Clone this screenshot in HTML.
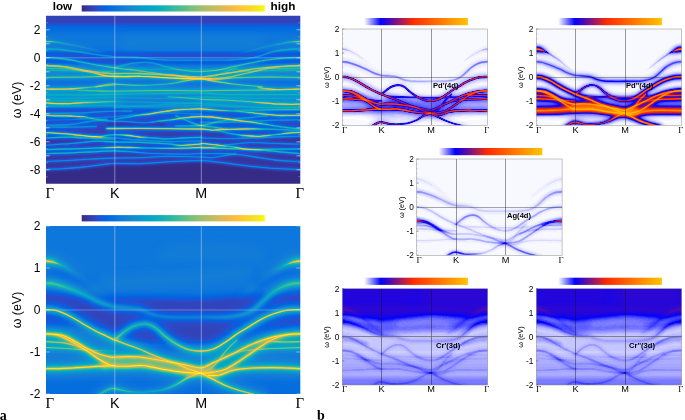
<!DOCTYPE html>
<html><head><meta charset="utf-8"><title>Spectral functions</title>
<style>html,body{margin:0;padding:0;background:#fff}svg{display:block}text{font-family:"Liberation Sans",sans-serif;fill:#000}.se{font-family:"Liberation Serif",serif}</style>
</head><body>
<svg width="685" height="420" viewBox="0 0 685 420">
<defs>
<linearGradient id="cbp" x1="0" y1="0" x2="1" y2="0"><stop offset="0.0000" stop-color="#352a87"/><stop offset="0.0317" stop-color="#3637a0"/><stop offset="0.0635" stop-color="#3243ba"/><stop offset="0.0952" stop-color="#2053d4"/><stop offset="0.1270" stop-color="#0363e1"/><stop offset="0.1587" stop-color="#046de0"/><stop offset="0.1905" stop-color="#0d75dc"/><stop offset="0.2222" stop-color="#127dd8"/><stop offset="0.2540" stop-color="#1485d4"/><stop offset="0.2857" stop-color="#108ed2"/><stop offset="0.3175" stop-color="#0998d1"/><stop offset="0.3492" stop-color="#06a0cd"/><stop offset="0.3810" stop-color="#06a7c6"/><stop offset="0.4127" stop-color="#0aacbe"/><stop offset="0.4444" stop-color="#15b1b4"/><stop offset="0.4762" stop-color="#25b5a9"/><stop offset="0.5238" stop-color="#42bb98"/><stop offset="0.5556" stop-color="#59bd8c"/><stop offset="0.5873" stop-color="#71bf80"/><stop offset="0.6190" stop-color="#87bf77"/><stop offset="0.6508" stop-color="#9cbf6f"/><stop offset="0.6825" stop-color="#aebe67"/><stop offset="0.7143" stop-color="#c0bc60"/><stop offset="0.7460" stop-color="#d1bb59"/><stop offset="0.7778" stop-color="#e1b952"/><stop offset="0.8095" stop-color="#f1b94a"/><stop offset="0.8413" stop-color="#fdbe3d"/><stop offset="0.8730" stop-color="#fec832"/><stop offset="0.9048" stop-color="#fad32a"/><stop offset="0.9365" stop-color="#f5de21"/><stop offset="0.9683" stop-color="#f5eb18"/><stop offset="1.0000" stop-color="#f9fb0e"/></linearGradient>
<filter id="cm_a1" filterUnits="userSpaceOnUse" x="44.00" y="13.80" width="258.30" height="172.00" color-interpolation-filters="sRGB"><feComponentTransfer><feFuncR type="table" tableValues="0.2081 0.2116 0.2123 0.2081 0.1959 0.1707 0.1253 0.0591 0.0117 0.0060 0.0165 0.0329 0.0498 0.0629 0.0723 0.0779 0.0793 0.0749 0.0641 0.0488 0.0343 0.0265 0.0239 0.0231 0.0228 0.0267 0.0384 0.0590 0.0843 0.1133 0.1453 0.1801 0.2178 0.2586 0.3022 0.3482 0.3953 0.4420 0.4871 0.5300 0.5709 0.6099 0.6473 0.6834 0.7184 0.7525 0.7858 0.8185 0.8507 0.8824 0.9139 0.9450 0.9739 0.9938 0.9990 0.9955 0.9880 0.9789 0.9697 0.9626 0.9589 0.9598 0.9661 0.9763"/><feFuncG type="table" tableValues="0.1663 0.1898 0.2138 0.2386 0.2645 0.2919 0.3242 0.3598 0.3875 0.4086 0.4266 0.4430 0.4586 0.4737 0.4887 0.5040 0.5200 0.5375 0.5570 0.5772 0.5966 0.6137 0.6287 0.6418 0.6535 0.6642 0.6743 0.6838 0.6928 0.7015 0.7098 0.7177 0.7250 0.7317 0.7376 0.7424 0.7459 0.7481 0.7491 0.7491 0.7485 0.7473 0.7456 0.7435 0.7411 0.7384 0.7356 0.7327 0.7299 0.7274 0.7258 0.7261 0.7314 0.7455 0.7653 0.7861 0.8066 0.8271 0.8481 0.8705 0.8949 0.9218 0.9514 0.9831"/><feFuncB type="table" tableValues="0.5292 0.5777 0.6270 0.6771 0.7279 0.7792 0.8303 0.8683 0.8820 0.8828 0.8786 0.8720 0.8641 0.8554 0.8467 0.8384 0.8312 0.8263 0.8240 0.8228 0.8199 0.8135 0.8038 0.7913 0.7768 0.7607 0.7436 0.7254 0.7062 0.6859 0.6646 0.6424 0.6193 0.5954 0.5712 0.5473 0.5244 0.5033 0.4840 0.4661 0.4494 0.4337 0.4188 0.4044 0.3905 0.3768 0.3633 0.3498 0.3360 0.3217 0.3063 0.2886 0.2666 0.2403 0.2164 0.1967 0.1794 0.1633 0.1475 0.1309 0.1132 0.0948 0.0755 0.0538"/></feComponentTransfer></filter>
<clipPath id="cp_a1"><rect x="46.00" y="15.80" width="254.30" height="168.00"/></clipPath>
<filter id="bf_a1_0" filterUnits="userSpaceOnUse" x="-14.0" y="-44.2" width="374.3" height="288.0" color-interpolation-filters="sRGB"><feGaussianBlur stdDeviation="1.50 1.50"/></filter>
<filter id="bf_a1_1" filterUnits="userSpaceOnUse" x="-14.0" y="-44.2" width="374.3" height="288.0" color-interpolation-filters="sRGB"><feGaussianBlur stdDeviation="3.00 3.00"/></filter>
<filter id="bf_a1_2" filterUnits="userSpaceOnUse" x="-14.0" y="-44.2" width="374.3" height="288.0" color-interpolation-filters="sRGB"><feGaussianBlur stdDeviation="5.00 5.00"/></filter>
<filter id="bf_a1_3" filterUnits="userSpaceOnUse" x="-14.0" y="-44.2" width="374.3" height="288.0" color-interpolation-filters="sRGB"><feGaussianBlur stdDeviation="1.30 1.30"/></filter>
<filter id="bf_a1_4" filterUnits="userSpaceOnUse" x="-14.0" y="-44.2" width="374.3" height="288.0" color-interpolation-filters="sRGB"><feGaussianBlur stdDeviation="1.50 1.50"/></filter>
<filter id="bf_a1_5" filterUnits="userSpaceOnUse" x="-14.0" y="-44.2" width="374.3" height="288.0" color-interpolation-filters="sRGB"><feGaussianBlur stdDeviation="2.50 2.50"/></filter>
<filter id="bf_a1_6" filterUnits="userSpaceOnUse" x="-14.0" y="-44.2" width="374.3" height="288.0" color-interpolation-filters="sRGB"><feGaussianBlur stdDeviation="2.50 2.50"/></filter>
<filter id="bf_a1_7" filterUnits="userSpaceOnUse" x="-14.0" y="-44.2" width="374.3" height="288.0" color-interpolation-filters="sRGB"><feGaussianBlur stdDeviation="4.00 4.00"/></filter>
<filter id="bf_a1_8" filterUnits="userSpaceOnUse" x="-14.0" y="-44.2" width="374.3" height="288.0" color-interpolation-filters="sRGB"><feGaussianBlur stdDeviation="1.50 1.50"/></filter>
<filter id="bf_a1_9" filterUnits="userSpaceOnUse" x="-14.0" y="-44.2" width="374.3" height="288.0" color-interpolation-filters="sRGB"><feGaussianBlur stdDeviation="3.00 3.00"/></filter>
<filter id="bf_a1_10" filterUnits="userSpaceOnUse" x="-14.0" y="-44.2" width="374.3" height="288.0" color-interpolation-filters="sRGB"><feGaussianBlur stdDeviation="1.60 1.60"/></filter>
<filter id="bf_a1_11" filterUnits="userSpaceOnUse" x="-14.0" y="-44.2" width="374.3" height="288.0" color-interpolation-filters="sRGB"><feGaussianBlur stdDeviation="1.20 1.20"/></filter>
<filter id="bf_a1_12" filterUnits="userSpaceOnUse" x="-14.0" y="-44.2" width="374.3" height="288.0" color-interpolation-filters="sRGB"><feGaussianBlur stdDeviation="1.20 1.20"/></filter>
<filter id="bf_a1_13" filterUnits="userSpaceOnUse" x="-14.0" y="-44.2" width="374.3" height="288.0" color-interpolation-filters="sRGB"><feGaussianBlur stdDeviation="1.00 1.00"/></filter>
<filter id="bf_a1_14" filterUnits="userSpaceOnUse" x="-14.0" y="-44.2" width="374.3" height="288.0" color-interpolation-filters="sRGB"><feGaussianBlur stdDeviation="1.00 1.00"/></filter>
<filter id="bl_a1_0" filterUnits="userSpaceOnUse" x="16.0" y="-14.2" width="314.3" height="228.0" color-interpolation-filters="sRGB"><feGaussianBlur stdDeviation="2.50"/></filter>
<linearGradient id="g_a1_b1" gradientUnits="userSpaceOnUse" x1="46.00" y1="0" x2="300.30" y2="0"><stop offset="0.000" stop-color="#fff" stop-opacity="0.360"/><stop offset="0.271" stop-color="#fff" stop-opacity="0.360"/><stop offset="0.450" stop-color="#fff" stop-opacity="0.360"/><stop offset="0.611" stop-color="#fff" stop-opacity="0.720"/><stop offset="0.750" stop-color="#fff" stop-opacity="0.400"/><stop offset="0.900" stop-color="#fff" stop-opacity="0.360"/></linearGradient>
<linearGradient id="g_a1_b2" gradientUnits="userSpaceOnUse" x1="46.00" y1="0" x2="300.30" y2="0"><stop offset="0.271" stop-color="#fff" stop-opacity="0.240"/><stop offset="0.450" stop-color="#fff" stop-opacity="0.200"/><stop offset="0.611" stop-color="#fff" stop-opacity="0.360"/><stop offset="1.000" stop-color="#fff" stop-opacity="0.400"/></linearGradient>
<linearGradient id="g_a1_b3" gradientUnits="userSpaceOnUse" x1="46.00" y1="0" x2="300.30" y2="0"><stop offset="0.000" stop-color="#fff" stop-opacity="0.620"/><stop offset="0.100" stop-color="#fff" stop-opacity="0.460"/><stop offset="0.271" stop-color="#fff" stop-opacity="0.520"/><stop offset="0.450" stop-color="#fff" stop-opacity="0.500"/><stop offset="0.611" stop-color="#fff" stop-opacity="0.620"/><stop offset="0.900" stop-color="#fff" stop-opacity="0.460"/><stop offset="1.000" stop-color="#fff" stop-opacity="0.620"/></linearGradient>
<linearGradient id="g_a1_b4" gradientUnits="userSpaceOnUse" x1="46.00" y1="0" x2="300.30" y2="0"><stop offset="0.000" stop-color="#fff" stop-opacity="0.350"/><stop offset="0.150" stop-color="#fff" stop-opacity="0.420"/><stop offset="0.230" stop-color="#fff" stop-opacity="0.800"/><stop offset="0.271" stop-color="#fff" stop-opacity="0.900"/><stop offset="0.450" stop-color="#fff" stop-opacity="0.850"/><stop offset="0.611" stop-color="#fff" stop-opacity="0.920"/><stop offset="0.700" stop-color="#fff" stop-opacity="0.500"/><stop offset="1.000" stop-color="#fff" stop-opacity="0.350"/></linearGradient>
<linearGradient id="g_a1_b5a" gradientUnits="userSpaceOnUse" x1="46.00" y1="0" x2="300.30" y2="0"><stop offset="0.000" stop-color="#fff" stop-opacity="0.420"/><stop offset="1.000" stop-color="#fff" stop-opacity="0.420"/></linearGradient>
<linearGradient id="g_a1_b5b" gradientUnits="userSpaceOnUse" x1="46.00" y1="0" x2="300.30" y2="0"><stop offset="0.000" stop-color="#fff" stop-opacity="0.420"/><stop offset="1.000" stop-color="#fff" stop-opacity="0.420"/></linearGradient>
<linearGradient id="g_a1_b6a" gradientUnits="userSpaceOnUse" x1="46.00" y1="0" x2="300.30" y2="0"><stop offset="0.000" stop-color="#fff" stop-opacity="0.250"/><stop offset="1.000" stop-color="#fff" stop-opacity="0.250"/></linearGradient>
<linearGradient id="g_a1_b6b" gradientUnits="userSpaceOnUse" x1="46.00" y1="0" x2="300.30" y2="0"><stop offset="0.000" stop-color="#fff" stop-opacity="0.250"/><stop offset="1.000" stop-color="#fff" stop-opacity="0.250"/></linearGradient>
<linearGradient id="g_a1_b7a" gradientUnits="userSpaceOnUse" x1="46.00" y1="0" x2="300.30" y2="0"><stop offset="0.000" stop-color="#fff" stop-opacity="0.200"/><stop offset="1.000" stop-color="#fff" stop-opacity="0.200"/></linearGradient>
<linearGradient id="g_a1_b7b" gradientUnits="userSpaceOnUse" x1="46.00" y1="0" x2="300.30" y2="0"><stop offset="0.000" stop-color="#fff" stop-opacity="0.200"/><stop offset="1.000" stop-color="#fff" stop-opacity="0.200"/></linearGradient>
<linearGradient id="g_a1_b8" gradientUnits="userSpaceOnUse" x1="46.00" y1="0" x2="300.30" y2="0"><stop offset="0.200" stop-color="#fff" stop-opacity="0.420"/><stop offset="0.271" stop-color="#fff" stop-opacity="0.420"/><stop offset="0.450" stop-color="#fff" stop-opacity="0.300"/><stop offset="0.611" stop-color="#fff" stop-opacity="0.550"/></linearGradient>
<linearGradient id="g_a1_b9" gradientUnits="userSpaceOnUse" x1="46.00" y1="0" x2="300.30" y2="0"><stop offset="0.000" stop-color="#fff" stop-opacity="0.160"/><stop offset="1.000" stop-color="#fff" stop-opacity="0.160"/></linearGradient>
<linearGradient id="g_a1_b10a" gradientUnits="userSpaceOnUse" x1="46.00" y1="0" x2="300.30" y2="0"><stop offset="0.000" stop-color="#fff" stop-opacity="0.550"/><stop offset="0.040" stop-color="#fff" stop-opacity="0.300"/><stop offset="0.100" stop-color="#fff" stop-opacity="0.140"/><stop offset="0.270" stop-color="#fff" stop-opacity="0.000"/></linearGradient>
<linearGradient id="g_a1_b10b" gradientUnits="userSpaceOnUse" x1="46.00" y1="0" x2="300.30" y2="0"><stop offset="0.730" stop-color="#fff" stop-opacity="0.000"/><stop offset="0.900" stop-color="#fff" stop-opacity="0.140"/><stop offset="0.960" stop-color="#fff" stop-opacity="0.300"/><stop offset="1.000" stop-color="#fff" stop-opacity="0.550"/></linearGradient>
<linearGradient id="g_a1_b11" gradientUnits="userSpaceOnUse" x1="46.00" y1="0" x2="300.30" y2="0"><stop offset="0.000" stop-color="#fff" stop-opacity="0.280"/><stop offset="0.100" stop-color="#fff" stop-opacity="0.200"/><stop offset="0.271" stop-color="#fff" stop-opacity="0.200"/><stop offset="0.450" stop-color="#fff" stop-opacity="0.200"/><stop offset="0.611" stop-color="#fff" stop-opacity="0.200"/><stop offset="0.800" stop-color="#fff" stop-opacity="0.200"/><stop offset="0.900" stop-color="#fff" stop-opacity="0.200"/><stop offset="1.000" stop-color="#fff" stop-opacity="0.280"/></linearGradient>
<linearGradient id="g_a1_b12" gradientUnits="userSpaceOnUse" x1="46.00" y1="0" x2="300.30" y2="0"><stop offset="0.280" stop-color="#fff" stop-opacity="0.000"/><stop offset="0.360" stop-color="#fff" stop-opacity="0.120"/><stop offset="0.740" stop-color="#fff" stop-opacity="0.120"/><stop offset="0.820" stop-color="#fff" stop-opacity="0.000"/></linearGradient>
<linearGradient id="g_a1_L1" gradientUnits="userSpaceOnUse" x1="46.00" y1="0" x2="300.30" y2="0"><stop offset="0.000" stop-color="#fff" stop-opacity="0.740"/><stop offset="0.100" stop-color="#fff" stop-opacity="0.740"/><stop offset="0.160" stop-color="#fff" stop-opacity="0.370"/><stop offset="0.271" stop-color="#fff" stop-opacity="0.370"/></linearGradient>
<linearGradient id="g_a1_L1b" gradientUnits="userSpaceOnUse" x1="46.00" y1="0" x2="300.30" y2="0"><stop offset="0.830" stop-color="#fff" stop-opacity="0.370"/><stop offset="0.900" stop-color="#fff" stop-opacity="0.740"/><stop offset="1.000" stop-color="#fff" stop-opacity="0.740"/></linearGradient>
<linearGradient id="g_a1_L2" gradientUnits="userSpaceOnUse" x1="46.00" y1="0" x2="300.30" y2="0"><stop offset="0.100" stop-color="#fff" stop-opacity="0.200"/><stop offset="0.200" stop-color="#fff" stop-opacity="0.370"/><stop offset="0.271" stop-color="#fff" stop-opacity="0.370"/><stop offset="0.611" stop-color="#fff" stop-opacity="0.370"/><stop offset="0.900" stop-color="#fff" stop-opacity="0.370"/></linearGradient>
<linearGradient id="g_a1_L3" gradientUnits="userSpaceOnUse" x1="46.00" y1="0" x2="300.30" y2="0"><stop offset="0.000" stop-color="#fff" stop-opacity="0.200"/><stop offset="1.000" stop-color="#fff" stop-opacity="0.200"/></linearGradient>
<linearGradient id="g_a1_L4a" gradientUnits="userSpaceOnUse" x1="46.00" y1="0" x2="300.30" y2="0"><stop offset="0.000" stop-color="#fff" stop-opacity="0.800"/><stop offset="0.120" stop-color="#fff" stop-opacity="0.750"/><stop offset="0.190" stop-color="#fff" stop-opacity="0.370"/><stop offset="0.271" stop-color="#fff" stop-opacity="0.200"/></linearGradient>
<linearGradient id="g_a1_L4b" gradientUnits="userSpaceOnUse" x1="46.00" y1="0" x2="300.30" y2="0"><stop offset="0.450" stop-color="#fff" stop-opacity="0.200"/><stop offset="0.611" stop-color="#fff" stop-opacity="0.370"/><stop offset="0.800" stop-color="#fff" stop-opacity="0.370"/><stop offset="0.880" stop-color="#fff" stop-opacity="0.740"/><stop offset="1.000" stop-color="#fff" stop-opacity="0.740"/></linearGradient>
<linearGradient id="g_a1_L5" gradientUnits="userSpaceOnUse" x1="46.00" y1="0" x2="300.30" y2="0"><stop offset="0.000" stop-color="#fff" stop-opacity="0.120"/><stop offset="1.000" stop-color="#fff" stop-opacity="0.120"/></linearGradient>
<linearGradient id="g_a1_L7" gradientUnits="userSpaceOnUse" x1="46.00" y1="0" x2="300.30" y2="0"><stop offset="0.000" stop-color="#fff" stop-opacity="0.200"/><stop offset="1.000" stop-color="#fff" stop-opacity="0.200"/></linearGradient>
<linearGradient id="g_a1_L7b" gradientUnits="userSpaceOnUse" x1="46.00" y1="0" x2="300.30" y2="0"><stop offset="0.740" stop-color="#fff" stop-opacity="0.200"/><stop offset="0.850" stop-color="#fff" stop-opacity="0.370"/><stop offset="1.000" stop-color="#fff" stop-opacity="0.370"/></linearGradient>
<linearGradient id="g_a1_L6" gradientUnits="userSpaceOnUse" x1="46.00" y1="0" x2="300.30" y2="0"><stop offset="0.000" stop-color="#fff" stop-opacity="0.740"/><stop offset="0.130" stop-color="#fff" stop-opacity="0.740"/><stop offset="0.170" stop-color="#fff" stop-opacity="0.370"/><stop offset="0.271" stop-color="#fff" stop-opacity="0.200"/><stop offset="0.400" stop-color="#fff" stop-opacity="0.200"/><stop offset="0.450" stop-color="#fff" stop-opacity="0.370"/><stop offset="0.611" stop-color="#fff" stop-opacity="0.800"/><stop offset="0.750" stop-color="#fff" stop-opacity="0.800"/><stop offset="0.900" stop-color="#fff" stop-opacity="0.370"/><stop offset="1.000" stop-color="#fff" stop-opacity="0.370"/></linearGradient>
<linearGradient id="g_a1_L8" gradientUnits="userSpaceOnUse" x1="46.00" y1="0" x2="300.30" y2="0"><stop offset="0.271" stop-color="#fff" stop-opacity="0.200"/><stop offset="0.350" stop-color="#fff" stop-opacity="0.370"/><stop offset="0.420" stop-color="#fff" stop-opacity="0.740"/><stop offset="0.611" stop-color="#fff" stop-opacity="0.740"/><stop offset="0.750" stop-color="#fff" stop-opacity="0.370"/><stop offset="0.870" stop-color="#fff" stop-opacity="0.740"/><stop offset="1.000" stop-color="#fff" stop-opacity="0.740"/></linearGradient>
<linearGradient id="g_a1_L9" gradientUnits="userSpaceOnUse" x1="46.00" y1="0" x2="300.30" y2="0"><stop offset="0.000" stop-color="#fff" stop-opacity="0.200"/><stop offset="1.000" stop-color="#fff" stop-opacity="0.200"/></linearGradient>
<linearGradient id="g_a1_L10" gradientUnits="userSpaceOnUse" x1="46.00" y1="0" x2="300.30" y2="0"><stop offset="0.230" stop-color="#fff" stop-opacity="0.000"/><stop offset="0.245" stop-color="#fff" stop-opacity="0.740"/><stop offset="0.611" stop-color="#fff" stop-opacity="0.740"/><stop offset="0.800" stop-color="#fff" stop-opacity="0.740"/><stop offset="0.860" stop-color="#fff" stop-opacity="0.370"/><stop offset="1.000" stop-color="#fff" stop-opacity="0.200"/></linearGradient>
<linearGradient id="g_a1_L11" gradientUnits="userSpaceOnUse" x1="46.00" y1="0" x2="300.30" y2="0"><stop offset="0.000" stop-color="#fff" stop-opacity="0.200"/><stop offset="1.000" stop-color="#fff" stop-opacity="0.200"/></linearGradient>
<linearGradient id="g_a1_L12" gradientUnits="userSpaceOnUse" x1="46.00" y1="0" x2="300.30" y2="0"><stop offset="0.500" stop-color="#fff" stop-opacity="0.200"/><stop offset="0.611" stop-color="#fff" stop-opacity="0.370"/><stop offset="0.680" stop-color="#fff" stop-opacity="0.370"/></linearGradient>
<linearGradient id="g_a1_L12b" gradientUnits="userSpaceOnUse" x1="46.00" y1="0" x2="300.30" y2="0"><stop offset="0.500" stop-color="#fff" stop-opacity="0.200"/><stop offset="0.611" stop-color="#fff" stop-opacity="0.370"/><stop offset="0.800" stop-color="#fff" stop-opacity="0.200"/></linearGradient>
<linearGradient id="g_a1_L13" gradientUnits="userSpaceOnUse" x1="46.00" y1="0" x2="300.30" y2="0"><stop offset="0.000" stop-color="#fff" stop-opacity="0.740"/><stop offset="0.100" stop-color="#fff" stop-opacity="0.740"/><stop offset="0.200" stop-color="#fff" stop-opacity="1.000"/><stop offset="0.230" stop-color="#fff" stop-opacity="0.370"/><stop offset="0.271" stop-color="#fff" stop-opacity="0.200"/><stop offset="0.611" stop-color="#fff" stop-opacity="0.200"/></linearGradient>
<linearGradient id="g_a1_L13b" gradientUnits="userSpaceOnUse" x1="46.00" y1="0" x2="300.30" y2="0"><stop offset="0.200" stop-color="#fff" stop-opacity="0.370"/><stop offset="0.271" stop-color="#fff" stop-opacity="0.370"/><stop offset="0.320" stop-color="#fff" stop-opacity="0.740"/><stop offset="0.360" stop-color="#fff" stop-opacity="0.740"/><stop offset="0.400" stop-color="#fff" stop-opacity="0.370"/><stop offset="0.611" stop-color="#fff" stop-opacity="0.370"/></linearGradient>
<linearGradient id="g_a1_L13c" gradientUnits="userSpaceOnUse" x1="46.00" y1="0" x2="300.30" y2="0"><stop offset="0.680" stop-color="#fff" stop-opacity="0.200"/><stop offset="0.750" stop-color="#fff" stop-opacity="0.370"/><stop offset="0.800" stop-color="#fff" stop-opacity="0.740"/><stop offset="0.860" stop-color="#fff" stop-opacity="0.740"/><stop offset="0.900" stop-color="#fff" stop-opacity="0.370"/><stop offset="0.950" stop-color="#fff" stop-opacity="0.740"/><stop offset="1.000" stop-color="#fff" stop-opacity="0.740"/></linearGradient>
<linearGradient id="g_a1_L14" gradientUnits="userSpaceOnUse" x1="46.00" y1="0" x2="300.30" y2="0"><stop offset="0.000" stop-color="#fff" stop-opacity="0.370"/><stop offset="0.120" stop-color="#fff" stop-opacity="0.370"/><stop offset="0.271" stop-color="#fff" stop-opacity="0.200"/></linearGradient>
<linearGradient id="g_a1_L14b" gradientUnits="userSpaceOnUse" x1="46.00" y1="0" x2="300.30" y2="0"><stop offset="0.000" stop-color="#fff" stop-opacity="0.200"/><stop offset="1.000" stop-color="#fff" stop-opacity="0.200"/></linearGradient>
<linearGradient id="g_a1_L15" gradientUnits="userSpaceOnUse" x1="46.00" y1="0" x2="300.30" y2="0"><stop offset="0.000" stop-color="#fff" stop-opacity="0.200"/><stop offset="0.271" stop-color="#fff" stop-opacity="0.370"/><stop offset="0.500" stop-color="#fff" stop-opacity="0.370"/><stop offset="0.550" stop-color="#fff" stop-opacity="0.740"/><stop offset="0.611" stop-color="#fff" stop-opacity="0.740"/></linearGradient>
<linearGradient id="g_a1_L15c" gradientUnits="userSpaceOnUse" x1="46.00" y1="0" x2="300.30" y2="0"><stop offset="0.000" stop-color="#fff" stop-opacity="0.200"/><stop offset="1.000" stop-color="#fff" stop-opacity="0.200"/></linearGradient>
<linearGradient id="g_a1_L16" gradientUnits="userSpaceOnUse" x1="46.00" y1="0" x2="300.30" y2="0"><stop offset="0.000" stop-color="#fff" stop-opacity="0.370"/><stop offset="0.200" stop-color="#fff" stop-opacity="0.370"/><stop offset="0.271" stop-color="#fff" stop-opacity="0.740"/><stop offset="0.320" stop-color="#fff" stop-opacity="0.740"/><stop offset="0.400" stop-color="#fff" stop-opacity="0.370"/><stop offset="0.611" stop-color="#fff" stop-opacity="0.750"/><stop offset="0.750" stop-color="#fff" stop-opacity="0.370"/><stop offset="1.000" stop-color="#fff" stop-opacity="0.370"/></linearGradient>
<linearGradient id="g_a1_L17" gradientUnits="userSpaceOnUse" x1="46.00" y1="0" x2="300.30" y2="0"><stop offset="0.000" stop-color="#fff" stop-opacity="0.370"/><stop offset="0.271" stop-color="#fff" stop-opacity="0.370"/><stop offset="0.400" stop-color="#fff" stop-opacity="0.200"/><stop offset="0.611" stop-color="#fff" stop-opacity="0.200"/></linearGradient>
<linearGradient id="g_a1_L17b" gradientUnits="userSpaceOnUse" x1="46.00" y1="0" x2="300.30" y2="0"><stop offset="0.611" stop-color="#fff" stop-opacity="0.740"/><stop offset="0.680" stop-color="#fff" stop-opacity="0.740"/><stop offset="0.720" stop-color="#fff" stop-opacity="0.370"/><stop offset="0.770" stop-color="#fff" stop-opacity="0.740"/><stop offset="0.820" stop-color="#fff" stop-opacity="0.740"/><stop offset="0.860" stop-color="#fff" stop-opacity="0.370"/><stop offset="1.000" stop-color="#fff" stop-opacity="0.370"/></linearGradient>
<linearGradient id="g_a1_L18" gradientUnits="userSpaceOnUse" x1="46.00" y1="0" x2="300.30" y2="0"><stop offset="0.000" stop-color="#fff" stop-opacity="0.200"/><stop offset="1.000" stop-color="#fff" stop-opacity="0.200"/></linearGradient>
<linearGradient id="g_a1_L18b" gradientUnits="userSpaceOnUse" x1="46.00" y1="0" x2="300.30" y2="0"><stop offset="0.000" stop-color="#fff" stop-opacity="0.200"/><stop offset="1.000" stop-color="#fff" stop-opacity="0.200"/></linearGradient>
<linearGradient id="g_a1_L19" gradientUnits="userSpaceOnUse" x1="46.00" y1="0" x2="300.30" y2="0"><stop offset="0.000" stop-color="#fff" stop-opacity="0.200"/><stop offset="1.000" stop-color="#fff" stop-opacity="0.200"/></linearGradient>
<linearGradient id="g_a1_F1" gradientUnits="userSpaceOnUse" x1="46.00" y1="0" x2="300.30" y2="0"><stop offset="0.000" stop-color="#fff" stop-opacity="0.120"/><stop offset="1.000" stop-color="#fff" stop-opacity="0.120"/></linearGradient>
<linearGradient id="g_a1_F2" gradientUnits="userSpaceOnUse" x1="46.00" y1="0" x2="300.30" y2="0"><stop offset="0.000" stop-color="#fff" stop-opacity="0.120"/><stop offset="1.000" stop-color="#fff" stop-opacity="0.120"/></linearGradient>
<linearGradient id="g_a1_F3" gradientUnits="userSpaceOnUse" x1="46.00" y1="0" x2="300.30" y2="0"><stop offset="0.000" stop-color="#fff" stop-opacity="0.120"/><stop offset="1.000" stop-color="#fff" stop-opacity="0.120"/></linearGradient>
<linearGradient id="g_a1_F4" gradientUnits="userSpaceOnUse" x1="46.00" y1="0" x2="300.30" y2="0"><stop offset="0.000" stop-color="#fff" stop-opacity="0.120"/><stop offset="1.000" stop-color="#fff" stop-opacity="0.120"/></linearGradient>
<linearGradient id="g_a1_F5" gradientUnits="userSpaceOnUse" x1="46.00" y1="0" x2="300.30" y2="0"><stop offset="0.000" stop-color="#fff" stop-opacity="0.200"/><stop offset="1.000" stop-color="#fff" stop-opacity="0.200"/></linearGradient>
<filter id="bl_a1_1" filterUnits="userSpaceOnUse" x="16.0" y="-14.2" width="314.3" height="228.0" color-interpolation-filters="sRGB"><feGaussianBlur stdDeviation="0.90"/></filter>
<filter id="bl_a1_2" filterUnits="userSpaceOnUse" x="16.0" y="-14.2" width="314.3" height="228.0" color-interpolation-filters="sRGB"><feGaussianBlur stdDeviation="0.50"/></filter>
<filter id="cm_a2" filterUnits="userSpaceOnUse" x="44.00" y="224.00" width="258.30" height="172.00" color-interpolation-filters="sRGB"><feComponentTransfer><feFuncR type="table" tableValues="0.2081 0.2116 0.2123 0.2081 0.1959 0.1707 0.1253 0.0591 0.0117 0.0060 0.0165 0.0329 0.0498 0.0629 0.0723 0.0779 0.0793 0.0749 0.0641 0.0488 0.0343 0.0265 0.0239 0.0231 0.0228 0.0267 0.0384 0.0590 0.0843 0.1133 0.1453 0.1801 0.2178 0.2586 0.3022 0.3482 0.3953 0.4420 0.4871 0.5300 0.5709 0.6099 0.6473 0.6834 0.7184 0.7525 0.7858 0.8185 0.8507 0.8824 0.9139 0.9450 0.9739 0.9938 0.9990 0.9955 0.9880 0.9789 0.9697 0.9626 0.9589 0.9598 0.9661 0.9763"/><feFuncG type="table" tableValues="0.1663 0.1898 0.2138 0.2386 0.2645 0.2919 0.3242 0.3598 0.3875 0.4086 0.4266 0.4430 0.4586 0.4737 0.4887 0.5040 0.5200 0.5375 0.5570 0.5772 0.5966 0.6137 0.6287 0.6418 0.6535 0.6642 0.6743 0.6838 0.6928 0.7015 0.7098 0.7177 0.7250 0.7317 0.7376 0.7424 0.7459 0.7481 0.7491 0.7491 0.7485 0.7473 0.7456 0.7435 0.7411 0.7384 0.7356 0.7327 0.7299 0.7274 0.7258 0.7261 0.7314 0.7455 0.7653 0.7861 0.8066 0.8271 0.8481 0.8705 0.8949 0.9218 0.9514 0.9831"/><feFuncB type="table" tableValues="0.5292 0.5777 0.6270 0.6771 0.7279 0.7792 0.8303 0.8683 0.8820 0.8828 0.8786 0.8720 0.8641 0.8554 0.8467 0.8384 0.8312 0.8263 0.8240 0.8228 0.8199 0.8135 0.8038 0.7913 0.7768 0.7607 0.7436 0.7254 0.7062 0.6859 0.6646 0.6424 0.6193 0.5954 0.5712 0.5473 0.5244 0.5033 0.4840 0.4661 0.4494 0.4337 0.4188 0.4044 0.3905 0.3768 0.3633 0.3498 0.3360 0.3217 0.3063 0.2886 0.2666 0.2403 0.2164 0.1967 0.1794 0.1633 0.1475 0.1309 0.1132 0.0948 0.0755 0.0538"/></feComponentTransfer></filter>
<clipPath id="cp_a2"><rect x="46.00" y="226.00" width="254.30" height="168.00"/></clipPath>
<filter id="bf_a2_0" filterUnits="userSpaceOnUse" x="-14.0" y="166.0" width="374.3" height="288.0" color-interpolation-filters="sRGB"><feGaussianBlur stdDeviation="3.50 3.50"/></filter>
<filter id="bf_a2_1" filterUnits="userSpaceOnUse" x="-14.0" y="166.0" width="374.3" height="288.0" color-interpolation-filters="sRGB"><feGaussianBlur stdDeviation="4.00 4.00"/></filter>
<filter id="bf_a2_2" filterUnits="userSpaceOnUse" x="-14.0" y="166.0" width="374.3" height="288.0" color-interpolation-filters="sRGB"><feGaussianBlur stdDeviation="3.00 3.00"/></filter>
<filter id="bf_a2_3" filterUnits="userSpaceOnUse" x="-14.0" y="166.0" width="374.3" height="288.0" color-interpolation-filters="sRGB"><feGaussianBlur stdDeviation="3.00 3.00"/></filter>
<filter id="bf_a2_4" filterUnits="userSpaceOnUse" x="-14.0" y="166.0" width="374.3" height="288.0" color-interpolation-filters="sRGB"><feGaussianBlur stdDeviation="4.00 4.00"/></filter>
<filter id="bf_a2_5" filterUnits="userSpaceOnUse" x="-14.0" y="166.0" width="374.3" height="288.0" color-interpolation-filters="sRGB"><feGaussianBlur stdDeviation="3.00 3.00"/></filter>
<filter id="bf_a2_6" filterUnits="userSpaceOnUse" x="-14.0" y="166.0" width="374.3" height="288.0" color-interpolation-filters="sRGB"><feGaussianBlur stdDeviation="2.20 2.20"/></filter>
<filter id="bl_a2_0" filterUnits="userSpaceOnUse" x="16.0" y="196.0" width="314.3" height="228.0" color-interpolation-filters="sRGB"><feGaussianBlur stdDeviation="5.00"/></filter>
<linearGradient id="g_a2_b1" gradientUnits="userSpaceOnUse" x1="46.00" y1="0" x2="300.30" y2="0"><stop offset="0.000" stop-color="#fff" stop-opacity="0.800"/><stop offset="0.271" stop-color="#fff" stop-opacity="0.750"/><stop offset="0.360" stop-color="#fff" stop-opacity="0.620"/><stop offset="0.500" stop-color="#fff" stop-opacity="0.620"/><stop offset="0.611" stop-color="#fff" stop-opacity="0.950"/><stop offset="0.750" stop-color="#fff" stop-opacity="0.700"/><stop offset="0.900" stop-color="#fff" stop-opacity="0.500"/></linearGradient>
<linearGradient id="g_a2_b2" gradientUnits="userSpaceOnUse" x1="46.00" y1="0" x2="300.30" y2="0"><stop offset="0.271" stop-color="#fff" stop-opacity="0.360"/><stop offset="0.400" stop-color="#fff" stop-opacity="0.320"/><stop offset="0.500" stop-color="#fff" stop-opacity="0.420"/><stop offset="0.611" stop-color="#fff" stop-opacity="0.750"/><stop offset="0.800" stop-color="#fff" stop-opacity="0.850"/><stop offset="1.000" stop-color="#fff" stop-opacity="0.850"/></linearGradient>
<linearGradient id="g_a2_b3" gradientUnits="userSpaceOnUse" x1="46.00" y1="0" x2="300.30" y2="0"><stop offset="0.000" stop-color="#fff" stop-opacity="1.000"/><stop offset="0.100" stop-color="#fff" stop-opacity="0.950"/><stop offset="0.200" stop-color="#fff" stop-opacity="0.850"/><stop offset="0.271" stop-color="#fff" stop-opacity="0.900"/><stop offset="0.450" stop-color="#fff" stop-opacity="0.850"/><stop offset="0.611" stop-color="#fff" stop-opacity="0.850"/><stop offset="0.800" stop-color="#fff" stop-opacity="0.850"/><stop offset="0.900" stop-color="#fff" stop-opacity="0.950"/><stop offset="1.000" stop-color="#fff" stop-opacity="1.000"/></linearGradient>
<linearGradient id="g_a2_b4" gradientUnits="userSpaceOnUse" x1="46.00" y1="0" x2="300.30" y2="0"><stop offset="0.000" stop-color="#fff" stop-opacity="0.500"/><stop offset="0.120" stop-color="#fff" stop-opacity="0.750"/><stop offset="0.220" stop-color="#fff" stop-opacity="1.000"/><stop offset="0.271" stop-color="#fff" stop-opacity="1.000"/><stop offset="0.420" stop-color="#fff" stop-opacity="1.000"/><stop offset="0.500" stop-color="#fff" stop-opacity="0.950"/><stop offset="0.611" stop-color="#fff" stop-opacity="1.000"/><stop offset="0.700" stop-color="#fff" stop-opacity="0.850"/><stop offset="0.880" stop-color="#fff" stop-opacity="0.750"/><stop offset="1.000" stop-color="#fff" stop-opacity="0.500"/></linearGradient>
<linearGradient id="g_a2_b5a" gradientUnits="userSpaceOnUse" x1="46.00" y1="0" x2="300.30" y2="0"><stop offset="0.000" stop-color="#fff" stop-opacity="0.850"/><stop offset="0.200" stop-color="#fff" stop-opacity="0.900"/><stop offset="0.271" stop-color="#fff" stop-opacity="0.950"/></linearGradient>
<linearGradient id="g_a2_b5b" gradientUnits="userSpaceOnUse" x1="46.00" y1="0" x2="300.30" y2="0"><stop offset="0.611" stop-color="#fff" stop-opacity="0.950"/><stop offset="0.800" stop-color="#fff" stop-opacity="0.800"/><stop offset="1.000" stop-color="#fff" stop-opacity="0.850"/></linearGradient>
<linearGradient id="g_a2_b6a" gradientUnits="userSpaceOnUse" x1="46.00" y1="0" x2="300.30" y2="0"><stop offset="0.000" stop-color="#fff" stop-opacity="0.420"/><stop offset="1.000" stop-color="#fff" stop-opacity="0.420"/></linearGradient>
<linearGradient id="g_a2_b6b" gradientUnits="userSpaceOnUse" x1="46.00" y1="0" x2="300.30" y2="0"><stop offset="0.000" stop-color="#fff" stop-opacity="0.420"/><stop offset="1.000" stop-color="#fff" stop-opacity="0.420"/></linearGradient>
<linearGradient id="g_a2_b7a" gradientUnits="userSpaceOnUse" x1="46.00" y1="0" x2="300.30" y2="0"><stop offset="0.000" stop-color="#fff" stop-opacity="0.360"/><stop offset="0.100" stop-color="#fff" stop-opacity="0.300"/><stop offset="0.271" stop-color="#fff" stop-opacity="0.120"/></linearGradient>
<linearGradient id="g_a2_b7b" gradientUnits="userSpaceOnUse" x1="46.00" y1="0" x2="300.30" y2="0"><stop offset="0.711" stop-color="#fff" stop-opacity="0.100"/><stop offset="0.850" stop-color="#fff" stop-opacity="0.300"/><stop offset="1.000" stop-color="#fff" stop-opacity="0.360"/></linearGradient>
<linearGradient id="g_a2_b8" gradientUnits="userSpaceOnUse" x1="46.00" y1="0" x2="300.30" y2="0"><stop offset="0.200" stop-color="#fff" stop-opacity="0.250"/><stop offset="0.271" stop-color="#fff" stop-opacity="0.420"/><stop offset="0.360" stop-color="#fff" stop-opacity="0.200"/><stop offset="0.450" stop-color="#fff" stop-opacity="0.200"/><stop offset="0.520" stop-color="#fff" stop-opacity="0.400"/><stop offset="0.611" stop-color="#fff" stop-opacity="0.800"/></linearGradient>
<linearGradient id="g_a2_b9" gradientUnits="userSpaceOnUse" x1="46.00" y1="0" x2="300.30" y2="0"><stop offset="0.000" stop-color="#fff" stop-opacity="0.300"/><stop offset="1.000" stop-color="#fff" stop-opacity="0.300"/></linearGradient>
<linearGradient id="g_a2_b10a_0" gradientUnits="userSpaceOnUse" x1="46.00" y1="0" x2="300.30" y2="0"><stop offset="0.000" stop-color="#fff" stop-opacity="1.000"/><stop offset="0.025" stop-color="#fff" stop-opacity="1.000"/><stop offset="0.050" stop-color="#fff" stop-opacity="0.500"/><stop offset="0.120" stop-color="#fff" stop-opacity="0.200"/><stop offset="0.270" stop-color="#fff" stop-opacity="0.000"/></linearGradient>
<linearGradient id="g_a2_b10b_0" gradientUnits="userSpaceOnUse" x1="46.00" y1="0" x2="300.30" y2="0"><stop offset="0.730" stop-color="#fff" stop-opacity="0.000"/><stop offset="0.880" stop-color="#fff" stop-opacity="0.200"/><stop offset="0.950" stop-color="#fff" stop-opacity="0.500"/><stop offset="0.975" stop-color="#fff" stop-opacity="1.000"/><stop offset="1.000" stop-color="#fff" stop-opacity="1.000"/></linearGradient>
<linearGradient id="g_a2_b11_0" gradientUnits="userSpaceOnUse" x1="46.00" y1="0" x2="300.30" y2="0"><stop offset="0.000" stop-color="#fff" stop-opacity="0.600"/><stop offset="0.100" stop-color="#fff" stop-opacity="0.440"/><stop offset="0.271" stop-color="#fff" stop-opacity="0.320"/><stop offset="0.450" stop-color="#fff" stop-opacity="0.200"/><stop offset="0.611" stop-color="#fff" stop-opacity="0.200"/><stop offset="0.800" stop-color="#fff" stop-opacity="0.320"/><stop offset="0.900" stop-color="#fff" stop-opacity="0.440"/><stop offset="1.000" stop-color="#fff" stop-opacity="0.600"/></linearGradient>
<linearGradient id="g_a2_b12" gradientUnits="userSpaceOnUse" x1="46.00" y1="0" x2="300.30" y2="0"><stop offset="0.280" stop-color="#fff" stop-opacity="0.000"/><stop offset="0.360" stop-color="#fff" stop-opacity="0.100"/><stop offset="0.740" stop-color="#fff" stop-opacity="0.100"/><stop offset="0.820" stop-color="#fff" stop-opacity="0.000"/></linearGradient>
<filter id="bl_a2_1" filterUnits="userSpaceOnUse" x="16.0" y="196.0" width="314.3" height="228.0" color-interpolation-filters="sRGB"><feGaussianBlur stdDeviation="2.00"/></filter>
<linearGradient id="g_a2_b2_1" gradientUnits="userSpaceOnUse" x1="46.00" y1="0" x2="300.30" y2="0"><stop offset="0.271" stop-color="#fff" stop-opacity="0.792"/><stop offset="0.400" stop-color="#fff" stop-opacity="0.704"/><stop offset="0.500" stop-color="#fff" stop-opacity="0.924"/><stop offset="0.600" stop-color="#fff" stop-opacity="0.718"/><stop offset="0.611" stop-color="#fff" stop-opacity="0.750"/><stop offset="0.800" stop-color="#fff" stop-opacity="0.850"/><stop offset="1.000" stop-color="#fff" stop-opacity="0.850"/></linearGradient>
<linearGradient id="g_a2_b4_1" gradientUnits="userSpaceOnUse" x1="46.00" y1="0" x2="300.30" y2="0"><stop offset="0.000" stop-color="#fff" stop-opacity="0.650"/><stop offset="0.120" stop-color="#fff" stop-opacity="0.975"/><stop offset="0.220" stop-color="#fff" stop-opacity="1.000"/><stop offset="0.271" stop-color="#fff" stop-opacity="1.000"/><stop offset="0.420" stop-color="#fff" stop-opacity="1.000"/><stop offset="0.500" stop-color="#fff" stop-opacity="1.000"/><stop offset="0.611" stop-color="#fff" stop-opacity="1.000"/><stop offset="0.700" stop-color="#fff" stop-opacity="1.000"/><stop offset="0.880" stop-color="#fff" stop-opacity="0.975"/><stop offset="1.000" stop-color="#fff" stop-opacity="0.650"/></linearGradient>
<linearGradient id="g_a2_b10a_1" gradientUnits="userSpaceOnUse" x1="46.00" y1="0" x2="300.30" y2="0"><stop offset="0.000" stop-color="#fff" stop-opacity="1.000"/><stop offset="0.025" stop-color="#fff" stop-opacity="1.000"/><stop offset="0.050" stop-color="#fff" stop-opacity="0.500"/><stop offset="0.120" stop-color="#fff" stop-opacity="0.200"/><stop offset="0.270" stop-color="#fff" stop-opacity="0.000"/></linearGradient>
<linearGradient id="g_a2_b10b_1" gradientUnits="userSpaceOnUse" x1="46.00" y1="0" x2="300.30" y2="0"><stop offset="0.730" stop-color="#fff" stop-opacity="0.000"/><stop offset="0.880" stop-color="#fff" stop-opacity="0.200"/><stop offset="0.950" stop-color="#fff" stop-opacity="0.500"/><stop offset="0.975" stop-color="#fff" stop-opacity="1.000"/><stop offset="1.000" stop-color="#fff" stop-opacity="1.000"/></linearGradient>
<linearGradient id="g_a2_b11_1" gradientUnits="userSpaceOnUse" x1="46.00" y1="0" x2="300.30" y2="0"><stop offset="0.000" stop-color="#fff" stop-opacity="0.900"/><stop offset="0.100" stop-color="#fff" stop-opacity="0.660"/><stop offset="0.271" stop-color="#fff" stop-opacity="0.480"/><stop offset="0.450" stop-color="#fff" stop-opacity="0.300"/><stop offset="0.611" stop-color="#fff" stop-opacity="0.300"/><stop offset="0.800" stop-color="#fff" stop-opacity="0.480"/><stop offset="0.900" stop-color="#fff" stop-opacity="0.660"/><stop offset="1.000" stop-color="#fff" stop-opacity="0.900"/></linearGradient>
<filter id="bl_a2_2" filterUnits="userSpaceOnUse" x="16.0" y="196.0" width="314.3" height="228.0" color-interpolation-filters="sRGB"><feGaussianBlur stdDeviation="0.90"/></filter>
<linearGradient id="g_a2_b1_2" gradientUnits="userSpaceOnUse" x1="46.00" y1="0" x2="300.30" y2="0"><stop offset="0.000" stop-color="#fff" stop-opacity="0.560"/><stop offset="0.271" stop-color="#fff" stop-opacity="0.525"/><stop offset="0.360" stop-color="#fff" stop-opacity="0.434"/><stop offset="0.500" stop-color="#fff" stop-opacity="0.434"/><stop offset="0.611" stop-color="#fff" stop-opacity="0.665"/><stop offset="0.750" stop-color="#fff" stop-opacity="0.490"/><stop offset="0.900" stop-color="#fff" stop-opacity="0.350"/></linearGradient>
<linearGradient id="g_a2_b2_2" gradientUnits="userSpaceOnUse" x1="46.00" y1="0" x2="300.30" y2="0"><stop offset="0.271" stop-color="#fff" stop-opacity="0.612"/><stop offset="0.400" stop-color="#fff" stop-opacity="0.544"/><stop offset="0.500" stop-color="#fff" stop-opacity="0.714"/><stop offset="0.600" stop-color="#fff" stop-opacity="0.503"/><stop offset="0.611" stop-color="#fff" stop-opacity="0.525"/><stop offset="0.800" stop-color="#fff" stop-opacity="0.595"/><stop offset="1.000" stop-color="#fff" stop-opacity="0.595"/></linearGradient>
<linearGradient id="g_a2_b3_2" gradientUnits="userSpaceOnUse" x1="46.00" y1="0" x2="300.30" y2="0"><stop offset="0.000" stop-color="#fff" stop-opacity="1.000"/><stop offset="0.100" stop-color="#fff" stop-opacity="1.000"/><stop offset="0.200" stop-color="#fff" stop-opacity="0.850"/><stop offset="0.271" stop-color="#fff" stop-opacity="1.000"/><stop offset="0.450" stop-color="#fff" stop-opacity="1.000"/><stop offset="0.611" stop-color="#fff" stop-opacity="0.850"/><stop offset="0.800" stop-color="#fff" stop-opacity="0.961"/><stop offset="0.900" stop-color="#fff" stop-opacity="1.000"/><stop offset="1.000" stop-color="#fff" stop-opacity="1.000"/></linearGradient>
<linearGradient id="g_a2_b4_2" gradientUnits="userSpaceOnUse" x1="46.00" y1="0" x2="300.30" y2="0"><stop offset="0.000" stop-color="#fff" stop-opacity="0.500"/><stop offset="0.120" stop-color="#fff" stop-opacity="0.840"/><stop offset="0.200" stop-color="#fff" stop-opacity="1.000"/><stop offset="0.220" stop-color="#fff" stop-opacity="1.000"/><stop offset="0.240" stop-color="#fff" stop-opacity="1.000"/><stop offset="0.271" stop-color="#fff" stop-opacity="1.000"/><stop offset="0.420" stop-color="#fff" stop-opacity="1.000"/><stop offset="0.450" stop-color="#fff" stop-opacity="1.000"/><stop offset="0.500" stop-color="#fff" stop-opacity="1.000"/><stop offset="0.611" stop-color="#fff" stop-opacity="1.000"/><stop offset="0.700" stop-color="#fff" stop-opacity="0.850"/><stop offset="0.880" stop-color="#fff" stop-opacity="0.750"/><stop offset="1.000" stop-color="#fff" stop-opacity="0.500"/></linearGradient>
<linearGradient id="g_a2_b5a_2" gradientUnits="userSpaceOnUse" x1="46.00" y1="0" x2="300.30" y2="0"><stop offset="0.000" stop-color="#fff" stop-opacity="1.000"/><stop offset="0.200" stop-color="#fff" stop-opacity="1.000"/><stop offset="0.271" stop-color="#fff" stop-opacity="1.000"/></linearGradient>
<linearGradient id="g_a2_b5b_2" gradientUnits="userSpaceOnUse" x1="46.00" y1="0" x2="300.30" y2="0"><stop offset="0.611" stop-color="#fff" stop-opacity="1.000"/><stop offset="0.800" stop-color="#fff" stop-opacity="0.960"/><stop offset="1.000" stop-color="#fff" stop-opacity="1.000"/></linearGradient>
<linearGradient id="g_a2_b8_2" gradientUnits="userSpaceOnUse" x1="46.00" y1="0" x2="300.30" y2="0"><stop offset="0.200" stop-color="#fff" stop-opacity="0.375"/><stop offset="0.271" stop-color="#fff" stop-opacity="0.630"/><stop offset="0.360" stop-color="#fff" stop-opacity="0.300"/><stop offset="0.450" stop-color="#fff" stop-opacity="0.300"/><stop offset="0.520" stop-color="#fff" stop-opacity="0.600"/><stop offset="0.611" stop-color="#fff" stop-opacity="1.000"/></linearGradient>
<linearGradient id="g_a2_b10a_2" gradientUnits="userSpaceOnUse" x1="46.00" y1="0" x2="300.30" y2="0"><stop offset="0.000" stop-color="#fff" stop-opacity="0.950"/><stop offset="0.025" stop-color="#fff" stop-opacity="0.600"/><stop offset="0.050" stop-color="#fff" stop-opacity="0.250"/><stop offset="0.100" stop-color="#fff" stop-opacity="0.043"/><stop offset="0.120" stop-color="#fff" stop-opacity="0.015"/><stop offset="0.140" stop-color="#fff" stop-opacity="0.000"/><stop offset="0.270" stop-color="#fff" stop-opacity="0.000"/><stop offset="1.000" stop-color="#fff" stop-opacity="0.000"/></linearGradient>
<linearGradient id="g_a2_b10b_2" gradientUnits="userSpaceOnUse" x1="46.00" y1="0" x2="300.30" y2="0"><stop offset="0.000" stop-color="#fff" stop-opacity="0.000"/><stop offset="0.730" stop-color="#fff" stop-opacity="0.000"/><stop offset="0.860" stop-color="#fff" stop-opacity="0.000"/><stop offset="0.880" stop-color="#fff" stop-opacity="0.015"/><stop offset="0.900" stop-color="#fff" stop-opacity="0.043"/><stop offset="0.950" stop-color="#fff" stop-opacity="0.250"/><stop offset="0.975" stop-color="#fff" stop-opacity="0.600"/><stop offset="1.000" stop-color="#fff" stop-opacity="0.950"/></linearGradient>
<linearGradient id="g_a2_b11_2" gradientUnits="userSpaceOnUse" x1="46.00" y1="0" x2="300.30" y2="0"><stop offset="0.000" stop-color="#fff" stop-opacity="0.480"/><stop offset="0.100" stop-color="#fff" stop-opacity="0.352"/><stop offset="0.271" stop-color="#fff" stop-opacity="0.256"/><stop offset="0.450" stop-color="#fff" stop-opacity="0.160"/><stop offset="0.611" stop-color="#fff" stop-opacity="0.160"/><stop offset="0.800" stop-color="#fff" stop-opacity="0.256"/><stop offset="0.900" stop-color="#fff" stop-opacity="0.352"/><stop offset="1.000" stop-color="#fff" stop-opacity="0.480"/></linearGradient>
<linearGradient id="g_a2_b12_2" gradientUnits="userSpaceOnUse" x1="46.00" y1="0" x2="300.30" y2="0"><stop offset="0.280" stop-color="#fff" stop-opacity="0.000"/><stop offset="0.360" stop-color="#fff" stop-opacity="0.060"/><stop offset="0.740" stop-color="#fff" stop-opacity="0.060"/><stop offset="0.820" stop-color="#fff" stop-opacity="0.000"/></linearGradient>
<filter id="bl_a2_3" filterUnits="userSpaceOnUse" x="16.0" y="196.0" width="314.3" height="228.0" color-interpolation-filters="sRGB"><feGaussianBlur stdDeviation="0.36"/></filter>
<linearGradient id="g_a2_b2_3" gradientUnits="userSpaceOnUse" x1="46.00" y1="0" x2="300.30" y2="0"><stop offset="0.271" stop-color="#fff" stop-opacity="0.162"/><stop offset="0.400" stop-color="#fff" stop-opacity="0.144"/><stop offset="0.500" stop-color="#fff" stop-opacity="0.189"/><stop offset="0.600" stop-color="#fff" stop-opacity="0.718"/><stop offset="0.611" stop-color="#fff" stop-opacity="0.750"/><stop offset="0.800" stop-color="#fff" stop-opacity="0.850"/><stop offset="1.000" stop-color="#fff" stop-opacity="0.850"/></linearGradient>
<linearGradient id="g_a2_b8_3" gradientUnits="userSpaceOnUse" x1="46.00" y1="0" x2="300.30" y2="0"><stop offset="0.200" stop-color="#fff" stop-opacity="0.175"/><stop offset="0.271" stop-color="#fff" stop-opacity="0.294"/><stop offset="0.360" stop-color="#fff" stop-opacity="0.140"/><stop offset="0.450" stop-color="#fff" stop-opacity="0.140"/><stop offset="0.520" stop-color="#fff" stop-opacity="0.280"/><stop offset="0.611" stop-color="#fff" stop-opacity="0.560"/></linearGradient>
<linearGradient id="g_a2_b10a_3" gradientUnits="userSpaceOnUse" x1="46.00" y1="0" x2="300.30" y2="0"><stop offset="0.000" stop-color="#fff" stop-opacity="0.950"/><stop offset="0.025" stop-color="#fff" stop-opacity="0.600"/><stop offset="0.040" stop-color="#fff" stop-opacity="0.390"/><stop offset="0.050" stop-color="#fff" stop-opacity="0.200"/><stop offset="0.080" stop-color="#fff" stop-opacity="0.037"/><stop offset="0.110" stop-color="#fff" stop-opacity="0.000"/><stop offset="0.120" stop-color="#fff" stop-opacity="0.000"/><stop offset="0.270" stop-color="#fff" stop-opacity="0.000"/><stop offset="1.000" stop-color="#fff" stop-opacity="0.000"/></linearGradient>
<linearGradient id="g_a2_b10b_3" gradientUnits="userSpaceOnUse" x1="46.00" y1="0" x2="300.30" y2="0"><stop offset="0.000" stop-color="#fff" stop-opacity="0.000"/><stop offset="0.730" stop-color="#fff" stop-opacity="0.000"/><stop offset="0.880" stop-color="#fff" stop-opacity="0.000"/><stop offset="0.890" stop-color="#fff" stop-opacity="0.000"/><stop offset="0.920" stop-color="#fff" stop-opacity="0.037"/><stop offset="0.950" stop-color="#fff" stop-opacity="0.200"/><stop offset="0.960" stop-color="#fff" stop-opacity="0.390"/><stop offset="0.975" stop-color="#fff" stop-opacity="0.600"/><stop offset="1.000" stop-color="#fff" stop-opacity="0.950"/></linearGradient>
<linearGradient id="g_a2_b11_3" gradientUnits="userSpaceOnUse" x1="46.00" y1="0" x2="300.30" y2="0"><stop offset="0.000" stop-color="#fff" stop-opacity="0.105"/><stop offset="0.100" stop-color="#fff" stop-opacity="0.077"/><stop offset="0.271" stop-color="#fff" stop-opacity="0.056"/><stop offset="0.450" stop-color="#fff" stop-opacity="0.035"/><stop offset="0.611" stop-color="#fff" stop-opacity="0.035"/><stop offset="0.800" stop-color="#fff" stop-opacity="0.056"/><stop offset="0.900" stop-color="#fff" stop-opacity="0.077"/><stop offset="1.000" stop-color="#fff" stop-opacity="0.105"/></linearGradient>
<linearGradient id="cbh" x1="0" y1="0" x2="1" y2="0"><stop offset="0.0000" stop-color="#ffffff"/><stop offset="0.0317" stop-color="#ccccff"/><stop offset="0.0635" stop-color="#9a9aff"/><stop offset="0.0952" stop-color="#6767ff"/><stop offset="0.1270" stop-color="#3535ff"/><stop offset="0.1587" stop-color="#0202ff"/><stop offset="0.1905" stop-color="#1904e6"/><stop offset="0.2222" stop-color="#3308cc"/><stop offset="0.2540" stop-color="#4d0db2"/><stop offset="0.2857" stop-color="#671198"/><stop offset="0.3175" stop-color="#82157d"/><stop offset="0.3492" stop-color="#9c1a63"/><stop offset="0.3810" stop-color="#b61e49"/><stop offset="0.4127" stop-color="#d0222f"/><stop offset="0.4444" stop-color="#ea2715"/><stop offset="0.4762" stop-color="#ff2c00"/><stop offset="0.5238" stop-color="#ff3a00"/><stop offset="0.5556" stop-color="#ff4300"/><stop offset="0.5873" stop-color="#ff4c00"/><stop offset="0.6190" stop-color="#ff5500"/><stop offset="0.6508" stop-color="#ff5f00"/><stop offset="0.6825" stop-color="#ff6800"/><stop offset="0.7143" stop-color="#ff7100"/><stop offset="0.7460" stop-color="#ff7a00"/><stop offset="0.7778" stop-color="#ff8300"/><stop offset="0.8095" stop-color="#ff8d00"/><stop offset="0.8413" stop-color="#ff9600"/><stop offset="0.8730" stop-color="#ff9f00"/><stop offset="0.9048" stop-color="#ffa800"/><stop offset="0.9365" stop-color="#ffb200"/><stop offset="0.9683" stop-color="#ffbb00"/><stop offset="1.0000" stop-color="#ffc400"/></linearGradient>
<filter id="cm_pd1" filterUnits="userSpaceOnUse" x="340.30" y="27.00" width="149.40" height="100.30" color-interpolation-filters="sRGB"><feComponentTransfer><feFuncR type="table" tableValues="1.0000 0.9008 0.8016 0.7024 0.6032 0.5040 0.4048 0.3056 0.2063 0.1071 0.0079 0.0471 0.0983 0.1495 0.2007 0.2519 0.3031 0.3543 0.4055 0.4567 0.5079 0.5591 0.6103 0.6615 0.7127 0.7640 0.8152 0.8664 0.9176 0.9688 1.0000 1.0000 1.0000 1.0000 1.0000 1.0000 1.0000 1.0000 1.0000 1.0000 1.0000 1.0000 1.0000 1.0000 1.0000 1.0000 1.0000 1.0000 1.0000 1.0000 1.0000 1.0000 1.0000 1.0000 1.0000 1.0000 1.0000 1.0000 1.0000 1.0000 1.0000 1.0000 1.0000 1.0000"/><feFuncG type="table" tableValues="1.0000 0.9008 0.8016 0.7024 0.6032 0.5040 0.4048 0.3056 0.2063 0.1071 0.0079 0.0078 0.0162 0.0246 0.0331 0.0415 0.0499 0.0584 0.0668 0.0752 0.0837 0.0921 0.1005 0.1090 0.1174 0.1258 0.1343 0.1427 0.1511 0.1596 0.1718 0.1898 0.2079 0.2260 0.2441 0.2622 0.2803 0.2984 0.3165 0.3345 0.3526 0.3707 0.3888 0.4069 0.4250 0.4431 0.4612 0.4792 0.4973 0.5154 0.5335 0.5516 0.5697 0.5878 0.6058 0.6239 0.6420 0.6601 0.6782 0.6963 0.7144 0.7325 0.7505 0.7686"/><feFuncB type="table" tableValues="1.0000 1.0000 1.0000 1.0000 1.0000 1.0000 1.0000 1.0000 1.0000 1.0000 1.0000 0.9529 0.9017 0.8505 0.7993 0.7481 0.6969 0.6457 0.5945 0.5433 0.4921 0.4409 0.3897 0.3385 0.2873 0.2360 0.1848 0.1336 0.0824 0.0312 0.0000 0.0000 0.0000 0.0000 0.0000 0.0000 0.0000 0.0000 0.0000 0.0000 0.0000 0.0000 0.0000 0.0000 0.0000 0.0000 0.0000 0.0000 0.0000 0.0000 0.0000 0.0000 0.0000 0.0000 0.0000 0.0000 0.0000 0.0000 0.0000 0.0000 0.0000 0.0000 0.0000 0.0000"/></feComponentTransfer></filter>
<clipPath id="cp_pd1"><rect x="342.30" y="29.00" width="145.40" height="96.30"/></clipPath>
<filter id="bf_pd1_0" filterUnits="userSpaceOnUse" x="282.3" y="-31.0" width="265.4" height="216.3" color-interpolation-filters="sRGB"><feGaussianBlur stdDeviation="3.00 3.00"/></filter>
<filter id="bf_pd1_1" filterUnits="userSpaceOnUse" x="282.3" y="-31.0" width="265.4" height="216.3" color-interpolation-filters="sRGB"><feGaussianBlur stdDeviation="3.00 3.00"/></filter>
<filter id="bl_pd1_0" filterUnits="userSpaceOnUse" x="312.3" y="-1.0" width="205.4" height="156.3" color-interpolation-filters="sRGB"><feGaussianBlur stdDeviation="2.00"/></filter>
<linearGradient id="g_pd1_b1" gradientUnits="userSpaceOnUse" x1="342.30" y1="0" x2="487.70" y2="0"><stop offset="0.000" stop-color="#fff" stop-opacity="0.450"/><stop offset="0.200" stop-color="#fff" stop-opacity="0.450"/><stop offset="0.271" stop-color="#fff" stop-opacity="0.400"/><stop offset="0.350" stop-color="#fff" stop-opacity="0.300"/><stop offset="0.450" stop-color="#fff" stop-opacity="0.220"/><stop offset="0.611" stop-color="#fff" stop-opacity="0.220"/><stop offset="0.700" stop-color="#fff" stop-opacity="0.200"/><stop offset="0.850" stop-color="#fff" stop-opacity="0.170"/></linearGradient>
<linearGradient id="g_pd1_b2" gradientUnits="userSpaceOnUse" x1="342.30" y1="0" x2="487.70" y2="0"><stop offset="0.271" stop-color="#fff" stop-opacity="0.170"/><stop offset="0.450" stop-color="#fff" stop-opacity="0.170"/><stop offset="0.520" stop-color="#fff" stop-opacity="0.220"/><stop offset="0.580" stop-color="#fff" stop-opacity="0.330"/><stop offset="0.611" stop-color="#fff" stop-opacity="0.400"/><stop offset="0.660" stop-color="#fff" stop-opacity="0.380"/><stop offset="0.750" stop-color="#fff" stop-opacity="0.360"/><stop offset="0.850" stop-color="#fff" stop-opacity="0.420"/><stop offset="1.000" stop-color="#fff" stop-opacity="0.450"/></linearGradient>
<linearGradient id="g_pd1_b3" gradientUnits="userSpaceOnUse" x1="342.30" y1="0" x2="487.70" y2="0"><stop offset="0.000" stop-color="#fff" stop-opacity="0.450"/><stop offset="0.150" stop-color="#fff" stop-opacity="0.450"/><stop offset="0.271" stop-color="#fff" stop-opacity="0.500"/><stop offset="0.380" stop-color="#fff" stop-opacity="0.460"/><stop offset="0.460" stop-color="#fff" stop-opacity="0.300"/><stop offset="0.550" stop-color="#fff" stop-opacity="0.220"/><stop offset="0.611" stop-color="#fff" stop-opacity="0.220"/><stop offset="0.700" stop-color="#fff" stop-opacity="0.240"/><stop offset="0.800" stop-color="#fff" stop-opacity="0.360"/><stop offset="0.900" stop-color="#fff" stop-opacity="0.450"/><stop offset="1.000" stop-color="#fff" stop-opacity="0.450"/></linearGradient>
<linearGradient id="g_pd1_b4" gradientUnits="userSpaceOnUse" x1="342.30" y1="0" x2="487.70" y2="0"><stop offset="0.000" stop-color="#fff" stop-opacity="0.400"/><stop offset="0.200" stop-color="#fff" stop-opacity="0.450"/><stop offset="0.271" stop-color="#fff" stop-opacity="0.540"/><stop offset="0.420" stop-color="#fff" stop-opacity="0.520"/><stop offset="0.500" stop-color="#fff" stop-opacity="0.400"/><stop offset="0.560" stop-color="#fff" stop-opacity="0.300"/><stop offset="0.611" stop-color="#fff" stop-opacity="0.360"/><stop offset="0.660" stop-color="#fff" stop-opacity="0.260"/><stop offset="0.800" stop-color="#fff" stop-opacity="0.340"/><stop offset="0.900" stop-color="#fff" stop-opacity="0.400"/><stop offset="1.000" stop-color="#fff" stop-opacity="0.400"/></linearGradient>
<linearGradient id="g_pd1_b5a" gradientUnits="userSpaceOnUse" x1="342.30" y1="0" x2="487.70" y2="0"><stop offset="0.000" stop-color="#fff" stop-opacity="0.500"/><stop offset="1.000" stop-color="#fff" stop-opacity="0.500"/></linearGradient>
<linearGradient id="g_pd1_b5b" gradientUnits="userSpaceOnUse" x1="342.30" y1="0" x2="487.70" y2="0"><stop offset="0.611" stop-color="#fff" stop-opacity="0.250"/><stop offset="0.700" stop-color="#fff" stop-opacity="0.300"/><stop offset="0.780" stop-color="#fff" stop-opacity="0.450"/><stop offset="1.000" stop-color="#fff" stop-opacity="0.500"/></linearGradient>
<linearGradient id="g_pd1_b6a" gradientUnits="userSpaceOnUse" x1="342.30" y1="0" x2="487.70" y2="0"><stop offset="0.000" stop-color="#fff" stop-opacity="0.340"/><stop offset="1.000" stop-color="#fff" stop-opacity="0.340"/></linearGradient>
<linearGradient id="g_pd1_b6b" gradientUnits="userSpaceOnUse" x1="342.30" y1="0" x2="487.70" y2="0"><stop offset="0.000" stop-color="#fff" stop-opacity="0.340"/><stop offset="1.000" stop-color="#fff" stop-opacity="0.340"/></linearGradient>
<linearGradient id="g_pd1_b7a" gradientUnits="userSpaceOnUse" x1="342.30" y1="0" x2="487.70" y2="0"><stop offset="0.000" stop-color="#fff" stop-opacity="0.480"/><stop offset="0.100" stop-color="#fff" stop-opacity="0.400"/><stop offset="0.200" stop-color="#fff" stop-opacity="0.200"/><stop offset="0.271" stop-color="#fff" stop-opacity="0.100"/></linearGradient>
<linearGradient id="g_pd1_b7b" gradientUnits="userSpaceOnUse" x1="342.30" y1="0" x2="487.70" y2="0"><stop offset="0.711" stop-color="#fff" stop-opacity="0.100"/><stop offset="0.800" stop-color="#fff" stop-opacity="0.200"/><stop offset="0.900" stop-color="#fff" stop-opacity="0.400"/><stop offset="1.000" stop-color="#fff" stop-opacity="0.480"/></linearGradient>
<linearGradient id="g_pd1_b8" gradientUnits="userSpaceOnUse" x1="342.30" y1="0" x2="487.70" y2="0"><stop offset="0.200" stop-color="#fff" stop-opacity="0.280"/><stop offset="0.271" stop-color="#fff" stop-opacity="0.400"/><stop offset="0.330" stop-color="#fff" stop-opacity="0.280"/><stop offset="0.400" stop-color="#fff" stop-opacity="0.170"/><stop offset="0.500" stop-color="#fff" stop-opacity="0.170"/><stop offset="0.611" stop-color="#fff" stop-opacity="0.300"/></linearGradient>
<linearGradient id="g_pd1_b9" gradientUnits="userSpaceOnUse" x1="342.30" y1="0" x2="487.70" y2="0"><stop offset="0.000" stop-color="#fff" stop-opacity="0.120"/><stop offset="1.000" stop-color="#fff" stop-opacity="0.120"/></linearGradient>
<linearGradient id="g_pd1_b10a_0" gradientUnits="userSpaceOnUse" x1="342.30" y1="0" x2="487.70" y2="0"><stop offset="0.000" stop-color="#fff" stop-opacity="0.120"/><stop offset="0.050" stop-color="#fff" stop-opacity="0.060"/><stop offset="0.270" stop-color="#fff" stop-opacity="0.000"/></linearGradient>
<linearGradient id="g_pd1_b10b_0" gradientUnits="userSpaceOnUse" x1="342.30" y1="0" x2="487.70" y2="0"><stop offset="0.730" stop-color="#fff" stop-opacity="0.000"/><stop offset="0.950" stop-color="#fff" stop-opacity="0.060"/><stop offset="1.000" stop-color="#fff" stop-opacity="0.120"/></linearGradient>
<linearGradient id="g_pd1_b11_0" gradientUnits="userSpaceOnUse" x1="342.30" y1="0" x2="487.70" y2="0"><stop offset="0.000" stop-color="#fff" stop-opacity="0.180"/><stop offset="0.271" stop-color="#fff" stop-opacity="0.140"/><stop offset="0.450" stop-color="#fff" stop-opacity="0.100"/><stop offset="0.611" stop-color="#fff" stop-opacity="0.080"/><stop offset="0.800" stop-color="#fff" stop-opacity="0.120"/><stop offset="1.000" stop-color="#fff" stop-opacity="0.180"/></linearGradient>
<linearGradient id="g_pd1_b12_0" gradientUnits="userSpaceOnUse" x1="342.30" y1="0" x2="487.70" y2="0"><stop offset="0.280" stop-color="#fff" stop-opacity="0.000"/><stop offset="0.360" stop-color="#fff" stop-opacity="0.195"/><stop offset="0.740" stop-color="#fff" stop-opacity="0.195"/><stop offset="0.820" stop-color="#fff" stop-opacity="0.000"/></linearGradient>
<filter id="bl_pd1_1" filterUnits="userSpaceOnUse" x="312.3" y="-1.0" width="205.4" height="156.3" color-interpolation-filters="sRGB"><feGaussianBlur stdDeviation="0.75"/></filter>
<linearGradient id="g_pd1_b2_1" gradientUnits="userSpaceOnUse" x1="342.30" y1="0" x2="487.70" y2="0"><stop offset="0.000" stop-color="#fff" stop-opacity="0.306"/><stop offset="0.271" stop-color="#fff" stop-opacity="0.306"/><stop offset="0.450" stop-color="#fff" stop-opacity="0.306"/><stop offset="0.500" stop-color="#fff" stop-opacity="0.370"/><stop offset="0.520" stop-color="#fff" stop-opacity="0.361"/><stop offset="0.580" stop-color="#fff" stop-opacity="0.383"/><stop offset="0.600" stop-color="#fff" stop-opacity="0.376"/><stop offset="0.611" stop-color="#fff" stop-opacity="0.400"/><stop offset="0.660" stop-color="#fff" stop-opacity="0.380"/><stop offset="0.750" stop-color="#fff" stop-opacity="0.360"/><stop offset="0.850" stop-color="#fff" stop-opacity="0.420"/><stop offset="1.000" stop-color="#fff" stop-opacity="0.450"/></linearGradient>
<linearGradient id="g_pd1_b4_1" gradientUnits="userSpaceOnUse" x1="342.30" y1="0" x2="487.70" y2="0"><stop offset="0.000" stop-color="#fff" stop-opacity="0.400"/><stop offset="0.200" stop-color="#fff" stop-opacity="0.450"/><stop offset="0.220" stop-color="#fff" stop-opacity="0.476"/><stop offset="0.271" stop-color="#fff" stop-opacity="0.918"/><stop offset="0.420" stop-color="#fff" stop-opacity="0.884"/><stop offset="0.450" stop-color="#fff" stop-opacity="0.807"/><stop offset="0.500" stop-color="#fff" stop-opacity="0.540"/><stop offset="0.550" stop-color="#fff" stop-opacity="0.317"/><stop offset="0.560" stop-color="#fff" stop-opacity="0.300"/><stop offset="0.611" stop-color="#fff" stop-opacity="0.360"/><stop offset="0.660" stop-color="#fff" stop-opacity="0.260"/><stop offset="0.800" stop-color="#fff" stop-opacity="0.340"/><stop offset="0.900" stop-color="#fff" stop-opacity="0.400"/><stop offset="1.000" stop-color="#fff" stop-opacity="0.400"/></linearGradient>
<linearGradient id="g_pd1_b5a_1" gradientUnits="userSpaceOnUse" x1="342.30" y1="0" x2="487.70" y2="0"><stop offset="0.000" stop-color="#fff" stop-opacity="0.650"/><stop offset="1.000" stop-color="#fff" stop-opacity="0.650"/></linearGradient>
<linearGradient id="g_pd1_b5b_1" gradientUnits="userSpaceOnUse" x1="342.30" y1="0" x2="487.70" y2="0"><stop offset="0.611" stop-color="#fff" stop-opacity="0.325"/><stop offset="0.700" stop-color="#fff" stop-opacity="0.390"/><stop offset="0.780" stop-color="#fff" stop-opacity="0.585"/><stop offset="1.000" stop-color="#fff" stop-opacity="0.650"/></linearGradient>
<linearGradient id="g_pd1_b10a_1" gradientUnits="userSpaceOnUse" x1="342.30" y1="0" x2="487.70" y2="0"><stop offset="0.000" stop-color="#fff" stop-opacity="0.060"/><stop offset="0.050" stop-color="#fff" stop-opacity="0.030"/><stop offset="0.270" stop-color="#fff" stop-opacity="0.000"/></linearGradient>
<linearGradient id="g_pd1_b10b_1" gradientUnits="userSpaceOnUse" x1="342.30" y1="0" x2="487.70" y2="0"><stop offset="0.730" stop-color="#fff" stop-opacity="0.000"/><stop offset="0.950" stop-color="#fff" stop-opacity="0.030"/><stop offset="1.000" stop-color="#fff" stop-opacity="0.060"/></linearGradient>
<linearGradient id="g_pd1_b11_1" gradientUnits="userSpaceOnUse" x1="342.30" y1="0" x2="487.70" y2="0"><stop offset="0.000" stop-color="#fff" stop-opacity="0.162"/><stop offset="0.271" stop-color="#fff" stop-opacity="0.126"/><stop offset="0.450" stop-color="#fff" stop-opacity="0.090"/><stop offset="0.611" stop-color="#fff" stop-opacity="0.072"/><stop offset="0.800" stop-color="#fff" stop-opacity="0.108"/><stop offset="1.000" stop-color="#fff" stop-opacity="0.162"/></linearGradient>
<linearGradient id="g_pd1_b12_1" gradientUnits="userSpaceOnUse" x1="342.30" y1="0" x2="487.70" y2="0"><stop offset="0.280" stop-color="#fff" stop-opacity="0.000"/><stop offset="0.360" stop-color="#fff" stop-opacity="0.156"/><stop offset="0.740" stop-color="#fff" stop-opacity="0.156"/><stop offset="0.820" stop-color="#fff" stop-opacity="0.000"/></linearGradient>
<filter id="bl_pd1_2" filterUnits="userSpaceOnUse" x="312.3" y="-1.0" width="205.4" height="156.3" color-interpolation-filters="sRGB"><feGaussianBlur stdDeviation="0.40"/></filter>
<linearGradient id="g_pd1_b10a" gradientUnits="userSpaceOnUse" x1="342.30" y1="0" x2="487.70" y2="0"><stop offset="0.000" stop-color="#fff" stop-opacity="0.040"/><stop offset="0.050" stop-color="#fff" stop-opacity="0.020"/><stop offset="0.270" stop-color="#fff" stop-opacity="0.000"/></linearGradient>
<linearGradient id="g_pd1_b10b" gradientUnits="userSpaceOnUse" x1="342.30" y1="0" x2="487.70" y2="0"><stop offset="0.730" stop-color="#fff" stop-opacity="0.000"/><stop offset="0.950" stop-color="#fff" stop-opacity="0.020"/><stop offset="1.000" stop-color="#fff" stop-opacity="0.040"/></linearGradient>
<linearGradient id="g_pd1_b11_2" gradientUnits="userSpaceOnUse" x1="342.30" y1="0" x2="487.70" y2="0"><stop offset="0.000" stop-color="#fff" stop-opacity="0.045"/><stop offset="0.271" stop-color="#fff" stop-opacity="0.035"/><stop offset="0.450" stop-color="#fff" stop-opacity="0.025"/><stop offset="0.611" stop-color="#fff" stop-opacity="0.020"/><stop offset="0.800" stop-color="#fff" stop-opacity="0.030"/><stop offset="1.000" stop-color="#fff" stop-opacity="0.045"/></linearGradient>
<linearGradient id="g_pd1_b12" gradientUnits="userSpaceOnUse" x1="342.30" y1="0" x2="487.70" y2="0"><stop offset="0.280" stop-color="#fff" stop-opacity="0.000"/><stop offset="0.360" stop-color="#fff" stop-opacity="0.130"/><stop offset="0.740" stop-color="#fff" stop-opacity="0.130"/><stop offset="0.820" stop-color="#fff" stop-opacity="0.000"/></linearGradient>
<filter id="cm_pd2" filterUnits="userSpaceOnUse" x="534.30" y="27.00" width="149.40" height="100.30" color-interpolation-filters="sRGB"><feComponentTransfer><feFuncR type="table" tableValues="1.0000 0.9008 0.8016 0.7024 0.6032 0.5040 0.4048 0.3056 0.2063 0.1071 0.0079 0.0471 0.0983 0.1495 0.2007 0.2519 0.3031 0.3543 0.4055 0.4567 0.5079 0.5591 0.6103 0.6615 0.7127 0.7640 0.8152 0.8664 0.9176 0.9688 1.0000 1.0000 1.0000 1.0000 1.0000 1.0000 1.0000 1.0000 1.0000 1.0000 1.0000 1.0000 1.0000 1.0000 1.0000 1.0000 1.0000 1.0000 1.0000 1.0000 1.0000 1.0000 1.0000 1.0000 1.0000 1.0000 1.0000 1.0000 1.0000 1.0000 1.0000 1.0000 1.0000 1.0000"/><feFuncG type="table" tableValues="1.0000 0.9008 0.8016 0.7024 0.6032 0.5040 0.4048 0.3056 0.2063 0.1071 0.0079 0.0078 0.0162 0.0246 0.0331 0.0415 0.0499 0.0584 0.0668 0.0752 0.0837 0.0921 0.1005 0.1090 0.1174 0.1258 0.1343 0.1427 0.1511 0.1596 0.1718 0.1898 0.2079 0.2260 0.2441 0.2622 0.2803 0.2984 0.3165 0.3345 0.3526 0.3707 0.3888 0.4069 0.4250 0.4431 0.4612 0.4792 0.4973 0.5154 0.5335 0.5516 0.5697 0.5878 0.6058 0.6239 0.6420 0.6601 0.6782 0.6963 0.7144 0.7325 0.7505 0.7686"/><feFuncB type="table" tableValues="1.0000 1.0000 1.0000 1.0000 1.0000 1.0000 1.0000 1.0000 1.0000 1.0000 1.0000 0.9529 0.9017 0.8505 0.7993 0.7481 0.6969 0.6457 0.5945 0.5433 0.4921 0.4409 0.3897 0.3385 0.2873 0.2360 0.1848 0.1336 0.0824 0.0312 0.0000 0.0000 0.0000 0.0000 0.0000 0.0000 0.0000 0.0000 0.0000 0.0000 0.0000 0.0000 0.0000 0.0000 0.0000 0.0000 0.0000 0.0000 0.0000 0.0000 0.0000 0.0000 0.0000 0.0000 0.0000 0.0000 0.0000 0.0000 0.0000 0.0000 0.0000 0.0000 0.0000 0.0000"/></feComponentTransfer></filter>
<clipPath id="cp_pd2"><rect x="536.30" y="29.00" width="145.40" height="96.30"/></clipPath>
<filter id="bf_pd2_0" filterUnits="userSpaceOnUse" x="476.3" y="-31.0" width="265.4" height="216.3" color-interpolation-filters="sRGB"><feGaussianBlur stdDeviation="3.00 3.00"/></filter>
<filter id="bf_pd2_1" filterUnits="userSpaceOnUse" x="476.3" y="-31.0" width="265.4" height="216.3" color-interpolation-filters="sRGB"><feGaussianBlur stdDeviation="1.60 1.60"/></filter>
<filter id="bf_pd2_2" filterUnits="userSpaceOnUse" x="476.3" y="-31.0" width="265.4" height="216.3" color-interpolation-filters="sRGB"><feGaussianBlur stdDeviation="1.80 1.80"/></filter>
<filter id="bl_pd2_0" filterUnits="userSpaceOnUse" x="506.3" y="-1.0" width="205.4" height="156.3" color-interpolation-filters="sRGB"><feGaussianBlur stdDeviation="2.20"/></filter>
<linearGradient id="g_pd2_b1" gradientUnits="userSpaceOnUse" x1="536.30" y1="0" x2="681.70" y2="0"><stop offset="0.000" stop-color="#fff" stop-opacity="0.720"/><stop offset="0.271" stop-color="#fff" stop-opacity="0.750"/><stop offset="0.450" stop-color="#fff" stop-opacity="0.850"/><stop offset="0.611" stop-color="#fff" stop-opacity="0.980"/><stop offset="0.750" stop-color="#fff" stop-opacity="0.750"/><stop offset="0.900" stop-color="#fff" stop-opacity="0.600"/></linearGradient>
<linearGradient id="g_pd2_b2" gradientUnits="userSpaceOnUse" x1="536.30" y1="0" x2="681.70" y2="0"><stop offset="0.271" stop-color="#fff" stop-opacity="0.300"/><stop offset="0.400" stop-color="#fff" stop-opacity="0.200"/><stop offset="0.500" stop-color="#fff" stop-opacity="0.300"/><stop offset="0.560" stop-color="#fff" stop-opacity="0.350"/><stop offset="0.611" stop-color="#fff" stop-opacity="0.300"/><stop offset="0.680" stop-color="#fff" stop-opacity="0.450"/><stop offset="0.780" stop-color="#fff" stop-opacity="0.650"/><stop offset="1.000" stop-color="#fff" stop-opacity="0.720"/></linearGradient>
<linearGradient id="g_pd2_b3" gradientUnits="userSpaceOnUse" x1="536.30" y1="0" x2="681.70" y2="0"><stop offset="0.000" stop-color="#fff" stop-opacity="0.750"/><stop offset="0.150" stop-color="#fff" stop-opacity="0.700"/><stop offset="0.271" stop-color="#fff" stop-opacity="0.920"/><stop offset="0.450" stop-color="#fff" stop-opacity="0.850"/><stop offset="0.611" stop-color="#fff" stop-opacity="0.950"/><stop offset="0.750" stop-color="#fff" stop-opacity="0.750"/><stop offset="0.900" stop-color="#fff" stop-opacity="0.700"/><stop offset="1.000" stop-color="#fff" stop-opacity="0.750"/></linearGradient>
<linearGradient id="g_pd2_b4" gradientUnits="userSpaceOnUse" x1="536.30" y1="0" x2="681.70" y2="0"><stop offset="0.000" stop-color="#fff" stop-opacity="0.700"/><stop offset="0.200" stop-color="#fff" stop-opacity="0.800"/><stop offset="0.271" stop-color="#fff" stop-opacity="0.980"/><stop offset="0.450" stop-color="#fff" stop-opacity="0.980"/><stop offset="0.611" stop-color="#fff" stop-opacity="1.000"/><stop offset="0.750" stop-color="#fff" stop-opacity="0.800"/><stop offset="1.000" stop-color="#fff" stop-opacity="0.700"/></linearGradient>
<linearGradient id="g_pd2_b5a_0" gradientUnits="userSpaceOnUse" x1="536.30" y1="0" x2="681.70" y2="0"><stop offset="0.000" stop-color="#fff" stop-opacity="0.900"/><stop offset="1.000" stop-color="#fff" stop-opacity="0.900"/></linearGradient>
<linearGradient id="g_pd2_b5b_0" gradientUnits="userSpaceOnUse" x1="536.30" y1="0" x2="681.70" y2="0"><stop offset="0.000" stop-color="#fff" stop-opacity="0.900"/><stop offset="1.000" stop-color="#fff" stop-opacity="0.900"/></linearGradient>
<linearGradient id="g_pd2_b6a" gradientUnits="userSpaceOnUse" x1="536.30" y1="0" x2="681.70" y2="0"><stop offset="0.000" stop-color="#fff" stop-opacity="0.450"/><stop offset="1.000" stop-color="#fff" stop-opacity="0.450"/></linearGradient>
<linearGradient id="g_pd2_b6b" gradientUnits="userSpaceOnUse" x1="536.30" y1="0" x2="681.70" y2="0"><stop offset="0.000" stop-color="#fff" stop-opacity="0.450"/><stop offset="1.000" stop-color="#fff" stop-opacity="0.450"/></linearGradient>
<linearGradient id="g_pd2_b7a" gradientUnits="userSpaceOnUse" x1="536.30" y1="0" x2="681.70" y2="0"><stop offset="0.000" stop-color="#fff" stop-opacity="0.550"/><stop offset="0.150" stop-color="#fff" stop-opacity="0.450"/><stop offset="0.271" stop-color="#fff" stop-opacity="0.200"/></linearGradient>
<linearGradient id="g_pd2_b7b" gradientUnits="userSpaceOnUse" x1="536.30" y1="0" x2="681.70" y2="0"><stop offset="0.711" stop-color="#fff" stop-opacity="0.120"/><stop offset="0.850" stop-color="#fff" stop-opacity="0.450"/><stop offset="1.000" stop-color="#fff" stop-opacity="0.550"/></linearGradient>
<linearGradient id="g_pd2_b8" gradientUnits="userSpaceOnUse" x1="536.30" y1="0" x2="681.70" y2="0"><stop offset="0.200" stop-color="#fff" stop-opacity="0.350"/><stop offset="0.271" stop-color="#fff" stop-opacity="0.500"/><stop offset="0.360" stop-color="#fff" stop-opacity="0.350"/><stop offset="0.450" stop-color="#fff" stop-opacity="0.300"/><stop offset="0.520" stop-color="#fff" stop-opacity="0.450"/><stop offset="0.611" stop-color="#fff" stop-opacity="0.850"/></linearGradient>
<linearGradient id="g_pd2_b9" gradientUnits="userSpaceOnUse" x1="536.30" y1="0" x2="681.70" y2="0"><stop offset="0.000" stop-color="#fff" stop-opacity="0.500"/><stop offset="1.000" stop-color="#fff" stop-opacity="0.500"/></linearGradient>
<linearGradient id="g_pd2_b10a_0" gradientUnits="userSpaceOnUse" x1="536.30" y1="0" x2="681.70" y2="0"><stop offset="0.000" stop-color="#fff" stop-opacity="1.000"/><stop offset="0.030" stop-color="#fff" stop-opacity="1.000"/><stop offset="0.055" stop-color="#fff" stop-opacity="0.375"/><stop offset="0.090" stop-color="#fff" stop-opacity="0.090"/><stop offset="0.270" stop-color="#fff" stop-opacity="0.000"/></linearGradient>
<linearGradient id="g_pd2_b10b_0" gradientUnits="userSpaceOnUse" x1="536.30" y1="0" x2="681.70" y2="0"><stop offset="0.730" stop-color="#fff" stop-opacity="0.000"/><stop offset="0.910" stop-color="#fff" stop-opacity="0.090"/><stop offset="0.945" stop-color="#fff" stop-opacity="0.375"/><stop offset="0.970" stop-color="#fff" stop-opacity="1.000"/><stop offset="1.000" stop-color="#fff" stop-opacity="1.000"/></linearGradient>
<linearGradient id="g_pd2_b11_0" gradientUnits="userSpaceOnUse" x1="536.30" y1="0" x2="681.70" y2="0"><stop offset="0.000" stop-color="#fff" stop-opacity="0.200"/><stop offset="0.271" stop-color="#fff" stop-opacity="0.200"/><stop offset="0.400" stop-color="#fff" stop-opacity="0.280"/><stop offset="0.611" stop-color="#fff" stop-opacity="0.280"/><stop offset="0.750" stop-color="#fff" stop-opacity="0.240"/><stop offset="1.000" stop-color="#fff" stop-opacity="0.200"/></linearGradient>
<linearGradient id="g_pd2_b12_0" gradientUnits="userSpaceOnUse" x1="536.30" y1="0" x2="681.70" y2="0"><stop offset="0.280" stop-color="#fff" stop-opacity="0.000"/><stop offset="0.360" stop-color="#fff" stop-opacity="0.270"/><stop offset="0.740" stop-color="#fff" stop-opacity="0.270"/><stop offset="0.820" stop-color="#fff" stop-opacity="0.000"/></linearGradient>
<filter id="bl_pd2_1" filterUnits="userSpaceOnUse" x="506.3" y="-1.0" width="205.4" height="156.3" color-interpolation-filters="sRGB"><feGaussianBlur stdDeviation="0.85"/></filter>
<linearGradient id="g_pd2_b4_1" gradientUnits="userSpaceOnUse" x1="536.30" y1="0" x2="681.70" y2="0"><stop offset="0.000" stop-color="#fff" stop-opacity="0.700"/><stop offset="0.200" stop-color="#fff" stop-opacity="0.800"/><stop offset="0.220" stop-color="#fff" stop-opacity="0.851"/><stop offset="0.271" stop-color="#fff" stop-opacity="1.000"/><stop offset="0.450" stop-color="#fff" stop-opacity="1.000"/><stop offset="0.500" stop-color="#fff" stop-opacity="1.000"/><stop offset="0.611" stop-color="#fff" stop-opacity="1.000"/><stop offset="0.700" stop-color="#fff" stop-opacity="0.872"/><stop offset="0.750" stop-color="#fff" stop-opacity="0.800"/><stop offset="1.000" stop-color="#fff" stop-opacity="0.700"/></linearGradient>
<linearGradient id="g_pd2_b5a_1" gradientUnits="userSpaceOnUse" x1="536.30" y1="0" x2="681.70" y2="0"><stop offset="0.000" stop-color="#fff" stop-opacity="1.000"/><stop offset="1.000" stop-color="#fff" stop-opacity="1.000"/></linearGradient>
<linearGradient id="g_pd2_b5b_1" gradientUnits="userSpaceOnUse" x1="536.30" y1="0" x2="681.70" y2="0"><stop offset="0.000" stop-color="#fff" stop-opacity="1.000"/><stop offset="1.000" stop-color="#fff" stop-opacity="1.000"/></linearGradient>
<linearGradient id="g_pd2_b10a" gradientUnits="userSpaceOnUse" x1="536.30" y1="0" x2="681.70" y2="0"><stop offset="0.000" stop-color="#fff" stop-opacity="0.900"/><stop offset="0.030" stop-color="#fff" stop-opacity="0.700"/><stop offset="0.055" stop-color="#fff" stop-opacity="0.250"/><stop offset="0.090" stop-color="#fff" stop-opacity="0.060"/><stop offset="0.270" stop-color="#fff" stop-opacity="0.000"/></linearGradient>
<linearGradient id="g_pd2_b10b" gradientUnits="userSpaceOnUse" x1="536.30" y1="0" x2="681.70" y2="0"><stop offset="0.730" stop-color="#fff" stop-opacity="0.000"/><stop offset="0.910" stop-color="#fff" stop-opacity="0.060"/><stop offset="0.945" stop-color="#fff" stop-opacity="0.250"/><stop offset="0.970" stop-color="#fff" stop-opacity="0.700"/><stop offset="1.000" stop-color="#fff" stop-opacity="0.900"/></linearGradient>
<linearGradient id="g_pd2_b11_1" gradientUnits="userSpaceOnUse" x1="536.30" y1="0" x2="681.70" y2="0"><stop offset="0.000" stop-color="#fff" stop-opacity="0.150"/><stop offset="0.271" stop-color="#fff" stop-opacity="0.150"/><stop offset="0.400" stop-color="#fff" stop-opacity="0.210"/><stop offset="0.611" stop-color="#fff" stop-opacity="0.210"/><stop offset="0.750" stop-color="#fff" stop-opacity="0.180"/><stop offset="1.000" stop-color="#fff" stop-opacity="0.150"/></linearGradient>
<linearGradient id="g_pd2_b12_1" gradientUnits="userSpaceOnUse" x1="536.30" y1="0" x2="681.70" y2="0"><stop offset="0.280" stop-color="#fff" stop-opacity="0.000"/><stop offset="0.360" stop-color="#fff" stop-opacity="0.216"/><stop offset="0.740" stop-color="#fff" stop-opacity="0.216"/><stop offset="0.820" stop-color="#fff" stop-opacity="0.000"/></linearGradient>
<filter id="bl_pd2_2" filterUnits="userSpaceOnUse" x="506.3" y="-1.0" width="205.4" height="156.3" color-interpolation-filters="sRGB"><feGaussianBlur stdDeviation="0.50"/></filter>
<linearGradient id="g_pd2_b5a" gradientUnits="userSpaceOnUse" x1="536.30" y1="0" x2="681.70" y2="0"><stop offset="0.000" stop-color="#fff" stop-opacity="0.600"/><stop offset="1.000" stop-color="#fff" stop-opacity="0.600"/></linearGradient>
<linearGradient id="g_pd2_b5b" gradientUnits="userSpaceOnUse" x1="536.30" y1="0" x2="681.70" y2="0"><stop offset="0.000" stop-color="#fff" stop-opacity="0.600"/><stop offset="1.000" stop-color="#fff" stop-opacity="0.600"/></linearGradient>
<linearGradient id="g_pd2_b11_2" gradientUnits="userSpaceOnUse" x1="536.30" y1="0" x2="681.70" y2="0"><stop offset="0.000" stop-color="#fff" stop-opacity="0.060"/><stop offset="0.271" stop-color="#fff" stop-opacity="0.060"/><stop offset="0.400" stop-color="#fff" stop-opacity="0.084"/><stop offset="0.611" stop-color="#fff" stop-opacity="0.084"/><stop offset="0.750" stop-color="#fff" stop-opacity="0.072"/><stop offset="1.000" stop-color="#fff" stop-opacity="0.060"/></linearGradient>
<linearGradient id="g_pd2_b12" gradientUnits="userSpaceOnUse" x1="536.30" y1="0" x2="681.70" y2="0"><stop offset="0.280" stop-color="#fff" stop-opacity="0.000"/><stop offset="0.360" stop-color="#fff" stop-opacity="0.180"/><stop offset="0.740" stop-color="#fff" stop-opacity="0.180"/><stop offset="0.820" stop-color="#fff" stop-opacity="0.000"/></linearGradient>
<filter id="cm_ag" filterUnits="userSpaceOnUse" x="414.70" y="157.00" width="149.40" height="100.30" color-interpolation-filters="sRGB"><feComponentTransfer><feFuncR type="table" tableValues="1.0000 0.9008 0.8016 0.7024 0.6032 0.5040 0.4048 0.3056 0.2063 0.1071 0.0079 0.0471 0.0983 0.1495 0.2007 0.2519 0.3031 0.3543 0.4055 0.4567 0.5079 0.5591 0.6103 0.6615 0.7127 0.7640 0.8152 0.8664 0.9176 0.9688 1.0000 1.0000 1.0000 1.0000 1.0000 1.0000 1.0000 1.0000 1.0000 1.0000 1.0000 1.0000 1.0000 1.0000 1.0000 1.0000 1.0000 1.0000 1.0000 1.0000 1.0000 1.0000 1.0000 1.0000 1.0000 1.0000 1.0000 1.0000 1.0000 1.0000 1.0000 1.0000 1.0000 1.0000"/><feFuncG type="table" tableValues="1.0000 0.9008 0.8016 0.7024 0.6032 0.5040 0.4048 0.3056 0.2063 0.1071 0.0079 0.0078 0.0162 0.0246 0.0331 0.0415 0.0499 0.0584 0.0668 0.0752 0.0837 0.0921 0.1005 0.1090 0.1174 0.1258 0.1343 0.1427 0.1511 0.1596 0.1718 0.1898 0.2079 0.2260 0.2441 0.2622 0.2803 0.2984 0.3165 0.3345 0.3526 0.3707 0.3888 0.4069 0.4250 0.4431 0.4612 0.4792 0.4973 0.5154 0.5335 0.5516 0.5697 0.5878 0.6058 0.6239 0.6420 0.6601 0.6782 0.6963 0.7144 0.7325 0.7505 0.7686"/><feFuncB type="table" tableValues="1.0000 1.0000 1.0000 1.0000 1.0000 1.0000 1.0000 1.0000 1.0000 1.0000 1.0000 0.9529 0.9017 0.8505 0.7993 0.7481 0.6969 0.6457 0.5945 0.5433 0.4921 0.4409 0.3897 0.3385 0.2873 0.2360 0.1848 0.1336 0.0824 0.0312 0.0000 0.0000 0.0000 0.0000 0.0000 0.0000 0.0000 0.0000 0.0000 0.0000 0.0000 0.0000 0.0000 0.0000 0.0000 0.0000 0.0000 0.0000 0.0000 0.0000 0.0000 0.0000 0.0000 0.0000 0.0000 0.0000 0.0000 0.0000 0.0000 0.0000 0.0000 0.0000 0.0000 0.0000"/></feComponentTransfer></filter>
<clipPath id="cp_ag"><rect x="416.70" y="159.00" width="145.40" height="96.30"/></clipPath>
<filter id="bl_ag_0" filterUnits="userSpaceOnUse" x="386.7" y="129.0" width="205.4" height="156.3" color-interpolation-filters="sRGB"><feGaussianBlur stdDeviation="1.80"/></filter>
<linearGradient id="g_ag_b1" gradientUnits="userSpaceOnUse" x1="416.70" y1="0" x2="562.10" y2="0"><stop offset="0.000" stop-color="#fff" stop-opacity="0.035"/><stop offset="0.271" stop-color="#fff" stop-opacity="0.035"/><stop offset="0.450" stop-color="#fff" stop-opacity="0.025"/><stop offset="0.611" stop-color="#fff" stop-opacity="0.060"/><stop offset="0.700" stop-color="#fff" stop-opacity="0.090"/><stop offset="0.800" stop-color="#fff" stop-opacity="0.090"/><stop offset="0.900" stop-color="#fff" stop-opacity="0.060"/></linearGradient>
<linearGradient id="g_ag_b2" gradientUnits="userSpaceOnUse" x1="416.70" y1="0" x2="562.10" y2="0"><stop offset="0.271" stop-color="#fff" stop-opacity="0.060"/><stop offset="0.400" stop-color="#fff" stop-opacity="0.075"/><stop offset="0.500" stop-color="#fff" stop-opacity="0.040"/><stop offset="0.611" stop-color="#fff" stop-opacity="0.030"/><stop offset="0.800" stop-color="#fff" stop-opacity="0.050"/><stop offset="1.000" stop-color="#fff" stop-opacity="0.050"/></linearGradient>
<linearGradient id="g_ag_b3" gradientUnits="userSpaceOnUse" x1="416.70" y1="0" x2="562.10" y2="0"><stop offset="0.000" stop-color="#fff" stop-opacity="0.360"/><stop offset="0.025" stop-color="#fff" stop-opacity="0.240"/><stop offset="0.060" stop-color="#fff" stop-opacity="0.130"/><stop offset="0.150" stop-color="#fff" stop-opacity="0.070"/><stop offset="0.271" stop-color="#fff" stop-opacity="0.030"/><stop offset="0.611" stop-color="#fff" stop-opacity="0.025"/><stop offset="0.850" stop-color="#fff" stop-opacity="0.070"/><stop offset="0.940" stop-color="#fff" stop-opacity="0.130"/><stop offset="0.975" stop-color="#fff" stop-opacity="0.240"/><stop offset="1.000" stop-color="#fff" stop-opacity="0.360"/></linearGradient>
<linearGradient id="g_ag_b4" gradientUnits="userSpaceOnUse" x1="416.70" y1="0" x2="562.10" y2="0"><stop offset="0.000" stop-color="#fff" stop-opacity="0.160"/><stop offset="0.040" stop-color="#fff" stop-opacity="0.120"/><stop offset="0.100" stop-color="#fff" stop-opacity="0.090"/><stop offset="0.200" stop-color="#fff" stop-opacity="0.055"/><stop offset="0.271" stop-color="#fff" stop-opacity="0.045"/><stop offset="0.611" stop-color="#fff" stop-opacity="0.045"/><stop offset="0.800" stop-color="#fff" stop-opacity="0.055"/><stop offset="0.900" stop-color="#fff" stop-opacity="0.090"/><stop offset="0.960" stop-color="#fff" stop-opacity="0.120"/><stop offset="1.000" stop-color="#fff" stop-opacity="0.160"/></linearGradient>
<linearGradient id="g_ag_b5a" gradientUnits="userSpaceOnUse" x1="416.70" y1="0" x2="562.10" y2="0"><stop offset="0.000" stop-color="#fff" stop-opacity="0.018"/><stop offset="1.000" stop-color="#fff" stop-opacity="0.018"/></linearGradient>
<linearGradient id="g_ag_b5b" gradientUnits="userSpaceOnUse" x1="416.70" y1="0" x2="562.10" y2="0"><stop offset="0.000" stop-color="#fff" stop-opacity="0.018"/><stop offset="1.000" stop-color="#fff" stop-opacity="0.018"/></linearGradient>
<linearGradient id="g_ag_b6a" gradientUnits="userSpaceOnUse" x1="416.70" y1="0" x2="562.10" y2="0"><stop offset="0.000" stop-color="#fff" stop-opacity="0.040"/><stop offset="1.000" stop-color="#fff" stop-opacity="0.040"/></linearGradient>
<linearGradient id="g_ag_b6b" gradientUnits="userSpaceOnUse" x1="416.70" y1="0" x2="562.10" y2="0"><stop offset="0.000" stop-color="#fff" stop-opacity="0.040"/><stop offset="1.000" stop-color="#fff" stop-opacity="0.040"/></linearGradient>
<linearGradient id="g_ag_b7a" gradientUnits="userSpaceOnUse" x1="416.70" y1="0" x2="562.10" y2="0"><stop offset="0.000" stop-color="#fff" stop-opacity="0.025"/><stop offset="1.000" stop-color="#fff" stop-opacity="0.025"/></linearGradient>
<linearGradient id="g_ag_b7b" gradientUnits="userSpaceOnUse" x1="416.70" y1="0" x2="562.10" y2="0"><stop offset="0.000" stop-color="#fff" stop-opacity="0.025"/><stop offset="1.000" stop-color="#fff" stop-opacity="0.025"/></linearGradient>
<linearGradient id="g_ag_b8" gradientUnits="userSpaceOnUse" x1="416.70" y1="0" x2="562.10" y2="0"><stop offset="0.190" stop-color="#fff" stop-opacity="0.060"/><stop offset="0.220" stop-color="#fff" stop-opacity="0.110"/><stop offset="0.271" stop-color="#fff" stop-opacity="0.130"/><stop offset="0.360" stop-color="#fff" stop-opacity="0.100"/><stop offset="0.450" stop-color="#fff" stop-opacity="0.035"/><stop offset="0.500" stop-color="#fff" stop-opacity="0.025"/><stop offset="0.611" stop-color="#fff" stop-opacity="0.060"/></linearGradient>
<linearGradient id="g_ag_b9" gradientUnits="userSpaceOnUse" x1="416.70" y1="0" x2="562.10" y2="0"><stop offset="0.000" stop-color="#fff" stop-opacity="0.020"/><stop offset="1.000" stop-color="#fff" stop-opacity="0.020"/></linearGradient>
<linearGradient id="g_ag_b10a_0" gradientUnits="userSpaceOnUse" x1="416.70" y1="0" x2="562.10" y2="0"><stop offset="0.000" stop-color="#fff" stop-opacity="0.037"/><stop offset="0.200" stop-color="#fff" stop-opacity="0.015"/><stop offset="0.270" stop-color="#fff" stop-opacity="0.000"/></linearGradient>
<linearGradient id="g_ag_b10b_0" gradientUnits="userSpaceOnUse" x1="416.70" y1="0" x2="562.10" y2="0"><stop offset="0.730" stop-color="#fff" stop-opacity="0.000"/><stop offset="0.800" stop-color="#fff" stop-opacity="0.015"/><stop offset="1.000" stop-color="#fff" stop-opacity="0.037"/></linearGradient>
<linearGradient id="g_ag_b11_0" gradientUnits="userSpaceOnUse" x1="416.70" y1="0" x2="562.10" y2="0"><stop offset="0.000" stop-color="#fff" stop-opacity="0.110"/><stop offset="0.200" stop-color="#fff" stop-opacity="0.077"/><stop offset="0.271" stop-color="#fff" stop-opacity="0.077"/><stop offset="0.400" stop-color="#fff" stop-opacity="0.044"/><stop offset="0.611" stop-color="#fff" stop-opacity="0.044"/><stop offset="0.800" stop-color="#fff" stop-opacity="0.066"/><stop offset="1.000" stop-color="#fff" stop-opacity="0.110"/></linearGradient>
<linearGradient id="g_ag_b12" gradientUnits="userSpaceOnUse" x1="416.70" y1="0" x2="562.10" y2="0"><stop offset="0.280" stop-color="#fff" stop-opacity="0.000"/><stop offset="0.360" stop-color="#fff" stop-opacity="0.020"/><stop offset="0.740" stop-color="#fff" stop-opacity="0.020"/><stop offset="0.820" stop-color="#fff" stop-opacity="0.000"/></linearGradient>
<filter id="bl_ag_1" filterUnits="userSpaceOnUse" x="386.7" y="129.0" width="205.4" height="156.3" color-interpolation-filters="sRGB"><feGaussianBlur stdDeviation="0.70"/></filter>
<linearGradient id="g_ag_b10a" gradientUnits="userSpaceOnUse" x1="416.70" y1="0" x2="562.10" y2="0"><stop offset="0.000" stop-color="#fff" stop-opacity="0.015"/><stop offset="0.200" stop-color="#fff" stop-opacity="0.006"/><stop offset="0.270" stop-color="#fff" stop-opacity="0.000"/></linearGradient>
<linearGradient id="g_ag_b10b" gradientUnits="userSpaceOnUse" x1="416.70" y1="0" x2="562.10" y2="0"><stop offset="0.730" stop-color="#fff" stop-opacity="0.000"/><stop offset="0.800" stop-color="#fff" stop-opacity="0.006"/><stop offset="1.000" stop-color="#fff" stop-opacity="0.015"/></linearGradient>
<linearGradient id="g_ag_b11" gradientUnits="userSpaceOnUse" x1="416.70" y1="0" x2="562.10" y2="0"><stop offset="0.000" stop-color="#fff" stop-opacity="0.050"/><stop offset="0.200" stop-color="#fff" stop-opacity="0.035"/><stop offset="0.271" stop-color="#fff" stop-opacity="0.035"/><stop offset="0.400" stop-color="#fff" stop-opacity="0.020"/><stop offset="0.611" stop-color="#fff" stop-opacity="0.020"/><stop offset="0.800" stop-color="#fff" stop-opacity="0.030"/><stop offset="1.000" stop-color="#fff" stop-opacity="0.050"/></linearGradient>
<filter id="cm_cr1" filterUnits="userSpaceOnUse" x="340.30" y="286.70" width="149.40" height="100.30" color-interpolation-filters="sRGB"><feComponentTransfer><feFuncR type="table" tableValues="1.0000 0.9008 0.8016 0.7024 0.6032 0.5040 0.4048 0.3056 0.2063 0.1071 0.0079 0.0471 0.0983 0.1495 0.2007 0.2519 0.3031 0.3543 0.4055 0.4567 0.5079 0.5591 0.6103 0.6615 0.7127 0.7640 0.8152 0.8664 0.9176 0.9688 1.0000 1.0000 1.0000 1.0000 1.0000 1.0000 1.0000 1.0000 1.0000 1.0000 1.0000 1.0000 1.0000 1.0000 1.0000 1.0000 1.0000 1.0000 1.0000 1.0000 1.0000 1.0000 1.0000 1.0000 1.0000 1.0000 1.0000 1.0000 1.0000 1.0000 1.0000 1.0000 1.0000 1.0000"/><feFuncG type="table" tableValues="1.0000 0.9008 0.8016 0.7024 0.6032 0.5040 0.4048 0.3056 0.2063 0.1071 0.0079 0.0078 0.0162 0.0246 0.0331 0.0415 0.0499 0.0584 0.0668 0.0752 0.0837 0.0921 0.1005 0.1090 0.1174 0.1258 0.1343 0.1427 0.1511 0.1596 0.1718 0.1898 0.2079 0.2260 0.2441 0.2622 0.2803 0.2984 0.3165 0.3345 0.3526 0.3707 0.3888 0.4069 0.4250 0.4431 0.4612 0.4792 0.4973 0.5154 0.5335 0.5516 0.5697 0.5878 0.6058 0.6239 0.6420 0.6601 0.6782 0.6963 0.7144 0.7325 0.7505 0.7686"/><feFuncB type="table" tableValues="1.0000 1.0000 1.0000 1.0000 1.0000 1.0000 1.0000 1.0000 1.0000 1.0000 1.0000 0.9529 0.9017 0.8505 0.7993 0.7481 0.6969 0.6457 0.5945 0.5433 0.4921 0.4409 0.3897 0.3385 0.2873 0.2360 0.1848 0.1336 0.0824 0.0312 0.0000 0.0000 0.0000 0.0000 0.0000 0.0000 0.0000 0.0000 0.0000 0.0000 0.0000 0.0000 0.0000 0.0000 0.0000 0.0000 0.0000 0.0000 0.0000 0.0000 0.0000 0.0000 0.0000 0.0000 0.0000 0.0000 0.0000 0.0000 0.0000 0.0000 0.0000 0.0000 0.0000 0.0000"/></feComponentTransfer></filter>
<clipPath id="cp_cr1"><rect x="342.30" y="288.70" width="145.40" height="96.30"/></clipPath>
<filter id="bf_cr1_0" filterUnits="userSpaceOnUse" x="282.3" y="228.7" width="265.4" height="216.3" color-interpolation-filters="sRGB"><feGaussianBlur stdDeviation="2.50 2.50"/></filter>
<filter id="bf_cr1_1" filterUnits="userSpaceOnUse" x="282.3" y="228.7" width="265.4" height="216.3" color-interpolation-filters="sRGB"><feGaussianBlur stdDeviation="2.20 2.20"/></filter>
<filter id="bf_cr1_2" filterUnits="userSpaceOnUse" x="282.3" y="228.7" width="265.4" height="216.3" color-interpolation-filters="sRGB"><feGaussianBlur stdDeviation="2.20 2.20"/></filter>
<filter id="bf_cr1_3" filterUnits="userSpaceOnUse" x="282.3" y="228.7" width="265.4" height="216.3" color-interpolation-filters="sRGB"><feGaussianBlur stdDeviation="1.50 1.50"/></filter>
<filter id="bf_cr1_4" filterUnits="userSpaceOnUse" x="282.3" y="228.7" width="265.4" height="216.3" color-interpolation-filters="sRGB"><feGaussianBlur stdDeviation="2.50 2.50"/></filter>
<filter id="bf_cr1_5" filterUnits="userSpaceOnUse" x="282.3" y="228.7" width="265.4" height="216.3" color-interpolation-filters="sRGB"><feGaussianBlur stdDeviation="6.00 6.00"/></filter>
<filter id="bf_cr1_6" filterUnits="userSpaceOnUse" x="282.3" y="228.7" width="265.4" height="216.3" color-interpolation-filters="sRGB"><feGaussianBlur stdDeviation="6.00 6.00"/></filter>
<filter id="bf_cr1_7" filterUnits="userSpaceOnUse" x="282.3" y="228.7" width="265.4" height="216.3" color-interpolation-filters="sRGB"><feGaussianBlur stdDeviation="2.50 2.50"/></filter>
<filter id="bf_cr1_8" filterUnits="userSpaceOnUse" x="282.3" y="228.7" width="265.4" height="216.3" color-interpolation-filters="sRGB"><feGaussianBlur stdDeviation="3.00 3.00"/></filter>
<filter id="bf_cr1_9" filterUnits="userSpaceOnUse" x="282.3" y="228.7" width="265.4" height="216.3" color-interpolation-filters="sRGB"><feGaussianBlur stdDeviation="1.50 1.50"/></filter>
<filter id="bf_cr1_10" filterUnits="userSpaceOnUse" x="282.3" y="228.7" width="265.4" height="216.3" color-interpolation-filters="sRGB"><feGaussianBlur stdDeviation="1.50 1.50"/></filter>
<filter id="bl_cr1_0" filterUnits="userSpaceOnUse" x="312.3" y="258.7" width="205.4" height="156.3" color-interpolation-filters="sRGB"><feGaussianBlur stdDeviation="1.80"/></filter>
<linearGradient id="g_cr1_b1" gradientUnits="userSpaceOnUse" x1="342.30" y1="0" x2="487.70" y2="0"><stop offset="0.000" stop-color="#fff" stop-opacity="0.035"/><stop offset="0.271" stop-color="#fff" stop-opacity="0.024"/><stop offset="0.611" stop-color="#fff" stop-opacity="0.024"/><stop offset="1.000" stop-color="#fff" stop-opacity="0.020"/></linearGradient>
<linearGradient id="g_cr1_b2" gradientUnits="userSpaceOnUse" x1="342.30" y1="0" x2="487.70" y2="0"><stop offset="0.271" stop-color="#fff" stop-opacity="0.024"/><stop offset="0.611" stop-color="#fff" stop-opacity="0.020"/><stop offset="0.800" stop-color="#fff" stop-opacity="0.030"/><stop offset="1.000" stop-color="#fff" stop-opacity="0.035"/></linearGradient>
<linearGradient id="g_cr1_b3" gradientUnits="userSpaceOnUse" x1="342.30" y1="0" x2="487.70" y2="0"><stop offset="0.000" stop-color="#fff" stop-opacity="0.018"/><stop offset="1.000" stop-color="#fff" stop-opacity="0.018"/></linearGradient>
<linearGradient id="g_cr1_b4" gradientUnits="userSpaceOnUse" x1="342.30" y1="0" x2="487.70" y2="0"><stop offset="0.000" stop-color="#fff" stop-opacity="0.020"/><stop offset="1.000" stop-color="#fff" stop-opacity="0.020"/></linearGradient>
<linearGradient id="g_cr1_b5a" gradientUnits="userSpaceOnUse" x1="342.30" y1="0" x2="487.70" y2="0"><stop offset="0.000" stop-color="#fff" stop-opacity="0.016"/><stop offset="1.000" stop-color="#fff" stop-opacity="0.016"/></linearGradient>
<linearGradient id="g_cr1_b5b" gradientUnits="userSpaceOnUse" x1="342.30" y1="0" x2="487.70" y2="0"><stop offset="0.000" stop-color="#fff" stop-opacity="0.016"/><stop offset="1.000" stop-color="#fff" stop-opacity="0.016"/></linearGradient>
<linearGradient id="g_cr1_b6a" gradientUnits="userSpaceOnUse" x1="342.30" y1="0" x2="487.70" y2="0"><stop offset="0.000" stop-color="#fff" stop-opacity="0.012"/><stop offset="1.000" stop-color="#fff" stop-opacity="0.012"/></linearGradient>
<linearGradient id="g_cr1_b6b" gradientUnits="userSpaceOnUse" x1="342.30" y1="0" x2="487.70" y2="0"><stop offset="0.000" stop-color="#fff" stop-opacity="0.012"/><stop offset="1.000" stop-color="#fff" stop-opacity="0.012"/></linearGradient>
<linearGradient id="g_cr1_b7a" gradientUnits="userSpaceOnUse" x1="342.30" y1="0" x2="487.70" y2="0"><stop offset="0.000" stop-color="#fff" stop-opacity="0.012"/><stop offset="1.000" stop-color="#fff" stop-opacity="0.012"/></linearGradient>
<linearGradient id="g_cr1_b7b" gradientUnits="userSpaceOnUse" x1="342.30" y1="0" x2="487.70" y2="0"><stop offset="0.000" stop-color="#fff" stop-opacity="0.012"/><stop offset="1.000" stop-color="#fff" stop-opacity="0.012"/></linearGradient>
<linearGradient id="g_cr1_b8" gradientUnits="userSpaceOnUse" x1="342.30" y1="0" x2="487.70" y2="0"><stop offset="0.200" stop-color="#fff" stop-opacity="0.016"/><stop offset="0.271" stop-color="#fff" stop-opacity="0.028"/><stop offset="0.611" stop-color="#fff" stop-opacity="0.020"/></linearGradient>
<linearGradient id="g_cr1_b9" gradientUnits="userSpaceOnUse" x1="342.30" y1="0" x2="487.70" y2="0"><stop offset="0.000" stop-color="#fff" stop-opacity="0.016"/><stop offset="1.000" stop-color="#fff" stop-opacity="0.016"/></linearGradient>
<linearGradient id="g_cr1_b10a_0" gradientUnits="userSpaceOnUse" x1="342.30" y1="0" x2="487.70" y2="0"><stop offset="0.000" stop-color="#fff" stop-opacity="0.075"/><stop offset="0.040" stop-color="#fff" stop-opacity="0.060"/><stop offset="0.270" stop-color="#fff" stop-opacity="0.030"/></linearGradient>
<linearGradient id="g_cr1_b10b_0" gradientUnits="userSpaceOnUse" x1="342.30" y1="0" x2="487.70" y2="0"><stop offset="0.730" stop-color="#fff" stop-opacity="0.030"/><stop offset="0.960" stop-color="#fff" stop-opacity="0.060"/><stop offset="1.000" stop-color="#fff" stop-opacity="0.075"/></linearGradient>
<linearGradient id="g_cr1_b11_0" gradientUnits="userSpaceOnUse" x1="342.30" y1="0" x2="487.70" y2="0"><stop offset="0.000" stop-color="#fff" stop-opacity="0.144"/><stop offset="0.030" stop-color="#fff" stop-opacity="0.090"/><stop offset="0.271" stop-color="#fff" stop-opacity="0.063"/><stop offset="0.450" stop-color="#fff" stop-opacity="0.032"/><stop offset="0.611" stop-color="#fff" stop-opacity="0.032"/><stop offset="0.850" stop-color="#fff" stop-opacity="0.063"/><stop offset="0.970" stop-color="#fff" stop-opacity="0.090"/><stop offset="1.000" stop-color="#fff" stop-opacity="0.144"/></linearGradient>
<linearGradient id="g_cr1_b12" gradientUnits="userSpaceOnUse" x1="342.30" y1="0" x2="487.70" y2="0"><stop offset="0.280" stop-color="#fff" stop-opacity="0.000"/><stop offset="0.360" stop-color="#fff" stop-opacity="0.012"/><stop offset="0.740" stop-color="#fff" stop-opacity="0.012"/><stop offset="0.820" stop-color="#fff" stop-opacity="0.000"/></linearGradient>
<filter id="bl_cr1_1" filterUnits="userSpaceOnUse" x="312.3" y="258.7" width="205.4" height="156.3" color-interpolation-filters="sRGB"><feGaussianBlur stdDeviation="0.75"/></filter>
<linearGradient id="g_cr1_b10a_1" gradientUnits="userSpaceOnUse" x1="342.30" y1="0" x2="487.70" y2="0"><stop offset="0.000" stop-color="#fff" stop-opacity="0.020"/><stop offset="0.040" stop-color="#fff" stop-opacity="0.016"/><stop offset="0.270" stop-color="#fff" stop-opacity="0.008"/></linearGradient>
<linearGradient id="g_cr1_b10b_1" gradientUnits="userSpaceOnUse" x1="342.30" y1="0" x2="487.70" y2="0"><stop offset="0.730" stop-color="#fff" stop-opacity="0.008"/><stop offset="0.960" stop-color="#fff" stop-opacity="0.016"/><stop offset="1.000" stop-color="#fff" stop-opacity="0.020"/></linearGradient>
<linearGradient id="g_cr1_b11_1" gradientUnits="userSpaceOnUse" x1="342.30" y1="0" x2="487.70" y2="0"><stop offset="0.000" stop-color="#fff" stop-opacity="0.048"/><stop offset="0.030" stop-color="#fff" stop-opacity="0.030"/><stop offset="0.271" stop-color="#fff" stop-opacity="0.021"/><stop offset="0.450" stop-color="#fff" stop-opacity="0.011"/><stop offset="0.611" stop-color="#fff" stop-opacity="0.011"/><stop offset="0.850" stop-color="#fff" stop-opacity="0.021"/><stop offset="0.970" stop-color="#fff" stop-opacity="0.030"/><stop offset="1.000" stop-color="#fff" stop-opacity="0.048"/></linearGradient>
<filter id="cm_cr2" filterUnits="userSpaceOnUse" x="534.30" y="286.70" width="149.40" height="100.30" color-interpolation-filters="sRGB"><feComponentTransfer><feFuncR type="table" tableValues="1.0000 0.9008 0.8016 0.7024 0.6032 0.5040 0.4048 0.3056 0.2063 0.1071 0.0079 0.0471 0.0983 0.1495 0.2007 0.2519 0.3031 0.3543 0.4055 0.4567 0.5079 0.5591 0.6103 0.6615 0.7127 0.7640 0.8152 0.8664 0.9176 0.9688 1.0000 1.0000 1.0000 1.0000 1.0000 1.0000 1.0000 1.0000 1.0000 1.0000 1.0000 1.0000 1.0000 1.0000 1.0000 1.0000 1.0000 1.0000 1.0000 1.0000 1.0000 1.0000 1.0000 1.0000 1.0000 1.0000 1.0000 1.0000 1.0000 1.0000 1.0000 1.0000 1.0000 1.0000"/><feFuncG type="table" tableValues="1.0000 0.9008 0.8016 0.7024 0.6032 0.5040 0.4048 0.3056 0.2063 0.1071 0.0079 0.0078 0.0162 0.0246 0.0331 0.0415 0.0499 0.0584 0.0668 0.0752 0.0837 0.0921 0.1005 0.1090 0.1174 0.1258 0.1343 0.1427 0.1511 0.1596 0.1718 0.1898 0.2079 0.2260 0.2441 0.2622 0.2803 0.2984 0.3165 0.3345 0.3526 0.3707 0.3888 0.4069 0.4250 0.4431 0.4612 0.4792 0.4973 0.5154 0.5335 0.5516 0.5697 0.5878 0.6058 0.6239 0.6420 0.6601 0.6782 0.6963 0.7144 0.7325 0.7505 0.7686"/><feFuncB type="table" tableValues="1.0000 1.0000 1.0000 1.0000 1.0000 1.0000 1.0000 1.0000 1.0000 1.0000 1.0000 0.9529 0.9017 0.8505 0.7993 0.7481 0.6969 0.6457 0.5945 0.5433 0.4921 0.4409 0.3897 0.3385 0.2873 0.2360 0.1848 0.1336 0.0824 0.0312 0.0000 0.0000 0.0000 0.0000 0.0000 0.0000 0.0000 0.0000 0.0000 0.0000 0.0000 0.0000 0.0000 0.0000 0.0000 0.0000 0.0000 0.0000 0.0000 0.0000 0.0000 0.0000 0.0000 0.0000 0.0000 0.0000 0.0000 0.0000 0.0000 0.0000 0.0000 0.0000 0.0000 0.0000"/></feComponentTransfer></filter>
<clipPath id="cp_cr2"><rect x="536.30" y="288.70" width="145.40" height="96.30"/></clipPath>
<filter id="bf_cr2_0" filterUnits="userSpaceOnUse" x="476.3" y="228.7" width="265.4" height="216.3" color-interpolation-filters="sRGB"><feGaussianBlur stdDeviation="2.50 2.50"/></filter>
<filter id="bf_cr2_1" filterUnits="userSpaceOnUse" x="476.3" y="228.7" width="265.4" height="216.3" color-interpolation-filters="sRGB"><feGaussianBlur stdDeviation="2.20 2.20"/></filter>
<filter id="bf_cr2_2" filterUnits="userSpaceOnUse" x="476.3" y="228.7" width="265.4" height="216.3" color-interpolation-filters="sRGB"><feGaussianBlur stdDeviation="2.20 2.20"/></filter>
<filter id="bf_cr2_3" filterUnits="userSpaceOnUse" x="476.3" y="228.7" width="265.4" height="216.3" color-interpolation-filters="sRGB"><feGaussianBlur stdDeviation="1.50 1.50"/></filter>
<filter id="bf_cr2_4" filterUnits="userSpaceOnUse" x="476.3" y="228.7" width="265.4" height="216.3" color-interpolation-filters="sRGB"><feGaussianBlur stdDeviation="2.50 2.50"/></filter>
<filter id="bf_cr2_5" filterUnits="userSpaceOnUse" x="476.3" y="228.7" width="265.4" height="216.3" color-interpolation-filters="sRGB"><feGaussianBlur stdDeviation="6.00 6.00"/></filter>
<filter id="bf_cr2_6" filterUnits="userSpaceOnUse" x="476.3" y="228.7" width="265.4" height="216.3" color-interpolation-filters="sRGB"><feGaussianBlur stdDeviation="6.00 6.00"/></filter>
<filter id="bf_cr2_7" filterUnits="userSpaceOnUse" x="476.3" y="228.7" width="265.4" height="216.3" color-interpolation-filters="sRGB"><feGaussianBlur stdDeviation="2.50 2.50"/></filter>
<filter id="bf_cr2_8" filterUnits="userSpaceOnUse" x="476.3" y="228.7" width="265.4" height="216.3" color-interpolation-filters="sRGB"><feGaussianBlur stdDeviation="3.00 3.00"/></filter>
<filter id="bf_cr2_9" filterUnits="userSpaceOnUse" x="476.3" y="228.7" width="265.4" height="216.3" color-interpolation-filters="sRGB"><feGaussianBlur stdDeviation="1.50 1.50"/></filter>
<filter id="bf_cr2_10" filterUnits="userSpaceOnUse" x="476.3" y="228.7" width="265.4" height="216.3" color-interpolation-filters="sRGB"><feGaussianBlur stdDeviation="1.50 1.50"/></filter>
<filter id="bl_cr2_0" filterUnits="userSpaceOnUse" x="506.3" y="258.7" width="205.4" height="156.3" color-interpolation-filters="sRGB"><feGaussianBlur stdDeviation="1.80"/></filter>
<linearGradient id="g_cr2_b1" gradientUnits="userSpaceOnUse" x1="536.30" y1="0" x2="681.70" y2="0"><stop offset="0.000" stop-color="#fff" stop-opacity="0.035"/><stop offset="0.271" stop-color="#fff" stop-opacity="0.024"/><stop offset="0.611" stop-color="#fff" stop-opacity="0.024"/><stop offset="1.000" stop-color="#fff" stop-opacity="0.020"/></linearGradient>
<linearGradient id="g_cr2_b2" gradientUnits="userSpaceOnUse" x1="536.30" y1="0" x2="681.70" y2="0"><stop offset="0.271" stop-color="#fff" stop-opacity="0.024"/><stop offset="0.611" stop-color="#fff" stop-opacity="0.020"/><stop offset="0.800" stop-color="#fff" stop-opacity="0.030"/><stop offset="1.000" stop-color="#fff" stop-opacity="0.035"/></linearGradient>
<linearGradient id="g_cr2_b3" gradientUnits="userSpaceOnUse" x1="536.30" y1="0" x2="681.70" y2="0"><stop offset="0.000" stop-color="#fff" stop-opacity="0.018"/><stop offset="1.000" stop-color="#fff" stop-opacity="0.018"/></linearGradient>
<linearGradient id="g_cr2_b4" gradientUnits="userSpaceOnUse" x1="536.30" y1="0" x2="681.70" y2="0"><stop offset="0.000" stop-color="#fff" stop-opacity="0.020"/><stop offset="1.000" stop-color="#fff" stop-opacity="0.020"/></linearGradient>
<linearGradient id="g_cr2_b5a" gradientUnits="userSpaceOnUse" x1="536.30" y1="0" x2="681.70" y2="0"><stop offset="0.000" stop-color="#fff" stop-opacity="0.016"/><stop offset="1.000" stop-color="#fff" stop-opacity="0.016"/></linearGradient>
<linearGradient id="g_cr2_b5b" gradientUnits="userSpaceOnUse" x1="536.30" y1="0" x2="681.70" y2="0"><stop offset="0.000" stop-color="#fff" stop-opacity="0.016"/><stop offset="1.000" stop-color="#fff" stop-opacity="0.016"/></linearGradient>
<linearGradient id="g_cr2_b6a" gradientUnits="userSpaceOnUse" x1="536.30" y1="0" x2="681.70" y2="0"><stop offset="0.000" stop-color="#fff" stop-opacity="0.012"/><stop offset="1.000" stop-color="#fff" stop-opacity="0.012"/></linearGradient>
<linearGradient id="g_cr2_b6b" gradientUnits="userSpaceOnUse" x1="536.30" y1="0" x2="681.70" y2="0"><stop offset="0.000" stop-color="#fff" stop-opacity="0.012"/><stop offset="1.000" stop-color="#fff" stop-opacity="0.012"/></linearGradient>
<linearGradient id="g_cr2_b7a" gradientUnits="userSpaceOnUse" x1="536.30" y1="0" x2="681.70" y2="0"><stop offset="0.000" stop-color="#fff" stop-opacity="0.012"/><stop offset="1.000" stop-color="#fff" stop-opacity="0.012"/></linearGradient>
<linearGradient id="g_cr2_b7b" gradientUnits="userSpaceOnUse" x1="536.30" y1="0" x2="681.70" y2="0"><stop offset="0.000" stop-color="#fff" stop-opacity="0.012"/><stop offset="1.000" stop-color="#fff" stop-opacity="0.012"/></linearGradient>
<linearGradient id="g_cr2_b8" gradientUnits="userSpaceOnUse" x1="536.30" y1="0" x2="681.70" y2="0"><stop offset="0.200" stop-color="#fff" stop-opacity="0.016"/><stop offset="0.271" stop-color="#fff" stop-opacity="0.028"/><stop offset="0.611" stop-color="#fff" stop-opacity="0.020"/></linearGradient>
<linearGradient id="g_cr2_b9" gradientUnits="userSpaceOnUse" x1="536.30" y1="0" x2="681.70" y2="0"><stop offset="0.000" stop-color="#fff" stop-opacity="0.016"/><stop offset="1.000" stop-color="#fff" stop-opacity="0.016"/></linearGradient>
<linearGradient id="g_cr2_b10a_0" gradientUnits="userSpaceOnUse" x1="536.30" y1="0" x2="681.70" y2="0"><stop offset="0.000" stop-color="#fff" stop-opacity="0.075"/><stop offset="0.040" stop-color="#fff" stop-opacity="0.060"/><stop offset="0.270" stop-color="#fff" stop-opacity="0.030"/></linearGradient>
<linearGradient id="g_cr2_b10b_0" gradientUnits="userSpaceOnUse" x1="536.30" y1="0" x2="681.70" y2="0"><stop offset="0.730" stop-color="#fff" stop-opacity="0.030"/><stop offset="0.960" stop-color="#fff" stop-opacity="0.060"/><stop offset="1.000" stop-color="#fff" stop-opacity="0.075"/></linearGradient>
<linearGradient id="g_cr2_b11_0" gradientUnits="userSpaceOnUse" x1="536.30" y1="0" x2="681.70" y2="0"><stop offset="0.000" stop-color="#fff" stop-opacity="0.144"/><stop offset="0.030" stop-color="#fff" stop-opacity="0.090"/><stop offset="0.271" stop-color="#fff" stop-opacity="0.063"/><stop offset="0.450" stop-color="#fff" stop-opacity="0.032"/><stop offset="0.611" stop-color="#fff" stop-opacity="0.032"/><stop offset="0.850" stop-color="#fff" stop-opacity="0.063"/><stop offset="0.970" stop-color="#fff" stop-opacity="0.090"/><stop offset="1.000" stop-color="#fff" stop-opacity="0.144"/></linearGradient>
<linearGradient id="g_cr2_b12" gradientUnits="userSpaceOnUse" x1="536.30" y1="0" x2="681.70" y2="0"><stop offset="0.280" stop-color="#fff" stop-opacity="0.000"/><stop offset="0.360" stop-color="#fff" stop-opacity="0.012"/><stop offset="0.740" stop-color="#fff" stop-opacity="0.012"/><stop offset="0.820" stop-color="#fff" stop-opacity="0.000"/></linearGradient>
<filter id="bl_cr2_1" filterUnits="userSpaceOnUse" x="506.3" y="258.7" width="205.4" height="156.3" color-interpolation-filters="sRGB"><feGaussianBlur stdDeviation="0.75"/></filter>
<linearGradient id="g_cr2_b10a_1" gradientUnits="userSpaceOnUse" x1="536.30" y1="0" x2="681.70" y2="0"><stop offset="0.000" stop-color="#fff" stop-opacity="0.020"/><stop offset="0.040" stop-color="#fff" stop-opacity="0.016"/><stop offset="0.270" stop-color="#fff" stop-opacity="0.008"/></linearGradient>
<linearGradient id="g_cr2_b10b_1" gradientUnits="userSpaceOnUse" x1="536.30" y1="0" x2="681.70" y2="0"><stop offset="0.730" stop-color="#fff" stop-opacity="0.008"/><stop offset="0.960" stop-color="#fff" stop-opacity="0.016"/><stop offset="1.000" stop-color="#fff" stop-opacity="0.020"/></linearGradient>
<linearGradient id="g_cr2_b11_1" gradientUnits="userSpaceOnUse" x1="536.30" y1="0" x2="681.70" y2="0"><stop offset="0.000" stop-color="#fff" stop-opacity="0.048"/><stop offset="0.030" stop-color="#fff" stop-opacity="0.030"/><stop offset="0.271" stop-color="#fff" stop-opacity="0.021"/><stop offset="0.450" stop-color="#fff" stop-opacity="0.011"/><stop offset="0.611" stop-color="#fff" stop-opacity="0.011"/><stop offset="0.850" stop-color="#fff" stop-opacity="0.021"/><stop offset="0.970" stop-color="#fff" stop-opacity="0.030"/><stop offset="1.000" stop-color="#fff" stop-opacity="0.048"/></linearGradient>
</defs>
<rect width="685" height="420" fill="#fff"/>
<rect x="81.70" y="5.30" width="183.10" height="6.20" fill="url(#cbp)"/>
<rect x="81.7" y="215.1" width="183.1" height="6.3" fill="url(#cbp)"/>
<text x="52.70" y="10.20" font-size="11.70" text-anchor="start" font-weight="bold">low</text>
<text x="270.60" y="10.20" font-size="11.80" text-anchor="start" font-weight="bold">high</text>
<g clip-path="url(#cp_a1)"><g filter="url(#cm_a1)">
<rect x="26.00" y="-4.20" width="294.30" height="208.00" fill="#262626"/>
<rect x="-4.86" y="11.60" width="356.02" height="13.30" fill="#0d0d0d" fill-opacity="0.850" filter="url(#bf_a1_0)"/>
<rect x="-4.86" y="31.90" width="356.02" height="19.60" fill="#454545" fill-opacity="0.450" filter="url(#bf_a1_1)"/>
<rect x="122.29" y="35.40" width="139.86" height="15.40" fill="#4c4c4c" fill-opacity="0.300" filter="url(#bf_a1_2)"/>
<rect x="-4.86" y="52.48" width="356.02" height="4.90" fill="#0a0a0a" fill-opacity="0.650" filter="url(#bf_a1_3)"/>
<rect x="-4.86" y="58.92" width="356.02" height="5.88" fill="#0a0a0a" fill-opacity="0.700" filter="url(#bf_a1_4)"/>
<rect x="-4.86" y="64.80" width="356.02" height="15.40" fill="#616161" fill-opacity="0.400" filter="url(#bf_a1_5)"/>
<rect x="-4.86" y="85.80" width="356.02" height="22.40" fill="#5c5c5c" fill-opacity="0.550" filter="url(#bf_a1_6)"/>
<rect x="122.29" y="94.20" width="81.38" height="14.00" fill="#262626" fill-opacity="0.500" filter="url(#bf_a1_7)"/>
<rect x="-4.86" y="109.32" width="356.02" height="81.48" fill="#080808" fill-opacity="0.700" filter="url(#bf_a1_8)"/>
<rect x="-4.86" y="130.60" width="356.02" height="60.20" fill="#000000" fill-opacity="0.600" filter="url(#bf_a1_9)"/>
<rect x="107.03" y="121.92" width="58.49" height="5.46" fill="#000000" fill-opacity="0.900" filter="url(#bf_a1_10)"/>
<rect x="20.57" y="139.28" width="89.01" height="3.22" fill="#000000" fill-opacity="0.700" filter="url(#bf_a1_11)"/>
<rect x="20.57" y="117.30" width="55.95" height="3.50" fill="#000000" fill-opacity="0.600" filter="url(#bf_a1_12)"/>
<rect x="20.57" y="109.04" width="101.72" height="2.24" fill="#000000" fill-opacity="0.600" filter="url(#bf_a1_13)"/>
<path d="M20.57 190.80L20.57 171.37L45.96 171.37L63.63 170.71L83.27 169.14L96.36 167.44L106.83 166.13L114.81 165.48L139.20 165.68L153.80 164.95L175.69 163.49L201.24 162.76L219.65 164.42L235.41 166.47L251.18 168.36L266.94 169.94L282.71 170.88L300.21 171.51L325.73 171.51L325.73 190.80Z" fill="#000000" fill-opacity="1.000" filter="url(#bf_a1_14)"/>
<g fill="none" stroke-width="6.00" opacity="0.080" filter="url(#bl_a1_0)" stroke-linecap="round">
<path d="M46.0 57.6C47.0 57.7 49.8 57.6 52.0 57.7C54.2 57.8 55.8 57.9 59.0 58.3C62.2 58.6 67.0 59.3 71.0 60.0C75.0 60.7 78.9 61.6 82.9 62.4C86.9 63.2 90.8 63.9 94.8 64.6C98.8 65.3 103.4 66.0 106.7 66.5C110.0 67.1 111.1 67.3 114.8 67.8C118.5 68.3 124.5 69.0 128.8 69.5C133.1 70.1 136.7 70.4 140.7 71.0C144.7 71.5 148.6 72.2 152.6 72.7C156.6 73.3 160.5 73.8 164.5 74.3C168.5 74.8 172.4 75.2 176.4 75.7C180.4 76.3 184.2 76.9 188.3 77.5C192.4 78.0 196.9 78.3 201.2 78.9C205.5 79.5 209.9 80.4 214.0 81.1C218.1 81.8 222.0 82.5 226.0 83.0C230.0 83.6 233.9 84.0 237.9 84.5C241.9 84.9 245.8 85.2 249.8 85.6C253.8 85.9 260.0 86.5 262.0 86.6" stroke="url(#g_a1_b1)"/>
<path d="M114.8 67.8C116.3 67.4 120.9 65.9 124.0 65.2C127.1 64.4 130.0 63.7 133.6 63.2C137.2 62.7 141.9 62.3 145.5 62.4C149.1 62.5 151.8 62.9 155.0 63.6C158.2 64.3 160.9 65.4 164.5 66.4C168.1 67.3 172.4 68.4 176.4 69.1C180.4 69.9 184.2 70.6 188.3 71.0C192.4 71.4 196.9 71.6 201.2 71.5C205.5 71.5 209.9 71.3 214.0 70.7C218.1 70.2 222.0 69.2 226.0 68.4C230.0 67.5 233.9 66.4 237.9 65.6C241.9 64.7 245.8 64.0 249.8 63.2C253.8 62.4 257.7 61.5 261.7 60.8C265.7 60.1 269.6 59.5 273.6 59.1C277.6 58.6 282.1 58.2 285.5 58.0C288.9 57.7 291.5 57.8 294.0 57.7C296.5 57.6 299.2 57.6 300.3 57.6" stroke="url(#g_a1_b2)"/>
<path d="M46.0 65.7C47.3 65.8 51.0 65.8 54.0 65.9C57.0 66.0 60.2 65.9 63.8 66.4C67.4 66.8 71.7 67.6 75.7 68.4C79.7 69.1 83.6 70.0 87.6 70.7C91.6 71.4 95.5 72.1 99.5 72.6C103.5 73.0 108.9 73.3 111.4 73.5C114.0 73.7 111.9 73.5 114.8 73.5C117.7 73.5 124.5 73.4 128.8 73.4C133.1 73.4 136.7 73.4 140.7 73.5C144.7 73.6 148.6 73.9 152.6 74.1C156.6 74.4 160.5 74.6 164.5 74.8C168.5 75.0 172.4 75.3 176.4 75.5C180.4 75.8 184.2 76.0 188.3 76.3C192.4 76.6 196.9 77.3 201.2 77.1C205.5 76.9 209.9 75.9 214.0 75.3C218.1 74.7 222.0 74.1 226.0 73.5C230.0 72.9 233.9 72.2 237.9 71.5C241.9 70.9 245.8 70.1 249.8 69.5C253.8 68.9 257.7 68.4 261.7 68.0C265.7 67.5 269.6 67.1 273.6 66.8C277.6 66.5 282.1 66.2 285.5 66.1C288.9 65.9 291.5 65.9 294.0 65.8C296.5 65.7 299.2 65.7 300.3 65.7" stroke="url(#g_a1_b3)"/>
<path d="M46.0 65.7C47.3 65.8 51.0 65.8 54.0 66.0C57.0 66.2 60.2 66.5 63.8 67.0C67.4 67.5 71.7 68.4 75.7 69.1C79.7 69.9 83.6 70.7 87.6 71.5C91.6 72.4 95.9 73.5 99.5 74.3C103.1 75.1 106.5 75.7 109.0 76.1C111.5 76.4 111.5 76.4 114.8 76.5C118.1 76.5 124.5 76.6 128.8 76.5C133.1 76.5 136.7 76.2 140.7 76.3C144.7 76.3 148.6 76.6 152.6 76.8C156.6 77.1 160.5 77.4 164.5 77.6C168.5 77.9 172.4 78.1 176.4 78.3C180.4 78.4 184.2 78.6 188.3 78.7C192.4 78.8 196.9 78.9 201.2 78.9C205.5 78.9 209.9 78.7 214.0 78.5C218.1 78.2 222.0 78.1 226.0 77.5C230.0 76.9 233.9 76.0 237.9 75.1C241.9 74.3 245.8 73.4 249.8 72.5C253.8 71.6 257.7 70.5 261.7 69.7C265.7 68.9 269.6 68.0 273.6 67.5C277.6 66.9 282.1 66.5 285.5 66.2C288.9 65.9 291.5 65.9 294.0 65.8C296.5 65.8 299.2 65.8 300.3 65.7" stroke="url(#g_a1_b4)"/>
<path d="M46.0 77.3C49.0 77.3 56.9 77.3 63.8 77.2C70.7 77.2 80.4 77.0 87.6 76.8C94.8 76.7 102.2 76.5 106.7 76.4C111.2 76.3 113.5 76.3 114.8 76.3" stroke="url(#g_a1_b5a)"/>
<path d="M208.0 79.6C209.8 79.6 215.3 79.8 219.0 79.5C222.7 79.3 226.8 78.5 230.3 78.1C233.8 77.8 236.0 77.7 239.8 77.5C243.6 77.3 247.6 77.2 253.0 77.1C258.4 77.1 264.1 77.0 272.0 77.0C279.9 77.0 295.6 77.3 300.3 77.3" stroke="url(#g_a1_b5b)"/>
<path d="M46.0 68.4C49.0 68.4 58.8 68.5 63.8 68.8C68.8 69.0 71.7 69.2 75.7 69.7C79.7 70.2 85.6 71.2 87.6 71.5" stroke="url(#g_a1_b6a)"/>
<path d="M266.0 68.1C267.2 68.2 269.8 68.2 273.0 68.3C276.2 68.4 280.4 68.5 285.0 68.5C289.6 68.5 297.8 68.4 300.3 68.4" stroke="url(#g_a1_b6b)"/>
<path d="M46.0 70.3C49.0 70.4 56.9 70.4 63.8 70.6C70.7 70.7 79.1 71.0 87.6 71.1C96.1 71.3 110.3 71.5 114.8 71.5" stroke="url(#g_a1_b7a)"/>
<path d="M226.0 73.1C228.8 72.9 235.9 71.9 242.6 71.5C249.3 71.1 256.8 70.9 266.4 70.7C276.0 70.5 294.6 70.4 300.3 70.3" stroke="url(#g_a1_b7b)"/>
<path d="M96.0 86.8C96.8 86.6 98.5 86.1 100.7 85.7C102.9 85.2 106.7 84.5 109.0 84.2C111.3 84.0 111.5 83.9 114.8 84.0C118.1 84.1 124.5 84.8 128.8 85.0C133.1 85.2 136.8 85.3 140.7 85.3C144.6 85.3 148.0 85.1 152.0 85.0C156.0 84.8 160.4 84.6 164.5 84.2C168.6 83.8 172.4 83.3 176.4 82.6C180.4 82.0 184.2 80.9 188.3 80.3C192.4 79.6 199.0 78.9 201.2 78.7" stroke="url(#g_a1_b8)"/>
<path d="M201.2 78.5C202.2 78.4 205.1 78.4 207.4 78.0C209.7 77.6 212.1 77.1 215.0 76.1C217.9 75.1 221.9 73.0 224.6 71.9C227.3 70.9 228.9 70.3 231.0 69.6C233.1 68.9 236.0 68.1 237.0 67.8" stroke="url(#g_a1_b9)"/>
<path d="M46.0 41.5C47.4 41.5 51.3 41.6 54.3 41.9C57.3 42.2 60.2 42.6 63.8 43.3C67.4 43.9 71.7 44.8 75.7 45.7C79.7 46.5 83.6 47.4 87.6 48.4C91.6 49.5 95.0 50.6 99.5 51.8C104.0 53.0 112.2 54.9 114.8 55.5" stroke="url(#g_a1_b10a)"/>
<path d="M231.6 55.5C234.2 54.9 242.4 53.0 247.0 51.8C251.6 50.6 255.1 49.5 259.0 48.4C262.9 47.4 266.7 46.5 270.6 45.7C274.5 44.8 278.9 43.9 282.5 43.3C286.1 42.6 289.0 42.2 292.0 41.9C295.0 41.6 298.9 41.5 300.3 41.5" stroke="url(#g_a1_b10b)"/>
<path d="M46.0 48.8C47.3 48.9 51.0 48.9 54.0 49.1C57.0 49.3 60.2 49.6 63.8 50.0C67.4 50.4 71.7 50.9 75.7 51.5C79.7 52.0 83.6 52.6 87.6 53.2C91.6 53.8 95.5 54.6 99.5 55.2C103.5 55.7 108.9 56.3 111.4 56.5C114.0 56.8 112.0 56.7 114.8 56.8C117.6 56.9 123.7 57.0 128.0 57.1C132.3 57.3 136.6 57.3 140.7 57.6C144.8 58.0 148.6 58.8 152.6 59.2C156.6 59.6 159.9 59.9 164.5 60.0C169.1 60.2 173.9 60.2 180.0 60.2C186.1 60.3 192.8 60.2 201.2 60.2C209.6 60.1 222.6 60.3 230.7 60.0C238.8 59.7 244.6 59.2 249.8 58.4C255.0 57.6 258.0 56.3 261.7 55.3C265.4 54.2 268.5 53.0 272.0 52.1C275.5 51.3 279.2 50.5 282.5 50.0C285.8 49.5 289.0 49.3 292.0 49.1C295.0 48.9 298.9 48.9 300.3 48.8" stroke="url(#g_a1_b11)"/>
<path d="M117.2 68.7C122.3 68.8 138.4 69.1 147.7 69.3C157.0 69.4 164.2 69.5 173.2 69.6C182.1 69.6 191.8 69.7 201.1 69.7C210.4 69.7 220.2 69.7 229.1 69.6C238.0 69.4 250.3 69.1 254.5 69.0" stroke="url(#g_a1_b12)"/>
<path d="M46.0 89.2C47.8 89.2 53.1 89.3 57.1 89.2C61.1 89.1 65.8 89.0 70.2 88.8C74.5 88.6 78.9 88.3 83.3 87.9C87.6 87.5 91.1 87.1 96.4 86.6C101.6 86.1 111.7 85.2 114.8 84.9" stroke="url(#g_a1_L1)"/>
<path d="M258.3 87.5C259.7 87.7 263.7 88.3 266.9 88.6C270.2 89.0 274.0 89.4 278.0 89.6C281.9 89.7 286.9 89.5 290.6 89.4C294.3 89.3 298.6 89.1 300.2 89.1" stroke="url(#g_a1_L1b)"/>
<path d="M70.2 89.6C72.4 89.7 78.9 90.3 83.3 90.5C87.6 90.7 91.1 90.8 96.4 90.9C101.6 91.0 107.7 91.2 114.8 91.2C122.0 91.1 130.3 90.9 139.2 90.8C148.1 90.6 158.1 90.5 168.4 90.5C178.7 90.5 192.7 90.8 201.2 90.8C209.8 90.8 212.6 90.6 219.6 90.5C226.7 90.4 234.1 90.3 243.3 90.2C252.5 90.1 269.6 89.9 274.8 89.9" stroke="url(#g_a1_L2)"/>
<path d="M46.0 94.8C52.2 94.8 71.8 94.9 83.3 94.8C94.7 94.8 103.1 94.6 114.8 94.4C126.6 94.2 139.4 93.9 153.8 93.7C168.2 93.5 189.0 92.9 201.2 93.1C213.5 93.3 216.6 94.4 227.5 94.6C238.5 94.9 254.8 94.6 266.9 94.6C279.1 94.6 294.7 94.6 300.2 94.6" stroke="url(#g_a1_L3)"/>
<path d="M46.0 102.9C47.8 103.1 53.1 103.5 57.1 103.6C61.1 103.7 65.8 103.7 70.2 103.6C74.5 103.4 78.9 102.9 83.3 102.7C87.6 102.5 91.1 102.5 96.4 102.3C101.6 102.1 111.7 101.7 114.8 101.6" stroke="url(#g_a1_L4a)"/>
<path d="M168.4 96.6C171.3 96.8 180.4 97.6 185.9 98.1C191.4 98.5 196.9 98.9 201.2 99.2C205.5 99.5 207.4 99.7 211.8 99.8C216.1 100.0 222.3 99.9 227.5 100.1C232.8 100.4 238.0 100.8 243.3 101.2C248.6 101.6 253.8 102.1 259.1 102.5C264.3 102.9 269.6 103.4 274.8 103.8C280.1 104.1 286.4 104.3 290.6 104.4C294.8 104.4 298.6 104.1 300.2 104.1" stroke="url(#g_a1_L4b)"/>
<path d="M46.0 106.2C52.2 106.2 71.8 106.1 83.3 106.0C94.7 105.8 103.1 105.4 114.8 105.6C126.6 105.7 139.4 106.9 153.8 106.8C168.2 106.8 186.3 105.3 201.2 105.4C216.2 105.4 226.8 106.8 243.3 107.2C259.8 107.7 290.7 107.9 300.2 108.0" stroke="url(#g_a1_L5)"/>
<path d="M46.0 113.4C52.2 113.3 73.8 113.1 83.3 112.8C92.8 112.4 97.6 111.7 102.9 111.5C108.2 111.2 110.0 111.1 114.8 111.1C119.6 111.0 129.1 111.2 131.9 111.2" stroke="url(#g_a1_L7)"/>
<path d="M235.4 110.4C239.4 110.3 251.2 110.2 259.1 110.1C266.9 109.9 275.9 109.7 282.7 109.6C289.6 109.5 297.3 109.6 300.2 109.6" stroke="url(#g_a1_L7b)"/>
<path d="M46.0 115.4C47.8 115.4 53.1 115.7 57.1 115.8C61.1 115.9 65.8 115.9 70.2 116.0C74.5 116.2 80.0 116.4 83.3 116.7C86.5 117.0 87.6 117.6 89.8 118.0C92.0 118.4 94.2 118.9 96.4 119.3C98.5 119.7 99.8 119.9 102.9 120.2C106.0 120.5 111.2 121.1 114.8 121.3C118.4 121.5 119.6 121.1 124.6 121.4C129.6 121.7 139.4 122.9 145.0 122.9C150.6 122.8 154.3 121.6 158.2 121.1C162.1 120.7 164.7 120.7 168.4 120.2C172.0 119.8 176.2 119.0 180.1 118.5C184.0 118.0 188.2 117.4 191.8 117.0C195.3 116.7 197.9 116.6 201.2 116.6C204.6 116.6 207.4 116.6 211.8 117.0C216.1 117.4 222.3 118.4 227.5 119.0C232.8 119.7 238.0 120.4 243.3 121.1C248.6 121.8 253.8 122.5 259.1 123.3C264.3 124.1 270.4 125.1 274.8 125.8C279.3 126.5 281.6 126.9 285.9 127.4C290.1 127.9 297.8 128.7 300.2 129.0" stroke="url(#g_a1_L6)"/>
<path d="M114.8 119.2C117.7 118.7 126.6 117.1 131.9 116.3C137.2 115.5 141.6 115.1 146.5 114.4C151.4 113.7 156.2 112.7 161.1 111.9C166.0 111.2 170.8 110.5 175.7 110.0C180.6 109.6 186.0 109.3 190.3 109.2C194.5 109.0 196.3 108.8 201.2 109.0C206.1 109.2 214.0 110.0 219.6 110.4C225.3 110.7 230.2 110.8 235.4 111.2C240.7 111.6 245.9 112.2 251.2 112.7C256.4 113.3 262.5 113.9 266.9 114.3C271.4 114.8 274.0 115.2 278.0 115.4C281.9 115.6 286.9 115.4 290.6 115.4C294.3 115.4 298.6 115.4 300.2 115.4" stroke="url(#g_a1_L8)"/>
<path d="M46.0 125.2C50.0 125.1 64.0 125.0 70.2 124.5C76.4 124.1 78.9 123.2 83.3 122.6C87.6 121.9 92.4 121.2 96.4 120.6C100.3 120.1 105.1 119.5 106.8 119.3" stroke="url(#g_a1_L9)"/>
<path d="M105.5 128.5C107.1 128.5 109.2 128.5 114.8 128.5C120.4 128.5 130.3 128.4 139.2 128.4C148.1 128.5 158.1 128.6 168.4 128.7C178.7 128.8 194.0 128.8 201.2 129.0C208.5 129.2 207.4 130.0 211.8 130.1C216.1 130.1 222.3 129.5 227.5 129.3C232.8 129.1 238.0 129.0 243.3 129.0C248.6 128.9 253.8 128.9 259.1 129.0C264.3 129.0 269.6 129.1 274.8 129.3C280.1 129.5 286.4 130.0 290.6 130.1C294.8 130.2 298.6 130.1 300.2 130.1" stroke="url(#g_a1_L10)"/>
<path d="M46.0 127.2C50.0 127.2 61.8 127.3 70.2 127.2C78.6 127.0 92.0 126.6 96.4 126.5" stroke="url(#g_a1_L11)"/>
<path d="M175.7 115.6C178.1 116.7 186.0 120.5 190.3 122.1C194.5 123.8 197.7 124.7 201.2 125.5C204.8 126.3 207.4 126.3 211.8 126.9C216.1 127.6 224.9 128.9 227.5 129.3" stroke="url(#g_a1_L12)"/>
<path d="M175.7 125.8C180.0 125.7 193.9 126.2 201.2 125.5C208.6 124.8 214.0 122.5 219.6 121.4C225.3 120.3 230.2 119.7 235.4 119.0C240.7 118.4 245.9 118.0 251.2 117.5C256.4 116.9 264.3 116.2 266.9 115.9" stroke="url(#g_a1_L12b)"/>
<path d="M46.0 132.6C48.9 132.8 58.5 133.3 63.6 133.7C68.8 134.1 72.4 134.5 76.7 135.0C81.1 135.4 86.1 136.0 89.8 136.3C93.5 136.6 96.1 136.6 99.0 136.8C101.8 137.0 104.2 137.4 106.8 137.6C109.5 137.8 109.4 137.4 114.8 137.9C120.2 138.3 130.3 139.6 139.2 140.2C148.1 140.9 158.1 141.6 168.4 141.7C178.7 141.8 195.8 141.1 201.2 140.9" stroke="url(#g_a1_L13)"/>
<path d="M99.0 136.8C100.3 136.6 104.2 135.9 106.8 135.5C109.5 135.1 111.1 134.6 114.8 134.6C118.5 134.6 124.9 135.1 129.0 135.5C133.0 136.0 135.1 136.6 139.2 137.0C143.3 137.4 148.9 137.7 153.8 138.0C158.7 138.3 163.5 138.8 168.4 138.8C173.3 138.8 177.5 138.3 183.0 138.0C188.5 137.8 198.2 137.4 201.2 137.3" stroke="url(#g_a1_L13b)"/>
<path d="M216.5 130.0C218.3 130.5 223.1 132.2 227.5 133.2C232.0 134.1 238.0 135.0 243.3 135.5C248.6 136.0 253.8 136.4 259.1 136.3C264.3 136.2 269.6 135.3 274.8 134.7C280.1 134.2 286.4 133.2 290.6 132.8C294.8 132.4 298.6 132.4 300.2 132.4" stroke="url(#g_a1_L13c)"/>
<path d="M46.0 137.9C50.0 137.7 64.0 137.2 70.2 137.2C76.4 137.2 75.8 137.5 83.3 137.9C90.7 138.2 109.6 138.9 114.8 139.2" stroke="url(#g_a1_L14)"/>
<path d="M201.4 137.9C205.7 138.0 219.2 138.7 227.5 138.7C235.8 138.7 243.3 138.1 251.2 137.9C259.1 137.6 266.7 137.4 274.8 137.1C283.0 136.8 296.0 136.4 300.2 136.3" stroke="url(#g_a1_L14b)"/>
<path d="M46.0 145.1C50.0 144.8 64.0 144.2 70.2 143.7C76.4 143.3 78.9 142.9 83.3 142.4C87.6 142.0 91.1 141.2 96.4 141.1C101.6 141.1 107.7 141.8 114.8 142.0C122.0 142.3 130.3 142.1 139.2 142.4C148.1 142.7 161.6 143.4 168.4 143.9C175.2 144.4 174.6 145.3 180.1 145.3C185.5 145.3 197.7 144.1 201.2 143.9" stroke="url(#g_a1_L15)"/>
<path d="M201.4 148.6C204.4 148.1 214.0 146.6 219.6 145.8C225.3 145.0 230.2 144.4 235.4 143.9C240.7 143.3 244.6 142.7 251.2 142.6C257.7 142.5 266.7 143.1 274.8 143.4C283.0 143.7 296.0 144.1 300.2 144.2" stroke="url(#g_a1_L15c)"/>
<path d="M46.0 149.6C50.0 149.5 62.9 149.2 70.2 149.0C77.5 148.8 82.4 148.6 89.8 148.3C97.3 148.0 108.3 147.4 114.8 147.3C121.3 147.1 122.5 147.4 129.0 147.5C135.5 147.7 144.8 148.1 153.8 148.2C162.8 148.4 175.1 148.4 183.0 148.2C190.9 148.1 193.8 147.5 201.2 147.5C208.7 147.6 220.0 148.3 227.5 148.6C235.1 148.9 238.6 149.1 246.4 149.2C254.3 149.3 265.9 149.3 274.8 149.2C283.8 149.2 296.0 149.0 300.2 148.9" stroke="url(#g_a1_L16)"/>
<path d="M46.0 153.6C50.0 153.5 62.9 153.2 70.2 152.9C77.5 152.6 82.4 152.3 89.8 152.0C97.3 151.7 104.1 150.7 114.8 150.9C125.5 151.2 142.4 152.8 153.8 153.4C165.2 153.9 175.1 154.1 183.0 154.1C190.9 154.1 198.2 153.5 201.2 153.4" stroke="url(#g_a1_L17)"/>
<path d="M201.4 143.4C204.4 143.7 214.0 144.6 219.6 145.3C225.3 145.9 230.9 146.7 235.4 147.3C239.9 148.0 241.2 148.7 246.4 149.2C251.7 149.8 260.9 150.0 266.9 150.5C273.0 151.0 277.2 151.5 282.7 152.1C288.3 152.6 297.3 153.4 300.2 153.6" stroke="url(#g_a1_L17b)"/>
<path d="M46.0 161.4C50.0 161.2 62.9 160.8 70.2 160.4C77.5 160.0 82.4 159.4 89.8 159.1C97.3 158.7 106.6 158.4 114.8 158.1C123.0 157.9 130.3 158.0 139.2 157.7C148.1 157.4 158.1 156.4 168.4 156.3C178.7 156.2 194.0 156.8 201.2 157.0C208.5 157.2 207.4 157.9 211.8 157.6C216.1 157.3 223.6 155.9 227.5 155.2C231.5 154.6 234.1 153.9 235.4 153.6" stroke="url(#g_a1_L18)"/>
<path d="M201.4 153.6C205.7 153.6 220.5 153.4 227.5 153.6C234.5 153.9 238.0 154.6 243.3 155.2C248.6 155.9 253.8 156.8 259.1 157.6C264.3 158.4 269.6 159.3 274.8 160.0C280.1 160.6 286.4 161.0 290.6 161.2C294.8 161.5 298.6 161.5 300.2 161.5" stroke="url(#g_a1_L18b)"/>
<path d="M46.0 169.3C48.9 169.2 57.4 169.0 63.6 168.6C69.9 168.2 77.8 167.6 83.3 167.0C88.7 166.5 92.4 165.8 96.4 165.3C100.3 164.8 103.8 164.4 106.8 164.0C109.9 163.7 109.4 163.5 114.8 163.4C120.2 163.3 132.7 163.7 139.2 163.6C145.7 163.5 147.7 163.2 153.8 162.8C159.9 162.5 167.8 161.8 175.7 161.4C183.6 161.0 193.9 160.5 201.2 160.7C208.6 160.8 214.0 161.7 219.6 162.3C225.3 162.9 230.2 163.7 235.4 164.4C240.7 165.0 245.9 165.7 251.2 166.3C256.4 166.8 261.7 167.4 266.9 167.8C272.2 168.3 277.2 168.5 282.7 168.8C288.3 169.0 297.3 169.3 300.2 169.4" stroke="url(#g_a1_L19)"/>
<path d="M46.0 98.4C52.4 98.4 72.7 98.3 84.1 98.1C95.6 97.9 101.9 97.2 114.7 97.3C127.4 97.3 146.0 98.4 160.4 98.4C174.8 98.4 186.3 97.0 201.1 97.0C216.0 97.0 232.9 97.9 249.4 98.1C266.0 98.4 291.8 98.4 300.3 98.4" stroke="url(#g_a1_F1)"/>
<path d="M46.0 100.5C52.4 100.6 72.7 100.8 84.1 100.9C95.6 101.1 101.9 101.2 114.7 101.5C127.4 101.8 146.0 102.3 160.4 102.6C174.8 102.9 186.3 102.6 201.1 103.3C216.0 104.0 232.9 106.1 249.4 106.8C266.0 107.5 291.8 107.4 300.3 107.5" stroke="url(#g_a1_F2)"/>
<path d="M114.7 107.5C120.2 107.2 138.0 106.3 147.7 105.7C157.5 105.1 164.2 104.5 173.2 104.0C182.1 103.5 196.5 103.1 201.1 102.9" stroke="url(#g_a1_F3)"/>
<path d="M46.0 120.1C50.2 120.0 63.0 120.0 71.4 119.7C79.9 119.3 89.7 118.5 96.9 118.0C104.1 117.5 106.2 117.3 114.7 116.6C123.1 115.9 138.0 114.4 147.7 113.8C157.5 113.2 164.2 113.1 173.2 113.1C182.1 113.1 196.5 113.7 201.1 113.8" stroke="url(#g_a1_F4)"/>
<path d="M201.1 122.2C204.9 122.2 216.0 122.6 224.0 122.5C232.1 122.4 241.0 121.9 249.4 121.5C257.9 121.1 266.4 120.4 274.9 120.1C283.3 119.8 296.1 119.8 300.3 119.7" stroke="url(#g_a1_F5)"/>
</g>
<g fill="none" stroke-width="2.40" opacity="0.400" filter="url(#bl_a1_1)" stroke-linecap="round">
<path d="M46.0 57.6C47.0 57.7 49.8 57.6 52.0 57.7C54.2 57.8 55.8 57.9 59.0 58.3C62.2 58.6 67.0 59.3 71.0 60.0C75.0 60.7 78.9 61.6 82.9 62.4C86.9 63.2 90.8 63.9 94.8 64.6C98.8 65.3 103.4 66.0 106.7 66.5C110.0 67.1 111.1 67.3 114.8 67.8C118.5 68.3 124.5 69.0 128.8 69.5C133.1 70.1 136.7 70.4 140.7 71.0C144.7 71.5 148.6 72.2 152.6 72.7C156.6 73.3 160.5 73.8 164.5 74.3C168.5 74.8 172.4 75.2 176.4 75.7C180.4 76.3 184.2 76.9 188.3 77.5C192.4 78.0 196.9 78.3 201.2 78.9C205.5 79.5 209.9 80.4 214.0 81.1C218.1 81.8 222.0 82.5 226.0 83.0C230.0 83.6 233.9 84.0 237.9 84.5C241.9 84.9 245.8 85.2 249.8 85.6C253.8 85.9 260.0 86.5 262.0 86.6" stroke="url(#g_a1_b1)"/>
<path d="M114.8 67.8C116.3 67.4 120.9 65.9 124.0 65.2C127.1 64.4 130.0 63.7 133.6 63.2C137.2 62.7 141.9 62.3 145.5 62.4C149.1 62.5 151.8 62.9 155.0 63.6C158.2 64.3 160.9 65.4 164.5 66.4C168.1 67.3 172.4 68.4 176.4 69.1C180.4 69.9 184.2 70.6 188.3 71.0C192.4 71.4 196.9 71.6 201.2 71.5C205.5 71.5 209.9 71.3 214.0 70.7C218.1 70.2 222.0 69.2 226.0 68.4C230.0 67.5 233.9 66.4 237.9 65.6C241.9 64.7 245.8 64.0 249.8 63.2C253.8 62.4 257.7 61.5 261.7 60.8C265.7 60.1 269.6 59.5 273.6 59.1C277.6 58.6 282.1 58.2 285.5 58.0C288.9 57.7 291.5 57.8 294.0 57.7C296.5 57.6 299.2 57.6 300.3 57.6" stroke="url(#g_a1_b2)"/>
<path d="M46.0 65.7C47.3 65.8 51.0 65.8 54.0 65.9C57.0 66.0 60.2 65.9 63.8 66.4C67.4 66.8 71.7 67.6 75.7 68.4C79.7 69.1 83.6 70.0 87.6 70.7C91.6 71.4 95.5 72.1 99.5 72.6C103.5 73.0 108.9 73.3 111.4 73.5C114.0 73.7 111.9 73.5 114.8 73.5C117.7 73.5 124.5 73.4 128.8 73.4C133.1 73.4 136.7 73.4 140.7 73.5C144.7 73.6 148.6 73.9 152.6 74.1C156.6 74.4 160.5 74.6 164.5 74.8C168.5 75.0 172.4 75.3 176.4 75.5C180.4 75.8 184.2 76.0 188.3 76.3C192.4 76.6 196.9 77.3 201.2 77.1C205.5 76.9 209.9 75.9 214.0 75.3C218.1 74.7 222.0 74.1 226.0 73.5C230.0 72.9 233.9 72.2 237.9 71.5C241.9 70.9 245.8 70.1 249.8 69.5C253.8 68.9 257.7 68.4 261.7 68.0C265.7 67.5 269.6 67.1 273.6 66.8C277.6 66.5 282.1 66.2 285.5 66.1C288.9 65.9 291.5 65.9 294.0 65.8C296.5 65.7 299.2 65.7 300.3 65.7" stroke="url(#g_a1_b3)"/>
<path d="M46.0 65.7C47.3 65.8 51.0 65.8 54.0 66.0C57.0 66.2 60.2 66.5 63.8 67.0C67.4 67.5 71.7 68.4 75.7 69.1C79.7 69.9 83.6 70.7 87.6 71.5C91.6 72.4 95.9 73.5 99.5 74.3C103.1 75.1 106.5 75.7 109.0 76.1C111.5 76.4 111.5 76.4 114.8 76.5C118.1 76.5 124.5 76.6 128.8 76.5C133.1 76.5 136.7 76.2 140.7 76.3C144.7 76.3 148.6 76.6 152.6 76.8C156.6 77.1 160.5 77.4 164.5 77.6C168.5 77.9 172.4 78.1 176.4 78.3C180.4 78.4 184.2 78.6 188.3 78.7C192.4 78.8 196.9 78.9 201.2 78.9C205.5 78.9 209.9 78.7 214.0 78.5C218.1 78.2 222.0 78.1 226.0 77.5C230.0 76.9 233.9 76.0 237.9 75.1C241.9 74.3 245.8 73.4 249.8 72.5C253.8 71.6 257.7 70.5 261.7 69.7C265.7 68.9 269.6 68.0 273.6 67.5C277.6 66.9 282.1 66.5 285.5 66.2C288.9 65.9 291.5 65.9 294.0 65.8C296.5 65.8 299.2 65.8 300.3 65.7" stroke="url(#g_a1_b4)"/>
<path d="M46.0 77.3C49.0 77.3 56.9 77.3 63.8 77.2C70.7 77.2 80.4 77.0 87.6 76.8C94.8 76.7 102.2 76.5 106.7 76.4C111.2 76.3 113.5 76.3 114.8 76.3" stroke="url(#g_a1_b5a)"/>
<path d="M208.0 79.6C209.8 79.6 215.3 79.8 219.0 79.5C222.7 79.3 226.8 78.5 230.3 78.1C233.8 77.8 236.0 77.7 239.8 77.5C243.6 77.3 247.6 77.2 253.0 77.1C258.4 77.1 264.1 77.0 272.0 77.0C279.9 77.0 295.6 77.3 300.3 77.3" stroke="url(#g_a1_b5b)"/>
<path d="M46.0 68.4C49.0 68.4 58.8 68.5 63.8 68.8C68.8 69.0 71.7 69.2 75.7 69.7C79.7 70.2 85.6 71.2 87.6 71.5" stroke="url(#g_a1_b6a)"/>
<path d="M266.0 68.1C267.2 68.2 269.8 68.2 273.0 68.3C276.2 68.4 280.4 68.5 285.0 68.5C289.6 68.5 297.8 68.4 300.3 68.4" stroke="url(#g_a1_b6b)"/>
<path d="M46.0 70.3C49.0 70.4 56.9 70.4 63.8 70.6C70.7 70.7 79.1 71.0 87.6 71.1C96.1 71.3 110.3 71.5 114.8 71.5" stroke="url(#g_a1_b7a)"/>
<path d="M226.0 73.1C228.8 72.9 235.9 71.9 242.6 71.5C249.3 71.1 256.8 70.9 266.4 70.7C276.0 70.5 294.6 70.4 300.3 70.3" stroke="url(#g_a1_b7b)"/>
<path d="M96.0 86.8C96.8 86.6 98.5 86.1 100.7 85.7C102.9 85.2 106.7 84.5 109.0 84.2C111.3 84.0 111.5 83.9 114.8 84.0C118.1 84.1 124.5 84.8 128.8 85.0C133.1 85.2 136.8 85.3 140.7 85.3C144.6 85.3 148.0 85.1 152.0 85.0C156.0 84.8 160.4 84.6 164.5 84.2C168.6 83.8 172.4 83.3 176.4 82.6C180.4 82.0 184.2 80.9 188.3 80.3C192.4 79.6 199.0 78.9 201.2 78.7" stroke="url(#g_a1_b8)"/>
<path d="M201.2 78.5C202.2 78.4 205.1 78.4 207.4 78.0C209.7 77.6 212.1 77.1 215.0 76.1C217.9 75.1 221.9 73.0 224.6 71.9C227.3 70.9 228.9 70.3 231.0 69.6C233.1 68.9 236.0 68.1 237.0 67.8" stroke="url(#g_a1_b9)"/>
<path d="M46.0 41.5C47.4 41.5 51.3 41.6 54.3 41.9C57.3 42.2 60.2 42.6 63.8 43.3C67.4 43.9 71.7 44.8 75.7 45.7C79.7 46.5 83.6 47.4 87.6 48.4C91.6 49.5 95.0 50.6 99.5 51.8C104.0 53.0 112.2 54.9 114.8 55.5" stroke="url(#g_a1_b10a)"/>
<path d="M231.6 55.5C234.2 54.9 242.4 53.0 247.0 51.8C251.6 50.6 255.1 49.5 259.0 48.4C262.9 47.4 266.7 46.5 270.6 45.7C274.5 44.8 278.9 43.9 282.5 43.3C286.1 42.6 289.0 42.2 292.0 41.9C295.0 41.6 298.9 41.5 300.3 41.5" stroke="url(#g_a1_b10b)"/>
<path d="M46.0 48.8C47.3 48.9 51.0 48.9 54.0 49.1C57.0 49.3 60.2 49.6 63.8 50.0C67.4 50.4 71.7 50.9 75.7 51.5C79.7 52.0 83.6 52.6 87.6 53.2C91.6 53.8 95.5 54.6 99.5 55.2C103.5 55.7 108.9 56.3 111.4 56.5C114.0 56.8 112.0 56.7 114.8 56.8C117.6 56.9 123.7 57.0 128.0 57.1C132.3 57.3 136.6 57.3 140.7 57.6C144.8 58.0 148.6 58.8 152.6 59.2C156.6 59.6 159.9 59.9 164.5 60.0C169.1 60.2 173.9 60.2 180.0 60.2C186.1 60.3 192.8 60.2 201.2 60.2C209.6 60.1 222.6 60.3 230.7 60.0C238.8 59.7 244.6 59.2 249.8 58.4C255.0 57.6 258.0 56.3 261.7 55.3C265.4 54.2 268.5 53.0 272.0 52.1C275.5 51.3 279.2 50.5 282.5 50.0C285.8 49.5 289.0 49.3 292.0 49.1C295.0 48.9 298.9 48.9 300.3 48.8" stroke="url(#g_a1_b11)"/>
<path d="M117.2 68.7C122.3 68.8 138.4 69.1 147.7 69.3C157.0 69.4 164.2 69.5 173.2 69.6C182.1 69.6 191.8 69.7 201.1 69.7C210.4 69.7 220.2 69.7 229.1 69.6C238.0 69.4 250.3 69.1 254.5 69.0" stroke="url(#g_a1_b12)"/>
<path d="M46.0 89.2C47.8 89.2 53.1 89.3 57.1 89.2C61.1 89.1 65.8 89.0 70.2 88.8C74.5 88.6 78.9 88.3 83.3 87.9C87.6 87.5 91.1 87.1 96.4 86.6C101.6 86.1 111.7 85.2 114.8 84.9" stroke="url(#g_a1_L1)"/>
<path d="M258.3 87.5C259.7 87.7 263.7 88.3 266.9 88.6C270.2 89.0 274.0 89.4 278.0 89.6C281.9 89.7 286.9 89.5 290.6 89.4C294.3 89.3 298.6 89.1 300.2 89.1" stroke="url(#g_a1_L1b)"/>
<path d="M70.2 89.6C72.4 89.7 78.9 90.3 83.3 90.5C87.6 90.7 91.1 90.8 96.4 90.9C101.6 91.0 107.7 91.2 114.8 91.2C122.0 91.1 130.3 90.9 139.2 90.8C148.1 90.6 158.1 90.5 168.4 90.5C178.7 90.5 192.7 90.8 201.2 90.8C209.8 90.8 212.6 90.6 219.6 90.5C226.7 90.4 234.1 90.3 243.3 90.2C252.5 90.1 269.6 89.9 274.8 89.9" stroke="url(#g_a1_L2)"/>
<path d="M46.0 94.8C52.2 94.8 71.8 94.9 83.3 94.8C94.7 94.8 103.1 94.6 114.8 94.4C126.6 94.2 139.4 93.9 153.8 93.7C168.2 93.5 189.0 92.9 201.2 93.1C213.5 93.3 216.6 94.4 227.5 94.6C238.5 94.9 254.8 94.6 266.9 94.6C279.1 94.6 294.7 94.6 300.2 94.6" stroke="url(#g_a1_L3)"/>
<path d="M46.0 102.9C47.8 103.1 53.1 103.5 57.1 103.6C61.1 103.7 65.8 103.7 70.2 103.6C74.5 103.4 78.9 102.9 83.3 102.7C87.6 102.5 91.1 102.5 96.4 102.3C101.6 102.1 111.7 101.7 114.8 101.6" stroke="url(#g_a1_L4a)"/>
<path d="M168.4 96.6C171.3 96.8 180.4 97.6 185.9 98.1C191.4 98.5 196.9 98.9 201.2 99.2C205.5 99.5 207.4 99.7 211.8 99.8C216.1 100.0 222.3 99.9 227.5 100.1C232.8 100.4 238.0 100.8 243.3 101.2C248.6 101.6 253.8 102.1 259.1 102.5C264.3 102.9 269.6 103.4 274.8 103.8C280.1 104.1 286.4 104.3 290.6 104.4C294.8 104.4 298.6 104.1 300.2 104.1" stroke="url(#g_a1_L4b)"/>
<path d="M46.0 106.2C52.2 106.2 71.8 106.1 83.3 106.0C94.7 105.8 103.1 105.4 114.8 105.6C126.6 105.7 139.4 106.9 153.8 106.8C168.2 106.8 186.3 105.3 201.2 105.4C216.2 105.4 226.8 106.8 243.3 107.2C259.8 107.7 290.7 107.9 300.2 108.0" stroke="url(#g_a1_L5)"/>
<path d="M46.0 113.4C52.2 113.3 73.8 113.1 83.3 112.8C92.8 112.4 97.6 111.7 102.9 111.5C108.2 111.2 110.0 111.1 114.8 111.1C119.6 111.0 129.1 111.2 131.9 111.2" stroke="url(#g_a1_L7)"/>
<path d="M235.4 110.4C239.4 110.3 251.2 110.2 259.1 110.1C266.9 109.9 275.9 109.7 282.7 109.6C289.6 109.5 297.3 109.6 300.2 109.6" stroke="url(#g_a1_L7b)"/>
<path d="M46.0 115.4C47.8 115.4 53.1 115.7 57.1 115.8C61.1 115.9 65.8 115.9 70.2 116.0C74.5 116.2 80.0 116.4 83.3 116.7C86.5 117.0 87.6 117.6 89.8 118.0C92.0 118.4 94.2 118.9 96.4 119.3C98.5 119.7 99.8 119.9 102.9 120.2C106.0 120.5 111.2 121.1 114.8 121.3C118.4 121.5 119.6 121.1 124.6 121.4C129.6 121.7 139.4 122.9 145.0 122.9C150.6 122.8 154.3 121.6 158.2 121.1C162.1 120.7 164.7 120.7 168.4 120.2C172.0 119.8 176.2 119.0 180.1 118.5C184.0 118.0 188.2 117.4 191.8 117.0C195.3 116.7 197.9 116.6 201.2 116.6C204.6 116.6 207.4 116.6 211.8 117.0C216.1 117.4 222.3 118.4 227.5 119.0C232.8 119.7 238.0 120.4 243.3 121.1C248.6 121.8 253.8 122.5 259.1 123.3C264.3 124.1 270.4 125.1 274.8 125.8C279.3 126.5 281.6 126.9 285.9 127.4C290.1 127.9 297.8 128.7 300.2 129.0" stroke="url(#g_a1_L6)"/>
<path d="M114.8 119.2C117.7 118.7 126.6 117.1 131.9 116.3C137.2 115.5 141.6 115.1 146.5 114.4C151.4 113.7 156.2 112.7 161.1 111.9C166.0 111.2 170.8 110.5 175.7 110.0C180.6 109.6 186.0 109.3 190.3 109.2C194.5 109.0 196.3 108.8 201.2 109.0C206.1 109.2 214.0 110.0 219.6 110.4C225.3 110.7 230.2 110.8 235.4 111.2C240.7 111.6 245.9 112.2 251.2 112.7C256.4 113.3 262.5 113.9 266.9 114.3C271.4 114.8 274.0 115.2 278.0 115.4C281.9 115.6 286.9 115.4 290.6 115.4C294.3 115.4 298.6 115.4 300.2 115.4" stroke="url(#g_a1_L8)"/>
<path d="M46.0 125.2C50.0 125.1 64.0 125.0 70.2 124.5C76.4 124.1 78.9 123.2 83.3 122.6C87.6 121.9 92.4 121.2 96.4 120.6C100.3 120.1 105.1 119.5 106.8 119.3" stroke="url(#g_a1_L9)"/>
<path d="M105.5 128.5C107.1 128.5 109.2 128.5 114.8 128.5C120.4 128.5 130.3 128.4 139.2 128.4C148.1 128.5 158.1 128.6 168.4 128.7C178.7 128.8 194.0 128.8 201.2 129.0C208.5 129.2 207.4 130.0 211.8 130.1C216.1 130.1 222.3 129.5 227.5 129.3C232.8 129.1 238.0 129.0 243.3 129.0C248.6 128.9 253.8 128.9 259.1 129.0C264.3 129.0 269.6 129.1 274.8 129.3C280.1 129.5 286.4 130.0 290.6 130.1C294.8 130.2 298.6 130.1 300.2 130.1" stroke="url(#g_a1_L10)"/>
<path d="M46.0 127.2C50.0 127.2 61.8 127.3 70.2 127.2C78.6 127.0 92.0 126.6 96.4 126.5" stroke="url(#g_a1_L11)"/>
<path d="M175.7 115.6C178.1 116.7 186.0 120.5 190.3 122.1C194.5 123.8 197.7 124.7 201.2 125.5C204.8 126.3 207.4 126.3 211.8 126.9C216.1 127.6 224.9 128.9 227.5 129.3" stroke="url(#g_a1_L12)"/>
<path d="M175.7 125.8C180.0 125.7 193.9 126.2 201.2 125.5C208.6 124.8 214.0 122.5 219.6 121.4C225.3 120.3 230.2 119.7 235.4 119.0C240.7 118.4 245.9 118.0 251.2 117.5C256.4 116.9 264.3 116.2 266.9 115.9" stroke="url(#g_a1_L12b)"/>
<path d="M46.0 132.6C48.9 132.8 58.5 133.3 63.6 133.7C68.8 134.1 72.4 134.5 76.7 135.0C81.1 135.4 86.1 136.0 89.8 136.3C93.5 136.6 96.1 136.6 99.0 136.8C101.8 137.0 104.2 137.4 106.8 137.6C109.5 137.8 109.4 137.4 114.8 137.9C120.2 138.3 130.3 139.6 139.2 140.2C148.1 140.9 158.1 141.6 168.4 141.7C178.7 141.8 195.8 141.1 201.2 140.9" stroke="url(#g_a1_L13)"/>
<path d="M99.0 136.8C100.3 136.6 104.2 135.9 106.8 135.5C109.5 135.1 111.1 134.6 114.8 134.6C118.5 134.6 124.9 135.1 129.0 135.5C133.0 136.0 135.1 136.6 139.2 137.0C143.3 137.4 148.9 137.7 153.8 138.0C158.7 138.3 163.5 138.8 168.4 138.8C173.3 138.8 177.5 138.3 183.0 138.0C188.5 137.8 198.2 137.4 201.2 137.3" stroke="url(#g_a1_L13b)"/>
<path d="M216.5 130.0C218.3 130.5 223.1 132.2 227.5 133.2C232.0 134.1 238.0 135.0 243.3 135.5C248.6 136.0 253.8 136.4 259.1 136.3C264.3 136.2 269.6 135.3 274.8 134.7C280.1 134.2 286.4 133.2 290.6 132.8C294.8 132.4 298.6 132.4 300.2 132.4" stroke="url(#g_a1_L13c)"/>
<path d="M46.0 137.9C50.0 137.7 64.0 137.2 70.2 137.2C76.4 137.2 75.8 137.5 83.3 137.9C90.7 138.2 109.6 138.9 114.8 139.2" stroke="url(#g_a1_L14)"/>
<path d="M201.4 137.9C205.7 138.0 219.2 138.7 227.5 138.7C235.8 138.7 243.3 138.1 251.2 137.9C259.1 137.6 266.7 137.4 274.8 137.1C283.0 136.8 296.0 136.4 300.2 136.3" stroke="url(#g_a1_L14b)"/>
<path d="M46.0 145.1C50.0 144.8 64.0 144.2 70.2 143.7C76.4 143.3 78.9 142.9 83.3 142.4C87.6 142.0 91.1 141.2 96.4 141.1C101.6 141.1 107.7 141.8 114.8 142.0C122.0 142.3 130.3 142.1 139.2 142.4C148.1 142.7 161.6 143.4 168.4 143.9C175.2 144.4 174.6 145.3 180.1 145.3C185.5 145.3 197.7 144.1 201.2 143.9" stroke="url(#g_a1_L15)"/>
<path d="M201.4 148.6C204.4 148.1 214.0 146.6 219.6 145.8C225.3 145.0 230.2 144.4 235.4 143.9C240.7 143.3 244.6 142.7 251.2 142.6C257.7 142.5 266.7 143.1 274.8 143.4C283.0 143.7 296.0 144.1 300.2 144.2" stroke="url(#g_a1_L15c)"/>
<path d="M46.0 149.6C50.0 149.5 62.9 149.2 70.2 149.0C77.5 148.8 82.4 148.6 89.8 148.3C97.3 148.0 108.3 147.4 114.8 147.3C121.3 147.1 122.5 147.4 129.0 147.5C135.5 147.7 144.8 148.1 153.8 148.2C162.8 148.4 175.1 148.4 183.0 148.2C190.9 148.1 193.8 147.5 201.2 147.5C208.7 147.6 220.0 148.3 227.5 148.6C235.1 148.9 238.6 149.1 246.4 149.2C254.3 149.3 265.9 149.3 274.8 149.2C283.8 149.2 296.0 149.0 300.2 148.9" stroke="url(#g_a1_L16)"/>
<path d="M46.0 153.6C50.0 153.5 62.9 153.2 70.2 152.9C77.5 152.6 82.4 152.3 89.8 152.0C97.3 151.7 104.1 150.7 114.8 150.9C125.5 151.2 142.4 152.8 153.8 153.4C165.2 153.9 175.1 154.1 183.0 154.1C190.9 154.1 198.2 153.5 201.2 153.4" stroke="url(#g_a1_L17)"/>
<path d="M201.4 143.4C204.4 143.7 214.0 144.6 219.6 145.3C225.3 145.9 230.9 146.7 235.4 147.3C239.9 148.0 241.2 148.7 246.4 149.2C251.7 149.8 260.9 150.0 266.9 150.5C273.0 151.0 277.2 151.5 282.7 152.1C288.3 152.6 297.3 153.4 300.2 153.6" stroke="url(#g_a1_L17b)"/>
<path d="M46.0 161.4C50.0 161.2 62.9 160.8 70.2 160.4C77.5 160.0 82.4 159.4 89.8 159.1C97.3 158.7 106.6 158.4 114.8 158.1C123.0 157.9 130.3 158.0 139.2 157.7C148.1 157.4 158.1 156.4 168.4 156.3C178.7 156.2 194.0 156.8 201.2 157.0C208.5 157.2 207.4 157.9 211.8 157.6C216.1 157.3 223.6 155.9 227.5 155.2C231.5 154.6 234.1 153.9 235.4 153.6" stroke="url(#g_a1_L18)"/>
<path d="M201.4 153.6C205.7 153.6 220.5 153.4 227.5 153.6C234.5 153.9 238.0 154.6 243.3 155.2C248.6 155.9 253.8 156.8 259.1 157.6C264.3 158.4 269.6 159.3 274.8 160.0C280.1 160.6 286.4 161.0 290.6 161.2C294.8 161.5 298.6 161.5 300.2 161.5" stroke="url(#g_a1_L18b)"/>
<path d="M46.0 169.3C48.9 169.2 57.4 169.0 63.6 168.6C69.9 168.2 77.8 167.6 83.3 167.0C88.7 166.5 92.4 165.8 96.4 165.3C100.3 164.8 103.8 164.4 106.8 164.0C109.9 163.7 109.4 163.5 114.8 163.4C120.2 163.3 132.7 163.7 139.2 163.6C145.7 163.5 147.7 163.2 153.8 162.8C159.9 162.5 167.8 161.8 175.7 161.4C183.6 161.0 193.9 160.5 201.2 160.7C208.6 160.8 214.0 161.7 219.6 162.3C225.3 162.9 230.2 163.7 235.4 164.4C240.7 165.0 245.9 165.7 251.2 166.3C256.4 166.8 261.7 167.4 266.9 167.8C272.2 168.3 277.2 168.5 282.7 168.8C288.3 169.0 297.3 169.3 300.2 169.4" stroke="url(#g_a1_L19)"/>
<path d="M46.0 98.4C52.4 98.4 72.7 98.3 84.1 98.1C95.6 97.9 101.9 97.2 114.7 97.3C127.4 97.3 146.0 98.4 160.4 98.4C174.8 98.4 186.3 97.0 201.1 97.0C216.0 97.0 232.9 97.9 249.4 98.1C266.0 98.4 291.8 98.4 300.3 98.4" stroke="url(#g_a1_F1)"/>
<path d="M46.0 100.5C52.4 100.6 72.7 100.8 84.1 100.9C95.6 101.1 101.9 101.2 114.7 101.5C127.4 101.8 146.0 102.3 160.4 102.6C174.8 102.9 186.3 102.6 201.1 103.3C216.0 104.0 232.9 106.1 249.4 106.8C266.0 107.5 291.8 107.4 300.3 107.5" stroke="url(#g_a1_F2)"/>
<path d="M114.7 107.5C120.2 107.2 138.0 106.3 147.7 105.7C157.5 105.1 164.2 104.5 173.2 104.0C182.1 103.5 196.5 103.1 201.1 102.9" stroke="url(#g_a1_F3)"/>
<path d="M46.0 120.1C50.2 120.0 63.0 120.0 71.4 119.7C79.9 119.3 89.7 118.5 96.9 118.0C104.1 117.5 106.2 117.3 114.7 116.6C123.1 115.9 138.0 114.4 147.7 113.8C157.5 113.2 164.2 113.1 173.2 113.1C182.1 113.1 196.5 113.7 201.1 113.8" stroke="url(#g_a1_F4)"/>
<path d="M201.1 122.2C204.9 122.2 216.0 122.6 224.0 122.5C232.1 122.4 241.0 121.9 249.4 121.5C257.9 121.1 266.4 120.4 274.9 120.1C283.3 119.8 296.1 119.8 300.3 119.7" stroke="url(#g_a1_F5)"/>
</g>
<g fill="none" stroke-width="1.30" opacity="0.950" filter="url(#bl_a1_2)" stroke-linecap="round">
<path d="M46.0 57.6C47.0 57.7 49.8 57.6 52.0 57.7C54.2 57.8 55.8 57.9 59.0 58.3C62.2 58.6 67.0 59.3 71.0 60.0C75.0 60.7 78.9 61.6 82.9 62.4C86.9 63.2 90.8 63.9 94.8 64.6C98.8 65.3 103.4 66.0 106.7 66.5C110.0 67.1 111.1 67.3 114.8 67.8C118.5 68.3 124.5 69.0 128.8 69.5C133.1 70.1 136.7 70.4 140.7 71.0C144.7 71.5 148.6 72.2 152.6 72.7C156.6 73.3 160.5 73.8 164.5 74.3C168.5 74.8 172.4 75.2 176.4 75.7C180.4 76.3 184.2 76.9 188.3 77.5C192.4 78.0 196.9 78.3 201.2 78.9C205.5 79.5 209.9 80.4 214.0 81.1C218.1 81.8 222.0 82.5 226.0 83.0C230.0 83.6 233.9 84.0 237.9 84.5C241.9 84.9 245.8 85.2 249.8 85.6C253.8 85.9 260.0 86.5 262.0 86.6" stroke="url(#g_a1_b1)"/>
<path d="M114.8 67.8C116.3 67.4 120.9 65.9 124.0 65.2C127.1 64.4 130.0 63.7 133.6 63.2C137.2 62.7 141.9 62.3 145.5 62.4C149.1 62.5 151.8 62.9 155.0 63.6C158.2 64.3 160.9 65.4 164.5 66.4C168.1 67.3 172.4 68.4 176.4 69.1C180.4 69.9 184.2 70.6 188.3 71.0C192.4 71.4 196.9 71.6 201.2 71.5C205.5 71.5 209.9 71.3 214.0 70.7C218.1 70.2 222.0 69.2 226.0 68.4C230.0 67.5 233.9 66.4 237.9 65.6C241.9 64.7 245.8 64.0 249.8 63.2C253.8 62.4 257.7 61.5 261.7 60.8C265.7 60.1 269.6 59.5 273.6 59.1C277.6 58.6 282.1 58.2 285.5 58.0C288.9 57.7 291.5 57.8 294.0 57.7C296.5 57.6 299.2 57.6 300.3 57.6" stroke="url(#g_a1_b2)"/>
<path d="M46.0 65.7C47.3 65.8 51.0 65.8 54.0 65.9C57.0 66.0 60.2 65.9 63.8 66.4C67.4 66.8 71.7 67.6 75.7 68.4C79.7 69.1 83.6 70.0 87.6 70.7C91.6 71.4 95.5 72.1 99.5 72.6C103.5 73.0 108.9 73.3 111.4 73.5C114.0 73.7 111.9 73.5 114.8 73.5C117.7 73.5 124.5 73.4 128.8 73.4C133.1 73.4 136.7 73.4 140.7 73.5C144.7 73.6 148.6 73.9 152.6 74.1C156.6 74.4 160.5 74.6 164.5 74.8C168.5 75.0 172.4 75.3 176.4 75.5C180.4 75.8 184.2 76.0 188.3 76.3C192.4 76.6 196.9 77.3 201.2 77.1C205.5 76.9 209.9 75.9 214.0 75.3C218.1 74.7 222.0 74.1 226.0 73.5C230.0 72.9 233.9 72.2 237.9 71.5C241.9 70.9 245.8 70.1 249.8 69.5C253.8 68.9 257.7 68.4 261.7 68.0C265.7 67.5 269.6 67.1 273.6 66.8C277.6 66.5 282.1 66.2 285.5 66.1C288.9 65.9 291.5 65.9 294.0 65.8C296.5 65.7 299.2 65.7 300.3 65.7" stroke="url(#g_a1_b3)"/>
<path d="M46.0 65.7C47.3 65.8 51.0 65.8 54.0 66.0C57.0 66.2 60.2 66.5 63.8 67.0C67.4 67.5 71.7 68.4 75.7 69.1C79.7 69.9 83.6 70.7 87.6 71.5C91.6 72.4 95.9 73.5 99.5 74.3C103.1 75.1 106.5 75.7 109.0 76.1C111.5 76.4 111.5 76.4 114.8 76.5C118.1 76.5 124.5 76.6 128.8 76.5C133.1 76.5 136.7 76.2 140.7 76.3C144.7 76.3 148.6 76.6 152.6 76.8C156.6 77.1 160.5 77.4 164.5 77.6C168.5 77.9 172.4 78.1 176.4 78.3C180.4 78.4 184.2 78.6 188.3 78.7C192.4 78.8 196.9 78.9 201.2 78.9C205.5 78.9 209.9 78.7 214.0 78.5C218.1 78.2 222.0 78.1 226.0 77.5C230.0 76.9 233.9 76.0 237.9 75.1C241.9 74.3 245.8 73.4 249.8 72.5C253.8 71.6 257.7 70.5 261.7 69.7C265.7 68.9 269.6 68.0 273.6 67.5C277.6 66.9 282.1 66.5 285.5 66.2C288.9 65.9 291.5 65.9 294.0 65.8C296.5 65.8 299.2 65.8 300.3 65.7" stroke="url(#g_a1_b4)"/>
<path d="M46.0 77.3C49.0 77.3 56.9 77.3 63.8 77.2C70.7 77.2 80.4 77.0 87.6 76.8C94.8 76.7 102.2 76.5 106.7 76.4C111.2 76.3 113.5 76.3 114.8 76.3" stroke="url(#g_a1_b5a)"/>
<path d="M208.0 79.6C209.8 79.6 215.3 79.8 219.0 79.5C222.7 79.3 226.8 78.5 230.3 78.1C233.8 77.8 236.0 77.7 239.8 77.5C243.6 77.3 247.6 77.2 253.0 77.1C258.4 77.1 264.1 77.0 272.0 77.0C279.9 77.0 295.6 77.3 300.3 77.3" stroke="url(#g_a1_b5b)"/>
<path d="M46.0 68.4C49.0 68.4 58.8 68.5 63.8 68.8C68.8 69.0 71.7 69.2 75.7 69.7C79.7 70.2 85.6 71.2 87.6 71.5" stroke="url(#g_a1_b6a)"/>
<path d="M266.0 68.1C267.2 68.2 269.8 68.2 273.0 68.3C276.2 68.4 280.4 68.5 285.0 68.5C289.6 68.5 297.8 68.4 300.3 68.4" stroke="url(#g_a1_b6b)"/>
<path d="M46.0 70.3C49.0 70.4 56.9 70.4 63.8 70.6C70.7 70.7 79.1 71.0 87.6 71.1C96.1 71.3 110.3 71.5 114.8 71.5" stroke="url(#g_a1_b7a)"/>
<path d="M226.0 73.1C228.8 72.9 235.9 71.9 242.6 71.5C249.3 71.1 256.8 70.9 266.4 70.7C276.0 70.5 294.6 70.4 300.3 70.3" stroke="url(#g_a1_b7b)"/>
<path d="M96.0 86.8C96.8 86.6 98.5 86.1 100.7 85.7C102.9 85.2 106.7 84.5 109.0 84.2C111.3 84.0 111.5 83.9 114.8 84.0C118.1 84.1 124.5 84.8 128.8 85.0C133.1 85.2 136.8 85.3 140.7 85.3C144.6 85.3 148.0 85.1 152.0 85.0C156.0 84.8 160.4 84.6 164.5 84.2C168.6 83.8 172.4 83.3 176.4 82.6C180.4 82.0 184.2 80.9 188.3 80.3C192.4 79.6 199.0 78.9 201.2 78.7" stroke="url(#g_a1_b8)"/>
<path d="M201.2 78.5C202.2 78.4 205.1 78.4 207.4 78.0C209.7 77.6 212.1 77.1 215.0 76.1C217.9 75.1 221.9 73.0 224.6 71.9C227.3 70.9 228.9 70.3 231.0 69.6C233.1 68.9 236.0 68.1 237.0 67.8" stroke="url(#g_a1_b9)"/>
<path d="M46.0 41.5C47.4 41.5 51.3 41.6 54.3 41.9C57.3 42.2 60.2 42.6 63.8 43.3C67.4 43.9 71.7 44.8 75.7 45.7C79.7 46.5 83.6 47.4 87.6 48.4C91.6 49.5 95.0 50.6 99.5 51.8C104.0 53.0 112.2 54.9 114.8 55.5" stroke="url(#g_a1_b10a)"/>
<path d="M231.6 55.5C234.2 54.9 242.4 53.0 247.0 51.8C251.6 50.6 255.1 49.5 259.0 48.4C262.9 47.4 266.7 46.5 270.6 45.7C274.5 44.8 278.9 43.9 282.5 43.3C286.1 42.6 289.0 42.2 292.0 41.9C295.0 41.6 298.9 41.5 300.3 41.5" stroke="url(#g_a1_b10b)"/>
<path d="M46.0 48.8C47.3 48.9 51.0 48.9 54.0 49.1C57.0 49.3 60.2 49.6 63.8 50.0C67.4 50.4 71.7 50.9 75.7 51.5C79.7 52.0 83.6 52.6 87.6 53.2C91.6 53.8 95.5 54.6 99.5 55.2C103.5 55.7 108.9 56.3 111.4 56.5C114.0 56.8 112.0 56.7 114.8 56.8C117.6 56.9 123.7 57.0 128.0 57.1C132.3 57.3 136.6 57.3 140.7 57.6C144.8 58.0 148.6 58.8 152.6 59.2C156.6 59.6 159.9 59.9 164.5 60.0C169.1 60.2 173.9 60.2 180.0 60.2C186.1 60.3 192.8 60.2 201.2 60.2C209.6 60.1 222.6 60.3 230.7 60.0C238.8 59.7 244.6 59.2 249.8 58.4C255.0 57.6 258.0 56.3 261.7 55.3C265.4 54.2 268.5 53.0 272.0 52.1C275.5 51.3 279.2 50.5 282.5 50.0C285.8 49.5 289.0 49.3 292.0 49.1C295.0 48.9 298.9 48.9 300.3 48.8" stroke="url(#g_a1_b11)"/>
<path d="M117.2 68.7C122.3 68.8 138.4 69.1 147.7 69.3C157.0 69.4 164.2 69.5 173.2 69.6C182.1 69.6 191.8 69.7 201.1 69.7C210.4 69.7 220.2 69.7 229.1 69.6C238.0 69.4 250.3 69.1 254.5 69.0" stroke="url(#g_a1_b12)"/>
<path d="M46.0 89.2C47.8 89.2 53.1 89.3 57.1 89.2C61.1 89.1 65.8 89.0 70.2 88.8C74.5 88.6 78.9 88.3 83.3 87.9C87.6 87.5 91.1 87.1 96.4 86.6C101.6 86.1 111.7 85.2 114.8 84.9" stroke="url(#g_a1_L1)"/>
<path d="M258.3 87.5C259.7 87.7 263.7 88.3 266.9 88.6C270.2 89.0 274.0 89.4 278.0 89.6C281.9 89.7 286.9 89.5 290.6 89.4C294.3 89.3 298.6 89.1 300.2 89.1" stroke="url(#g_a1_L1b)"/>
<path d="M70.2 89.6C72.4 89.7 78.9 90.3 83.3 90.5C87.6 90.7 91.1 90.8 96.4 90.9C101.6 91.0 107.7 91.2 114.8 91.2C122.0 91.1 130.3 90.9 139.2 90.8C148.1 90.6 158.1 90.5 168.4 90.5C178.7 90.5 192.7 90.8 201.2 90.8C209.8 90.8 212.6 90.6 219.6 90.5C226.7 90.4 234.1 90.3 243.3 90.2C252.5 90.1 269.6 89.9 274.8 89.9" stroke="url(#g_a1_L2)"/>
<path d="M46.0 94.8C52.2 94.8 71.8 94.9 83.3 94.8C94.7 94.8 103.1 94.6 114.8 94.4C126.6 94.2 139.4 93.9 153.8 93.7C168.2 93.5 189.0 92.9 201.2 93.1C213.5 93.3 216.6 94.4 227.5 94.6C238.5 94.9 254.8 94.6 266.9 94.6C279.1 94.6 294.7 94.6 300.2 94.6" stroke="url(#g_a1_L3)"/>
<path d="M46.0 102.9C47.8 103.1 53.1 103.5 57.1 103.6C61.1 103.7 65.8 103.7 70.2 103.6C74.5 103.4 78.9 102.9 83.3 102.7C87.6 102.5 91.1 102.5 96.4 102.3C101.6 102.1 111.7 101.7 114.8 101.6" stroke="url(#g_a1_L4a)"/>
<path d="M168.4 96.6C171.3 96.8 180.4 97.6 185.9 98.1C191.4 98.5 196.9 98.9 201.2 99.2C205.5 99.5 207.4 99.7 211.8 99.8C216.1 100.0 222.3 99.9 227.5 100.1C232.8 100.4 238.0 100.8 243.3 101.2C248.6 101.6 253.8 102.1 259.1 102.5C264.3 102.9 269.6 103.4 274.8 103.8C280.1 104.1 286.4 104.3 290.6 104.4C294.8 104.4 298.6 104.1 300.2 104.1" stroke="url(#g_a1_L4b)"/>
<path d="M46.0 106.2C52.2 106.2 71.8 106.1 83.3 106.0C94.7 105.8 103.1 105.4 114.8 105.6C126.6 105.7 139.4 106.9 153.8 106.8C168.2 106.8 186.3 105.3 201.2 105.4C216.2 105.4 226.8 106.8 243.3 107.2C259.8 107.7 290.7 107.9 300.2 108.0" stroke="url(#g_a1_L5)"/>
<path d="M46.0 113.4C52.2 113.3 73.8 113.1 83.3 112.8C92.8 112.4 97.6 111.7 102.9 111.5C108.2 111.2 110.0 111.1 114.8 111.1C119.6 111.0 129.1 111.2 131.9 111.2" stroke="url(#g_a1_L7)"/>
<path d="M235.4 110.4C239.4 110.3 251.2 110.2 259.1 110.1C266.9 109.9 275.9 109.7 282.7 109.6C289.6 109.5 297.3 109.6 300.2 109.6" stroke="url(#g_a1_L7b)"/>
<path d="M46.0 115.4C47.8 115.4 53.1 115.7 57.1 115.8C61.1 115.9 65.8 115.9 70.2 116.0C74.5 116.2 80.0 116.4 83.3 116.7C86.5 117.0 87.6 117.6 89.8 118.0C92.0 118.4 94.2 118.9 96.4 119.3C98.5 119.7 99.8 119.9 102.9 120.2C106.0 120.5 111.2 121.1 114.8 121.3C118.4 121.5 119.6 121.1 124.6 121.4C129.6 121.7 139.4 122.9 145.0 122.9C150.6 122.8 154.3 121.6 158.2 121.1C162.1 120.7 164.7 120.7 168.4 120.2C172.0 119.8 176.2 119.0 180.1 118.5C184.0 118.0 188.2 117.4 191.8 117.0C195.3 116.7 197.9 116.6 201.2 116.6C204.6 116.6 207.4 116.6 211.8 117.0C216.1 117.4 222.3 118.4 227.5 119.0C232.8 119.7 238.0 120.4 243.3 121.1C248.6 121.8 253.8 122.5 259.1 123.3C264.3 124.1 270.4 125.1 274.8 125.8C279.3 126.5 281.6 126.9 285.9 127.4C290.1 127.9 297.8 128.7 300.2 129.0" stroke="url(#g_a1_L6)"/>
<path d="M114.8 119.2C117.7 118.7 126.6 117.1 131.9 116.3C137.2 115.5 141.6 115.1 146.5 114.4C151.4 113.7 156.2 112.7 161.1 111.9C166.0 111.2 170.8 110.5 175.7 110.0C180.6 109.6 186.0 109.3 190.3 109.2C194.5 109.0 196.3 108.8 201.2 109.0C206.1 109.2 214.0 110.0 219.6 110.4C225.3 110.7 230.2 110.8 235.4 111.2C240.7 111.6 245.9 112.2 251.2 112.7C256.4 113.3 262.5 113.9 266.9 114.3C271.4 114.8 274.0 115.2 278.0 115.4C281.9 115.6 286.9 115.4 290.6 115.4C294.3 115.4 298.6 115.4 300.2 115.4" stroke="url(#g_a1_L8)"/>
<path d="M46.0 125.2C50.0 125.1 64.0 125.0 70.2 124.5C76.4 124.1 78.9 123.2 83.3 122.6C87.6 121.9 92.4 121.2 96.4 120.6C100.3 120.1 105.1 119.5 106.8 119.3" stroke="url(#g_a1_L9)"/>
<path d="M105.5 128.5C107.1 128.5 109.2 128.5 114.8 128.5C120.4 128.5 130.3 128.4 139.2 128.4C148.1 128.5 158.1 128.6 168.4 128.7C178.7 128.8 194.0 128.8 201.2 129.0C208.5 129.2 207.4 130.0 211.8 130.1C216.1 130.1 222.3 129.5 227.5 129.3C232.8 129.1 238.0 129.0 243.3 129.0C248.6 128.9 253.8 128.9 259.1 129.0C264.3 129.0 269.6 129.1 274.8 129.3C280.1 129.5 286.4 130.0 290.6 130.1C294.8 130.2 298.6 130.1 300.2 130.1" stroke="url(#g_a1_L10)"/>
<path d="M46.0 127.2C50.0 127.2 61.8 127.3 70.2 127.2C78.6 127.0 92.0 126.6 96.4 126.5" stroke="url(#g_a1_L11)"/>
<path d="M175.7 115.6C178.1 116.7 186.0 120.5 190.3 122.1C194.5 123.8 197.7 124.7 201.2 125.5C204.8 126.3 207.4 126.3 211.8 126.9C216.1 127.6 224.9 128.9 227.5 129.3" stroke="url(#g_a1_L12)"/>
<path d="M175.7 125.8C180.0 125.7 193.9 126.2 201.2 125.5C208.6 124.8 214.0 122.5 219.6 121.4C225.3 120.3 230.2 119.7 235.4 119.0C240.7 118.4 245.9 118.0 251.2 117.5C256.4 116.9 264.3 116.2 266.9 115.9" stroke="url(#g_a1_L12b)"/>
<path d="M46.0 132.6C48.9 132.8 58.5 133.3 63.6 133.7C68.8 134.1 72.4 134.5 76.7 135.0C81.1 135.4 86.1 136.0 89.8 136.3C93.5 136.6 96.1 136.6 99.0 136.8C101.8 137.0 104.2 137.4 106.8 137.6C109.5 137.8 109.4 137.4 114.8 137.9C120.2 138.3 130.3 139.6 139.2 140.2C148.1 140.9 158.1 141.6 168.4 141.7C178.7 141.8 195.8 141.1 201.2 140.9" stroke="url(#g_a1_L13)"/>
<path d="M99.0 136.8C100.3 136.6 104.2 135.9 106.8 135.5C109.5 135.1 111.1 134.6 114.8 134.6C118.5 134.6 124.9 135.1 129.0 135.5C133.0 136.0 135.1 136.6 139.2 137.0C143.3 137.4 148.9 137.7 153.8 138.0C158.7 138.3 163.5 138.8 168.4 138.8C173.3 138.8 177.5 138.3 183.0 138.0C188.5 137.8 198.2 137.4 201.2 137.3" stroke="url(#g_a1_L13b)"/>
<path d="M216.5 130.0C218.3 130.5 223.1 132.2 227.5 133.2C232.0 134.1 238.0 135.0 243.3 135.5C248.6 136.0 253.8 136.4 259.1 136.3C264.3 136.2 269.6 135.3 274.8 134.7C280.1 134.2 286.4 133.2 290.6 132.8C294.8 132.4 298.6 132.4 300.2 132.4" stroke="url(#g_a1_L13c)"/>
<path d="M46.0 137.9C50.0 137.7 64.0 137.2 70.2 137.2C76.4 137.2 75.8 137.5 83.3 137.9C90.7 138.2 109.6 138.9 114.8 139.2" stroke="url(#g_a1_L14)"/>
<path d="M201.4 137.9C205.7 138.0 219.2 138.7 227.5 138.7C235.8 138.7 243.3 138.1 251.2 137.9C259.1 137.6 266.7 137.4 274.8 137.1C283.0 136.8 296.0 136.4 300.2 136.3" stroke="url(#g_a1_L14b)"/>
<path d="M46.0 145.1C50.0 144.8 64.0 144.2 70.2 143.7C76.4 143.3 78.9 142.9 83.3 142.4C87.6 142.0 91.1 141.2 96.4 141.1C101.6 141.1 107.7 141.8 114.8 142.0C122.0 142.3 130.3 142.1 139.2 142.4C148.1 142.7 161.6 143.4 168.4 143.9C175.2 144.4 174.6 145.3 180.1 145.3C185.5 145.3 197.7 144.1 201.2 143.9" stroke="url(#g_a1_L15)"/>
<path d="M201.4 148.6C204.4 148.1 214.0 146.6 219.6 145.8C225.3 145.0 230.2 144.4 235.4 143.9C240.7 143.3 244.6 142.7 251.2 142.6C257.7 142.5 266.7 143.1 274.8 143.4C283.0 143.7 296.0 144.1 300.2 144.2" stroke="url(#g_a1_L15c)"/>
<path d="M46.0 149.6C50.0 149.5 62.9 149.2 70.2 149.0C77.5 148.8 82.4 148.6 89.8 148.3C97.3 148.0 108.3 147.4 114.8 147.3C121.3 147.1 122.5 147.4 129.0 147.5C135.5 147.7 144.8 148.1 153.8 148.2C162.8 148.4 175.1 148.4 183.0 148.2C190.9 148.1 193.8 147.5 201.2 147.5C208.7 147.6 220.0 148.3 227.5 148.6C235.1 148.9 238.6 149.1 246.4 149.2C254.3 149.3 265.9 149.3 274.8 149.2C283.8 149.2 296.0 149.0 300.2 148.9" stroke="url(#g_a1_L16)"/>
<path d="M46.0 153.6C50.0 153.5 62.9 153.2 70.2 152.9C77.5 152.6 82.4 152.3 89.8 152.0C97.3 151.7 104.1 150.7 114.8 150.9C125.5 151.2 142.4 152.8 153.8 153.4C165.2 153.9 175.1 154.1 183.0 154.1C190.9 154.1 198.2 153.5 201.2 153.4" stroke="url(#g_a1_L17)"/>
<path d="M201.4 143.4C204.4 143.7 214.0 144.6 219.6 145.3C225.3 145.9 230.9 146.7 235.4 147.3C239.9 148.0 241.2 148.7 246.4 149.2C251.7 149.8 260.9 150.0 266.9 150.5C273.0 151.0 277.2 151.5 282.7 152.1C288.3 152.6 297.3 153.4 300.2 153.6" stroke="url(#g_a1_L17b)"/>
<path d="M46.0 161.4C50.0 161.2 62.9 160.8 70.2 160.4C77.5 160.0 82.4 159.4 89.8 159.1C97.3 158.7 106.6 158.4 114.8 158.1C123.0 157.9 130.3 158.0 139.2 157.7C148.1 157.4 158.1 156.4 168.4 156.3C178.7 156.2 194.0 156.8 201.2 157.0C208.5 157.2 207.4 157.9 211.8 157.6C216.1 157.3 223.6 155.9 227.5 155.2C231.5 154.6 234.1 153.9 235.4 153.6" stroke="url(#g_a1_L18)"/>
<path d="M201.4 153.6C205.7 153.6 220.5 153.4 227.5 153.6C234.5 153.9 238.0 154.6 243.3 155.2C248.6 155.9 253.8 156.8 259.1 157.6C264.3 158.4 269.6 159.3 274.8 160.0C280.1 160.6 286.4 161.0 290.6 161.2C294.8 161.5 298.6 161.5 300.2 161.5" stroke="url(#g_a1_L18b)"/>
<path d="M46.0 169.3C48.9 169.2 57.4 169.0 63.6 168.6C69.9 168.2 77.8 167.6 83.3 167.0C88.7 166.5 92.4 165.8 96.4 165.3C100.3 164.8 103.8 164.4 106.8 164.0C109.9 163.7 109.4 163.5 114.8 163.4C120.2 163.3 132.7 163.7 139.2 163.6C145.7 163.5 147.7 163.2 153.8 162.8C159.9 162.5 167.8 161.8 175.7 161.4C183.6 161.0 193.9 160.5 201.2 160.7C208.6 160.8 214.0 161.7 219.6 162.3C225.3 162.9 230.2 163.7 235.4 164.4C240.7 165.0 245.9 165.7 251.2 166.3C256.4 166.8 261.7 167.4 266.9 167.8C272.2 168.3 277.2 168.5 282.7 168.8C288.3 169.0 297.3 169.3 300.2 169.4" stroke="url(#g_a1_L19)"/>
<path d="M46.0 98.4C52.4 98.4 72.7 98.3 84.1 98.1C95.6 97.9 101.9 97.2 114.7 97.3C127.4 97.3 146.0 98.4 160.4 98.4C174.8 98.4 186.3 97.0 201.1 97.0C216.0 97.0 232.9 97.9 249.4 98.1C266.0 98.4 291.8 98.4 300.3 98.4" stroke="url(#g_a1_F1)"/>
<path d="M46.0 100.5C52.4 100.6 72.7 100.8 84.1 100.9C95.6 101.1 101.9 101.2 114.7 101.5C127.4 101.8 146.0 102.3 160.4 102.6C174.8 102.9 186.3 102.6 201.1 103.3C216.0 104.0 232.9 106.1 249.4 106.8C266.0 107.5 291.8 107.4 300.3 107.5" stroke="url(#g_a1_F2)"/>
<path d="M114.7 107.5C120.2 107.2 138.0 106.3 147.7 105.7C157.5 105.1 164.2 104.5 173.2 104.0C182.1 103.5 196.5 103.1 201.1 102.9" stroke="url(#g_a1_F3)"/>
<path d="M46.0 120.1C50.2 120.0 63.0 120.0 71.4 119.7C79.9 119.3 89.7 118.5 96.9 118.0C104.1 117.5 106.2 117.3 114.7 116.6C123.1 115.9 138.0 114.4 147.7 113.8C157.5 113.2 164.2 113.1 173.2 113.1C182.1 113.1 196.5 113.7 201.1 113.8" stroke="url(#g_a1_F4)"/>
<path d="M201.1 122.2C204.9 122.2 216.0 122.6 224.0 122.5C232.1 122.4 241.0 121.9 249.4 121.5C257.9 121.1 266.4 120.4 274.9 120.1C283.3 119.8 296.1 119.8 300.3 119.7" stroke="url(#g_a1_F5)"/>
</g>
</g></g>
<line x1="114.80" x2="114.80" y1="15.80" y2="183.80" stroke="#d8e4f4" stroke-opacity=".6" stroke-width=".8"/>
<line x1="201.30" x2="201.30" y1="15.80" y2="183.80" stroke="#d8e4f4" stroke-opacity=".6" stroke-width=".8"/>
<line x1="46.00" x2="300.30" y1="57.80" y2="57.80" stroke="#b8c8f0" stroke-opacity=".6" stroke-width=".7"/>
<line x1="46.00" x2="48.20" y1="176.80" y2="176.80" stroke="#dfe8ff" stroke-opacity=".6" stroke-width=".5"/>
<line x1="298.10" x2="300.30" y1="176.80" y2="176.80" stroke="#dfe8ff" stroke-opacity=".6" stroke-width=".5"/>
<line x1="46.00" x2="48.20" y1="169.80" y2="169.80" stroke="#dfe8ff" stroke-opacity=".6" stroke-width=".5"/>
<line x1="298.10" x2="300.30" y1="169.80" y2="169.80" stroke="#dfe8ff" stroke-opacity=".6" stroke-width=".5"/>
<line x1="46.00" x2="48.20" y1="162.80" y2="162.80" stroke="#dfe8ff" stroke-opacity=".6" stroke-width=".5"/>
<line x1="298.10" x2="300.30" y1="162.80" y2="162.80" stroke="#dfe8ff" stroke-opacity=".6" stroke-width=".5"/>
<line x1="46.00" x2="48.20" y1="155.80" y2="155.80" stroke="#dfe8ff" stroke-opacity=".6" stroke-width=".5"/>
<line x1="298.10" x2="300.30" y1="155.80" y2="155.80" stroke="#dfe8ff" stroke-opacity=".6" stroke-width=".5"/>
<line x1="46.00" x2="48.20" y1="148.80" y2="148.80" stroke="#dfe8ff" stroke-opacity=".6" stroke-width=".5"/>
<line x1="298.10" x2="300.30" y1="148.80" y2="148.80" stroke="#dfe8ff" stroke-opacity=".6" stroke-width=".5"/>
<line x1="46.00" x2="48.20" y1="141.80" y2="141.80" stroke="#dfe8ff" stroke-opacity=".6" stroke-width=".5"/>
<line x1="298.10" x2="300.30" y1="141.80" y2="141.80" stroke="#dfe8ff" stroke-opacity=".6" stroke-width=".5"/>
<line x1="46.00" x2="48.20" y1="134.80" y2="134.80" stroke="#dfe8ff" stroke-opacity=".6" stroke-width=".5"/>
<line x1="298.10" x2="300.30" y1="134.80" y2="134.80" stroke="#dfe8ff" stroke-opacity=".6" stroke-width=".5"/>
<line x1="46.00" x2="48.20" y1="127.80" y2="127.80" stroke="#dfe8ff" stroke-opacity=".6" stroke-width=".5"/>
<line x1="298.10" x2="300.30" y1="127.80" y2="127.80" stroke="#dfe8ff" stroke-opacity=".6" stroke-width=".5"/>
<line x1="46.00" x2="48.20" y1="120.80" y2="120.80" stroke="#dfe8ff" stroke-opacity=".6" stroke-width=".5"/>
<line x1="298.10" x2="300.30" y1="120.80" y2="120.80" stroke="#dfe8ff" stroke-opacity=".6" stroke-width=".5"/>
<line x1="46.00" x2="48.20" y1="113.80" y2="113.80" stroke="#dfe8ff" stroke-opacity=".6" stroke-width=".5"/>
<line x1="298.10" x2="300.30" y1="113.80" y2="113.80" stroke="#dfe8ff" stroke-opacity=".6" stroke-width=".5"/>
<line x1="46.00" x2="48.20" y1="106.80" y2="106.80" stroke="#dfe8ff" stroke-opacity=".6" stroke-width=".5"/>
<line x1="298.10" x2="300.30" y1="106.80" y2="106.80" stroke="#dfe8ff" stroke-opacity=".6" stroke-width=".5"/>
<line x1="46.00" x2="48.20" y1="99.80" y2="99.80" stroke="#dfe8ff" stroke-opacity=".6" stroke-width=".5"/>
<line x1="298.10" x2="300.30" y1="99.80" y2="99.80" stroke="#dfe8ff" stroke-opacity=".6" stroke-width=".5"/>
<line x1="46.00" x2="48.20" y1="92.80" y2="92.80" stroke="#dfe8ff" stroke-opacity=".6" stroke-width=".5"/>
<line x1="298.10" x2="300.30" y1="92.80" y2="92.80" stroke="#dfe8ff" stroke-opacity=".6" stroke-width=".5"/>
<line x1="46.00" x2="48.20" y1="85.80" y2="85.80" stroke="#dfe8ff" stroke-opacity=".6" stroke-width=".5"/>
<line x1="298.10" x2="300.30" y1="85.80" y2="85.80" stroke="#dfe8ff" stroke-opacity=".6" stroke-width=".5"/>
<line x1="46.00" x2="48.20" y1="78.80" y2="78.80" stroke="#dfe8ff" stroke-opacity=".6" stroke-width=".5"/>
<line x1="298.10" x2="300.30" y1="78.80" y2="78.80" stroke="#dfe8ff" stroke-opacity=".6" stroke-width=".5"/>
<line x1="46.00" x2="48.20" y1="71.80" y2="71.80" stroke="#dfe8ff" stroke-opacity=".6" stroke-width=".5"/>
<line x1="298.10" x2="300.30" y1="71.80" y2="71.80" stroke="#dfe8ff" stroke-opacity=".6" stroke-width=".5"/>
<line x1="46.00" x2="48.20" y1="64.80" y2="64.80" stroke="#dfe8ff" stroke-opacity=".6" stroke-width=".5"/>
<line x1="298.10" x2="300.30" y1="64.80" y2="64.80" stroke="#dfe8ff" stroke-opacity=".6" stroke-width=".5"/>
<line x1="46.00" x2="48.20" y1="57.80" y2="57.80" stroke="#dfe8ff" stroke-opacity=".6" stroke-width=".5"/>
<line x1="298.10" x2="300.30" y1="57.80" y2="57.80" stroke="#dfe8ff" stroke-opacity=".6" stroke-width=".5"/>
<line x1="46.00" x2="48.20" y1="50.80" y2="50.80" stroke="#dfe8ff" stroke-opacity=".6" stroke-width=".5"/>
<line x1="298.10" x2="300.30" y1="50.80" y2="50.80" stroke="#dfe8ff" stroke-opacity=".6" stroke-width=".5"/>
<line x1="46.00" x2="48.20" y1="43.80" y2="43.80" stroke="#dfe8ff" stroke-opacity=".6" stroke-width=".5"/>
<line x1="298.10" x2="300.30" y1="43.80" y2="43.80" stroke="#dfe8ff" stroke-opacity=".6" stroke-width=".5"/>
<line x1="46.00" x2="48.20" y1="36.80" y2="36.80" stroke="#dfe8ff" stroke-opacity=".6" stroke-width=".5"/>
<line x1="298.10" x2="300.30" y1="36.80" y2="36.80" stroke="#dfe8ff" stroke-opacity=".6" stroke-width=".5"/>
<line x1="46.00" x2="48.20" y1="29.80" y2="29.80" stroke="#dfe8ff" stroke-opacity=".6" stroke-width=".5"/>
<line x1="298.10" x2="300.30" y1="29.80" y2="29.80" stroke="#dfe8ff" stroke-opacity=".6" stroke-width=".5"/>
<line x1="46.00" x2="48.20" y1="22.80" y2="22.80" stroke="#dfe8ff" stroke-opacity=".6" stroke-width=".5"/>
<line x1="298.10" x2="300.30" y1="22.80" y2="22.80" stroke="#dfe8ff" stroke-opacity=".6" stroke-width=".5"/>
<line x1="46.00" x2="50.00" y1="29.80" y2="29.80" stroke="#e8eeff" stroke-opacity=".8" stroke-width=".6"/>
<line x1="296.30" x2="300.30" y1="29.80" y2="29.80" stroke="#e8eeff" stroke-opacity=".8" stroke-width=".6"/>
<text x="40.40" y="34.00" font-size="12.00" text-anchor="end">2</text>
<line x1="46.00" x2="50.00" y1="57.80" y2="57.80" stroke="#e8eeff" stroke-opacity=".8" stroke-width=".6"/>
<line x1="296.30" x2="300.30" y1="57.80" y2="57.80" stroke="#e8eeff" stroke-opacity=".8" stroke-width=".6"/>
<text x="40.40" y="62.00" font-size="12.00" text-anchor="end">0</text>
<line x1="46.00" x2="50.00" y1="85.80" y2="85.80" stroke="#e8eeff" stroke-opacity=".8" stroke-width=".6"/>
<line x1="296.30" x2="300.30" y1="85.80" y2="85.80" stroke="#e8eeff" stroke-opacity=".8" stroke-width=".6"/>
<text x="40.40" y="90.00" font-size="12.00" text-anchor="end">-2</text>
<line x1="46.00" x2="50.00" y1="113.80" y2="113.80" stroke="#e8eeff" stroke-opacity=".8" stroke-width=".6"/>
<line x1="296.30" x2="300.30" y1="113.80" y2="113.80" stroke="#e8eeff" stroke-opacity=".8" stroke-width=".6"/>
<text x="40.40" y="118.00" font-size="12.00" text-anchor="end">-4</text>
<line x1="46.00" x2="50.00" y1="141.80" y2="141.80" stroke="#e8eeff" stroke-opacity=".8" stroke-width=".6"/>
<line x1="296.30" x2="300.30" y1="141.80" y2="141.80" stroke="#e8eeff" stroke-opacity=".8" stroke-width=".6"/>
<text x="40.40" y="146.00" font-size="12.00" text-anchor="end">-6</text>
<line x1="46.00" x2="50.00" y1="169.80" y2="169.80" stroke="#e8eeff" stroke-opacity=".8" stroke-width=".6"/>
<line x1="296.30" x2="300.30" y1="169.80" y2="169.80" stroke="#e8eeff" stroke-opacity=".8" stroke-width=".6"/>
<text x="40.40" y="174.00" font-size="12.00" text-anchor="end">-8</text>
<line x1="46.00" x2="50.00" y1="43.80" y2="43.80" stroke="#e8eeff" stroke-opacity=".8" stroke-width=".6"/>
<line x1="296.30" x2="300.30" y1="43.80" y2="43.80" stroke="#e8eeff" stroke-opacity=".8" stroke-width=".6"/>
<line x1="46.00" x2="50.00" y1="71.80" y2="71.80" stroke="#e8eeff" stroke-opacity=".8" stroke-width=".6"/>
<line x1="296.30" x2="300.30" y1="71.80" y2="71.80" stroke="#e8eeff" stroke-opacity=".8" stroke-width=".6"/>
<line x1="46.00" x2="50.00" y1="99.80" y2="99.80" stroke="#e8eeff" stroke-opacity=".8" stroke-width=".6"/>
<line x1="296.30" x2="300.30" y1="99.80" y2="99.80" stroke="#e8eeff" stroke-opacity=".8" stroke-width=".6"/>
<line x1="46.00" x2="50.00" y1="127.80" y2="127.80" stroke="#e8eeff" stroke-opacity=".8" stroke-width=".6"/>
<line x1="296.30" x2="300.30" y1="127.80" y2="127.80" stroke="#e8eeff" stroke-opacity=".8" stroke-width=".6"/>
<line x1="46.00" x2="50.00" y1="155.80" y2="155.80" stroke="#e8eeff" stroke-opacity=".8" stroke-width=".6"/>
<line x1="296.30" x2="300.30" y1="155.80" y2="155.80" stroke="#e8eeff" stroke-opacity=".8" stroke-width=".6"/>
<text x="45.50" y="198.00" font-size="14.90" text-anchor="start" class="se">Γ</text>
<text x="114.80" y="198.00" font-size="14.30" text-anchor="middle">K</text>
<text x="201.30" y="198.00" font-size="14.30" text-anchor="middle">M</text>
<text x="299.70" y="198.00" font-size="14.90" text-anchor="middle" class="se">Γ</text>
<text transform="translate(21.00 100.00) rotate(-90)" font-size="12.40" text-anchor="middle">ω (eV)</text>
<g clip-path="url(#cp_a2)"><g filter="url(#cm_a2)">
<rect x="26.00" y="206.00" width="294.30" height="208.00" fill="#333333"/>
<path d="M20.57 291.10L46.00 291.10L114.66 296.14L201.12 297.40L300.30 291.10L325.73 291.10L325.73 327.64L300.30 327.64L262.15 333.10L229.10 345.70L201.12 346.96L173.15 349.90L147.72 345.70L122.29 340.24L114.66 336.04L84.15 327.64L46.00 325.12L20.57 325.12Z" fill="#090909" fill-opacity="0.820" filter="url(#bf_a2_0)"/>
<path d="M101.9 284.0C111.7 283.4 143.5 281.7 160.4 280.6C177.4 279.5 188.8 278.6 203.7 277.2C218.5 275.8 241.8 273.0 249.4 272.2" fill="none" stroke="#4c4c4c" stroke-opacity="0.300" stroke-width="12.60" filter="url(#bf_a2_1)"/>
<path d="M46.0 270.1C49.4 270.8 58.7 271.9 66.3 274.3C74.0 276.8 87.5 283.1 91.8 284.8" fill="none" stroke="#0d0d0d" stroke-opacity="0.450" stroke-width="9.24" filter="url(#bf_a2_2)"/>
<path d="M300.3 270.1C296.9 270.8 287.6 271.9 280.0 274.3C272.3 276.8 258.8 283.1 254.5 284.8" fill="none" stroke="#0d0d0d" stroke-opacity="0.450" stroke-width="9.24" filter="url(#bf_a2_3)"/>
<path d="M160.4 255.4C167.6 254.7 186.7 251.2 203.7 251.2C220.6 251.2 252.4 254.7 262.2 255.4" fill="none" stroke="#4c4c4c" stroke-opacity="0.280" stroke-width="12.60" filter="url(#bf_a2_4)"/>
<rect x="-4.86" y="377.20" width="356.02" height="29.40" fill="#242424" fill-opacity="0.600" filter="url(#bf_a2_5)"/>
<path d="M101.9 364.6C105.3 364.2 112.5 362.1 122.3 362.1C132.0 362.1 147.7 363.0 160.4 364.6C173.2 366.2 189.7 370.9 198.6 371.7C207.5 372.6 211.3 370.0 213.8 369.6" fill="none" stroke="#999999" stroke-opacity="0.500" stroke-width="11.76" filter="url(#bf_a2_6)"/>
<g fill="none" stroke-width="12.00" opacity="0.160" filter="url(#bl_a2_0)" stroke-linecap="round">
<path d="M46.0 309.5C47.0 309.6 49.8 309.5 52.0 309.8C54.2 310.1 55.8 310.2 59.0 311.4C62.2 312.5 67.0 314.6 71.0 316.7C75.0 318.8 78.9 321.5 82.9 323.8C86.9 326.1 90.8 328.4 94.8 330.5C98.8 332.6 103.4 334.6 106.7 336.2C110.0 337.8 111.1 338.5 114.8 340.0C118.5 341.5 124.5 343.6 128.8 345.2C133.1 346.8 136.7 347.9 140.7 349.5C144.7 351.1 148.6 353.1 152.6 354.8C156.6 356.5 160.5 358.0 164.5 359.5C168.5 361.0 172.4 362.2 176.4 363.8C180.4 365.4 184.2 367.4 188.3 369.0C192.4 370.6 196.9 371.5 201.2 373.3C205.5 375.1 209.9 377.7 214.0 379.8C218.1 381.9 222.0 384.0 226.0 385.7C230.0 387.4 233.9 388.7 237.9 390.0C241.9 391.3 245.8 392.2 249.8 393.3C253.8 394.4 260.0 396.0 262.0 396.5" stroke="url(#g_a2_b1)"/>
<path d="M114.8 340.0C116.3 338.7 120.9 334.4 124.0 332.1C127.1 329.8 130.0 327.6 133.6 326.2C137.2 324.8 141.9 323.6 145.5 323.8C149.1 324.0 151.8 325.4 155.0 327.4C158.2 329.4 160.9 332.9 164.5 335.7C168.1 338.5 172.4 341.7 176.4 344.0C180.4 346.3 184.2 348.3 188.3 349.5C192.4 350.7 196.9 351.3 201.2 351.2C205.5 351.1 209.9 350.4 214.0 348.8C218.1 347.2 222.0 344.3 226.0 341.7C230.0 339.1 233.9 335.9 237.9 333.3C241.9 330.7 245.8 328.6 249.8 326.2C253.8 323.8 257.7 321.1 261.7 319.0C265.7 316.9 269.6 315.2 273.6 313.8C277.6 312.4 282.1 311.2 285.5 310.5C288.9 309.8 291.5 309.9 294.0 309.7C296.5 309.5 299.2 309.5 300.3 309.5" stroke="url(#g_a2_b2)"/>
<path d="M46.0 333.8C47.3 333.9 51.0 333.9 54.0 334.2C57.0 334.5 60.2 334.4 63.8 335.7C67.4 336.9 71.7 339.5 75.7 341.7C79.7 343.9 83.6 346.7 87.6 348.8C91.6 350.9 95.5 352.9 99.5 354.3C103.5 355.7 108.9 356.6 111.4 357.1C114.0 357.6 111.9 357.2 114.8 357.1C117.7 357.0 124.5 356.7 128.8 356.7C133.1 356.7 136.7 356.7 140.7 357.1C144.7 357.5 148.6 358.4 152.6 359.0C156.6 359.6 160.5 360.3 164.5 361.0C168.5 361.7 172.4 362.4 176.4 363.1C180.4 363.9 184.2 364.7 188.3 365.5C192.4 366.3 196.9 368.4 201.2 367.9C205.5 367.4 209.9 364.2 214.0 362.4C218.1 360.6 222.0 359.0 226.0 357.1C230.0 355.2 233.9 353.2 237.9 351.2C241.9 349.2 245.8 347.0 249.8 345.2C253.8 343.4 257.7 341.9 261.7 340.5C265.7 339.1 269.6 337.8 273.6 336.9C277.6 335.9 282.1 335.3 285.5 334.8C288.9 334.3 291.5 334.2 294.0 334.0C296.5 333.8 299.2 333.8 300.3 333.8" stroke="url(#g_a2_b3)"/>
<path d="M46.0 333.8C47.3 333.9 51.0 334.0 54.0 334.6C57.0 335.2 60.2 336.0 63.8 337.6C67.4 339.2 71.7 341.7 75.7 344.0C79.7 346.3 83.6 348.6 87.6 351.2C91.6 353.8 95.9 357.2 99.5 359.5C103.1 361.8 106.5 363.7 109.0 364.8C111.5 365.9 111.5 365.8 114.8 366.0C118.1 366.2 124.5 366.3 128.8 366.2C133.1 366.1 136.7 365.4 140.7 365.5C144.7 365.6 148.6 366.4 152.6 367.1C156.6 367.8 160.5 368.8 164.5 369.5C168.5 370.2 172.4 370.9 176.4 371.4C180.4 371.9 184.2 372.3 188.3 372.6C192.4 372.9 196.9 373.4 201.2 373.3C205.5 373.2 209.9 372.7 214.0 372.0C218.1 371.3 222.0 370.8 226.0 369.1C230.0 367.4 233.9 364.5 237.9 362.0C241.9 359.5 245.8 356.7 249.8 354.0C253.8 351.3 257.7 348.2 261.7 345.7C265.7 343.2 269.6 340.8 273.6 339.0C277.6 337.2 282.1 336.0 285.5 335.2C288.9 334.4 291.5 334.3 294.0 334.1C296.5 333.9 299.2 333.9 300.3 333.8" stroke="url(#g_a2_b4)"/>
<path d="M46.0 368.6C49.0 368.6 56.9 368.6 63.8 368.3C70.7 368.1 80.4 367.5 87.6 367.1C94.8 366.7 102.2 366.1 106.7 365.8C111.2 365.5 113.5 365.6 114.8 365.5" stroke="url(#g_a2_b5a)"/>
<path d="M208.0 375.5C209.8 375.4 215.3 375.9 219.0 375.2C222.7 374.4 226.8 372.0 230.3 371.0C233.8 370.0 236.0 369.6 239.8 369.1C243.6 368.6 247.6 368.2 253.0 368.0C258.4 367.8 264.1 367.5 272.0 367.6C279.9 367.7 295.6 368.4 300.3 368.6" stroke="url(#g_a2_b5b)"/>
<path d="M46.0 341.7C49.0 341.9 58.8 342.2 63.8 342.9C68.8 343.6 71.7 344.3 75.7 345.7C79.7 347.1 85.6 350.3 87.6 351.2" stroke="url(#g_a2_b6a)"/>
<path d="M266.0 341.0C267.2 341.1 269.8 341.3 273.0 341.5C276.2 341.7 280.4 342.0 285.0 342.0C289.6 342.0 297.8 341.8 300.3 341.7" stroke="url(#g_a2_b6b)"/>
<path d="M46.0 347.6C49.0 347.7 56.9 347.9 63.8 348.3C70.7 348.7 79.1 349.5 87.6 350.0C96.1 350.5 110.3 351.0 114.8 351.2" stroke="url(#g_a2_b7a)"/>
<path d="M226.0 356.0C228.8 355.2 235.9 352.4 242.6 351.2C249.3 350.0 256.8 349.4 266.4 348.8C276.0 348.2 294.6 347.8 300.3 347.6" stroke="url(#g_a2_b7b)"/>
<path d="M96.0 397.0C96.8 396.4 98.5 394.9 100.7 393.6C102.9 392.3 106.7 390.1 109.0 389.3C111.3 388.5 111.5 388.2 114.8 388.6C118.1 389.0 124.5 391.1 128.8 391.7C133.1 392.3 136.8 392.4 140.7 392.4C144.6 392.4 148.0 392.0 152.0 391.5C156.0 391.0 160.4 390.5 164.5 389.3C168.6 388.1 172.4 386.5 176.4 384.5C180.4 382.5 184.2 379.4 188.3 377.4C192.4 375.4 199.0 373.4 201.2 372.6" stroke="url(#g_a2_b8)"/>
<path d="M201.2 372.0C202.2 371.8 205.1 371.7 207.4 370.5C209.7 369.3 212.1 367.8 215.0 364.8C217.9 361.8 221.9 355.6 224.6 352.4C227.3 349.2 228.9 347.6 231.0 345.5C233.1 343.4 236.0 340.9 237.0 340.0" stroke="url(#g_a2_b9)"/>
<path d="M46.0 261.0C47.4 261.2 51.3 261.5 54.3 262.4C57.3 263.3 60.2 264.5 63.8 266.4C67.4 268.3 71.7 271.0 75.7 273.6C79.7 276.2 83.6 278.8 87.6 281.9C91.6 285.0 95.0 288.5 99.5 292.0C104.0 295.5 112.2 301.2 114.8 303.0" stroke="url(#g_a2_b10a_0)"/>
<path d="M231.6 303.0C234.2 301.2 242.4 295.5 247.0 292.0C251.6 288.5 255.1 285.0 259.0 281.9C262.9 278.8 266.7 276.2 270.6 273.6C274.5 271.0 278.9 268.3 282.5 266.4C286.1 264.5 289.0 263.3 292.0 262.4C295.0 261.5 298.9 261.2 300.3 261.0" stroke="url(#g_a2_b10b_0)"/>
<path d="M46.0 283.1C47.3 283.2 51.0 283.2 54.0 283.8C57.0 284.4 60.2 285.5 63.8 286.7C67.4 287.9 71.7 289.4 75.7 291.0C79.7 292.6 83.6 294.3 87.6 296.2C91.6 298.1 95.5 300.4 99.5 302.1C103.5 303.8 108.9 305.4 111.4 306.2C114.0 307.0 112.0 306.6 114.8 306.9C117.6 307.2 123.7 307.6 128.0 308.0C132.3 308.4 136.6 308.4 140.7 309.5C144.8 310.6 148.6 313.1 152.6 314.3C156.6 315.5 159.9 316.2 164.5 316.7C169.1 317.2 173.9 317.2 180.0 317.3C186.1 317.4 192.8 317.2 201.2 317.1C209.6 317.0 222.6 317.6 230.7 316.7C238.8 315.8 244.6 314.3 249.8 311.9C255.0 309.5 258.0 305.5 261.7 302.4C265.4 299.2 268.5 295.6 272.0 293.0C275.5 290.4 279.2 288.2 282.5 286.7C285.8 285.2 289.0 284.4 292.0 283.8C295.0 283.2 298.9 283.2 300.3 283.1" stroke="url(#g_a2_b11_0)"/>
<path d="M117.2 342.8C122.3 343.0 138.4 344.0 147.7 344.4C157.0 344.9 164.2 345.1 173.2 345.3C182.1 345.5 191.8 345.7 201.1 345.7C210.4 345.7 220.2 345.6 229.1 345.3C238.0 344.9 250.3 343.9 254.5 343.6" stroke="url(#g_a2_b12)"/>
</g>
<g fill="none" stroke-width="5.00" opacity="0.400" filter="url(#bl_a2_1)" stroke-linecap="round">
<path d="M46.0 309.5C47.0 309.6 49.8 309.5 52.0 309.8C54.2 310.1 55.8 310.2 59.0 311.4C62.2 312.5 67.0 314.6 71.0 316.7C75.0 318.8 78.9 321.5 82.9 323.8C86.9 326.1 90.8 328.4 94.8 330.5C98.8 332.6 103.4 334.6 106.7 336.2C110.0 337.8 111.1 338.5 114.8 340.0C118.5 341.5 124.5 343.6 128.8 345.2C133.1 346.8 136.7 347.9 140.7 349.5C144.7 351.1 148.6 353.1 152.6 354.8C156.6 356.5 160.5 358.0 164.5 359.5C168.5 361.0 172.4 362.2 176.4 363.8C180.4 365.4 184.2 367.4 188.3 369.0C192.4 370.6 196.9 371.5 201.2 373.3C205.5 375.1 209.9 377.7 214.0 379.8C218.1 381.9 222.0 384.0 226.0 385.7C230.0 387.4 233.9 388.7 237.9 390.0C241.9 391.3 245.8 392.2 249.8 393.3C253.8 394.4 260.0 396.0 262.0 396.5" stroke="url(#g_a2_b1)"/>
<path d="M114.8 340.0C116.3 338.7 120.9 334.4 124.0 332.1C127.1 329.8 130.0 327.6 133.6 326.2C137.2 324.8 141.9 323.6 145.5 323.8C149.1 324.0 151.8 325.4 155.0 327.4C158.2 329.4 160.9 332.9 164.5 335.7C168.1 338.5 172.4 341.7 176.4 344.0C180.4 346.3 184.2 348.3 188.3 349.5C192.4 350.7 196.9 351.3 201.2 351.2C205.5 351.1 209.9 350.4 214.0 348.8C218.1 347.2 222.0 344.3 226.0 341.7C230.0 339.1 233.9 335.9 237.9 333.3C241.9 330.7 245.8 328.6 249.8 326.2C253.8 323.8 257.7 321.1 261.7 319.0C265.7 316.9 269.6 315.2 273.6 313.8C277.6 312.4 282.1 311.2 285.5 310.5C288.9 309.8 291.5 309.9 294.0 309.7C296.5 309.5 299.2 309.5 300.3 309.5" stroke="url(#g_a2_b2_1)"/>
<path d="M46.0 333.8C47.3 333.9 51.0 333.9 54.0 334.2C57.0 334.5 60.2 334.4 63.8 335.7C67.4 336.9 71.7 339.5 75.7 341.7C79.7 343.9 83.6 346.7 87.6 348.8C91.6 350.9 95.5 352.9 99.5 354.3C103.5 355.7 108.9 356.6 111.4 357.1C114.0 357.6 111.9 357.2 114.8 357.1C117.7 357.0 124.5 356.7 128.8 356.7C133.1 356.7 136.7 356.7 140.7 357.1C144.7 357.5 148.6 358.4 152.6 359.0C156.6 359.6 160.5 360.3 164.5 361.0C168.5 361.7 172.4 362.4 176.4 363.1C180.4 363.9 184.2 364.7 188.3 365.5C192.4 366.3 196.9 368.4 201.2 367.9C205.5 367.4 209.9 364.2 214.0 362.4C218.1 360.6 222.0 359.0 226.0 357.1C230.0 355.2 233.9 353.2 237.9 351.2C241.9 349.2 245.8 347.0 249.8 345.2C253.8 343.4 257.7 341.9 261.7 340.5C265.7 339.1 269.6 337.8 273.6 336.9C277.6 335.9 282.1 335.3 285.5 334.8C288.9 334.3 291.5 334.2 294.0 334.0C296.5 333.8 299.2 333.8 300.3 333.8" stroke="url(#g_a2_b3)"/>
<path d="M46.0 333.8C47.3 333.9 51.0 334.0 54.0 334.6C57.0 335.2 60.2 336.0 63.8 337.6C67.4 339.2 71.7 341.7 75.7 344.0C79.7 346.3 83.6 348.6 87.6 351.2C91.6 353.8 95.9 357.2 99.5 359.5C103.1 361.8 106.5 363.7 109.0 364.8C111.5 365.9 111.5 365.8 114.8 366.0C118.1 366.2 124.5 366.3 128.8 366.2C133.1 366.1 136.7 365.4 140.7 365.5C144.7 365.6 148.6 366.4 152.6 367.1C156.6 367.8 160.5 368.8 164.5 369.5C168.5 370.2 172.4 370.9 176.4 371.4C180.4 371.9 184.2 372.3 188.3 372.6C192.4 372.9 196.9 373.4 201.2 373.3C205.5 373.2 209.9 372.7 214.0 372.0C218.1 371.3 222.0 370.8 226.0 369.1C230.0 367.4 233.9 364.5 237.9 362.0C241.9 359.5 245.8 356.7 249.8 354.0C253.8 351.3 257.7 348.2 261.7 345.7C265.7 343.2 269.6 340.8 273.6 339.0C277.6 337.2 282.1 336.0 285.5 335.2C288.9 334.4 291.5 334.3 294.0 334.1C296.5 333.9 299.2 333.9 300.3 333.8" stroke="url(#g_a2_b4_1)"/>
<path d="M46.0 368.6C49.0 368.6 56.9 368.6 63.8 368.3C70.7 368.1 80.4 367.5 87.6 367.1C94.8 366.7 102.2 366.1 106.7 365.8C111.2 365.5 113.5 365.6 114.8 365.5" stroke="url(#g_a2_b5a)"/>
<path d="M208.0 375.5C209.8 375.4 215.3 375.9 219.0 375.2C222.7 374.4 226.8 372.0 230.3 371.0C233.8 370.0 236.0 369.6 239.8 369.1C243.6 368.6 247.6 368.2 253.0 368.0C258.4 367.8 264.1 367.5 272.0 367.6C279.9 367.7 295.6 368.4 300.3 368.6" stroke="url(#g_a2_b5b)"/>
<path d="M46.0 341.7C49.0 341.9 58.8 342.2 63.8 342.9C68.8 343.6 71.7 344.3 75.7 345.7C79.7 347.1 85.6 350.3 87.6 351.2" stroke="url(#g_a2_b6a)"/>
<path d="M266.0 341.0C267.2 341.1 269.8 341.3 273.0 341.5C276.2 341.7 280.4 342.0 285.0 342.0C289.6 342.0 297.8 341.8 300.3 341.7" stroke="url(#g_a2_b6b)"/>
<path d="M46.0 347.6C49.0 347.7 56.9 347.9 63.8 348.3C70.7 348.7 79.1 349.5 87.6 350.0C96.1 350.5 110.3 351.0 114.8 351.2" stroke="url(#g_a2_b7a)"/>
<path d="M226.0 356.0C228.8 355.2 235.9 352.4 242.6 351.2C249.3 350.0 256.8 349.4 266.4 348.8C276.0 348.2 294.6 347.8 300.3 347.6" stroke="url(#g_a2_b7b)"/>
<path d="M96.0 397.0C96.8 396.4 98.5 394.9 100.7 393.6C102.9 392.3 106.7 390.1 109.0 389.3C111.3 388.5 111.5 388.2 114.8 388.6C118.1 389.0 124.5 391.1 128.8 391.7C133.1 392.3 136.8 392.4 140.7 392.4C144.6 392.4 148.0 392.0 152.0 391.5C156.0 391.0 160.4 390.5 164.5 389.3C168.6 388.1 172.4 386.5 176.4 384.5C180.4 382.5 184.2 379.4 188.3 377.4C192.4 375.4 199.0 373.4 201.2 372.6" stroke="url(#g_a2_b8)"/>
<path d="M201.2 372.0C202.2 371.8 205.1 371.7 207.4 370.5C209.7 369.3 212.1 367.8 215.0 364.8C217.9 361.8 221.9 355.6 224.6 352.4C227.3 349.2 228.9 347.6 231.0 345.5C233.1 343.4 236.0 340.9 237.0 340.0" stroke="url(#g_a2_b9)"/>
<path d="M46.0 261.0C47.4 261.2 51.3 261.5 54.3 262.4C57.3 263.3 60.2 264.5 63.8 266.4C67.4 268.3 71.7 271.0 75.7 273.6C79.7 276.2 83.6 278.8 87.6 281.9C91.6 285.0 95.0 288.5 99.5 292.0C104.0 295.5 112.2 301.2 114.8 303.0" stroke="url(#g_a2_b10a_1)"/>
<path d="M231.6 303.0C234.2 301.2 242.4 295.5 247.0 292.0C251.6 288.5 255.1 285.0 259.0 281.9C262.9 278.8 266.7 276.2 270.6 273.6C274.5 271.0 278.9 268.3 282.5 266.4C286.1 264.5 289.0 263.3 292.0 262.4C295.0 261.5 298.9 261.2 300.3 261.0" stroke="url(#g_a2_b10b_1)"/>
<path d="M46.0 283.1C47.3 283.2 51.0 283.2 54.0 283.8C57.0 284.4 60.2 285.5 63.8 286.7C67.4 287.9 71.7 289.4 75.7 291.0C79.7 292.6 83.6 294.3 87.6 296.2C91.6 298.1 95.5 300.4 99.5 302.1C103.5 303.8 108.9 305.4 111.4 306.2C114.0 307.0 112.0 306.6 114.8 306.9C117.6 307.2 123.7 307.6 128.0 308.0C132.3 308.4 136.6 308.4 140.7 309.5C144.8 310.6 148.6 313.1 152.6 314.3C156.6 315.5 159.9 316.2 164.5 316.7C169.1 317.2 173.9 317.2 180.0 317.3C186.1 317.4 192.8 317.2 201.2 317.1C209.6 317.0 222.6 317.6 230.7 316.7C238.8 315.8 244.6 314.3 249.8 311.9C255.0 309.5 258.0 305.5 261.7 302.4C265.4 299.2 268.5 295.6 272.0 293.0C275.5 290.4 279.2 288.2 282.5 286.7C285.8 285.2 289.0 284.4 292.0 283.8C295.0 283.2 298.9 283.2 300.3 283.1" stroke="url(#g_a2_b11_1)"/>
<path d="M117.2 342.8C122.3 343.0 138.4 344.0 147.7 344.4C157.0 344.9 164.2 345.1 173.2 345.3C182.1 345.5 191.8 345.7 201.1 345.7C210.4 345.7 220.2 345.6 229.1 345.3C238.0 344.9 250.3 343.9 254.5 343.6" stroke="url(#g_a2_b12)"/>
</g>
<g fill="none" stroke-width="2.40" opacity="0.420" filter="url(#bl_a2_2)" stroke-linecap="round">
<path d="M46.0 309.5C47.0 309.6 49.8 309.5 52.0 309.8C54.2 310.1 55.8 310.2 59.0 311.4C62.2 312.5 67.0 314.6 71.0 316.7C75.0 318.8 78.9 321.5 82.9 323.8C86.9 326.1 90.8 328.4 94.8 330.5C98.8 332.6 103.4 334.6 106.7 336.2C110.0 337.8 111.1 338.5 114.8 340.0C118.5 341.5 124.5 343.6 128.8 345.2C133.1 346.8 136.7 347.9 140.7 349.5C144.7 351.1 148.6 353.1 152.6 354.8C156.6 356.5 160.5 358.0 164.5 359.5C168.5 361.0 172.4 362.2 176.4 363.8C180.4 365.4 184.2 367.4 188.3 369.0C192.4 370.6 196.9 371.5 201.2 373.3C205.5 375.1 209.9 377.7 214.0 379.8C218.1 381.9 222.0 384.0 226.0 385.7C230.0 387.4 233.9 388.7 237.9 390.0C241.9 391.3 245.8 392.2 249.8 393.3C253.8 394.4 260.0 396.0 262.0 396.5" stroke="url(#g_a2_b1_2)"/>
<path d="M114.8 340.0C116.3 338.7 120.9 334.4 124.0 332.1C127.1 329.8 130.0 327.6 133.6 326.2C137.2 324.8 141.9 323.6 145.5 323.8C149.1 324.0 151.8 325.4 155.0 327.4C158.2 329.4 160.9 332.9 164.5 335.7C168.1 338.5 172.4 341.7 176.4 344.0C180.4 346.3 184.2 348.3 188.3 349.5C192.4 350.7 196.9 351.3 201.2 351.2C205.5 351.1 209.9 350.4 214.0 348.8C218.1 347.2 222.0 344.3 226.0 341.7C230.0 339.1 233.9 335.9 237.9 333.3C241.9 330.7 245.8 328.6 249.8 326.2C253.8 323.8 257.7 321.1 261.7 319.0C265.7 316.9 269.6 315.2 273.6 313.8C277.6 312.4 282.1 311.2 285.5 310.5C288.9 309.8 291.5 309.9 294.0 309.7C296.5 309.5 299.2 309.5 300.3 309.5" stroke="url(#g_a2_b2_2)"/>
<path d="M46.0 333.8C47.3 333.9 51.0 333.9 54.0 334.2C57.0 334.5 60.2 334.4 63.8 335.7C67.4 336.9 71.7 339.5 75.7 341.7C79.7 343.9 83.6 346.7 87.6 348.8C91.6 350.9 95.5 352.9 99.5 354.3C103.5 355.7 108.9 356.6 111.4 357.1C114.0 357.6 111.9 357.2 114.8 357.1C117.7 357.0 124.5 356.7 128.8 356.7C133.1 356.7 136.7 356.7 140.7 357.1C144.7 357.5 148.6 358.4 152.6 359.0C156.6 359.6 160.5 360.3 164.5 361.0C168.5 361.7 172.4 362.4 176.4 363.1C180.4 363.9 184.2 364.7 188.3 365.5C192.4 366.3 196.9 368.4 201.2 367.9C205.5 367.4 209.9 364.2 214.0 362.4C218.1 360.6 222.0 359.0 226.0 357.1C230.0 355.2 233.9 353.2 237.9 351.2C241.9 349.2 245.8 347.0 249.8 345.2C253.8 343.4 257.7 341.9 261.7 340.5C265.7 339.1 269.6 337.8 273.6 336.9C277.6 335.9 282.1 335.3 285.5 334.8C288.9 334.3 291.5 334.2 294.0 334.0C296.5 333.8 299.2 333.8 300.3 333.8" stroke="url(#g_a2_b3_2)"/>
<path d="M46.0 333.8C47.3 333.9 51.0 334.0 54.0 334.6C57.0 335.2 60.2 336.0 63.8 337.6C67.4 339.2 71.7 341.7 75.7 344.0C79.7 346.3 83.6 348.6 87.6 351.2C91.6 353.8 95.9 357.2 99.5 359.5C103.1 361.8 106.5 363.7 109.0 364.8C111.5 365.9 111.5 365.8 114.8 366.0C118.1 366.2 124.5 366.3 128.8 366.2C133.1 366.1 136.7 365.4 140.7 365.5C144.7 365.6 148.6 366.4 152.6 367.1C156.6 367.8 160.5 368.8 164.5 369.5C168.5 370.2 172.4 370.9 176.4 371.4C180.4 371.9 184.2 372.3 188.3 372.6C192.4 372.9 196.9 373.4 201.2 373.3C205.5 373.2 209.9 372.7 214.0 372.0C218.1 371.3 222.0 370.8 226.0 369.1C230.0 367.4 233.9 364.5 237.9 362.0C241.9 359.5 245.8 356.7 249.8 354.0C253.8 351.3 257.7 348.2 261.7 345.7C265.7 343.2 269.6 340.8 273.6 339.0C277.6 337.2 282.1 336.0 285.5 335.2C288.9 334.4 291.5 334.3 294.0 334.1C296.5 333.9 299.2 333.9 300.3 333.8" stroke="url(#g_a2_b4_2)"/>
<path d="M46.0 368.6C49.0 368.6 56.9 368.6 63.8 368.3C70.7 368.1 80.4 367.5 87.6 367.1C94.8 366.7 102.2 366.1 106.7 365.8C111.2 365.5 113.5 365.6 114.8 365.5" stroke="url(#g_a2_b5a_2)"/>
<path d="M208.0 375.5C209.8 375.4 215.3 375.9 219.0 375.2C222.7 374.4 226.8 372.0 230.3 371.0C233.8 370.0 236.0 369.6 239.8 369.1C243.6 368.6 247.6 368.2 253.0 368.0C258.4 367.8 264.1 367.5 272.0 367.6C279.9 367.7 295.6 368.4 300.3 368.6" stroke="url(#g_a2_b5b_2)"/>
<path d="M46.0 341.7C49.0 341.9 58.8 342.2 63.8 342.9C68.8 343.6 71.7 344.3 75.7 345.7C79.7 347.1 85.6 350.3 87.6 351.2" stroke="url(#g_a2_b6a)"/>
<path d="M266.0 341.0C267.2 341.1 269.8 341.3 273.0 341.5C276.2 341.7 280.4 342.0 285.0 342.0C289.6 342.0 297.8 341.8 300.3 341.7" stroke="url(#g_a2_b6b)"/>
<path d="M46.0 347.6C49.0 347.7 56.9 347.9 63.8 348.3C70.7 348.7 79.1 349.5 87.6 350.0C96.1 350.5 110.3 351.0 114.8 351.2" stroke="url(#g_a2_b7a)"/>
<path d="M226.0 356.0C228.8 355.2 235.9 352.4 242.6 351.2C249.3 350.0 256.8 349.4 266.4 348.8C276.0 348.2 294.6 347.8 300.3 347.6" stroke="url(#g_a2_b7b)"/>
<path d="M96.0 397.0C96.8 396.4 98.5 394.9 100.7 393.6C102.9 392.3 106.7 390.1 109.0 389.3C111.3 388.5 111.5 388.2 114.8 388.6C118.1 389.0 124.5 391.1 128.8 391.7C133.1 392.3 136.8 392.4 140.7 392.4C144.6 392.4 148.0 392.0 152.0 391.5C156.0 391.0 160.4 390.5 164.5 389.3C168.6 388.1 172.4 386.5 176.4 384.5C180.4 382.5 184.2 379.4 188.3 377.4C192.4 375.4 199.0 373.4 201.2 372.6" stroke="url(#g_a2_b8_2)"/>
<path d="M201.2 372.0C202.2 371.8 205.1 371.7 207.4 370.5C209.7 369.3 212.1 367.8 215.0 364.8C217.9 361.8 221.9 355.6 224.6 352.4C227.3 349.2 228.9 347.6 231.0 345.5C233.1 343.4 236.0 340.9 237.0 340.0" stroke="url(#g_a2_b9)"/>
<path d="M46.0 261.0C47.4 261.2 51.3 261.5 54.3 262.4C57.3 263.3 60.2 264.5 63.8 266.4C67.4 268.3 71.7 271.0 75.7 273.6C79.7 276.2 83.6 278.8 87.6 281.9C91.6 285.0 95.0 288.5 99.5 292.0C104.0 295.5 112.2 301.2 114.8 303.0" stroke="url(#g_a2_b10a_2)"/>
<path d="M231.6 303.0C234.2 301.2 242.4 295.5 247.0 292.0C251.6 288.5 255.1 285.0 259.0 281.9C262.9 278.8 266.7 276.2 270.6 273.6C274.5 271.0 278.9 268.3 282.5 266.4C286.1 264.5 289.0 263.3 292.0 262.4C295.0 261.5 298.9 261.2 300.3 261.0" stroke="url(#g_a2_b10b_2)"/>
<path d="M46.0 283.1C47.3 283.2 51.0 283.2 54.0 283.8C57.0 284.4 60.2 285.5 63.8 286.7C67.4 287.9 71.7 289.4 75.7 291.0C79.7 292.6 83.6 294.3 87.6 296.2C91.6 298.1 95.5 300.4 99.5 302.1C103.5 303.8 108.9 305.4 111.4 306.2C114.0 307.0 112.0 306.6 114.8 306.9C117.6 307.2 123.7 307.6 128.0 308.0C132.3 308.4 136.6 308.4 140.7 309.5C144.8 310.6 148.6 313.1 152.6 314.3C156.6 315.5 159.9 316.2 164.5 316.7C169.1 317.2 173.9 317.2 180.0 317.3C186.1 317.4 192.8 317.2 201.2 317.1C209.6 317.0 222.6 317.6 230.7 316.7C238.8 315.8 244.6 314.3 249.8 311.9C255.0 309.5 258.0 305.5 261.7 302.4C265.4 299.2 268.5 295.6 272.0 293.0C275.5 290.4 279.2 288.2 282.5 286.7C285.8 285.2 289.0 284.4 292.0 283.8C295.0 283.2 298.9 283.2 300.3 283.1" stroke="url(#g_a2_b11_2)"/>
<path d="M117.2 342.8C122.3 343.0 138.4 344.0 147.7 344.4C157.0 344.9 164.2 345.1 173.2 345.3C182.1 345.5 191.8 345.7 201.1 345.7C210.4 345.7 220.2 345.6 229.1 345.3C238.0 344.9 250.3 343.9 254.5 343.6" stroke="url(#g_a2_b12_2)"/>
</g>
<g fill="none" stroke-width="1.20" opacity="1.000" filter="url(#bl_a2_3)" stroke-linecap="round">
<path d="M46.0 309.5C47.0 309.6 49.8 309.5 52.0 309.8C54.2 310.1 55.8 310.2 59.0 311.4C62.2 312.5 67.0 314.6 71.0 316.7C75.0 318.8 78.9 321.5 82.9 323.8C86.9 326.1 90.8 328.4 94.8 330.5C98.8 332.6 103.4 334.6 106.7 336.2C110.0 337.8 111.1 338.5 114.8 340.0C118.5 341.5 124.5 343.6 128.8 345.2C133.1 346.8 136.7 347.9 140.7 349.5C144.7 351.1 148.6 353.1 152.6 354.8C156.6 356.5 160.5 358.0 164.5 359.5C168.5 361.0 172.4 362.2 176.4 363.8C180.4 365.4 184.2 367.4 188.3 369.0C192.4 370.6 196.9 371.5 201.2 373.3C205.5 375.1 209.9 377.7 214.0 379.8C218.1 381.9 222.0 384.0 226.0 385.7C230.0 387.4 233.9 388.7 237.9 390.0C241.9 391.3 245.8 392.2 249.8 393.3C253.8 394.4 260.0 396.0 262.0 396.5" stroke="url(#g_a2_b1)"/>
<path d="M114.8 340.0C116.3 338.7 120.9 334.4 124.0 332.1C127.1 329.8 130.0 327.6 133.6 326.2C137.2 324.8 141.9 323.6 145.5 323.8C149.1 324.0 151.8 325.4 155.0 327.4C158.2 329.4 160.9 332.9 164.5 335.7C168.1 338.5 172.4 341.7 176.4 344.0C180.4 346.3 184.2 348.3 188.3 349.5C192.4 350.7 196.9 351.3 201.2 351.2C205.5 351.1 209.9 350.4 214.0 348.8C218.1 347.2 222.0 344.3 226.0 341.7C230.0 339.1 233.9 335.9 237.9 333.3C241.9 330.7 245.8 328.6 249.8 326.2C253.8 323.8 257.7 321.1 261.7 319.0C265.7 316.9 269.6 315.2 273.6 313.8C277.6 312.4 282.1 311.2 285.5 310.5C288.9 309.8 291.5 309.9 294.0 309.7C296.5 309.5 299.2 309.5 300.3 309.5" stroke="url(#g_a2_b2_3)"/>
<path d="M46.0 333.8C47.3 333.9 51.0 333.9 54.0 334.2C57.0 334.5 60.2 334.4 63.8 335.7C67.4 336.9 71.7 339.5 75.7 341.7C79.7 343.9 83.6 346.7 87.6 348.8C91.6 350.9 95.5 352.9 99.5 354.3C103.5 355.7 108.9 356.6 111.4 357.1C114.0 357.6 111.9 357.2 114.8 357.1C117.7 357.0 124.5 356.7 128.8 356.7C133.1 356.7 136.7 356.7 140.7 357.1C144.7 357.5 148.6 358.4 152.6 359.0C156.6 359.6 160.5 360.3 164.5 361.0C168.5 361.7 172.4 362.4 176.4 363.1C180.4 363.9 184.2 364.7 188.3 365.5C192.4 366.3 196.9 368.4 201.2 367.9C205.5 367.4 209.9 364.2 214.0 362.4C218.1 360.6 222.0 359.0 226.0 357.1C230.0 355.2 233.9 353.2 237.9 351.2C241.9 349.2 245.8 347.0 249.8 345.2C253.8 343.4 257.7 341.9 261.7 340.5C265.7 339.1 269.6 337.8 273.6 336.9C277.6 335.9 282.1 335.3 285.5 334.8C288.9 334.3 291.5 334.2 294.0 334.0C296.5 333.8 299.2 333.8 300.3 333.8" stroke="url(#g_a2_b3)"/>
<path d="M46.0 333.8C47.3 333.9 51.0 334.0 54.0 334.6C57.0 335.2 60.2 336.0 63.8 337.6C67.4 339.2 71.7 341.7 75.7 344.0C79.7 346.3 83.6 348.6 87.6 351.2C91.6 353.8 95.9 357.2 99.5 359.5C103.1 361.8 106.5 363.7 109.0 364.8C111.5 365.9 111.5 365.8 114.8 366.0C118.1 366.2 124.5 366.3 128.8 366.2C133.1 366.1 136.7 365.4 140.7 365.5C144.7 365.6 148.6 366.4 152.6 367.1C156.6 367.8 160.5 368.8 164.5 369.5C168.5 370.2 172.4 370.9 176.4 371.4C180.4 371.9 184.2 372.3 188.3 372.6C192.4 372.9 196.9 373.4 201.2 373.3C205.5 373.2 209.9 372.7 214.0 372.0C218.1 371.3 222.0 370.8 226.0 369.1C230.0 367.4 233.9 364.5 237.9 362.0C241.9 359.5 245.8 356.7 249.8 354.0C253.8 351.3 257.7 348.2 261.7 345.7C265.7 343.2 269.6 340.8 273.6 339.0C277.6 337.2 282.1 336.0 285.5 335.2C288.9 334.4 291.5 334.3 294.0 334.1C296.5 333.9 299.2 333.9 300.3 333.8" stroke="url(#g_a2_b4)"/>
<path d="M46.0 368.6C49.0 368.6 56.9 368.6 63.8 368.3C70.7 368.1 80.4 367.5 87.6 367.1C94.8 366.7 102.2 366.1 106.7 365.8C111.2 365.5 113.5 365.6 114.8 365.5" stroke="url(#g_a2_b5a)"/>
<path d="M208.0 375.5C209.8 375.4 215.3 375.9 219.0 375.2C222.7 374.4 226.8 372.0 230.3 371.0C233.8 370.0 236.0 369.6 239.8 369.1C243.6 368.6 247.6 368.2 253.0 368.0C258.4 367.8 264.1 367.5 272.0 367.6C279.9 367.7 295.6 368.4 300.3 368.6" stroke="url(#g_a2_b5b)"/>
<path d="M46.0 341.7C49.0 341.9 58.8 342.2 63.8 342.9C68.8 343.6 71.7 344.3 75.7 345.7C79.7 347.1 85.6 350.3 87.6 351.2" stroke="url(#g_a2_b6a)"/>
<path d="M266.0 341.0C267.2 341.1 269.8 341.3 273.0 341.5C276.2 341.7 280.4 342.0 285.0 342.0C289.6 342.0 297.8 341.8 300.3 341.7" stroke="url(#g_a2_b6b)"/>
<path d="M46.0 347.6C49.0 347.7 56.9 347.9 63.8 348.3C70.7 348.7 79.1 349.5 87.6 350.0C96.1 350.5 110.3 351.0 114.8 351.2" stroke="url(#g_a2_b7a)"/>
<path d="M226.0 356.0C228.8 355.2 235.9 352.4 242.6 351.2C249.3 350.0 256.8 349.4 266.4 348.8C276.0 348.2 294.6 347.8 300.3 347.6" stroke="url(#g_a2_b7b)"/>
<path d="M96.0 397.0C96.8 396.4 98.5 394.9 100.7 393.6C102.9 392.3 106.7 390.1 109.0 389.3C111.3 388.5 111.5 388.2 114.8 388.6C118.1 389.0 124.5 391.1 128.8 391.7C133.1 392.3 136.8 392.4 140.7 392.4C144.6 392.4 148.0 392.0 152.0 391.5C156.0 391.0 160.4 390.5 164.5 389.3C168.6 388.1 172.4 386.5 176.4 384.5C180.4 382.5 184.2 379.4 188.3 377.4C192.4 375.4 199.0 373.4 201.2 372.6" stroke="url(#g_a2_b8_3)"/>
<path d="M201.2 372.0C202.2 371.8 205.1 371.7 207.4 370.5C209.7 369.3 212.1 367.8 215.0 364.8C217.9 361.8 221.9 355.6 224.6 352.4C227.3 349.2 228.9 347.6 231.0 345.5C233.1 343.4 236.0 340.9 237.0 340.0" stroke="url(#g_a2_b9)"/>
<path d="M46.0 261.0C47.4 261.2 51.3 261.5 54.3 262.4C57.3 263.3 60.2 264.5 63.8 266.4C67.4 268.3 71.7 271.0 75.7 273.6C79.7 276.2 83.6 278.8 87.6 281.9C91.6 285.0 95.0 288.5 99.5 292.0C104.0 295.5 112.2 301.2 114.8 303.0" stroke="url(#g_a2_b10a_3)"/>
<path d="M231.6 303.0C234.2 301.2 242.4 295.5 247.0 292.0C251.6 288.5 255.1 285.0 259.0 281.9C262.9 278.8 266.7 276.2 270.6 273.6C274.5 271.0 278.9 268.3 282.5 266.4C286.1 264.5 289.0 263.3 292.0 262.4C295.0 261.5 298.9 261.2 300.3 261.0" stroke="url(#g_a2_b10b_3)"/>
<path d="M46.0 283.1C47.3 283.2 51.0 283.2 54.0 283.8C57.0 284.4 60.2 285.5 63.8 286.7C67.4 287.9 71.7 289.4 75.7 291.0C79.7 292.6 83.6 294.3 87.6 296.2C91.6 298.1 95.5 300.4 99.5 302.1C103.5 303.8 108.9 305.4 111.4 306.2C114.0 307.0 112.0 306.6 114.8 306.9C117.6 307.2 123.7 307.6 128.0 308.0C132.3 308.4 136.6 308.4 140.7 309.5C144.8 310.6 148.6 313.1 152.6 314.3C156.6 315.5 159.9 316.2 164.5 316.7C169.1 317.2 173.9 317.2 180.0 317.3C186.1 317.4 192.8 317.2 201.2 317.1C209.6 317.0 222.6 317.6 230.7 316.7C238.8 315.8 244.6 314.3 249.8 311.9C255.0 309.5 258.0 305.5 261.7 302.4C265.4 299.2 268.5 295.6 272.0 293.0C275.5 290.4 279.2 288.2 282.5 286.7C285.8 285.2 289.0 284.4 292.0 283.8C295.0 283.2 298.9 283.2 300.3 283.1" stroke="url(#g_a2_b11_3)"/>
</g>
</g></g>
<line x1="114.80" x2="114.80" y1="226.00" y2="394.00" stroke="#d8e4f4" stroke-opacity=".6" stroke-width=".8"/>
<line x1="201.30" x2="201.30" y1="226.00" y2="394.00" stroke="#d8e4f4" stroke-opacity=".6" stroke-width=".8"/>
<line x1="46.00" x2="300.30" y1="310.00" y2="310.00" stroke="#b8c8f0" stroke-opacity=".6" stroke-width=".7"/>
<line x1="46.00" x2="50.00" y1="226.00" y2="226.00" stroke="#e8eeff" stroke-opacity=".8" stroke-width=".6"/>
<line x1="296.30" x2="300.30" y1="226.00" y2="226.00" stroke="#e8eeff" stroke-opacity=".8" stroke-width=".6"/>
<text x="40.40" y="230.20" font-size="12.00" text-anchor="end">2</text>
<line x1="46.00" x2="50.00" y1="268.00" y2="268.00" stroke="#e8eeff" stroke-opacity=".8" stroke-width=".6"/>
<line x1="296.30" x2="300.30" y1="268.00" y2="268.00" stroke="#e8eeff" stroke-opacity=".8" stroke-width=".6"/>
<text x="40.40" y="272.20" font-size="12.00" text-anchor="end">1</text>
<line x1="46.00" x2="50.00" y1="310.00" y2="310.00" stroke="#e8eeff" stroke-opacity=".8" stroke-width=".6"/>
<line x1="296.30" x2="300.30" y1="310.00" y2="310.00" stroke="#e8eeff" stroke-opacity=".8" stroke-width=".6"/>
<text x="40.40" y="314.20" font-size="12.00" text-anchor="end">0</text>
<line x1="46.00" x2="50.00" y1="352.00" y2="352.00" stroke="#e8eeff" stroke-opacity=".8" stroke-width=".6"/>
<line x1="296.30" x2="300.30" y1="352.00" y2="352.00" stroke="#e8eeff" stroke-opacity=".8" stroke-width=".6"/>
<text x="40.40" y="356.20" font-size="12.00" text-anchor="end">-1</text>
<line x1="46.00" x2="50.00" y1="394.00" y2="394.00" stroke="#e8eeff" stroke-opacity=".8" stroke-width=".6"/>
<line x1="296.30" x2="300.30" y1="394.00" y2="394.00" stroke="#e8eeff" stroke-opacity=".8" stroke-width=".6"/>
<text x="40.40" y="398.20" font-size="12.00" text-anchor="end">-2</text>
<text x="45.50" y="408.00" font-size="14.90" text-anchor="start" class="se">Γ</text>
<text x="114.80" y="408.00" font-size="14.30" text-anchor="middle">K</text>
<text x="201.30" y="408.00" font-size="14.30" text-anchor="middle">M</text>
<text x="299.70" y="408.00" font-size="14.90" text-anchor="middle" class="se">Γ</text>
<text transform="translate(21.00 310.00) rotate(-90)" font-size="12.40" text-anchor="middle">ω (eV)</text>
<text x="-0.30" y="420.00" font-size="14.00" text-anchor="start" class="se" font-weight="bold">a</text>
<text x="316.90" y="420.00" font-size="14.00" text-anchor="start" class="se" font-weight="bold">b</text>
<rect x="364.20" y="18.00" width="103.7" height="7.2" fill="url(#cbh)"/>
<g clip-path="url(#cp_pd1)"><g filter="url(#cm_pd1)">
<rect x="322.30" y="9.00" width="185.40" height="136.30" fill="#010101"/>
<path d="M335.0 102.4C339.9 102.6 356.4 102.6 364.1 103.6C371.9 104.6 374.3 107.6 381.6 108.4C388.8 109.2 399.5 108.2 407.7 108.4C416.0 108.6 422.5 110.3 431.0 109.7C439.5 109.0 448.0 106.0 458.6 104.8C469.3 103.6 488.9 102.8 495.0 102.4" fill="none" stroke="#292929" stroke-opacity="0.320" stroke-width="18.06" filter="url(#bf_pd1_0)"/>
<path d="M385.9 101.2C389.6 101.6 400.2 102.6 407.7 103.6C415.2 104.6 424.9 106.8 431.0 107.2C437.1 107.6 441.9 106.2 444.1 106.0" fill="none" stroke="#292929" stroke-opacity="0.350" stroke-width="12.04" filter="url(#bf_pd1_1)"/>
<g fill="none" stroke-width="5.00" opacity="0.140" filter="url(#bl_pd1_0)" stroke-linecap="round">
<path d="M342.3 76.9C342.9 76.9 344.5 76.9 345.7 77.0C347.0 77.2 347.9 77.3 349.7 78.0C351.5 78.6 354.3 79.8 356.6 81.0C358.9 82.2 361.1 83.7 363.4 85.1C365.7 86.4 367.9 87.7 370.2 88.9C372.5 90.1 375.1 91.3 377.0 92.2C378.9 93.1 379.5 93.5 381.6 94.3C383.7 95.2 387.2 96.4 389.6 97.3C392.1 98.2 394.2 98.9 396.4 99.8C398.7 100.7 401.0 101.9 403.3 102.8C405.5 103.8 407.8 104.7 410.1 105.5C412.3 106.4 414.6 107.1 416.9 108.0C419.1 108.9 421.3 110.1 423.7 111.0C426.0 111.9 428.6 112.4 431.0 113.4C433.5 114.5 436.0 116.0 438.4 117.2C440.7 118.3 442.9 119.6 445.2 120.5C447.5 121.5 449.8 122.3 452.0 123.0C454.3 123.7 456.5 124.3 458.8 124.9C461.1 125.5 464.6 126.4 465.8 126.7" stroke="url(#g_pd1_b1)"/>
<path d="M381.6 94.3C382.5 93.6 385.1 91.1 386.9 89.8C388.7 88.5 390.3 87.2 392.4 86.4C394.4 85.6 397.2 84.9 399.2 85.1C401.2 85.2 402.8 86.0 404.6 87.1C406.4 88.3 408.0 90.3 410.1 91.9C412.1 93.5 414.6 95.3 416.9 96.6C419.1 98.0 421.3 99.1 423.7 99.8C426.0 100.5 428.6 100.8 431.0 100.8C433.5 100.7 436.0 100.3 438.4 99.4C440.7 98.5 442.9 96.8 445.2 95.3C447.5 93.8 449.8 92.0 452.0 90.5C454.3 89.0 456.6 87.8 458.8 86.4C461.1 85.1 463.4 83.5 465.6 82.3C467.9 81.1 470.2 80.1 472.4 79.3C474.7 78.5 477.3 77.8 479.2 77.4C481.2 77.0 482.7 77.1 484.1 77.0C485.5 76.9 487.1 76.9 487.7 76.9" stroke="url(#g_pd1_b2)"/>
<path d="M342.3 90.8C343.1 90.8 345.2 90.8 346.9 91.0C348.6 91.2 350.4 91.2 352.5 91.9C354.5 92.6 357.0 94.1 359.3 95.3C361.5 96.6 363.8 98.2 366.1 99.4C368.4 100.6 370.6 101.8 372.9 102.5C375.2 103.3 378.2 103.9 379.7 104.1C381.2 104.4 380.0 104.2 381.6 104.1C383.3 104.1 387.2 103.9 389.6 103.9C392.1 103.9 394.2 103.9 396.4 104.1C398.7 104.4 401.0 104.9 403.3 105.2C405.5 105.6 407.8 106.0 410.1 106.4C412.3 106.8 414.6 107.2 416.9 107.6C419.1 108.0 421.3 108.5 423.7 109.0C426.0 109.4 428.6 110.6 431.0 110.3C433.5 110.0 436.0 108.2 438.4 107.2C440.7 106.2 442.9 105.2 445.2 104.1C447.5 103.1 449.8 101.9 452.0 100.8C454.3 99.6 456.6 98.3 458.8 97.3C461.1 96.3 463.4 95.4 465.6 94.6C467.9 93.8 470.2 93.1 472.4 92.6C474.7 92.0 477.3 91.6 479.2 91.4C481.2 91.1 482.7 91.0 484.1 90.9C485.5 90.8 487.1 90.8 487.7 90.8" stroke="url(#g_pd1_b3)"/>
<path d="M342.3 90.8C343.1 90.9 345.2 90.9 346.9 91.3C348.6 91.6 350.4 92.1 352.5 93.0C354.5 93.9 357.0 95.3 359.3 96.6C361.5 97.9 363.8 99.3 366.1 100.8C368.4 102.2 370.9 104.2 372.9 105.5C374.9 106.8 376.9 107.9 378.3 108.6C379.8 109.2 379.8 109.1 381.6 109.2C383.5 109.4 387.2 109.4 389.6 109.4C392.1 109.3 394.2 108.9 396.4 109.0C398.7 109.0 401.0 109.5 403.3 109.9C405.5 110.3 407.8 110.8 410.1 111.3C412.3 111.7 414.6 112.0 416.9 112.3C419.1 112.6 421.3 112.9 423.7 113.0C426.0 113.2 428.6 113.5 431.0 113.4C433.5 113.4 436.0 113.1 438.4 112.7C440.7 112.3 442.9 112.0 445.2 111.0C447.5 110.1 449.8 108.4 452.0 107.0C454.3 105.5 456.6 103.9 458.8 102.4C461.1 100.8 463.4 99.0 465.6 97.6C467.9 96.2 470.2 94.8 472.4 93.8C474.7 92.8 477.3 92.1 479.2 91.6C481.2 91.1 482.7 91.1 484.1 91.0C485.5 90.8 487.1 90.8 487.7 90.8" stroke="url(#g_pd1_b4)"/>
<path d="M342.3 110.7C344.0 110.7 348.5 110.7 352.5 110.6C356.4 110.4 362.0 110.1 366.1 109.9C370.2 109.6 374.4 109.3 377.0 109.1C379.6 109.0 380.9 109.0 381.6 109.0" stroke="url(#g_pd1_b5a)"/>
<path d="M434.9 114.7C436.0 114.7 439.1 115.0 441.2 114.5C443.3 114.1 445.7 112.7 447.7 112.1C449.7 111.5 450.9 111.3 453.1 111.0C455.3 110.7 457.6 110.5 460.7 110.4C463.7 110.3 467.0 110.1 471.5 110.2C476.0 110.2 485.0 110.6 487.7 110.7" stroke="url(#g_pd1_b5b)"/>
<path d="M342.3 95.3C344.0 95.4 349.6 95.6 352.5 96.0C355.3 96.4 357.0 96.8 359.3 97.6C361.5 98.4 365.0 100.2 366.1 100.8" stroke="url(#g_pd1_b6a)"/>
<path d="M468.1 94.9C468.8 95.0 470.3 95.1 472.1 95.2C473.9 95.3 476.4 95.5 479.0 95.5C481.6 95.5 486.2 95.3 487.7 95.3" stroke="url(#g_pd1_b6b)"/>
<path d="M342.3 98.7C344.0 98.8 348.5 98.9 352.5 99.1C356.4 99.3 361.2 99.8 366.1 100.1C370.9 100.4 379.0 100.7 381.6 100.8" stroke="url(#g_pd1_b7a)"/>
<path d="M445.2 103.5C446.8 103.1 450.9 101.5 454.7 100.8C458.6 100.1 462.8 99.7 468.3 99.4C473.8 99.0 484.5 98.8 487.7 98.7" stroke="url(#g_pd1_b7b)"/>
<path d="M370.9 127.0C371.3 126.7 372.3 125.8 373.6 125.1C374.8 124.3 377.0 123.1 378.3 122.6C379.7 122.1 379.8 122.0 381.6 122.2C383.5 122.4 387.2 123.6 389.6 124.0C392.1 124.3 394.2 124.4 396.4 124.4C398.7 124.4 400.6 124.2 402.9 123.9C405.2 123.6 407.7 123.3 410.1 122.6C412.4 121.9 414.6 121.0 416.9 119.9C419.1 118.7 421.3 116.9 423.7 115.8C426.0 114.6 429.8 113.5 431.0 113.0" stroke="url(#g_pd1_b8)"/>
<path d="M431.0 112.7C431.6 112.5 433.3 112.5 434.6 111.8C435.9 111.1 437.3 110.3 438.9 108.6C440.6 106.8 442.9 103.3 444.4 101.5C445.9 99.6 446.9 98.7 448.1 97.5C449.3 96.3 450.9 94.9 451.5 94.3" stroke="url(#g_pd1_b9)"/>
<path d="M342.3 49.1C343.1 49.2 345.3 49.3 347.0 49.9C348.7 50.4 350.4 51.1 352.5 52.2C354.5 53.2 357.0 54.8 359.3 56.3C361.5 57.8 363.8 59.3 366.1 61.0C368.4 62.8 370.3 64.8 372.9 66.8C375.5 68.8 380.2 72.1 381.6 73.1" stroke="url(#g_pd1_b10a_0)"/>
<path d="M448.4 73.1C449.9 72.1 454.6 68.8 457.2 66.8C459.8 64.8 461.8 62.8 464.1 61.0C466.3 59.3 468.5 57.8 470.7 56.3C473.0 54.8 475.5 53.2 477.5 52.2C479.6 51.1 481.3 50.4 483.0 49.9C484.7 49.3 486.9 49.2 487.7 49.1" stroke="url(#g_pd1_b10b_0)"/>
<path d="M342.3 61.7C343.1 61.8 345.2 61.8 346.9 62.1C348.6 62.5 350.4 63.1 352.5 63.8C354.5 64.5 357.0 65.4 359.3 66.3C361.5 67.2 363.8 68.2 366.1 69.2C368.4 70.3 370.6 71.7 372.9 72.6C375.2 73.6 378.2 74.5 379.7 75.0C381.2 75.4 380.1 75.2 381.6 75.4C383.2 75.5 386.7 75.8 389.2 76.0C391.7 76.3 394.1 76.3 396.4 76.9C398.8 77.5 401.0 78.9 403.3 79.6C405.5 80.3 407.4 80.7 410.1 81.0C412.7 81.3 415.4 81.3 418.9 81.3C422.4 81.4 426.2 81.3 431.0 81.2C435.9 81.2 443.3 81.5 447.9 81.0C452.5 80.5 455.9 79.6 458.8 78.2C461.8 76.9 463.5 74.6 465.6 72.8C467.7 71.0 469.5 68.9 471.5 67.4C473.5 65.9 475.6 64.7 477.5 63.8C479.4 62.9 481.3 62.5 483.0 62.1C484.7 61.8 486.9 61.8 487.7 61.7" stroke="url(#g_pd1_b11_0)"/>
<path d="M383.0 95.9C385.9 96.1 395.1 96.7 400.5 96.9C405.8 97.1 409.9 97.3 415.0 97.4C420.1 97.5 425.7 97.6 431.0 97.6C436.3 97.6 441.9 97.6 447.0 97.4C452.1 97.2 459.1 96.6 461.5 96.4" stroke="url(#g_pd1_b12_0)"/>
</g>
<g fill="none" stroke-width="2.30" opacity="0.300" filter="url(#bl_pd1_1)" stroke-linecap="round">
<path d="M342.3 76.9C342.9 76.9 344.5 76.9 345.7 77.0C347.0 77.2 347.9 77.3 349.7 78.0C351.5 78.6 354.3 79.8 356.6 81.0C358.9 82.2 361.1 83.7 363.4 85.1C365.7 86.4 367.9 87.7 370.2 88.9C372.5 90.1 375.1 91.3 377.0 92.2C378.9 93.1 379.5 93.5 381.6 94.3C383.7 95.2 387.2 96.4 389.6 97.3C392.1 98.2 394.2 98.9 396.4 99.8C398.7 100.7 401.0 101.9 403.3 102.8C405.5 103.8 407.8 104.7 410.1 105.5C412.3 106.4 414.6 107.1 416.9 108.0C419.1 108.9 421.3 110.1 423.7 111.0C426.0 111.9 428.6 112.4 431.0 113.4C433.5 114.5 436.0 116.0 438.4 117.2C440.7 118.3 442.9 119.6 445.2 120.5C447.5 121.5 449.8 122.3 452.0 123.0C454.3 123.7 456.5 124.3 458.8 124.9C461.1 125.5 464.6 126.4 465.8 126.7" stroke="url(#g_pd1_b1)"/>
<path d="M381.6 94.3C382.5 93.6 385.1 91.1 386.9 89.8C388.7 88.5 390.3 87.2 392.4 86.4C394.4 85.6 397.2 84.9 399.2 85.1C401.2 85.2 402.8 86.0 404.6 87.1C406.4 88.3 408.0 90.3 410.1 91.9C412.1 93.5 414.6 95.3 416.9 96.6C419.1 98.0 421.3 99.1 423.7 99.8C426.0 100.5 428.6 100.8 431.0 100.8C433.5 100.7 436.0 100.3 438.4 99.4C440.7 98.5 442.9 96.8 445.2 95.3C447.5 93.8 449.8 92.0 452.0 90.5C454.3 89.0 456.6 87.8 458.8 86.4C461.1 85.1 463.4 83.5 465.6 82.3C467.9 81.1 470.2 80.1 472.4 79.3C474.7 78.5 477.3 77.8 479.2 77.4C481.2 77.0 482.7 77.1 484.1 77.0C485.5 76.9 487.1 76.9 487.7 76.9" stroke="url(#g_pd1_b2_1)"/>
<path d="M342.3 90.8C343.1 90.8 345.2 90.8 346.9 91.0C348.6 91.2 350.4 91.2 352.5 91.9C354.5 92.6 357.0 94.1 359.3 95.3C361.5 96.6 363.8 98.2 366.1 99.4C368.4 100.6 370.6 101.8 372.9 102.5C375.2 103.3 378.2 103.9 379.7 104.1C381.2 104.4 380.0 104.2 381.6 104.1C383.3 104.1 387.2 103.9 389.6 103.9C392.1 103.9 394.2 103.9 396.4 104.1C398.7 104.4 401.0 104.9 403.3 105.2C405.5 105.6 407.8 106.0 410.1 106.4C412.3 106.8 414.6 107.2 416.9 107.6C419.1 108.0 421.3 108.5 423.7 109.0C426.0 109.4 428.6 110.6 431.0 110.3C433.5 110.0 436.0 108.2 438.4 107.2C440.7 106.2 442.9 105.2 445.2 104.1C447.5 103.1 449.8 101.9 452.0 100.8C454.3 99.6 456.6 98.3 458.8 97.3C461.1 96.3 463.4 95.4 465.6 94.6C467.9 93.8 470.2 93.1 472.4 92.6C474.7 92.0 477.3 91.6 479.2 91.4C481.2 91.1 482.7 91.0 484.1 90.9C485.5 90.8 487.1 90.8 487.7 90.8" stroke="url(#g_pd1_b3)"/>
<path d="M342.3 90.8C343.1 90.9 345.2 90.9 346.9 91.3C348.6 91.6 350.4 92.1 352.5 93.0C354.5 93.9 357.0 95.3 359.3 96.6C361.5 97.9 363.8 99.3 366.1 100.8C368.4 102.2 370.9 104.2 372.9 105.5C374.9 106.8 376.9 107.9 378.3 108.6C379.8 109.2 379.8 109.1 381.6 109.2C383.5 109.4 387.2 109.4 389.6 109.4C392.1 109.3 394.2 108.9 396.4 109.0C398.7 109.0 401.0 109.5 403.3 109.9C405.5 110.3 407.8 110.8 410.1 111.3C412.3 111.7 414.6 112.0 416.9 112.3C419.1 112.6 421.3 112.9 423.7 113.0C426.0 113.2 428.6 113.5 431.0 113.4C433.5 113.4 436.0 113.1 438.4 112.7C440.7 112.3 442.9 112.0 445.2 111.0C447.5 110.1 449.8 108.4 452.0 107.0C454.3 105.5 456.6 103.9 458.8 102.4C461.1 100.8 463.4 99.0 465.6 97.6C467.9 96.2 470.2 94.8 472.4 93.8C474.7 92.8 477.3 92.1 479.2 91.6C481.2 91.1 482.7 91.1 484.1 91.0C485.5 90.8 487.1 90.8 487.7 90.8" stroke="url(#g_pd1_b4_1)"/>
<path d="M342.3 110.7C344.0 110.7 348.5 110.7 352.5 110.6C356.4 110.4 362.0 110.1 366.1 109.9C370.2 109.6 374.4 109.3 377.0 109.1C379.6 109.0 380.9 109.0 381.6 109.0" stroke="url(#g_pd1_b5a_1)"/>
<path d="M434.9 114.7C436.0 114.7 439.1 115.0 441.2 114.5C443.3 114.1 445.7 112.7 447.7 112.1C449.7 111.5 450.9 111.3 453.1 111.0C455.3 110.7 457.6 110.5 460.7 110.4C463.7 110.3 467.0 110.1 471.5 110.2C476.0 110.2 485.0 110.6 487.7 110.7" stroke="url(#g_pd1_b5b_1)"/>
<path d="M342.3 95.3C344.0 95.4 349.6 95.6 352.5 96.0C355.3 96.4 357.0 96.8 359.3 97.6C361.5 98.4 365.0 100.2 366.1 100.8" stroke="url(#g_pd1_b6a)"/>
<path d="M468.1 94.9C468.8 95.0 470.3 95.1 472.1 95.2C473.9 95.3 476.4 95.5 479.0 95.5C481.6 95.5 486.2 95.3 487.7 95.3" stroke="url(#g_pd1_b6b)"/>
<path d="M342.3 98.7C344.0 98.8 348.5 98.9 352.5 99.1C356.4 99.3 361.2 99.8 366.1 100.1C370.9 100.4 379.0 100.7 381.6 100.8" stroke="url(#g_pd1_b7a)"/>
<path d="M445.2 103.5C446.8 103.1 450.9 101.5 454.7 100.8C458.6 100.1 462.8 99.7 468.3 99.4C473.8 99.0 484.5 98.8 487.7 98.7" stroke="url(#g_pd1_b7b)"/>
<path d="M370.9 127.0C371.3 126.7 372.3 125.8 373.6 125.1C374.8 124.3 377.0 123.1 378.3 122.6C379.7 122.1 379.8 122.0 381.6 122.2C383.5 122.4 387.2 123.6 389.6 124.0C392.1 124.3 394.2 124.4 396.4 124.4C398.7 124.4 400.6 124.2 402.9 123.9C405.2 123.6 407.7 123.3 410.1 122.6C412.4 121.9 414.6 121.0 416.9 119.9C419.1 118.7 421.3 116.9 423.7 115.8C426.0 114.6 429.8 113.5 431.0 113.0" stroke="url(#g_pd1_b8)"/>
<path d="M431.0 112.7C431.6 112.5 433.3 112.5 434.6 111.8C435.9 111.1 437.3 110.3 438.9 108.6C440.6 106.8 442.9 103.3 444.4 101.5C445.9 99.6 446.9 98.7 448.1 97.5C449.3 96.3 450.9 94.9 451.5 94.3" stroke="url(#g_pd1_b9)"/>
<path d="M342.3 49.1C343.1 49.2 345.3 49.3 347.0 49.9C348.7 50.4 350.4 51.1 352.5 52.2C354.5 53.2 357.0 54.8 359.3 56.3C361.5 57.8 363.8 59.3 366.1 61.0C368.4 62.8 370.3 64.8 372.9 66.8C375.5 68.8 380.2 72.1 381.6 73.1" stroke="url(#g_pd1_b10a_1)"/>
<path d="M448.4 73.1C449.9 72.1 454.6 68.8 457.2 66.8C459.8 64.8 461.8 62.8 464.1 61.0C466.3 59.3 468.5 57.8 470.7 56.3C473.0 54.8 475.5 53.2 477.5 52.2C479.6 51.1 481.3 50.4 483.0 49.9C484.7 49.3 486.9 49.2 487.7 49.1" stroke="url(#g_pd1_b10b_1)"/>
<path d="M342.3 61.7C343.1 61.8 345.2 61.8 346.9 62.1C348.6 62.5 350.4 63.1 352.5 63.8C354.5 64.5 357.0 65.4 359.3 66.3C361.5 67.2 363.8 68.2 366.1 69.2C368.4 70.3 370.6 71.7 372.9 72.6C375.2 73.6 378.2 74.5 379.7 75.0C381.2 75.4 380.1 75.2 381.6 75.4C383.2 75.5 386.7 75.8 389.2 76.0C391.7 76.3 394.1 76.3 396.4 76.9C398.8 77.5 401.0 78.9 403.3 79.6C405.5 80.3 407.4 80.7 410.1 81.0C412.7 81.3 415.4 81.3 418.9 81.3C422.4 81.4 426.2 81.3 431.0 81.2C435.9 81.2 443.3 81.5 447.9 81.0C452.5 80.5 455.9 79.6 458.8 78.2C461.8 76.9 463.5 74.6 465.6 72.8C467.7 71.0 469.5 68.9 471.5 67.4C473.5 65.9 475.6 64.7 477.5 63.8C479.4 62.9 481.3 62.5 483.0 62.1C484.7 61.8 486.9 61.8 487.7 61.7" stroke="url(#g_pd1_b11_1)"/>
<path d="M383.0 95.9C385.9 96.1 395.1 96.7 400.5 96.9C405.8 97.1 409.9 97.3 415.0 97.4C420.1 97.5 425.7 97.6 431.0 97.6C436.3 97.6 441.9 97.6 447.0 97.4C452.1 97.2 459.1 96.6 461.5 96.4" stroke="url(#g_pd1_b12_1)"/>
</g>
<g fill="none" stroke-width="1.15" opacity="0.900" filter="url(#bl_pd1_2)" stroke-linecap="round">
<path d="M342.3 76.9C342.9 76.9 344.5 76.9 345.7 77.0C347.0 77.2 347.9 77.3 349.7 78.0C351.5 78.6 354.3 79.8 356.6 81.0C358.9 82.2 361.1 83.7 363.4 85.1C365.7 86.4 367.9 87.7 370.2 88.9C372.5 90.1 375.1 91.3 377.0 92.2C378.9 93.1 379.5 93.5 381.6 94.3C383.7 95.2 387.2 96.4 389.6 97.3C392.1 98.2 394.2 98.9 396.4 99.8C398.7 100.7 401.0 101.9 403.3 102.8C405.5 103.8 407.8 104.7 410.1 105.5C412.3 106.4 414.6 107.1 416.9 108.0C419.1 108.9 421.3 110.1 423.7 111.0C426.0 111.9 428.6 112.4 431.0 113.4C433.5 114.5 436.0 116.0 438.4 117.2C440.7 118.3 442.9 119.6 445.2 120.5C447.5 121.5 449.8 122.3 452.0 123.0C454.3 123.7 456.5 124.3 458.8 124.9C461.1 125.5 464.6 126.4 465.8 126.7" stroke="url(#g_pd1_b1)"/>
<path d="M381.6 94.3C382.5 93.6 385.1 91.1 386.9 89.8C388.7 88.5 390.3 87.2 392.4 86.4C394.4 85.6 397.2 84.9 399.2 85.1C401.2 85.2 402.8 86.0 404.6 87.1C406.4 88.3 408.0 90.3 410.1 91.9C412.1 93.5 414.6 95.3 416.9 96.6C419.1 98.0 421.3 99.1 423.7 99.8C426.0 100.5 428.6 100.8 431.0 100.8C433.5 100.7 436.0 100.3 438.4 99.4C440.7 98.5 442.9 96.8 445.2 95.3C447.5 93.8 449.8 92.0 452.0 90.5C454.3 89.0 456.6 87.8 458.8 86.4C461.1 85.1 463.4 83.5 465.6 82.3C467.9 81.1 470.2 80.1 472.4 79.3C474.7 78.5 477.3 77.8 479.2 77.4C481.2 77.0 482.7 77.1 484.1 77.0C485.5 76.9 487.1 76.9 487.7 76.9" stroke="url(#g_pd1_b2)"/>
<path d="M342.3 90.8C343.1 90.8 345.2 90.8 346.9 91.0C348.6 91.2 350.4 91.2 352.5 91.9C354.5 92.6 357.0 94.1 359.3 95.3C361.5 96.6 363.8 98.2 366.1 99.4C368.4 100.6 370.6 101.8 372.9 102.5C375.2 103.3 378.2 103.9 379.7 104.1C381.2 104.4 380.0 104.2 381.6 104.1C383.3 104.1 387.2 103.9 389.6 103.9C392.1 103.9 394.2 103.9 396.4 104.1C398.7 104.4 401.0 104.9 403.3 105.2C405.5 105.6 407.8 106.0 410.1 106.4C412.3 106.8 414.6 107.2 416.9 107.6C419.1 108.0 421.3 108.5 423.7 109.0C426.0 109.4 428.6 110.6 431.0 110.3C433.5 110.0 436.0 108.2 438.4 107.2C440.7 106.2 442.9 105.2 445.2 104.1C447.5 103.1 449.8 101.9 452.0 100.8C454.3 99.6 456.6 98.3 458.8 97.3C461.1 96.3 463.4 95.4 465.6 94.6C467.9 93.8 470.2 93.1 472.4 92.6C474.7 92.0 477.3 91.6 479.2 91.4C481.2 91.1 482.7 91.0 484.1 90.9C485.5 90.8 487.1 90.8 487.7 90.8" stroke="url(#g_pd1_b3)"/>
<path d="M342.3 90.8C343.1 90.9 345.2 90.9 346.9 91.3C348.6 91.6 350.4 92.1 352.5 93.0C354.5 93.9 357.0 95.3 359.3 96.6C361.5 97.9 363.8 99.3 366.1 100.8C368.4 102.2 370.9 104.2 372.9 105.5C374.9 106.8 376.9 107.9 378.3 108.6C379.8 109.2 379.8 109.1 381.6 109.2C383.5 109.4 387.2 109.4 389.6 109.4C392.1 109.3 394.2 108.9 396.4 109.0C398.7 109.0 401.0 109.5 403.3 109.9C405.5 110.3 407.8 110.8 410.1 111.3C412.3 111.7 414.6 112.0 416.9 112.3C419.1 112.6 421.3 112.9 423.7 113.0C426.0 113.2 428.6 113.5 431.0 113.4C433.5 113.4 436.0 113.1 438.4 112.7C440.7 112.3 442.9 112.0 445.2 111.0C447.5 110.1 449.8 108.4 452.0 107.0C454.3 105.5 456.6 103.9 458.8 102.4C461.1 100.8 463.4 99.0 465.6 97.6C467.9 96.2 470.2 94.8 472.4 93.8C474.7 92.8 477.3 92.1 479.2 91.6C481.2 91.1 482.7 91.1 484.1 91.0C485.5 90.8 487.1 90.8 487.7 90.8" stroke="url(#g_pd1_b4)"/>
<path d="M342.3 110.7C344.0 110.7 348.5 110.7 352.5 110.6C356.4 110.4 362.0 110.1 366.1 109.9C370.2 109.6 374.4 109.3 377.0 109.1C379.6 109.0 380.9 109.0 381.6 109.0" stroke="url(#g_pd1_b5a)"/>
<path d="M434.9 114.7C436.0 114.7 439.1 115.0 441.2 114.5C443.3 114.1 445.7 112.7 447.7 112.1C449.7 111.5 450.9 111.3 453.1 111.0C455.3 110.7 457.6 110.5 460.7 110.4C463.7 110.3 467.0 110.1 471.5 110.2C476.0 110.2 485.0 110.6 487.7 110.7" stroke="url(#g_pd1_b5b)"/>
<path d="M342.3 95.3C344.0 95.4 349.6 95.6 352.5 96.0C355.3 96.4 357.0 96.8 359.3 97.6C361.5 98.4 365.0 100.2 366.1 100.8" stroke="url(#g_pd1_b6a)"/>
<path d="M468.1 94.9C468.8 95.0 470.3 95.1 472.1 95.2C473.9 95.3 476.4 95.5 479.0 95.5C481.6 95.5 486.2 95.3 487.7 95.3" stroke="url(#g_pd1_b6b)"/>
<path d="M342.3 98.7C344.0 98.8 348.5 98.9 352.5 99.1C356.4 99.3 361.2 99.8 366.1 100.1C370.9 100.4 379.0 100.7 381.6 100.8" stroke="url(#g_pd1_b7a)"/>
<path d="M445.2 103.5C446.8 103.1 450.9 101.5 454.7 100.8C458.6 100.1 462.8 99.7 468.3 99.4C473.8 99.0 484.5 98.8 487.7 98.7" stroke="url(#g_pd1_b7b)"/>
<path d="M370.9 127.0C371.3 126.7 372.3 125.8 373.6 125.1C374.8 124.3 377.0 123.1 378.3 122.6C379.7 122.1 379.8 122.0 381.6 122.2C383.5 122.4 387.2 123.6 389.6 124.0C392.1 124.3 394.2 124.4 396.4 124.4C398.7 124.4 400.6 124.2 402.9 123.9C405.2 123.6 407.7 123.3 410.1 122.6C412.4 121.9 414.6 121.0 416.9 119.9C419.1 118.7 421.3 116.9 423.7 115.8C426.0 114.6 429.8 113.5 431.0 113.0" stroke="url(#g_pd1_b8)"/>
<path d="M431.0 112.7C431.6 112.5 433.3 112.5 434.6 111.8C435.9 111.1 437.3 110.3 438.9 108.6C440.6 106.8 442.9 103.3 444.4 101.5C445.9 99.6 446.9 98.7 448.1 97.5C449.3 96.3 450.9 94.9 451.5 94.3" stroke="url(#g_pd1_b9)"/>
<path d="M342.3 49.1C343.1 49.2 345.3 49.3 347.0 49.9C348.7 50.4 350.4 51.1 352.5 52.2C354.5 53.2 357.0 54.8 359.3 56.3C361.5 57.8 363.8 59.3 366.1 61.0C368.4 62.8 370.3 64.8 372.9 66.8C375.5 68.8 380.2 72.1 381.6 73.1" stroke="url(#g_pd1_b10a)"/>
<path d="M448.4 73.1C449.9 72.1 454.6 68.8 457.2 66.8C459.8 64.8 461.8 62.8 464.1 61.0C466.3 59.3 468.5 57.8 470.7 56.3C473.0 54.8 475.5 53.2 477.5 52.2C479.6 51.1 481.3 50.4 483.0 49.9C484.7 49.3 486.9 49.2 487.7 49.1" stroke="url(#g_pd1_b10b)"/>
<path d="M342.3 61.7C343.1 61.8 345.2 61.8 346.9 62.1C348.6 62.5 350.4 63.1 352.5 63.8C354.5 64.5 357.0 65.4 359.3 66.3C361.5 67.2 363.8 68.2 366.1 69.2C368.4 70.3 370.6 71.7 372.9 72.6C375.2 73.6 378.2 74.5 379.7 75.0C381.2 75.4 380.1 75.2 381.6 75.4C383.2 75.5 386.7 75.8 389.2 76.0C391.7 76.3 394.1 76.3 396.4 76.9C398.8 77.5 401.0 78.9 403.3 79.6C405.5 80.3 407.4 80.7 410.1 81.0C412.7 81.3 415.4 81.3 418.9 81.3C422.4 81.4 426.2 81.3 431.0 81.2C435.9 81.2 443.3 81.5 447.9 81.0C452.5 80.5 455.9 79.6 458.8 78.2C461.8 76.9 463.5 74.6 465.6 72.8C467.7 71.0 469.5 68.9 471.5 67.4C473.5 65.9 475.6 64.7 477.5 63.8C479.4 62.9 481.3 62.5 483.0 62.1C484.7 61.8 486.9 61.8 487.7 61.7" stroke="url(#g_pd1_b11_2)"/>
<path d="M383.0 95.9C385.9 96.1 395.1 96.7 400.5 96.9C405.8 97.1 409.9 97.3 415.0 97.4C420.1 97.5 425.7 97.6 431.0 97.6C436.3 97.6 441.9 97.6 447.0 97.4C452.1 97.2 459.1 96.6 461.5 96.4" stroke="url(#g_pd1_b12)"/>
</g>
</g></g>
<line x1="381.64" x2="381.64" y1="29.00" y2="125.30" stroke="#111" stroke-opacity=".7" stroke-width=".6" shape-rendering="crispEdges"/>
<line x1="431.10" x2="431.10" y1="29.00" y2="125.30" stroke="#111" stroke-opacity=".7" stroke-width=".6" shape-rendering="crispEdges"/>
<line x1="342.30" x2="487.70" y1="77.15" y2="77.15" stroke="#222" stroke-opacity=".65" stroke-width=".6" shape-rendering="crispEdges"/>
<rect x="342.30" y="29.00" width="145.40" height="96.30" fill="none" stroke="#888" stroke-opacity=".8" stroke-width=".6"/>
<text x="339.40" y="31.95" font-size="8.30" text-anchor="end">2</text>
<line x1="342.30" x2="344.30" y1="29.00" y2="29.00" stroke="#555" stroke-width=".5"/>
<text x="339.40" y="56.03" font-size="8.30" text-anchor="end">1</text>
<line x1="342.30" x2="344.30" y1="53.08" y2="53.08" stroke="#555" stroke-width=".5"/>
<text x="339.40" y="80.10" font-size="8.30" text-anchor="end">0</text>
<line x1="342.30" x2="344.30" y1="77.15" y2="77.15" stroke="#555" stroke-width=".5"/>
<text x="339.40" y="104.17" font-size="8.30" text-anchor="end">-1</text>
<line x1="342.30" x2="344.30" y1="101.22" y2="101.22" stroke="#555" stroke-width=".5"/>
<text x="339.40" y="128.25" font-size="8.30" text-anchor="end">-2</text>
<line x1="342.30" x2="344.30" y1="125.30" y2="125.30" stroke="#555" stroke-width=".5"/>
<line x1="342.30" x2="343.40" y1="120.48" y2="120.48" stroke="#777" stroke-opacity=".7" stroke-width=".4"/>
<line x1="342.30" x2="343.40" y1="115.67" y2="115.67" stroke="#777" stroke-opacity=".7" stroke-width=".4"/>
<line x1="342.30" x2="343.40" y1="110.85" y2="110.85" stroke="#777" stroke-opacity=".7" stroke-width=".4"/>
<line x1="342.30" x2="343.40" y1="106.04" y2="106.04" stroke="#777" stroke-opacity=".7" stroke-width=".4"/>
<line x1="342.30" x2="343.40" y1="101.22" y2="101.22" stroke="#777" stroke-opacity=".7" stroke-width=".4"/>
<line x1="342.30" x2="343.40" y1="96.41" y2="96.41" stroke="#777" stroke-opacity=".7" stroke-width=".4"/>
<line x1="342.30" x2="343.40" y1="91.59" y2="91.59" stroke="#777" stroke-opacity=".7" stroke-width=".4"/>
<line x1="342.30" x2="343.40" y1="86.78" y2="86.78" stroke="#777" stroke-opacity=".7" stroke-width=".4"/>
<line x1="342.30" x2="343.40" y1="81.97" y2="81.97" stroke="#777" stroke-opacity=".7" stroke-width=".4"/>
<line x1="342.30" x2="343.40" y1="77.15" y2="77.15" stroke="#777" stroke-opacity=".7" stroke-width=".4"/>
<line x1="342.30" x2="343.40" y1="72.33" y2="72.33" stroke="#777" stroke-opacity=".7" stroke-width=".4"/>
<line x1="342.30" x2="343.40" y1="67.52" y2="67.52" stroke="#777" stroke-opacity=".7" stroke-width=".4"/>
<line x1="342.30" x2="343.40" y1="62.70" y2="62.70" stroke="#777" stroke-opacity=".7" stroke-width=".4"/>
<line x1="342.30" x2="343.40" y1="57.89" y2="57.89" stroke="#777" stroke-opacity=".7" stroke-width=".4"/>
<line x1="342.30" x2="343.40" y1="53.08" y2="53.08" stroke="#777" stroke-opacity=".7" stroke-width=".4"/>
<line x1="342.30" x2="343.40" y1="48.26" y2="48.26" stroke="#777" stroke-opacity=".7" stroke-width=".4"/>
<line x1="342.30" x2="343.40" y1="43.44" y2="43.44" stroke="#777" stroke-opacity=".7" stroke-width=".4"/>
<line x1="342.30" x2="343.40" y1="38.63" y2="38.63" stroke="#777" stroke-opacity=".7" stroke-width=".4"/>
<line x1="342.30" x2="343.40" y1="33.81" y2="33.81" stroke="#777" stroke-opacity=".7" stroke-width=".4"/>
<text x="342.00" y="132.60" font-size="8.80" text-anchor="start" class="se">Γ</text>
<text x="381.64" y="132.60" font-size="9.20" text-anchor="middle">K</text>
<text x="431.10" y="132.60" font-size="9.20" text-anchor="middle">M</text>
<text x="486.70" y="132.60" font-size="8.80" text-anchor="middle" class="se">Γ</text>
<text transform="translate(329.10 77.35) rotate(-90)" font-size="7.30" text-anchor="middle">ω (eV)</text>
<text x="433.00" y="88.15" font-size="7.60" text-anchor="start" font-weight="bold">Pd'(4d)</text>
<rect x="558.20" y="18.00" width="103.7" height="7.2" fill="url(#cbh)"/>
<g clip-path="url(#cp_pd2)"><g filter="url(#cm_pd2)">
<rect x="516.30" y="9.00" width="185.40" height="136.30" fill="#010101"/>
<path d="M529.0 106.0C533.9 106.1 550.4 106.1 558.1 106.5C565.9 106.9 568.3 108.1 575.6 108.4C582.8 108.8 593.5 108.1 601.7 108.4C610.0 108.8 616.5 110.6 625.0 110.4C633.5 110.2 642.0 108.0 652.6 107.2C663.3 106.5 682.9 106.2 689.0 106.0" fill="none" stroke="#2b2b2b" stroke-opacity="0.500" stroke-width="16.85" filter="url(#bf_pd2_0)"/>
<path d="M529.0 110.6C532.7 110.6 544.8 110.7 550.8 110.6C556.9 110.5 561.3 110.3 565.4 109.9C569.5 109.5 571.9 108.8 575.6 108.4C579.2 108.1 581.6 107.7 587.2 108.0C592.8 108.2 602.7 109.1 609.0 109.9C615.3 110.7 620.1 112.5 625.0 112.8C629.8 113.0 633.5 111.7 638.1 111.3C642.7 111.0 644.1 110.7 652.6 110.6C661.1 110.5 682.9 110.6 689.0 110.6" fill="none" stroke="#787878" stroke-opacity="0.750" stroke-width="6.26" filter="url(#bf_pd2_1)"/>
<path d="M571.2 108.4C573.9 108.3 580.9 107.5 587.2 107.7C593.5 108.0 602.7 109.1 609.0 109.9C615.3 110.7 620.1 112.5 625.0 112.5C629.8 112.6 635.9 110.7 638.1 110.4" fill="none" stroke="#d9d9d9" stroke-opacity="0.600" stroke-width="6.26" filter="url(#bf_pd2_2)"/>
<g fill="none" stroke-width="5.50" opacity="0.180" filter="url(#bl_pd2_0)" stroke-linecap="round">
<path d="M536.3 76.9C536.9 76.9 538.5 76.9 539.7 77.0C541.0 77.2 541.9 77.3 543.7 78.0C545.5 78.6 548.3 79.8 550.6 81.0C552.9 82.2 555.1 83.7 557.4 85.1C559.7 86.4 561.9 87.7 564.2 88.9C566.5 90.1 569.1 91.3 571.0 92.2C572.9 93.1 573.5 93.5 575.6 94.3C577.7 95.2 581.2 96.4 583.6 97.3C586.1 98.2 588.2 98.9 590.4 99.8C592.7 100.7 595.0 101.9 597.3 102.8C599.5 103.8 601.8 104.7 604.1 105.5C606.3 106.4 608.6 107.1 610.9 108.0C613.1 108.9 615.3 110.1 617.7 111.0C620.0 111.9 622.6 112.4 625.0 113.4C627.5 114.5 630.0 116.0 632.4 117.2C634.7 118.3 636.9 119.6 639.2 120.5C641.5 121.5 643.8 122.3 646.0 123.0C648.3 123.7 650.5 124.3 652.8 124.9C655.1 125.5 658.6 126.4 659.8 126.7" stroke="url(#g_pd2_b1)"/>
<path d="M575.6 94.3C576.5 93.6 579.1 91.1 580.9 89.8C582.7 88.5 584.3 87.2 586.4 86.4C588.4 85.6 591.2 84.9 593.2 85.1C595.2 85.2 596.8 86.0 598.6 87.1C600.4 88.3 602.0 90.3 604.1 91.9C606.1 93.5 608.6 95.3 610.9 96.6C613.1 98.0 615.3 99.1 617.7 99.8C620.0 100.5 622.6 100.8 625.0 100.8C627.5 100.7 630.0 100.3 632.4 99.4C634.7 98.5 636.9 96.8 639.2 95.3C641.5 93.8 643.8 92.0 646.0 90.5C648.3 89.0 650.6 87.8 652.8 86.4C655.1 85.1 657.4 83.5 659.6 82.3C661.9 81.1 664.2 80.1 666.4 79.3C668.7 78.5 671.3 77.8 673.2 77.4C675.2 77.0 676.7 77.1 678.1 77.0C679.5 76.9 681.1 76.9 681.7 76.9" stroke="url(#g_pd2_b2)"/>
<path d="M536.3 90.8C537.1 90.8 539.2 90.8 540.9 91.0C542.6 91.2 544.4 91.2 546.5 91.9C548.5 92.6 551.0 94.1 553.3 95.3C555.5 96.6 557.8 98.2 560.1 99.4C562.4 100.6 564.6 101.8 566.9 102.5C569.2 103.3 572.2 103.9 573.7 104.1C575.2 104.4 574.0 104.2 575.6 104.1C577.3 104.1 581.2 103.9 583.6 103.9C586.1 103.9 588.2 103.9 590.4 104.1C592.7 104.4 595.0 104.9 597.3 105.2C599.5 105.6 601.8 106.0 604.1 106.4C606.3 106.8 608.6 107.2 610.9 107.6C613.1 108.0 615.3 108.5 617.7 109.0C620.0 109.4 622.6 110.6 625.0 110.3C627.5 110.0 630.0 108.2 632.4 107.2C634.7 106.2 636.9 105.2 639.2 104.1C641.5 103.1 643.8 101.9 646.0 100.8C648.3 99.6 650.6 98.3 652.8 97.3C655.1 96.3 657.4 95.4 659.6 94.6C661.9 93.8 664.2 93.1 666.4 92.6C668.7 92.0 671.3 91.6 673.2 91.4C675.2 91.1 676.7 91.0 678.1 90.9C679.5 90.8 681.1 90.8 681.7 90.8" stroke="url(#g_pd2_b3)"/>
<path d="M536.3 90.8C537.1 90.9 539.2 90.9 540.9 91.3C542.6 91.6 544.4 92.1 546.5 93.0C548.5 93.9 551.0 95.3 553.3 96.6C555.5 97.9 557.8 99.3 560.1 100.8C562.4 102.2 564.9 104.2 566.9 105.5C568.9 106.8 570.9 107.9 572.3 108.6C573.8 109.2 573.8 109.1 575.6 109.2C577.5 109.4 581.2 109.4 583.6 109.4C586.1 109.3 588.2 108.9 590.4 109.0C592.7 109.0 595.0 109.5 597.3 109.9C599.5 110.3 601.8 110.8 604.1 111.3C606.3 111.7 608.6 112.0 610.9 112.3C613.1 112.6 615.3 112.9 617.7 113.0C620.0 113.2 622.6 113.5 625.0 113.4C627.5 113.4 630.0 113.1 632.4 112.7C634.7 112.3 636.9 112.0 639.2 111.0C641.5 110.1 643.8 108.4 646.0 107.0C648.3 105.5 650.6 103.9 652.8 102.4C655.1 100.8 657.4 99.0 659.6 97.6C661.9 96.2 664.2 94.8 666.4 93.8C668.7 92.8 671.3 92.1 673.2 91.6C675.2 91.1 676.7 91.1 678.1 91.0C679.5 90.8 681.1 90.8 681.7 90.8" stroke="url(#g_pd2_b4)"/>
<path d="M536.3 110.7C538.0 110.7 542.5 110.7 546.5 110.6C550.4 110.4 556.0 110.1 560.1 109.9C564.2 109.6 568.4 109.3 571.0 109.1C573.6 109.0 574.9 109.0 575.6 109.0" stroke="url(#g_pd2_b5a_0)"/>
<path d="M628.9 114.7C630.0 114.7 633.1 115.0 635.2 114.5C637.3 114.1 639.7 112.7 641.7 112.1C643.7 111.5 644.9 111.3 647.1 111.0C649.3 110.7 651.6 110.5 654.7 110.4C657.7 110.3 661.0 110.1 665.5 110.2C670.0 110.2 679.0 110.6 681.7 110.7" stroke="url(#g_pd2_b5b_0)"/>
<path d="M536.3 95.3C538.0 95.4 543.6 95.6 546.5 96.0C549.3 96.4 551.0 96.8 553.3 97.6C555.5 98.4 559.0 100.2 560.1 100.8" stroke="url(#g_pd2_b6a)"/>
<path d="M662.1 94.9C662.8 95.0 664.3 95.1 666.1 95.2C667.9 95.3 670.4 95.5 673.0 95.5C675.6 95.5 680.2 95.3 681.7 95.3" stroke="url(#g_pd2_b6b)"/>
<path d="M536.3 98.7C538.0 98.8 542.5 98.9 546.5 99.1C550.4 99.3 555.2 99.8 560.1 100.1C564.9 100.4 573.0 100.7 575.6 100.8" stroke="url(#g_pd2_b7a)"/>
<path d="M639.2 103.5C640.8 103.1 644.9 101.5 648.7 100.8C652.6 100.1 656.8 99.7 662.3 99.4C667.8 99.0 678.5 98.8 681.7 98.7" stroke="url(#g_pd2_b7b)"/>
<path d="M564.9 127.0C565.3 126.7 566.3 125.8 567.6 125.1C568.8 124.3 571.0 123.1 572.3 122.6C573.7 122.1 573.8 122.0 575.6 122.2C577.5 122.4 581.2 123.6 583.6 124.0C586.1 124.3 588.2 124.4 590.4 124.4C592.7 124.4 594.6 124.2 596.9 123.9C599.2 123.6 601.7 123.3 604.1 122.6C606.4 121.9 608.6 121.0 610.9 119.9C613.1 118.7 615.3 116.9 617.7 115.8C620.0 114.6 623.8 113.5 625.0 113.0" stroke="url(#g_pd2_b8)"/>
<path d="M625.0 112.7C625.6 112.5 627.3 112.5 628.6 111.8C629.9 111.1 631.3 110.3 632.9 108.6C634.6 106.8 636.9 103.3 638.4 101.5C639.9 99.6 640.9 98.7 642.1 97.5C643.3 96.3 644.9 94.9 645.5 94.3" stroke="url(#g_pd2_b9)"/>
<path d="M536.3 49.1C537.1 49.2 539.3 49.3 541.0 49.9C542.7 50.4 544.4 51.1 546.5 52.2C548.5 53.2 551.0 54.8 553.3 56.3C555.5 57.8 557.8 59.3 560.1 61.0C562.4 62.8 564.3 64.8 566.9 66.8C569.5 68.8 574.2 72.1 575.6 73.1" stroke="url(#g_pd2_b10a_0)"/>
<path d="M642.4 73.1C643.9 72.1 648.6 68.8 651.2 66.8C653.8 64.8 655.8 62.8 658.1 61.0C660.3 59.3 662.5 57.8 664.7 56.3C667.0 54.8 669.5 53.2 671.5 52.2C673.6 51.1 675.3 50.4 677.0 49.9C678.7 49.3 680.9 49.2 681.7 49.1" stroke="url(#g_pd2_b10b_0)"/>
<path d="M536.3 61.7C537.1 61.8 539.2 61.8 540.9 62.1C542.6 62.5 544.4 63.1 546.5 63.8C548.5 64.5 551.0 65.4 553.3 66.3C555.5 67.2 557.8 68.2 560.1 69.2C562.4 70.3 564.6 71.7 566.9 72.6C569.2 73.6 572.2 74.5 573.7 75.0C575.2 75.4 574.1 75.2 575.6 75.4C577.2 75.5 580.7 75.8 583.2 76.0C585.7 76.3 588.1 76.3 590.4 76.9C592.8 77.5 595.0 78.9 597.3 79.6C599.5 80.3 601.4 80.7 604.1 81.0C606.7 81.3 609.4 81.3 612.9 81.3C616.4 81.4 620.2 81.3 625.0 81.2C629.9 81.2 637.3 81.5 641.9 81.0C646.5 80.5 649.9 79.6 652.8 78.2C655.8 76.9 657.5 74.6 659.6 72.8C661.7 71.0 663.5 68.9 665.5 67.4C667.5 65.9 669.6 64.7 671.5 63.8C673.4 62.9 675.3 62.5 677.0 62.1C678.7 61.8 680.9 61.8 681.7 61.7" stroke="url(#g_pd2_b11_0)"/>
<path d="M577.0 95.9C579.9 96.1 589.1 96.7 594.5 96.9C599.8 97.1 603.9 97.3 609.0 97.4C614.1 97.5 619.7 97.6 625.0 97.6C630.3 97.6 635.9 97.6 641.0 97.4C646.1 97.2 653.1 96.6 655.5 96.4" stroke="url(#g_pd2_b12_0)"/>
</g>
<g fill="none" stroke-width="2.60" opacity="0.350" filter="url(#bl_pd2_1)" stroke-linecap="round">
<path d="M536.3 76.9C536.9 76.9 538.5 76.9 539.7 77.0C541.0 77.2 541.9 77.3 543.7 78.0C545.5 78.6 548.3 79.8 550.6 81.0C552.9 82.2 555.1 83.7 557.4 85.1C559.7 86.4 561.9 87.7 564.2 88.9C566.5 90.1 569.1 91.3 571.0 92.2C572.9 93.1 573.5 93.5 575.6 94.3C577.7 95.2 581.2 96.4 583.6 97.3C586.1 98.2 588.2 98.9 590.4 99.8C592.7 100.7 595.0 101.9 597.3 102.8C599.5 103.8 601.8 104.7 604.1 105.5C606.3 106.4 608.6 107.1 610.9 108.0C613.1 108.9 615.3 110.1 617.7 111.0C620.0 111.9 622.6 112.4 625.0 113.4C627.5 114.5 630.0 116.0 632.4 117.2C634.7 118.3 636.9 119.6 639.2 120.5C641.5 121.5 643.8 122.3 646.0 123.0C648.3 123.7 650.5 124.3 652.8 124.9C655.1 125.5 658.6 126.4 659.8 126.7" stroke="url(#g_pd2_b1)"/>
<path d="M575.6 94.3C576.5 93.6 579.1 91.1 580.9 89.8C582.7 88.5 584.3 87.2 586.4 86.4C588.4 85.6 591.2 84.9 593.2 85.1C595.2 85.2 596.8 86.0 598.6 87.1C600.4 88.3 602.0 90.3 604.1 91.9C606.1 93.5 608.6 95.3 610.9 96.6C613.1 98.0 615.3 99.1 617.7 99.8C620.0 100.5 622.6 100.8 625.0 100.8C627.5 100.7 630.0 100.3 632.4 99.4C634.7 98.5 636.9 96.8 639.2 95.3C641.5 93.8 643.8 92.0 646.0 90.5C648.3 89.0 650.6 87.8 652.8 86.4C655.1 85.1 657.4 83.5 659.6 82.3C661.9 81.1 664.2 80.1 666.4 79.3C668.7 78.5 671.3 77.8 673.2 77.4C675.2 77.0 676.7 77.1 678.1 77.0C679.5 76.9 681.1 76.9 681.7 76.9" stroke="url(#g_pd2_b2)"/>
<path d="M536.3 90.8C537.1 90.8 539.2 90.8 540.9 91.0C542.6 91.2 544.4 91.2 546.5 91.9C548.5 92.6 551.0 94.1 553.3 95.3C555.5 96.6 557.8 98.2 560.1 99.4C562.4 100.6 564.6 101.8 566.9 102.5C569.2 103.3 572.2 103.9 573.7 104.1C575.2 104.4 574.0 104.2 575.6 104.1C577.3 104.1 581.2 103.9 583.6 103.9C586.1 103.9 588.2 103.9 590.4 104.1C592.7 104.4 595.0 104.9 597.3 105.2C599.5 105.6 601.8 106.0 604.1 106.4C606.3 106.8 608.6 107.2 610.9 107.6C613.1 108.0 615.3 108.5 617.7 109.0C620.0 109.4 622.6 110.6 625.0 110.3C627.5 110.0 630.0 108.2 632.4 107.2C634.7 106.2 636.9 105.2 639.2 104.1C641.5 103.1 643.8 101.9 646.0 100.8C648.3 99.6 650.6 98.3 652.8 97.3C655.1 96.3 657.4 95.4 659.6 94.6C661.9 93.8 664.2 93.1 666.4 92.6C668.7 92.0 671.3 91.6 673.2 91.4C675.2 91.1 676.7 91.0 678.1 90.9C679.5 90.8 681.1 90.8 681.7 90.8" stroke="url(#g_pd2_b3)"/>
<path d="M536.3 90.8C537.1 90.9 539.2 90.9 540.9 91.3C542.6 91.6 544.4 92.1 546.5 93.0C548.5 93.9 551.0 95.3 553.3 96.6C555.5 97.9 557.8 99.3 560.1 100.8C562.4 102.2 564.9 104.2 566.9 105.5C568.9 106.8 570.9 107.9 572.3 108.6C573.8 109.2 573.8 109.1 575.6 109.2C577.5 109.4 581.2 109.4 583.6 109.4C586.1 109.3 588.2 108.9 590.4 109.0C592.7 109.0 595.0 109.5 597.3 109.9C599.5 110.3 601.8 110.8 604.1 111.3C606.3 111.7 608.6 112.0 610.9 112.3C613.1 112.6 615.3 112.9 617.7 113.0C620.0 113.2 622.6 113.5 625.0 113.4C627.5 113.4 630.0 113.1 632.4 112.7C634.7 112.3 636.9 112.0 639.2 111.0C641.5 110.1 643.8 108.4 646.0 107.0C648.3 105.5 650.6 103.9 652.8 102.4C655.1 100.8 657.4 99.0 659.6 97.6C661.9 96.2 664.2 94.8 666.4 93.8C668.7 92.8 671.3 92.1 673.2 91.6C675.2 91.1 676.7 91.1 678.1 91.0C679.5 90.8 681.1 90.8 681.7 90.8" stroke="url(#g_pd2_b4_1)"/>
<path d="M536.3 110.7C538.0 110.7 542.5 110.7 546.5 110.6C550.4 110.4 556.0 110.1 560.1 109.9C564.2 109.6 568.4 109.3 571.0 109.1C573.6 109.0 574.9 109.0 575.6 109.0" stroke="url(#g_pd2_b5a_1)"/>
<path d="M628.9 114.7C630.0 114.7 633.1 115.0 635.2 114.5C637.3 114.1 639.7 112.7 641.7 112.1C643.7 111.5 644.9 111.3 647.1 111.0C649.3 110.7 651.6 110.5 654.7 110.4C657.7 110.3 661.0 110.1 665.5 110.2C670.0 110.2 679.0 110.6 681.7 110.7" stroke="url(#g_pd2_b5b_1)"/>
<path d="M536.3 95.3C538.0 95.4 543.6 95.6 546.5 96.0C549.3 96.4 551.0 96.8 553.3 97.6C555.5 98.4 559.0 100.2 560.1 100.8" stroke="url(#g_pd2_b6a)"/>
<path d="M662.1 94.9C662.8 95.0 664.3 95.1 666.1 95.2C667.9 95.3 670.4 95.5 673.0 95.5C675.6 95.5 680.2 95.3 681.7 95.3" stroke="url(#g_pd2_b6b)"/>
<path d="M536.3 98.7C538.0 98.8 542.5 98.9 546.5 99.1C550.4 99.3 555.2 99.8 560.1 100.1C564.9 100.4 573.0 100.7 575.6 100.8" stroke="url(#g_pd2_b7a)"/>
<path d="M639.2 103.5C640.8 103.1 644.9 101.5 648.7 100.8C652.6 100.1 656.8 99.7 662.3 99.4C667.8 99.0 678.5 98.8 681.7 98.7" stroke="url(#g_pd2_b7b)"/>
<path d="M564.9 127.0C565.3 126.7 566.3 125.8 567.6 125.1C568.8 124.3 571.0 123.1 572.3 122.6C573.7 122.1 573.8 122.0 575.6 122.2C577.5 122.4 581.2 123.6 583.6 124.0C586.1 124.3 588.2 124.4 590.4 124.4C592.7 124.4 594.6 124.2 596.9 123.9C599.2 123.6 601.7 123.3 604.1 122.6C606.4 121.9 608.6 121.0 610.9 119.9C613.1 118.7 615.3 116.9 617.7 115.8C620.0 114.6 623.8 113.5 625.0 113.0" stroke="url(#g_pd2_b8)"/>
<path d="M625.0 112.7C625.6 112.5 627.3 112.5 628.6 111.8C629.9 111.1 631.3 110.3 632.9 108.6C634.6 106.8 636.9 103.3 638.4 101.5C639.9 99.6 640.9 98.7 642.1 97.5C643.3 96.3 644.9 94.9 645.5 94.3" stroke="url(#g_pd2_b9)"/>
<path d="M536.3 49.1C537.1 49.2 539.3 49.3 541.0 49.9C542.7 50.4 544.4 51.1 546.5 52.2C548.5 53.2 551.0 54.8 553.3 56.3C555.5 57.8 557.8 59.3 560.1 61.0C562.4 62.8 564.3 64.8 566.9 66.8C569.5 68.8 574.2 72.1 575.6 73.1" stroke="url(#g_pd2_b10a)"/>
<path d="M642.4 73.1C643.9 72.1 648.6 68.8 651.2 66.8C653.8 64.8 655.8 62.8 658.1 61.0C660.3 59.3 662.5 57.8 664.7 56.3C667.0 54.8 669.5 53.2 671.5 52.2C673.6 51.1 675.3 50.4 677.0 49.9C678.7 49.3 680.9 49.2 681.7 49.1" stroke="url(#g_pd2_b10b)"/>
<path d="M536.3 61.7C537.1 61.8 539.2 61.8 540.9 62.1C542.6 62.5 544.4 63.1 546.5 63.8C548.5 64.5 551.0 65.4 553.3 66.3C555.5 67.2 557.8 68.2 560.1 69.2C562.4 70.3 564.6 71.7 566.9 72.6C569.2 73.6 572.2 74.5 573.7 75.0C575.2 75.4 574.1 75.2 575.6 75.4C577.2 75.5 580.7 75.8 583.2 76.0C585.7 76.3 588.1 76.3 590.4 76.9C592.8 77.5 595.0 78.9 597.3 79.6C599.5 80.3 601.4 80.7 604.1 81.0C606.7 81.3 609.4 81.3 612.9 81.3C616.4 81.4 620.2 81.3 625.0 81.2C629.9 81.2 637.3 81.5 641.9 81.0C646.5 80.5 649.9 79.6 652.8 78.2C655.8 76.9 657.5 74.6 659.6 72.8C661.7 71.0 663.5 68.9 665.5 67.4C667.5 65.9 669.6 64.7 671.5 63.8C673.4 62.9 675.3 62.5 677.0 62.1C678.7 61.8 680.9 61.8 681.7 61.7" stroke="url(#g_pd2_b11_1)"/>
<path d="M577.0 95.9C579.9 96.1 589.1 96.7 594.5 96.9C599.8 97.1 603.9 97.3 609.0 97.4C614.1 97.5 619.7 97.6 625.0 97.6C630.3 97.6 635.9 97.6 641.0 97.4C646.1 97.2 653.1 96.6 655.5 96.4" stroke="url(#g_pd2_b12_1)"/>
</g>
<g fill="none" stroke-width="1.40" opacity="0.900" filter="url(#bl_pd2_2)" stroke-linecap="round">
<path d="M536.3 76.9C536.9 76.9 538.5 76.9 539.7 77.0C541.0 77.2 541.9 77.3 543.7 78.0C545.5 78.6 548.3 79.8 550.6 81.0C552.9 82.2 555.1 83.7 557.4 85.1C559.7 86.4 561.9 87.7 564.2 88.9C566.5 90.1 569.1 91.3 571.0 92.2C572.9 93.1 573.5 93.5 575.6 94.3C577.7 95.2 581.2 96.4 583.6 97.3C586.1 98.2 588.2 98.9 590.4 99.8C592.7 100.7 595.0 101.9 597.3 102.8C599.5 103.8 601.8 104.7 604.1 105.5C606.3 106.4 608.6 107.1 610.9 108.0C613.1 108.9 615.3 110.1 617.7 111.0C620.0 111.9 622.6 112.4 625.0 113.4C627.5 114.5 630.0 116.0 632.4 117.2C634.7 118.3 636.9 119.6 639.2 120.5C641.5 121.5 643.8 122.3 646.0 123.0C648.3 123.7 650.5 124.3 652.8 124.9C655.1 125.5 658.6 126.4 659.8 126.7" stroke="url(#g_pd2_b1)"/>
<path d="M575.6 94.3C576.5 93.6 579.1 91.1 580.9 89.8C582.7 88.5 584.3 87.2 586.4 86.4C588.4 85.6 591.2 84.9 593.2 85.1C595.2 85.2 596.8 86.0 598.6 87.1C600.4 88.3 602.0 90.3 604.1 91.9C606.1 93.5 608.6 95.3 610.9 96.6C613.1 98.0 615.3 99.1 617.7 99.8C620.0 100.5 622.6 100.8 625.0 100.8C627.5 100.7 630.0 100.3 632.4 99.4C634.7 98.5 636.9 96.8 639.2 95.3C641.5 93.8 643.8 92.0 646.0 90.5C648.3 89.0 650.6 87.8 652.8 86.4C655.1 85.1 657.4 83.5 659.6 82.3C661.9 81.1 664.2 80.1 666.4 79.3C668.7 78.5 671.3 77.8 673.2 77.4C675.2 77.0 676.7 77.1 678.1 77.0C679.5 76.9 681.1 76.9 681.7 76.9" stroke="url(#g_pd2_b2)"/>
<path d="M536.3 90.8C537.1 90.8 539.2 90.8 540.9 91.0C542.6 91.2 544.4 91.2 546.5 91.9C548.5 92.6 551.0 94.1 553.3 95.3C555.5 96.6 557.8 98.2 560.1 99.4C562.4 100.6 564.6 101.8 566.9 102.5C569.2 103.3 572.2 103.9 573.7 104.1C575.2 104.4 574.0 104.2 575.6 104.1C577.3 104.1 581.2 103.9 583.6 103.9C586.1 103.9 588.2 103.9 590.4 104.1C592.7 104.4 595.0 104.9 597.3 105.2C599.5 105.6 601.8 106.0 604.1 106.4C606.3 106.8 608.6 107.2 610.9 107.6C613.1 108.0 615.3 108.5 617.7 109.0C620.0 109.4 622.6 110.6 625.0 110.3C627.5 110.0 630.0 108.2 632.4 107.2C634.7 106.2 636.9 105.2 639.2 104.1C641.5 103.1 643.8 101.9 646.0 100.8C648.3 99.6 650.6 98.3 652.8 97.3C655.1 96.3 657.4 95.4 659.6 94.6C661.9 93.8 664.2 93.1 666.4 92.6C668.7 92.0 671.3 91.6 673.2 91.4C675.2 91.1 676.7 91.0 678.1 90.9C679.5 90.8 681.1 90.8 681.7 90.8" stroke="url(#g_pd2_b3)"/>
<path d="M536.3 90.8C537.1 90.9 539.2 90.9 540.9 91.3C542.6 91.6 544.4 92.1 546.5 93.0C548.5 93.9 551.0 95.3 553.3 96.6C555.5 97.9 557.8 99.3 560.1 100.8C562.4 102.2 564.9 104.2 566.9 105.5C568.9 106.8 570.9 107.9 572.3 108.6C573.8 109.2 573.8 109.1 575.6 109.2C577.5 109.4 581.2 109.4 583.6 109.4C586.1 109.3 588.2 108.9 590.4 109.0C592.7 109.0 595.0 109.5 597.3 109.9C599.5 110.3 601.8 110.8 604.1 111.3C606.3 111.7 608.6 112.0 610.9 112.3C613.1 112.6 615.3 112.9 617.7 113.0C620.0 113.2 622.6 113.5 625.0 113.4C627.5 113.4 630.0 113.1 632.4 112.7C634.7 112.3 636.9 112.0 639.2 111.0C641.5 110.1 643.8 108.4 646.0 107.0C648.3 105.5 650.6 103.9 652.8 102.4C655.1 100.8 657.4 99.0 659.6 97.6C661.9 96.2 664.2 94.8 666.4 93.8C668.7 92.8 671.3 92.1 673.2 91.6C675.2 91.1 676.7 91.1 678.1 91.0C679.5 90.8 681.1 90.8 681.7 90.8" stroke="url(#g_pd2_b4)"/>
<path d="M536.3 110.7C538.0 110.7 542.5 110.7 546.5 110.6C550.4 110.4 556.0 110.1 560.1 109.9C564.2 109.6 568.4 109.3 571.0 109.1C573.6 109.0 574.9 109.0 575.6 109.0" stroke="url(#g_pd2_b5a)"/>
<path d="M628.9 114.7C630.0 114.7 633.1 115.0 635.2 114.5C637.3 114.1 639.7 112.7 641.7 112.1C643.7 111.5 644.9 111.3 647.1 111.0C649.3 110.7 651.6 110.5 654.7 110.4C657.7 110.3 661.0 110.1 665.5 110.2C670.0 110.2 679.0 110.6 681.7 110.7" stroke="url(#g_pd2_b5b)"/>
<path d="M536.3 95.3C538.0 95.4 543.6 95.6 546.5 96.0C549.3 96.4 551.0 96.8 553.3 97.6C555.5 98.4 559.0 100.2 560.1 100.8" stroke="url(#g_pd2_b6a)"/>
<path d="M662.1 94.9C662.8 95.0 664.3 95.1 666.1 95.2C667.9 95.3 670.4 95.5 673.0 95.5C675.6 95.5 680.2 95.3 681.7 95.3" stroke="url(#g_pd2_b6b)"/>
<path d="M536.3 98.7C538.0 98.8 542.5 98.9 546.5 99.1C550.4 99.3 555.2 99.8 560.1 100.1C564.9 100.4 573.0 100.7 575.6 100.8" stroke="url(#g_pd2_b7a)"/>
<path d="M639.2 103.5C640.8 103.1 644.9 101.5 648.7 100.8C652.6 100.1 656.8 99.7 662.3 99.4C667.8 99.0 678.5 98.8 681.7 98.7" stroke="url(#g_pd2_b7b)"/>
<path d="M564.9 127.0C565.3 126.7 566.3 125.8 567.6 125.1C568.8 124.3 571.0 123.1 572.3 122.6C573.7 122.1 573.8 122.0 575.6 122.2C577.5 122.4 581.2 123.6 583.6 124.0C586.1 124.3 588.2 124.4 590.4 124.4C592.7 124.4 594.6 124.2 596.9 123.9C599.2 123.6 601.7 123.3 604.1 122.6C606.4 121.9 608.6 121.0 610.9 119.9C613.1 118.7 615.3 116.9 617.7 115.8C620.0 114.6 623.8 113.5 625.0 113.0" stroke="url(#g_pd2_b8)"/>
<path d="M625.0 112.7C625.6 112.5 627.3 112.5 628.6 111.8C629.9 111.1 631.3 110.3 632.9 108.6C634.6 106.8 636.9 103.3 638.4 101.5C639.9 99.6 640.9 98.7 642.1 97.5C643.3 96.3 644.9 94.9 645.5 94.3" stroke="url(#g_pd2_b9)"/>
<path d="M536.3 49.1C537.1 49.2 539.3 49.3 541.0 49.9C542.7 50.4 544.4 51.1 546.5 52.2C548.5 53.2 551.0 54.8 553.3 56.3C555.5 57.8 557.8 59.3 560.1 61.0C562.4 62.8 564.3 64.8 566.9 66.8C569.5 68.8 574.2 72.1 575.6 73.1" stroke="url(#g_pd2_b10a)"/>
<path d="M642.4 73.1C643.9 72.1 648.6 68.8 651.2 66.8C653.8 64.8 655.8 62.8 658.1 61.0C660.3 59.3 662.5 57.8 664.7 56.3C667.0 54.8 669.5 53.2 671.5 52.2C673.6 51.1 675.3 50.4 677.0 49.9C678.7 49.3 680.9 49.2 681.7 49.1" stroke="url(#g_pd2_b10b)"/>
<path d="M536.3 61.7C537.1 61.8 539.2 61.8 540.9 62.1C542.6 62.5 544.4 63.1 546.5 63.8C548.5 64.5 551.0 65.4 553.3 66.3C555.5 67.2 557.8 68.2 560.1 69.2C562.4 70.3 564.6 71.7 566.9 72.6C569.2 73.6 572.2 74.5 573.7 75.0C575.2 75.4 574.1 75.2 575.6 75.4C577.2 75.5 580.7 75.8 583.2 76.0C585.7 76.3 588.1 76.3 590.4 76.9C592.8 77.5 595.0 78.9 597.3 79.6C599.5 80.3 601.4 80.7 604.1 81.0C606.7 81.3 609.4 81.3 612.9 81.3C616.4 81.4 620.2 81.3 625.0 81.2C629.9 81.2 637.3 81.5 641.9 81.0C646.5 80.5 649.9 79.6 652.8 78.2C655.8 76.9 657.5 74.6 659.6 72.8C661.7 71.0 663.5 68.9 665.5 67.4C667.5 65.9 669.6 64.7 671.5 63.8C673.4 62.9 675.3 62.5 677.0 62.1C678.7 61.8 680.9 61.8 681.7 61.7" stroke="url(#g_pd2_b11_2)"/>
<path d="M577.0 95.9C579.9 96.1 589.1 96.7 594.5 96.9C599.8 97.1 603.9 97.3 609.0 97.4C614.1 97.5 619.7 97.6 625.0 97.6C630.3 97.6 635.9 97.6 641.0 97.4C646.1 97.2 653.1 96.6 655.5 96.4" stroke="url(#g_pd2_b12)"/>
</g>
</g></g>
<line x1="575.64" x2="575.64" y1="29.00" y2="125.30" stroke="#111" stroke-opacity=".7" stroke-width=".6" shape-rendering="crispEdges"/>
<line x1="625.10" x2="625.10" y1="29.00" y2="125.30" stroke="#111" stroke-opacity=".7" stroke-width=".6" shape-rendering="crispEdges"/>
<line x1="536.30" x2="681.70" y1="77.15" y2="77.15" stroke="#222" stroke-opacity=".65" stroke-width=".6" shape-rendering="crispEdges"/>
<rect x="536.30" y="29.00" width="145.40" height="96.30" fill="none" stroke="#888" stroke-opacity=".8" stroke-width=".6"/>
<text x="533.40" y="31.95" font-size="8.30" text-anchor="end">2</text>
<line x1="536.30" x2="538.30" y1="29.00" y2="29.00" stroke="#555" stroke-width=".5"/>
<text x="533.40" y="56.03" font-size="8.30" text-anchor="end">1</text>
<line x1="536.30" x2="538.30" y1="53.08" y2="53.08" stroke="#555" stroke-width=".5"/>
<text x="533.40" y="80.10" font-size="8.30" text-anchor="end">0</text>
<line x1="536.30" x2="538.30" y1="77.15" y2="77.15" stroke="#555" stroke-width=".5"/>
<text x="533.40" y="104.17" font-size="8.30" text-anchor="end">-1</text>
<line x1="536.30" x2="538.30" y1="101.22" y2="101.22" stroke="#555" stroke-width=".5"/>
<text x="533.40" y="128.25" font-size="8.30" text-anchor="end">-2</text>
<line x1="536.30" x2="538.30" y1="125.30" y2="125.30" stroke="#555" stroke-width=".5"/>
<line x1="536.30" x2="537.40" y1="120.48" y2="120.48" stroke="#777" stroke-opacity=".7" stroke-width=".4"/>
<line x1="536.30" x2="537.40" y1="115.67" y2="115.67" stroke="#777" stroke-opacity=".7" stroke-width=".4"/>
<line x1="536.30" x2="537.40" y1="110.85" y2="110.85" stroke="#777" stroke-opacity=".7" stroke-width=".4"/>
<line x1="536.30" x2="537.40" y1="106.04" y2="106.04" stroke="#777" stroke-opacity=".7" stroke-width=".4"/>
<line x1="536.30" x2="537.40" y1="101.22" y2="101.22" stroke="#777" stroke-opacity=".7" stroke-width=".4"/>
<line x1="536.30" x2="537.40" y1="96.41" y2="96.41" stroke="#777" stroke-opacity=".7" stroke-width=".4"/>
<line x1="536.30" x2="537.40" y1="91.59" y2="91.59" stroke="#777" stroke-opacity=".7" stroke-width=".4"/>
<line x1="536.30" x2="537.40" y1="86.78" y2="86.78" stroke="#777" stroke-opacity=".7" stroke-width=".4"/>
<line x1="536.30" x2="537.40" y1="81.97" y2="81.97" stroke="#777" stroke-opacity=".7" stroke-width=".4"/>
<line x1="536.30" x2="537.40" y1="77.15" y2="77.15" stroke="#777" stroke-opacity=".7" stroke-width=".4"/>
<line x1="536.30" x2="537.40" y1="72.33" y2="72.33" stroke="#777" stroke-opacity=".7" stroke-width=".4"/>
<line x1="536.30" x2="537.40" y1="67.52" y2="67.52" stroke="#777" stroke-opacity=".7" stroke-width=".4"/>
<line x1="536.30" x2="537.40" y1="62.70" y2="62.70" stroke="#777" stroke-opacity=".7" stroke-width=".4"/>
<line x1="536.30" x2="537.40" y1="57.89" y2="57.89" stroke="#777" stroke-opacity=".7" stroke-width=".4"/>
<line x1="536.30" x2="537.40" y1="53.08" y2="53.08" stroke="#777" stroke-opacity=".7" stroke-width=".4"/>
<line x1="536.30" x2="537.40" y1="48.26" y2="48.26" stroke="#777" stroke-opacity=".7" stroke-width=".4"/>
<line x1="536.30" x2="537.40" y1="43.44" y2="43.44" stroke="#777" stroke-opacity=".7" stroke-width=".4"/>
<line x1="536.30" x2="537.40" y1="38.63" y2="38.63" stroke="#777" stroke-opacity=".7" stroke-width=".4"/>
<line x1="536.30" x2="537.40" y1="33.81" y2="33.81" stroke="#777" stroke-opacity=".7" stroke-width=".4"/>
<text x="536.00" y="132.60" font-size="8.80" text-anchor="start" class="se">Γ</text>
<text x="575.64" y="132.60" font-size="9.20" text-anchor="middle">K</text>
<text x="625.10" y="132.60" font-size="9.20" text-anchor="middle">M</text>
<text x="680.70" y="132.60" font-size="8.80" text-anchor="middle" class="se">Γ</text>
<text transform="translate(523.10 77.35) rotate(-90)" font-size="7.30" text-anchor="middle">ω (eV)</text>
<text x="626.00" y="88.15" font-size="7.60" text-anchor="start" font-weight="bold">Pd''(4d)</text>
<rect x="438.60" y="148.00" width="103.7" height="7.2" fill="url(#cbh)"/>
<g clip-path="url(#cp_ag)"><g filter="url(#cm_ag)">
<rect x="396.70" y="139.00" width="185.40" height="136.30" fill="#010101"/>
<g fill="none" stroke-width="4.50" opacity="0.350" filter="url(#bl_ag_0)" stroke-linecap="round">
<path d="M416.7 206.9C417.3 206.9 418.9 206.9 420.1 207.0C421.4 207.2 422.3 207.3 424.1 208.0C425.9 208.6 428.7 209.8 431.0 211.0C433.3 212.2 435.5 213.7 437.8 215.1C440.1 216.4 442.3 217.7 444.6 218.9C446.9 220.1 449.5 221.3 451.4 222.2C453.3 223.1 453.9 223.5 456.0 224.3C458.1 225.2 461.6 226.4 464.0 227.3C466.5 228.2 468.6 228.9 470.8 229.8C473.1 230.7 475.4 231.9 477.7 232.8C479.9 233.8 482.2 234.7 484.5 235.5C486.7 236.4 489.0 237.1 491.3 238.0C493.5 238.9 495.7 240.1 498.1 241.0C500.4 241.9 503.0 242.4 505.4 243.4C507.9 244.5 510.4 246.0 512.8 247.2C515.1 248.3 517.3 249.6 519.6 250.5C521.9 251.5 524.2 252.3 526.4 253.0C528.7 253.7 530.9 254.3 533.2 254.9C535.5 255.5 539.0 256.4 540.2 256.7" stroke="url(#g_ag_b1)"/>
<path d="M456.0 224.3C456.9 223.6 459.5 221.1 461.3 219.8C463.1 218.5 464.7 217.2 466.8 216.4C468.8 215.6 471.6 214.9 473.6 215.1C475.6 215.2 477.2 216.0 479.0 217.1C480.8 218.3 482.4 220.3 484.5 221.9C486.5 223.5 489.0 225.3 491.3 226.6C493.5 228.0 495.7 229.1 498.1 229.8C500.4 230.5 503.0 230.8 505.4 230.8C507.9 230.7 510.4 230.3 512.8 229.4C515.1 228.5 517.3 226.8 519.6 225.3C521.9 223.8 524.2 222.0 526.4 220.5C528.7 219.0 531.0 217.8 533.2 216.4C535.5 215.1 537.8 213.5 540.0 212.3C542.3 211.1 544.6 210.1 546.8 209.3C549.1 208.5 551.7 207.8 553.6 207.4C555.6 207.0 557.1 207.1 558.5 207.0C559.9 206.9 561.5 206.9 562.1 206.9" stroke="url(#g_ag_b2)"/>
<path d="M416.7 220.8C417.5 220.8 419.6 220.8 421.3 221.0C423.0 221.2 424.8 221.2 426.9 221.9C428.9 222.6 431.4 224.1 433.7 225.3C435.9 226.6 438.2 228.2 440.5 229.4C442.8 230.6 445.0 231.8 447.3 232.5C449.6 233.3 452.6 233.9 454.1 234.1C455.6 234.4 454.4 234.2 456.0 234.1C457.7 234.1 461.6 233.9 464.0 233.9C466.5 233.9 468.6 233.9 470.8 234.1C473.1 234.4 475.4 234.9 477.7 235.2C479.9 235.6 482.2 236.0 484.5 236.4C486.7 236.8 489.0 237.2 491.3 237.6C493.5 238.0 495.7 238.5 498.1 239.0C500.4 239.4 503.0 240.6 505.4 240.3C507.9 240.0 510.4 238.2 512.8 237.2C515.1 236.2 517.3 235.2 519.6 234.1C521.9 233.1 524.2 231.9 526.4 230.8C528.7 229.6 531.0 228.3 533.2 227.3C535.5 226.3 537.8 225.4 540.0 224.6C542.3 223.8 544.6 223.1 546.8 222.6C549.1 222.0 551.7 221.6 553.6 221.4C555.6 221.1 557.1 221.0 558.5 220.9C559.9 220.8 561.5 220.8 562.1 220.8" stroke="url(#g_ag_b3)"/>
<path d="M416.7 220.8C417.5 220.9 419.6 220.9 421.3 221.3C423.0 221.6 424.8 222.1 426.9 223.0C428.9 223.9 431.4 225.3 433.7 226.6C435.9 227.9 438.2 229.3 440.5 230.8C442.8 232.2 445.3 234.2 447.3 235.5C449.3 236.8 451.3 237.9 452.7 238.6C454.2 239.2 454.2 239.1 456.0 239.2C457.9 239.4 461.6 239.4 464.0 239.4C466.5 239.3 468.6 238.9 470.8 239.0C473.1 239.0 475.4 239.5 477.7 239.9C479.9 240.3 482.2 240.8 484.5 241.3C486.7 241.7 489.0 242.0 491.3 242.3C493.5 242.6 495.7 242.9 498.1 243.0C500.4 243.2 503.0 243.5 505.4 243.4C507.9 243.4 510.4 243.1 512.8 242.7C515.1 242.3 517.3 242.0 519.6 241.0C521.9 240.1 524.2 238.4 526.4 237.0C528.7 235.5 531.0 233.9 533.2 232.4C535.5 230.8 537.8 229.0 540.0 227.6C542.3 226.2 544.6 224.8 546.8 223.8C549.1 222.8 551.7 222.1 553.6 221.6C555.6 221.1 557.1 221.1 558.5 221.0C559.9 220.8 561.5 220.8 562.1 220.8" stroke="url(#g_ag_b4)"/>
<path d="M416.7 240.7C418.4 240.7 422.9 240.7 426.9 240.6C430.8 240.4 436.4 240.1 440.5 239.9C444.6 239.6 448.8 239.3 451.4 239.1C454.0 239.0 455.3 239.0 456.0 239.0" stroke="url(#g_ag_b5a)"/>
<path d="M509.3 244.7C510.4 244.7 513.5 245.0 515.6 244.5C517.7 244.1 520.1 242.7 522.1 242.1C524.1 241.5 525.3 241.3 527.5 241.0C529.7 240.7 532.0 240.5 535.1 240.4C538.1 240.3 541.4 240.1 545.9 240.2C550.4 240.2 559.4 240.6 562.1 240.7" stroke="url(#g_ag_b5b)"/>
<path d="M416.7 225.3C418.4 225.4 424.0 225.6 426.9 226.0C429.7 226.4 431.4 226.8 433.7 227.6C435.9 228.4 439.4 230.2 440.5 230.8" stroke="url(#g_ag_b6a)"/>
<path d="M542.5 224.9C543.2 225.0 544.7 225.1 546.5 225.2C548.3 225.3 550.8 225.5 553.4 225.5C556.0 225.5 560.6 225.3 562.1 225.3" stroke="url(#g_ag_b6b)"/>
<path d="M416.7 228.7C418.4 228.8 422.9 228.9 426.9 229.1C430.8 229.3 435.6 229.8 440.5 230.1C445.3 230.4 453.4 230.7 456.0 230.8" stroke="url(#g_ag_b7a)"/>
<path d="M519.6 233.5C521.2 233.1 525.3 231.5 529.1 230.8C533.0 230.1 537.2 229.7 542.7 229.4C548.2 229.0 558.9 228.8 562.1 228.7" stroke="url(#g_ag_b7b)"/>
<path d="M445.3 257.0C445.7 256.7 446.7 255.8 448.0 255.1C449.2 254.3 451.4 253.1 452.7 252.6C454.1 252.1 454.2 252.0 456.0 252.2C457.9 252.4 461.6 253.6 464.0 254.0C466.5 254.3 468.6 254.4 470.8 254.4C473.1 254.4 475.0 254.2 477.3 253.9C479.6 253.6 482.1 253.3 484.5 252.6C486.8 251.9 489.0 251.0 491.3 249.9C493.5 248.7 495.7 246.9 498.1 245.8C500.4 244.6 504.2 243.5 505.4 243.0" stroke="url(#g_ag_b8)"/>
<path d="M505.4 242.7C506.0 242.5 507.7 242.5 509.0 241.8C510.3 241.1 511.7 240.3 513.3 238.6C515.0 236.8 517.3 233.3 518.8 231.5C520.3 229.6 521.3 228.7 522.5 227.5C523.7 226.3 525.3 224.9 525.9 224.3" stroke="url(#g_ag_b9)"/>
<path d="M416.7 179.1C417.5 179.2 419.7 179.3 421.4 179.9C423.1 180.4 424.8 181.1 426.9 182.2C428.9 183.2 431.4 184.8 433.7 186.3C435.9 187.8 438.2 189.3 440.5 191.0C442.8 192.8 444.7 194.8 447.3 196.8C449.9 198.8 454.6 202.1 456.0 203.1" stroke="url(#g_ag_b10a_0)"/>
<path d="M522.8 203.1C524.3 202.1 529.0 198.8 531.6 196.8C534.2 194.8 536.2 192.8 538.5 191.0C540.7 189.3 542.9 187.8 545.1 186.3C547.4 184.8 549.9 183.2 551.9 182.2C554.0 181.1 555.7 180.4 557.4 179.9C559.1 179.3 561.3 179.2 562.1 179.1" stroke="url(#g_ag_b10b_0)"/>
<path d="M416.7 191.7C417.5 191.8 419.6 191.8 421.3 192.1C423.0 192.5 424.8 193.1 426.9 193.8C428.9 194.5 431.4 195.4 433.7 196.3C435.9 197.2 438.2 198.2 440.5 199.2C442.8 200.3 445.0 201.7 447.3 202.6C449.6 203.6 452.6 204.5 454.1 205.0C455.6 205.4 454.5 205.2 456.0 205.4C457.6 205.5 461.1 205.8 463.6 206.0C466.1 206.3 468.5 206.3 470.8 206.9C473.2 207.5 475.4 208.9 477.7 209.6C479.9 210.3 481.8 210.7 484.5 211.0C487.1 211.3 489.8 211.3 493.3 211.3C496.8 211.4 500.6 211.3 505.4 211.2C510.3 211.2 517.7 211.5 522.3 211.0C526.9 210.5 530.3 209.6 533.2 208.2C536.2 206.9 537.9 204.6 540.0 202.8C542.1 201.0 543.9 198.9 545.9 197.4C547.9 195.9 550.0 194.7 551.9 193.8C553.8 192.9 555.7 192.5 557.4 192.1C559.1 191.8 561.3 191.8 562.1 191.7" stroke="url(#g_ag_b11_0)"/>
<path d="M457.4 225.9C460.3 226.1 469.5 226.7 474.9 226.9C480.2 227.1 484.3 227.3 489.4 227.4C494.5 227.5 500.1 227.6 505.4 227.6C510.7 227.6 516.3 227.6 521.4 227.4C526.5 227.2 533.5 226.6 535.9 226.4" stroke="url(#g_ag_b12)"/>
</g>
<g fill="none" stroke-width="1.70" opacity="0.850" filter="url(#bl_ag_1)" stroke-linecap="round">
<path d="M416.7 206.9C417.3 206.9 418.9 206.9 420.1 207.0C421.4 207.2 422.3 207.3 424.1 208.0C425.9 208.6 428.7 209.8 431.0 211.0C433.3 212.2 435.5 213.7 437.8 215.1C440.1 216.4 442.3 217.7 444.6 218.9C446.9 220.1 449.5 221.3 451.4 222.2C453.3 223.1 453.9 223.5 456.0 224.3C458.1 225.2 461.6 226.4 464.0 227.3C466.5 228.2 468.6 228.9 470.8 229.8C473.1 230.7 475.4 231.9 477.7 232.8C479.9 233.8 482.2 234.7 484.5 235.5C486.7 236.4 489.0 237.1 491.3 238.0C493.5 238.9 495.7 240.1 498.1 241.0C500.4 241.9 503.0 242.4 505.4 243.4C507.9 244.5 510.4 246.0 512.8 247.2C515.1 248.3 517.3 249.6 519.6 250.5C521.9 251.5 524.2 252.3 526.4 253.0C528.7 253.7 530.9 254.3 533.2 254.9C535.5 255.5 539.0 256.4 540.2 256.7" stroke="url(#g_ag_b1)"/>
<path d="M456.0 224.3C456.9 223.6 459.5 221.1 461.3 219.8C463.1 218.5 464.7 217.2 466.8 216.4C468.8 215.6 471.6 214.9 473.6 215.1C475.6 215.2 477.2 216.0 479.0 217.1C480.8 218.3 482.4 220.3 484.5 221.9C486.5 223.5 489.0 225.3 491.3 226.6C493.5 228.0 495.7 229.1 498.1 229.8C500.4 230.5 503.0 230.8 505.4 230.8C507.9 230.7 510.4 230.3 512.8 229.4C515.1 228.5 517.3 226.8 519.6 225.3C521.9 223.8 524.2 222.0 526.4 220.5C528.7 219.0 531.0 217.8 533.2 216.4C535.5 215.1 537.8 213.5 540.0 212.3C542.3 211.1 544.6 210.1 546.8 209.3C549.1 208.5 551.7 207.8 553.6 207.4C555.6 207.0 557.1 207.1 558.5 207.0C559.9 206.9 561.5 206.9 562.1 206.9" stroke="url(#g_ag_b2)"/>
<path d="M416.7 220.8C417.5 220.8 419.6 220.8 421.3 221.0C423.0 221.2 424.8 221.2 426.9 221.9C428.9 222.6 431.4 224.1 433.7 225.3C435.9 226.6 438.2 228.2 440.5 229.4C442.8 230.6 445.0 231.8 447.3 232.5C449.6 233.3 452.6 233.9 454.1 234.1C455.6 234.4 454.4 234.2 456.0 234.1C457.7 234.1 461.6 233.9 464.0 233.9C466.5 233.9 468.6 233.9 470.8 234.1C473.1 234.4 475.4 234.9 477.7 235.2C479.9 235.6 482.2 236.0 484.5 236.4C486.7 236.8 489.0 237.2 491.3 237.6C493.5 238.0 495.7 238.5 498.1 239.0C500.4 239.4 503.0 240.6 505.4 240.3C507.9 240.0 510.4 238.2 512.8 237.2C515.1 236.2 517.3 235.2 519.6 234.1C521.9 233.1 524.2 231.9 526.4 230.8C528.7 229.6 531.0 228.3 533.2 227.3C535.5 226.3 537.8 225.4 540.0 224.6C542.3 223.8 544.6 223.1 546.8 222.6C549.1 222.0 551.7 221.6 553.6 221.4C555.6 221.1 557.1 221.0 558.5 220.9C559.9 220.8 561.5 220.8 562.1 220.8" stroke="url(#g_ag_b3)"/>
<path d="M416.7 220.8C417.5 220.9 419.6 220.9 421.3 221.3C423.0 221.6 424.8 222.1 426.9 223.0C428.9 223.9 431.4 225.3 433.7 226.6C435.9 227.9 438.2 229.3 440.5 230.8C442.8 232.2 445.3 234.2 447.3 235.5C449.3 236.8 451.3 237.9 452.7 238.6C454.2 239.2 454.2 239.1 456.0 239.2C457.9 239.4 461.6 239.4 464.0 239.4C466.5 239.3 468.6 238.9 470.8 239.0C473.1 239.0 475.4 239.5 477.7 239.9C479.9 240.3 482.2 240.8 484.5 241.3C486.7 241.7 489.0 242.0 491.3 242.3C493.5 242.6 495.7 242.9 498.1 243.0C500.4 243.2 503.0 243.5 505.4 243.4C507.9 243.4 510.4 243.1 512.8 242.7C515.1 242.3 517.3 242.0 519.6 241.0C521.9 240.1 524.2 238.4 526.4 237.0C528.7 235.5 531.0 233.9 533.2 232.4C535.5 230.8 537.8 229.0 540.0 227.6C542.3 226.2 544.6 224.8 546.8 223.8C549.1 222.8 551.7 222.1 553.6 221.6C555.6 221.1 557.1 221.1 558.5 221.0C559.9 220.8 561.5 220.8 562.1 220.8" stroke="url(#g_ag_b4)"/>
<path d="M416.7 240.7C418.4 240.7 422.9 240.7 426.9 240.6C430.8 240.4 436.4 240.1 440.5 239.9C444.6 239.6 448.8 239.3 451.4 239.1C454.0 239.0 455.3 239.0 456.0 239.0" stroke="url(#g_ag_b5a)"/>
<path d="M509.3 244.7C510.4 244.7 513.5 245.0 515.6 244.5C517.7 244.1 520.1 242.7 522.1 242.1C524.1 241.5 525.3 241.3 527.5 241.0C529.7 240.7 532.0 240.5 535.1 240.4C538.1 240.3 541.4 240.1 545.9 240.2C550.4 240.2 559.4 240.6 562.1 240.7" stroke="url(#g_ag_b5b)"/>
<path d="M416.7 225.3C418.4 225.4 424.0 225.6 426.9 226.0C429.7 226.4 431.4 226.8 433.7 227.6C435.9 228.4 439.4 230.2 440.5 230.8" stroke="url(#g_ag_b6a)"/>
<path d="M542.5 224.9C543.2 225.0 544.7 225.1 546.5 225.2C548.3 225.3 550.8 225.5 553.4 225.5C556.0 225.5 560.6 225.3 562.1 225.3" stroke="url(#g_ag_b6b)"/>
<path d="M416.7 228.7C418.4 228.8 422.9 228.9 426.9 229.1C430.8 229.3 435.6 229.8 440.5 230.1C445.3 230.4 453.4 230.7 456.0 230.8" stroke="url(#g_ag_b7a)"/>
<path d="M519.6 233.5C521.2 233.1 525.3 231.5 529.1 230.8C533.0 230.1 537.2 229.7 542.7 229.4C548.2 229.0 558.9 228.8 562.1 228.7" stroke="url(#g_ag_b7b)"/>
<path d="M445.3 257.0C445.7 256.7 446.7 255.8 448.0 255.1C449.2 254.3 451.4 253.1 452.7 252.6C454.1 252.1 454.2 252.0 456.0 252.2C457.9 252.4 461.6 253.6 464.0 254.0C466.5 254.3 468.6 254.4 470.8 254.4C473.1 254.4 475.0 254.2 477.3 253.9C479.6 253.6 482.1 253.3 484.5 252.6C486.8 251.9 489.0 251.0 491.3 249.9C493.5 248.7 495.7 246.9 498.1 245.8C500.4 244.6 504.2 243.5 505.4 243.0" stroke="url(#g_ag_b8)"/>
<path d="M505.4 242.7C506.0 242.5 507.7 242.5 509.0 241.8C510.3 241.1 511.7 240.3 513.3 238.6C515.0 236.8 517.3 233.3 518.8 231.5C520.3 229.6 521.3 228.7 522.5 227.5C523.7 226.3 525.3 224.9 525.9 224.3" stroke="url(#g_ag_b9)"/>
<path d="M416.7 179.1C417.5 179.2 419.7 179.3 421.4 179.9C423.1 180.4 424.8 181.1 426.9 182.2C428.9 183.2 431.4 184.8 433.7 186.3C435.9 187.8 438.2 189.3 440.5 191.0C442.8 192.8 444.7 194.8 447.3 196.8C449.9 198.8 454.6 202.1 456.0 203.1" stroke="url(#g_ag_b10a)"/>
<path d="M522.8 203.1C524.3 202.1 529.0 198.8 531.6 196.8C534.2 194.8 536.2 192.8 538.5 191.0C540.7 189.3 542.9 187.8 545.1 186.3C547.4 184.8 549.9 183.2 551.9 182.2C554.0 181.1 555.7 180.4 557.4 179.9C559.1 179.3 561.3 179.2 562.1 179.1" stroke="url(#g_ag_b10b)"/>
<path d="M416.7 191.7C417.5 191.8 419.6 191.8 421.3 192.1C423.0 192.5 424.8 193.1 426.9 193.8C428.9 194.5 431.4 195.4 433.7 196.3C435.9 197.2 438.2 198.2 440.5 199.2C442.8 200.3 445.0 201.7 447.3 202.6C449.6 203.6 452.6 204.5 454.1 205.0C455.6 205.4 454.5 205.2 456.0 205.4C457.6 205.5 461.1 205.8 463.6 206.0C466.1 206.3 468.5 206.3 470.8 206.9C473.2 207.5 475.4 208.9 477.7 209.6C479.9 210.3 481.8 210.7 484.5 211.0C487.1 211.3 489.8 211.3 493.3 211.3C496.8 211.4 500.6 211.3 505.4 211.2C510.3 211.2 517.7 211.5 522.3 211.0C526.9 210.5 530.3 209.6 533.2 208.2C536.2 206.9 537.9 204.6 540.0 202.8C542.1 201.0 543.9 198.9 545.9 197.4C547.9 195.9 550.0 194.7 551.9 193.8C553.8 192.9 555.7 192.5 557.4 192.1C559.1 191.8 561.3 191.8 562.1 191.7" stroke="url(#g_ag_b11)"/>
<path d="M457.4 225.9C460.3 226.1 469.5 226.7 474.9 226.9C480.2 227.1 484.3 227.3 489.4 227.4C494.5 227.5 500.1 227.6 505.4 227.6C510.7 227.6 516.3 227.6 521.4 227.4C526.5 227.2 533.5 226.6 535.9 226.4" stroke="url(#g_ag_b12)"/>
</g>
</g></g>
<line x1="456.04" x2="456.04" y1="159.00" y2="255.30" stroke="#111" stroke-opacity=".7" stroke-width=".6" shape-rendering="crispEdges"/>
<line x1="505.50" x2="505.50" y1="159.00" y2="255.30" stroke="#111" stroke-opacity=".7" stroke-width=".6" shape-rendering="crispEdges"/>
<line x1="416.70" x2="562.10" y1="207.15" y2="207.15" stroke="#222" stroke-opacity=".65" stroke-width=".6" shape-rendering="crispEdges"/>
<rect x="416.70" y="159.00" width="145.40" height="96.30" fill="none" stroke="#888" stroke-opacity=".8" stroke-width=".6"/>
<text x="413.80" y="161.95" font-size="8.30" text-anchor="end">2</text>
<line x1="416.70" x2="418.70" y1="159.00" y2="159.00" stroke="#555" stroke-width=".5"/>
<text x="413.80" y="186.02" font-size="8.30" text-anchor="end">1</text>
<line x1="416.70" x2="418.70" y1="183.07" y2="183.07" stroke="#555" stroke-width=".5"/>
<text x="413.80" y="210.10" font-size="8.30" text-anchor="end">0</text>
<line x1="416.70" x2="418.70" y1="207.15" y2="207.15" stroke="#555" stroke-width=".5"/>
<text x="413.80" y="234.18" font-size="8.30" text-anchor="end">-1</text>
<line x1="416.70" x2="418.70" y1="231.23" y2="231.23" stroke="#555" stroke-width=".5"/>
<text x="413.80" y="258.25" font-size="8.30" text-anchor="end">-2</text>
<line x1="416.70" x2="418.70" y1="255.30" y2="255.30" stroke="#555" stroke-width=".5"/>
<line x1="416.70" x2="417.80" y1="250.49" y2="250.49" stroke="#777" stroke-opacity=".7" stroke-width=".4"/>
<line x1="416.70" x2="417.80" y1="245.67" y2="245.67" stroke="#777" stroke-opacity=".7" stroke-width=".4"/>
<line x1="416.70" x2="417.80" y1="240.86" y2="240.86" stroke="#777" stroke-opacity=".7" stroke-width=".4"/>
<line x1="416.70" x2="417.80" y1="236.04" y2="236.04" stroke="#777" stroke-opacity=".7" stroke-width=".4"/>
<line x1="416.70" x2="417.80" y1="231.23" y2="231.23" stroke="#777" stroke-opacity=".7" stroke-width=".4"/>
<line x1="416.70" x2="417.80" y1="226.41" y2="226.41" stroke="#777" stroke-opacity=".7" stroke-width=".4"/>
<line x1="416.70" x2="417.80" y1="221.59" y2="221.59" stroke="#777" stroke-opacity=".7" stroke-width=".4"/>
<line x1="416.70" x2="417.80" y1="216.78" y2="216.78" stroke="#777" stroke-opacity=".7" stroke-width=".4"/>
<line x1="416.70" x2="417.80" y1="211.97" y2="211.97" stroke="#777" stroke-opacity=".7" stroke-width=".4"/>
<line x1="416.70" x2="417.80" y1="207.15" y2="207.15" stroke="#777" stroke-opacity=".7" stroke-width=".4"/>
<line x1="416.70" x2="417.80" y1="202.34" y2="202.34" stroke="#777" stroke-opacity=".7" stroke-width=".4"/>
<line x1="416.70" x2="417.80" y1="197.52" y2="197.52" stroke="#777" stroke-opacity=".7" stroke-width=".4"/>
<line x1="416.70" x2="417.80" y1="192.70" y2="192.70" stroke="#777" stroke-opacity=".7" stroke-width=".4"/>
<line x1="416.70" x2="417.80" y1="187.89" y2="187.89" stroke="#777" stroke-opacity=".7" stroke-width=".4"/>
<line x1="416.70" x2="417.80" y1="183.07" y2="183.07" stroke="#777" stroke-opacity=".7" stroke-width=".4"/>
<line x1="416.70" x2="417.80" y1="178.26" y2="178.26" stroke="#777" stroke-opacity=".7" stroke-width=".4"/>
<line x1="416.70" x2="417.80" y1="173.44" y2="173.44" stroke="#777" stroke-opacity=".7" stroke-width=".4"/>
<line x1="416.70" x2="417.80" y1="168.63" y2="168.63" stroke="#777" stroke-opacity=".7" stroke-width=".4"/>
<line x1="416.70" x2="417.80" y1="163.81" y2="163.81" stroke="#777" stroke-opacity=".7" stroke-width=".4"/>
<text x="416.40" y="262.60" font-size="8.80" text-anchor="start" class="se">Γ</text>
<text x="456.04" y="262.60" font-size="9.20" text-anchor="middle">K</text>
<text x="505.50" y="262.60" font-size="9.20" text-anchor="middle">M</text>
<text x="561.10" y="262.60" font-size="8.80" text-anchor="middle" class="se">Γ</text>
<text transform="translate(403.50 207.35) rotate(-90)" font-size="7.30" text-anchor="middle">ω (eV)</text>
<text x="507.00" y="218.15" font-size="7.60" text-anchor="start" font-weight="bold">Ag(4d)</text>
<rect x="364.20" y="277.70" width="103.7" height="7.2" fill="url(#cbh)"/>
<g clip-path="url(#cp_cr1)"><g filter="url(#cm_cr1)">
<rect x="322.30" y="268.70" width="185.40" height="136.30" fill="#090909"/>
<path d="M327.76 281.48L327.76 324.81L342.30 324.81L359.75 327.70L381.56 333.24L400.46 332.03L432.45 330.83L455.71 330.83L473.16 328.18L487.70 324.81L502.24 324.81L502.24 281.48Z" fill="#1f1f1f" fill-opacity="0.800" filter="url(#bf_cr1_0)"/>
<path d="M327.76 281.48L327.76 314.70L342.30 314.70L364.11 317.59L381.56 320.48L407.73 317.59L432.45 314.70L458.62 317.11L473.16 317.59L487.70 314.70L502.24 314.70L502.24 281.48Z" fill="#343434" fill-opacity="0.920" filter="url(#bf_cr1_1)"/>
<path d="M397.6 324.8C400.5 324.6 409.2 323.8 415.0 323.4C420.8 323.0 426.6 322.2 432.4 322.4C438.3 322.6 447.0 324.0 449.9 324.3" fill="none" stroke="#0d0d0d" stroke-opacity="0.500" stroke-width="5.30" filter="url(#bf_cr1_2)"/>
<path d="M346.7 318.1C348.8 318.4 355.1 319.0 359.7 320.0C364.4 321.0 371.9 323.6 374.3 324.3" fill="none" stroke="#0f0f0f" stroke-opacity="0.400" stroke-width="2.41" filter="url(#bf_cr1_3)"/>
<rect x="313.22" y="305.55" width="203.56" height="7.22" fill="#454545" fill-opacity="0.300" filter="url(#bf_cr1_4)"/>
<rect x="422.27" y="286.29" width="65.43" height="16.85" fill="#424242" fill-opacity="0.400" filter="url(#bf_cr1_5)"/>
<rect x="342.30" y="286.29" width="72.70" height="14.45" fill="#3b3b3b" fill-opacity="0.300" filter="url(#bf_cr1_6)"/>
<rect x="313.22" y="376.57" width="203.56" height="13.24" fill="#1f1f1f" fill-opacity="0.600" filter="url(#bf_cr1_7)"/>
<rect x="313.22" y="358.52" width="203.56" height="16.85" fill="#141414" fill-opacity="0.500" filter="url(#bf_cr1_8)"/>
<path d="M342.3 339.7C344.2 339.9 349.6 340.0 353.9 340.7C358.3 341.4 366.0 343.5 368.5 344.1" fill="none" stroke="#1a1a1a" stroke-opacity="0.500" stroke-width="2.89" filter="url(#bf_cr1_9)"/>
<path d="M487.7 339.7C485.8 339.9 480.4 340.0 476.1 340.7C471.7 341.4 464.0 343.5 461.5 344.1" fill="none" stroke="#1a1a1a" stroke-opacity="0.500" stroke-width="2.89" filter="url(#bf_cr1_10)"/>
<g fill="none" stroke-width="5.00" opacity="0.600" filter="url(#bl_cr1_0)" stroke-linecap="round">
<path d="M342.3 336.6C342.9 336.6 344.5 336.6 345.7 336.7C347.0 336.9 347.9 337.0 349.7 337.7C351.5 338.3 354.3 339.5 356.6 340.7C358.9 341.9 361.1 343.4 363.4 344.8C365.7 346.1 367.9 347.4 370.2 348.6C372.5 349.8 375.1 351.0 377.0 351.9C378.9 352.8 379.5 353.2 381.6 354.0C383.7 354.9 387.2 356.1 389.6 357.0C392.1 357.9 394.2 358.6 396.4 359.5C398.7 360.4 401.0 361.6 403.3 362.5C405.5 363.5 407.8 364.4 410.1 365.2C412.3 366.1 414.6 366.8 416.9 367.7C419.1 368.6 421.3 369.8 423.7 370.7C426.0 371.6 428.6 372.1 431.0 373.1C433.5 374.2 436.0 375.7 438.4 376.9C440.7 378.0 442.9 379.3 445.2 380.2C447.5 381.2 449.8 382.0 452.0 382.7C454.3 383.4 456.5 384.0 458.8 384.6C461.1 385.2 464.6 386.1 465.8 386.4" stroke="url(#g_cr1_b1)"/>
<path d="M381.6 354.0C382.5 353.3 385.1 350.8 386.9 349.5C388.7 348.2 390.3 346.9 392.4 346.1C394.4 345.3 397.2 344.6 399.2 344.8C401.2 344.9 402.8 345.7 404.6 346.8C406.4 348.0 408.0 350.0 410.1 351.6C412.1 353.2 414.6 355.0 416.9 356.3C419.1 357.7 421.3 358.8 423.7 359.5C426.0 360.2 428.6 360.5 431.0 360.5C433.5 360.4 436.0 360.0 438.4 359.1C440.7 358.2 442.9 356.5 445.2 355.0C447.5 353.5 449.8 351.7 452.0 350.2C454.3 348.7 456.6 347.5 458.8 346.1C461.1 344.8 463.4 343.2 465.6 342.0C467.9 340.8 470.2 339.8 472.4 339.0C474.7 338.2 477.3 337.5 479.2 337.1C481.2 336.7 482.7 336.8 484.1 336.7C485.5 336.6 487.1 336.6 487.7 336.6" stroke="url(#g_cr1_b2)"/>
<path d="M342.3 350.5C343.1 350.5 345.2 350.5 346.9 350.7C348.6 350.9 350.4 350.9 352.5 351.6C354.5 352.3 357.0 353.8 359.3 355.0C361.5 356.3 363.8 357.9 366.1 359.1C368.4 360.3 370.6 361.5 372.9 362.2C375.2 363.0 378.2 363.6 379.7 363.8C381.2 364.1 380.0 363.9 381.6 363.8C383.3 363.8 387.2 363.6 389.6 363.6C392.1 363.6 394.2 363.6 396.4 363.8C398.7 364.1 401.0 364.6 403.3 364.9C405.5 365.3 407.8 365.7 410.1 366.1C412.3 366.5 414.6 366.9 416.9 367.3C419.1 367.7 421.3 368.2 423.7 368.7C426.0 369.1 428.6 370.3 431.0 370.0C433.5 369.7 436.0 367.9 438.4 366.9C440.7 365.9 442.9 364.9 445.2 363.8C447.5 362.8 449.8 361.6 452.0 360.5C454.3 359.3 456.6 358.0 458.8 357.0C461.1 356.0 463.4 355.1 465.6 354.3C467.9 353.5 470.2 352.8 472.4 352.3C474.7 351.7 477.3 351.3 479.2 351.1C481.2 350.8 482.7 350.7 484.1 350.6C485.5 350.5 487.1 350.5 487.7 350.5" stroke="url(#g_cr1_b3)"/>
<path d="M342.3 350.5C343.1 350.6 345.2 350.6 346.9 351.0C348.6 351.3 350.4 351.8 352.5 352.7C354.5 353.6 357.0 355.0 359.3 356.3C361.5 357.6 363.8 359.0 366.1 360.5C368.4 361.9 370.9 363.9 372.9 365.2C374.9 366.5 376.9 367.6 378.3 368.3C379.8 368.9 379.8 368.8 381.6 368.9C383.5 369.1 387.2 369.1 389.6 369.1C392.1 369.0 394.2 368.6 396.4 368.7C398.7 368.7 401.0 369.2 403.3 369.6C405.5 370.0 407.8 370.5 410.1 371.0C412.3 371.4 414.6 371.7 416.9 372.0C419.1 372.3 421.3 372.6 423.7 372.7C426.0 372.9 428.6 373.2 431.0 373.1C433.5 373.1 436.0 372.8 438.4 372.4C440.7 372.0 442.9 371.7 445.2 370.7C447.5 369.8 449.8 368.1 452.0 366.7C454.3 365.2 456.6 363.6 458.8 362.1C461.1 360.5 463.4 358.7 465.6 357.3C467.9 355.9 470.2 354.5 472.4 353.5C474.7 352.5 477.3 351.8 479.2 351.3C481.2 350.8 482.7 350.8 484.1 350.7C485.5 350.5 487.1 350.5 487.7 350.5" stroke="url(#g_cr1_b4)"/>
<path d="M342.3 370.4C344.0 370.4 348.5 370.4 352.5 370.3C356.4 370.1 362.0 369.8 366.1 369.6C370.2 369.3 374.4 369.0 377.0 368.8C379.6 368.7 380.9 368.7 381.6 368.7" stroke="url(#g_cr1_b5a)"/>
<path d="M434.9 374.4C436.0 374.4 439.1 374.7 441.2 374.2C443.3 373.8 445.7 372.4 447.7 371.8C449.7 371.2 450.9 371.0 453.1 370.7C455.3 370.4 457.6 370.2 460.7 370.1C463.7 370.0 467.0 369.8 471.5 369.9C476.0 369.9 485.0 370.3 487.7 370.4" stroke="url(#g_cr1_b5b)"/>
<path d="M342.3 355.0C344.0 355.1 349.6 355.3 352.5 355.7C355.3 356.1 357.0 356.5 359.3 357.3C361.5 358.1 365.0 359.9 366.1 360.5" stroke="url(#g_cr1_b6a)"/>
<path d="M468.1 354.6C468.8 354.7 470.3 354.8 472.1 354.9C473.9 355.0 476.4 355.2 479.0 355.2C481.6 355.2 486.2 355.0 487.7 355.0" stroke="url(#g_cr1_b6b)"/>
<path d="M342.3 358.4C344.0 358.5 348.5 358.6 352.5 358.8C356.4 359.0 361.2 359.5 366.1 359.8C370.9 360.1 379.0 360.4 381.6 360.5" stroke="url(#g_cr1_b7a)"/>
<path d="M445.2 363.2C446.8 362.8 450.9 361.2 454.7 360.5C458.6 359.8 462.8 359.4 468.3 359.1C473.8 358.7 484.5 358.5 487.7 358.4" stroke="url(#g_cr1_b7b)"/>
<path d="M370.9 386.7C371.3 386.4 372.3 385.5 373.6 384.8C374.8 384.0 377.0 382.8 378.3 382.3C379.7 381.8 379.8 381.7 381.6 381.9C383.5 382.1 387.2 383.3 389.6 383.7C392.1 384.0 394.2 384.1 396.4 384.1C398.7 384.1 400.6 383.9 402.9 383.6C405.2 383.3 407.7 383.0 410.1 382.3C412.4 381.6 414.6 380.7 416.9 379.6C419.1 378.4 421.3 376.6 423.7 375.5C426.0 374.3 429.8 373.2 431.0 372.7" stroke="url(#g_cr1_b8)"/>
<path d="M431.0 372.4C431.6 372.2 433.3 372.2 434.6 371.5C435.9 370.8 437.3 370.0 438.9 368.3C440.6 366.5 442.9 363.0 444.4 361.2C445.9 359.3 446.9 358.4 448.1 357.2C449.3 356.0 450.9 354.6 451.5 354.0" stroke="url(#g_cr1_b9)"/>
<path d="M342.3 308.8C343.1 308.9 345.3 309.0 347.0 309.6C348.7 310.1 350.4 310.8 352.5 311.9C354.5 312.9 357.0 314.5 359.3 316.0C361.5 317.5 363.8 319.0 366.1 320.7C368.4 322.5 370.3 324.5 372.9 326.5C375.5 328.5 380.2 331.8 381.6 332.8" stroke="url(#g_cr1_b10a_0)"/>
<path d="M448.4 332.8C449.9 331.8 454.6 328.5 457.2 326.5C459.8 324.5 461.8 322.5 464.1 320.7C466.3 319.0 468.5 317.5 470.7 316.0C473.0 314.5 475.5 312.9 477.5 311.9C479.6 310.8 481.3 310.1 483.0 309.6C484.7 309.0 486.9 308.9 487.7 308.8" stroke="url(#g_cr1_b10b_0)"/>
<path d="M342.3 321.4C343.1 321.5 345.2 321.5 346.9 321.8C348.6 322.2 350.4 322.8 352.5 323.5C354.5 324.2 357.0 325.1 359.3 326.0C361.5 326.9 363.8 327.9 366.1 328.9C368.4 330.0 370.6 331.4 372.9 332.3C375.2 333.3 378.2 334.2 379.7 334.7C381.2 335.1 380.1 334.9 381.6 335.1C383.2 335.2 386.7 335.5 389.2 335.7C391.7 336.0 394.1 336.0 396.4 336.6C398.8 337.2 401.0 338.6 403.3 339.3C405.5 340.0 407.4 340.4 410.1 340.7C412.7 341.0 415.4 341.0 418.9 341.0C422.4 341.1 426.2 341.0 431.0 340.9C435.9 340.9 443.3 341.2 447.9 340.7C452.5 340.2 455.9 339.3 458.8 337.9C461.8 336.6 463.5 334.3 465.6 332.5C467.7 330.7 469.5 328.6 471.5 327.1C473.5 325.6 475.6 324.4 477.5 323.5C479.4 322.6 481.3 322.2 483.0 321.8C484.7 321.5 486.9 321.5 487.7 321.4" stroke="url(#g_cr1_b11_0)"/>
<path d="M383.0 355.6C385.9 355.8 395.1 356.4 400.5 356.6C405.8 356.8 409.9 357.0 415.0 357.1C420.1 357.2 425.7 357.3 431.0 357.3C436.3 357.3 441.9 357.3 447.0 357.1C452.1 356.9 459.1 356.3 461.5 356.1" stroke="url(#g_cr1_b12)"/>
</g>
<g fill="none" stroke-width="2.00" opacity="1.000" filter="url(#bl_cr1_1)" stroke-linecap="round">
<path d="M342.3 336.6C342.9 336.6 344.5 336.6 345.7 336.7C347.0 336.9 347.9 337.0 349.7 337.7C351.5 338.3 354.3 339.5 356.6 340.7C358.9 341.9 361.1 343.4 363.4 344.8C365.7 346.1 367.9 347.4 370.2 348.6C372.5 349.8 375.1 351.0 377.0 351.9C378.9 352.8 379.5 353.2 381.6 354.0C383.7 354.9 387.2 356.1 389.6 357.0C392.1 357.9 394.2 358.6 396.4 359.5C398.7 360.4 401.0 361.6 403.3 362.5C405.5 363.5 407.8 364.4 410.1 365.2C412.3 366.1 414.6 366.8 416.9 367.7C419.1 368.6 421.3 369.8 423.7 370.7C426.0 371.6 428.6 372.1 431.0 373.1C433.5 374.2 436.0 375.7 438.4 376.9C440.7 378.0 442.9 379.3 445.2 380.2C447.5 381.2 449.8 382.0 452.0 382.7C454.3 383.4 456.5 384.0 458.8 384.6C461.1 385.2 464.6 386.1 465.8 386.4" stroke="url(#g_cr1_b1)"/>
<path d="M381.6 354.0C382.5 353.3 385.1 350.8 386.9 349.5C388.7 348.2 390.3 346.9 392.4 346.1C394.4 345.3 397.2 344.6 399.2 344.8C401.2 344.9 402.8 345.7 404.6 346.8C406.4 348.0 408.0 350.0 410.1 351.6C412.1 353.2 414.6 355.0 416.9 356.3C419.1 357.7 421.3 358.8 423.7 359.5C426.0 360.2 428.6 360.5 431.0 360.5C433.5 360.4 436.0 360.0 438.4 359.1C440.7 358.2 442.9 356.5 445.2 355.0C447.5 353.5 449.8 351.7 452.0 350.2C454.3 348.7 456.6 347.5 458.8 346.1C461.1 344.8 463.4 343.2 465.6 342.0C467.9 340.8 470.2 339.8 472.4 339.0C474.7 338.2 477.3 337.5 479.2 337.1C481.2 336.7 482.7 336.8 484.1 336.7C485.5 336.6 487.1 336.6 487.7 336.6" stroke="url(#g_cr1_b2)"/>
<path d="M342.3 350.5C343.1 350.5 345.2 350.5 346.9 350.7C348.6 350.9 350.4 350.9 352.5 351.6C354.5 352.3 357.0 353.8 359.3 355.0C361.5 356.3 363.8 357.9 366.1 359.1C368.4 360.3 370.6 361.5 372.9 362.2C375.2 363.0 378.2 363.6 379.7 363.8C381.2 364.1 380.0 363.9 381.6 363.8C383.3 363.8 387.2 363.6 389.6 363.6C392.1 363.6 394.2 363.6 396.4 363.8C398.7 364.1 401.0 364.6 403.3 364.9C405.5 365.3 407.8 365.7 410.1 366.1C412.3 366.5 414.6 366.9 416.9 367.3C419.1 367.7 421.3 368.2 423.7 368.7C426.0 369.1 428.6 370.3 431.0 370.0C433.5 369.7 436.0 367.9 438.4 366.9C440.7 365.9 442.9 364.9 445.2 363.8C447.5 362.8 449.8 361.6 452.0 360.5C454.3 359.3 456.6 358.0 458.8 357.0C461.1 356.0 463.4 355.1 465.6 354.3C467.9 353.5 470.2 352.8 472.4 352.3C474.7 351.7 477.3 351.3 479.2 351.1C481.2 350.8 482.7 350.7 484.1 350.6C485.5 350.5 487.1 350.5 487.7 350.5" stroke="url(#g_cr1_b3)"/>
<path d="M342.3 350.5C343.1 350.6 345.2 350.6 346.9 351.0C348.6 351.3 350.4 351.8 352.5 352.7C354.5 353.6 357.0 355.0 359.3 356.3C361.5 357.6 363.8 359.0 366.1 360.5C368.4 361.9 370.9 363.9 372.9 365.2C374.9 366.5 376.9 367.6 378.3 368.3C379.8 368.9 379.8 368.8 381.6 368.9C383.5 369.1 387.2 369.1 389.6 369.1C392.1 369.0 394.2 368.6 396.4 368.7C398.7 368.7 401.0 369.2 403.3 369.6C405.5 370.0 407.8 370.5 410.1 371.0C412.3 371.4 414.6 371.7 416.9 372.0C419.1 372.3 421.3 372.6 423.7 372.7C426.0 372.9 428.6 373.2 431.0 373.1C433.5 373.1 436.0 372.8 438.4 372.4C440.7 372.0 442.9 371.7 445.2 370.7C447.5 369.8 449.8 368.1 452.0 366.7C454.3 365.2 456.6 363.6 458.8 362.1C461.1 360.5 463.4 358.7 465.6 357.3C467.9 355.9 470.2 354.5 472.4 353.5C474.7 352.5 477.3 351.8 479.2 351.3C481.2 350.8 482.7 350.8 484.1 350.7C485.5 350.5 487.1 350.5 487.7 350.5" stroke="url(#g_cr1_b4)"/>
<path d="M342.3 370.4C344.0 370.4 348.5 370.4 352.5 370.3C356.4 370.1 362.0 369.8 366.1 369.6C370.2 369.3 374.4 369.0 377.0 368.8C379.6 368.7 380.9 368.7 381.6 368.7" stroke="url(#g_cr1_b5a)"/>
<path d="M434.9 374.4C436.0 374.4 439.1 374.7 441.2 374.2C443.3 373.8 445.7 372.4 447.7 371.8C449.7 371.2 450.9 371.0 453.1 370.7C455.3 370.4 457.6 370.2 460.7 370.1C463.7 370.0 467.0 369.8 471.5 369.9C476.0 369.9 485.0 370.3 487.7 370.4" stroke="url(#g_cr1_b5b)"/>
<path d="M342.3 355.0C344.0 355.1 349.6 355.3 352.5 355.7C355.3 356.1 357.0 356.5 359.3 357.3C361.5 358.1 365.0 359.9 366.1 360.5" stroke="url(#g_cr1_b6a)"/>
<path d="M468.1 354.6C468.8 354.7 470.3 354.8 472.1 354.9C473.9 355.0 476.4 355.2 479.0 355.2C481.6 355.2 486.2 355.0 487.7 355.0" stroke="url(#g_cr1_b6b)"/>
<path d="M342.3 358.4C344.0 358.5 348.5 358.6 352.5 358.8C356.4 359.0 361.2 359.5 366.1 359.8C370.9 360.1 379.0 360.4 381.6 360.5" stroke="url(#g_cr1_b7a)"/>
<path d="M445.2 363.2C446.8 362.8 450.9 361.2 454.7 360.5C458.6 359.8 462.8 359.4 468.3 359.1C473.8 358.7 484.5 358.5 487.7 358.4" stroke="url(#g_cr1_b7b)"/>
<path d="M370.9 386.7C371.3 386.4 372.3 385.5 373.6 384.8C374.8 384.0 377.0 382.8 378.3 382.3C379.7 381.8 379.8 381.7 381.6 381.9C383.5 382.1 387.2 383.3 389.6 383.7C392.1 384.0 394.2 384.1 396.4 384.1C398.7 384.1 400.6 383.9 402.9 383.6C405.2 383.3 407.7 383.0 410.1 382.3C412.4 381.6 414.6 380.7 416.9 379.6C419.1 378.4 421.3 376.6 423.7 375.5C426.0 374.3 429.8 373.2 431.0 372.7" stroke="url(#g_cr1_b8)"/>
<path d="M431.0 372.4C431.6 372.2 433.3 372.2 434.6 371.5C435.9 370.8 437.3 370.0 438.9 368.3C440.6 366.5 442.9 363.0 444.4 361.2C445.9 359.3 446.9 358.4 448.1 357.2C449.3 356.0 450.9 354.6 451.5 354.0" stroke="url(#g_cr1_b9)"/>
<path d="M342.3 308.8C343.1 308.9 345.3 309.0 347.0 309.6C348.7 310.1 350.4 310.8 352.5 311.9C354.5 312.9 357.0 314.5 359.3 316.0C361.5 317.5 363.8 319.0 366.1 320.7C368.4 322.5 370.3 324.5 372.9 326.5C375.5 328.5 380.2 331.8 381.6 332.8" stroke="url(#g_cr1_b10a_1)"/>
<path d="M448.4 332.8C449.9 331.8 454.6 328.5 457.2 326.5C459.8 324.5 461.8 322.5 464.1 320.7C466.3 319.0 468.5 317.5 470.7 316.0C473.0 314.5 475.5 312.9 477.5 311.9C479.6 310.8 481.3 310.1 483.0 309.6C484.7 309.0 486.9 308.9 487.7 308.8" stroke="url(#g_cr1_b10b_1)"/>
<path d="M342.3 321.4C343.1 321.5 345.2 321.5 346.9 321.8C348.6 322.2 350.4 322.8 352.5 323.5C354.5 324.2 357.0 325.1 359.3 326.0C361.5 326.9 363.8 327.9 366.1 328.9C368.4 330.0 370.6 331.4 372.9 332.3C375.2 333.3 378.2 334.2 379.7 334.7C381.2 335.1 380.1 334.9 381.6 335.1C383.2 335.2 386.7 335.5 389.2 335.7C391.7 336.0 394.1 336.0 396.4 336.6C398.8 337.2 401.0 338.6 403.3 339.3C405.5 340.0 407.4 340.4 410.1 340.7C412.7 341.0 415.4 341.0 418.9 341.0C422.4 341.1 426.2 341.0 431.0 340.9C435.9 340.9 443.3 341.2 447.9 340.7C452.5 340.2 455.9 339.3 458.8 337.9C461.8 336.6 463.5 334.3 465.6 332.5C467.7 330.7 469.5 328.6 471.5 327.1C473.5 325.6 475.6 324.4 477.5 323.5C479.4 322.6 481.3 322.2 483.0 321.8C484.7 321.5 486.9 321.5 487.7 321.4" stroke="url(#g_cr1_b11_1)"/>
<path d="M383.0 355.6C385.9 355.8 395.1 356.4 400.5 356.6C405.8 356.8 409.9 357.0 415.0 357.1C420.1 357.2 425.7 357.3 431.0 357.3C436.3 357.3 441.9 357.3 447.0 357.1C452.1 356.9 459.1 356.3 461.5 356.1" stroke="url(#g_cr1_b12)"/>
</g>
</g></g>
<line x1="381.64" x2="381.64" y1="288.70" y2="385.00" stroke="#111" stroke-opacity=".7" stroke-width=".6" shape-rendering="crispEdges"/>
<line x1="431.10" x2="431.10" y1="288.70" y2="385.00" stroke="#111" stroke-opacity=".7" stroke-width=".6" shape-rendering="crispEdges"/>
<line x1="342.30" x2="487.70" y1="336.85" y2="336.85" stroke="#666" stroke-opacity=".75" stroke-width="1" shape-rendering="crispEdges"/>
<rect x="342.30" y="288.70" width="145.40" height="96.30" fill="none" stroke="#888" stroke-opacity=".8" stroke-width=".6"/>
<text x="339.40" y="291.65" font-size="8.30" text-anchor="end">2</text>
<line x1="342.30" x2="344.30" y1="288.70" y2="288.70" stroke="#555" stroke-width=".5"/>
<text x="339.40" y="315.72" font-size="8.30" text-anchor="end">1</text>
<line x1="342.30" x2="344.30" y1="312.77" y2="312.77" stroke="#555" stroke-width=".5"/>
<text x="339.40" y="339.80" font-size="8.30" text-anchor="end">0</text>
<line x1="342.30" x2="344.30" y1="336.85" y2="336.85" stroke="#555" stroke-width=".5"/>
<text x="339.40" y="363.88" font-size="8.30" text-anchor="end">-1</text>
<line x1="342.30" x2="344.30" y1="360.93" y2="360.93" stroke="#555" stroke-width=".5"/>
<text x="339.40" y="387.95" font-size="8.30" text-anchor="end">-2</text>
<line x1="342.30" x2="344.30" y1="385.00" y2="385.00" stroke="#555" stroke-width=".5"/>
<line x1="342.30" x2="343.40" y1="380.19" y2="380.19" stroke="#777" stroke-opacity=".7" stroke-width=".4"/>
<line x1="342.30" x2="343.40" y1="375.37" y2="375.37" stroke="#777" stroke-opacity=".7" stroke-width=".4"/>
<line x1="342.30" x2="343.40" y1="370.56" y2="370.56" stroke="#777" stroke-opacity=".7" stroke-width=".4"/>
<line x1="342.30" x2="343.40" y1="365.74" y2="365.74" stroke="#777" stroke-opacity=".7" stroke-width=".4"/>
<line x1="342.30" x2="343.40" y1="360.93" y2="360.93" stroke="#777" stroke-opacity=".7" stroke-width=".4"/>
<line x1="342.30" x2="343.40" y1="356.11" y2="356.11" stroke="#777" stroke-opacity=".7" stroke-width=".4"/>
<line x1="342.30" x2="343.40" y1="351.29" y2="351.29" stroke="#777" stroke-opacity=".7" stroke-width=".4"/>
<line x1="342.30" x2="343.40" y1="346.48" y2="346.48" stroke="#777" stroke-opacity=".7" stroke-width=".4"/>
<line x1="342.30" x2="343.40" y1="341.67" y2="341.67" stroke="#777" stroke-opacity=".7" stroke-width=".4"/>
<line x1="342.30" x2="343.40" y1="336.85" y2="336.85" stroke="#777" stroke-opacity=".7" stroke-width=".4"/>
<line x1="342.30" x2="343.40" y1="332.03" y2="332.03" stroke="#777" stroke-opacity=".7" stroke-width=".4"/>
<line x1="342.30" x2="343.40" y1="327.22" y2="327.22" stroke="#777" stroke-opacity=".7" stroke-width=".4"/>
<line x1="342.30" x2="343.40" y1="322.40" y2="322.40" stroke="#777" stroke-opacity=".7" stroke-width=".4"/>
<line x1="342.30" x2="343.40" y1="317.59" y2="317.59" stroke="#777" stroke-opacity=".7" stroke-width=".4"/>
<line x1="342.30" x2="343.40" y1="312.77" y2="312.77" stroke="#777" stroke-opacity=".7" stroke-width=".4"/>
<line x1="342.30" x2="343.40" y1="307.96" y2="307.96" stroke="#777" stroke-opacity=".7" stroke-width=".4"/>
<line x1="342.30" x2="343.40" y1="303.14" y2="303.14" stroke="#777" stroke-opacity=".7" stroke-width=".4"/>
<line x1="342.30" x2="343.40" y1="298.33" y2="298.33" stroke="#777" stroke-opacity=".7" stroke-width=".4"/>
<line x1="342.30" x2="343.40" y1="293.51" y2="293.51" stroke="#777" stroke-opacity=".7" stroke-width=".4"/>
<text x="342.00" y="392.30" font-size="8.80" text-anchor="start" class="se">Γ</text>
<text x="381.64" y="392.30" font-size="9.20" text-anchor="middle">K</text>
<text x="431.10" y="392.30" font-size="9.20" text-anchor="middle">M</text>
<text x="486.70" y="392.30" font-size="8.80" text-anchor="middle" class="se">Γ</text>
<text transform="translate(329.10 337.05) rotate(-90)" font-size="7.30" text-anchor="middle">ω (eV)</text>
<text x="436.00" y="347.85" font-size="7.60" text-anchor="start" font-weight="bold">Cr'(3d)</text>
<rect x="558.20" y="277.70" width="103.7" height="7.2" fill="url(#cbh)"/>
<g clip-path="url(#cp_cr2)"><g filter="url(#cm_cr2)">
<rect x="516.30" y="268.70" width="185.40" height="136.30" fill="#090909"/>
<path d="M521.76 281.48L521.76 324.81L536.30 324.81L553.75 327.70L575.56 333.24L594.46 332.03L626.45 330.83L649.71 330.83L667.16 328.18L681.70 324.81L696.24 324.81L696.24 281.48Z" fill="#1f1f1f" fill-opacity="0.800" filter="url(#bf_cr2_0)"/>
<path d="M521.76 281.48L521.76 314.70L536.30 314.70L558.11 317.59L575.56 320.48L601.73 317.59L626.45 314.70L652.62 317.11L667.16 317.59L681.70 314.70L696.24 314.70L696.24 281.48Z" fill="#343434" fill-opacity="0.920" filter="url(#bf_cr2_1)"/>
<path d="M591.6 324.8C594.5 324.6 603.2 323.8 609.0 323.4C614.8 323.0 620.6 322.2 626.4 322.4C632.3 322.6 641.0 324.0 643.9 324.3" fill="none" stroke="#0d0d0d" stroke-opacity="0.500" stroke-width="5.30" filter="url(#bf_cr2_2)"/>
<path d="M540.7 318.1C542.8 318.4 549.1 319.0 553.7 320.0C558.4 321.0 565.9 323.6 568.3 324.3" fill="none" stroke="#0f0f0f" stroke-opacity="0.400" stroke-width="2.41" filter="url(#bf_cr2_3)"/>
<rect x="507.22" y="305.55" width="203.56" height="7.22" fill="#454545" fill-opacity="0.300" filter="url(#bf_cr2_4)"/>
<rect x="616.27" y="286.29" width="65.43" height="16.85" fill="#424242" fill-opacity="0.400" filter="url(#bf_cr2_5)"/>
<rect x="536.30" y="286.29" width="72.70" height="14.45" fill="#3b3b3b" fill-opacity="0.300" filter="url(#bf_cr2_6)"/>
<rect x="507.22" y="376.57" width="203.56" height="13.24" fill="#1f1f1f" fill-opacity="0.600" filter="url(#bf_cr2_7)"/>
<rect x="507.22" y="358.52" width="203.56" height="16.85" fill="#141414" fill-opacity="0.500" filter="url(#bf_cr2_8)"/>
<path d="M536.3 339.7C538.2 339.9 543.6 340.0 547.9 340.7C552.3 341.4 560.0 343.5 562.5 344.1" fill="none" stroke="#1a1a1a" stroke-opacity="0.500" stroke-width="2.89" filter="url(#bf_cr2_9)"/>
<path d="M681.7 339.7C679.8 339.9 674.4 340.0 670.1 340.7C665.7 341.4 658.0 343.5 655.5 344.1" fill="none" stroke="#1a1a1a" stroke-opacity="0.500" stroke-width="2.89" filter="url(#bf_cr2_10)"/>
<g fill="none" stroke-width="5.00" opacity="0.600" filter="url(#bl_cr2_0)" stroke-linecap="round">
<path d="M536.3 336.6C536.9 336.6 538.5 336.6 539.7 336.7C541.0 336.9 541.9 337.0 543.7 337.7C545.5 338.3 548.3 339.5 550.6 340.7C552.9 341.9 555.1 343.4 557.4 344.8C559.7 346.1 561.9 347.4 564.2 348.6C566.5 349.8 569.1 351.0 571.0 351.9C572.9 352.8 573.5 353.2 575.6 354.0C577.7 354.9 581.2 356.1 583.6 357.0C586.1 357.9 588.2 358.6 590.4 359.5C592.7 360.4 595.0 361.6 597.3 362.5C599.5 363.5 601.8 364.4 604.1 365.2C606.3 366.1 608.6 366.8 610.9 367.7C613.1 368.6 615.3 369.8 617.7 370.7C620.0 371.6 622.6 372.1 625.0 373.1C627.5 374.2 630.0 375.7 632.4 376.9C634.7 378.0 636.9 379.3 639.2 380.2C641.5 381.2 643.8 382.0 646.0 382.7C648.3 383.4 650.5 384.0 652.8 384.6C655.1 385.2 658.6 386.1 659.8 386.4" stroke="url(#g_cr2_b1)"/>
<path d="M575.6 354.0C576.5 353.3 579.1 350.8 580.9 349.5C582.7 348.2 584.3 346.9 586.4 346.1C588.4 345.3 591.2 344.6 593.2 344.8C595.2 344.9 596.8 345.7 598.6 346.8C600.4 348.0 602.0 350.0 604.1 351.6C606.1 353.2 608.6 355.0 610.9 356.3C613.1 357.7 615.3 358.8 617.7 359.5C620.0 360.2 622.6 360.5 625.0 360.5C627.5 360.4 630.0 360.0 632.4 359.1C634.7 358.2 636.9 356.5 639.2 355.0C641.5 353.5 643.8 351.7 646.0 350.2C648.3 348.7 650.6 347.5 652.8 346.1C655.1 344.8 657.4 343.2 659.6 342.0C661.9 340.8 664.2 339.8 666.4 339.0C668.7 338.2 671.3 337.5 673.2 337.1C675.2 336.7 676.7 336.8 678.1 336.7C679.5 336.6 681.1 336.6 681.7 336.6" stroke="url(#g_cr2_b2)"/>
<path d="M536.3 350.5C537.1 350.5 539.2 350.5 540.9 350.7C542.6 350.9 544.4 350.9 546.5 351.6C548.5 352.3 551.0 353.8 553.3 355.0C555.5 356.3 557.8 357.9 560.1 359.1C562.4 360.3 564.6 361.5 566.9 362.2C569.2 363.0 572.2 363.6 573.7 363.8C575.2 364.1 574.0 363.9 575.6 363.8C577.3 363.8 581.2 363.6 583.6 363.6C586.1 363.6 588.2 363.6 590.4 363.8C592.7 364.1 595.0 364.6 597.3 364.9C599.5 365.3 601.8 365.7 604.1 366.1C606.3 366.5 608.6 366.9 610.9 367.3C613.1 367.7 615.3 368.2 617.7 368.7C620.0 369.1 622.6 370.3 625.0 370.0C627.5 369.7 630.0 367.9 632.4 366.9C634.7 365.9 636.9 364.9 639.2 363.8C641.5 362.8 643.8 361.6 646.0 360.5C648.3 359.3 650.6 358.0 652.8 357.0C655.1 356.0 657.4 355.1 659.6 354.3C661.9 353.5 664.2 352.8 666.4 352.3C668.7 351.7 671.3 351.3 673.2 351.1C675.2 350.8 676.7 350.7 678.1 350.6C679.5 350.5 681.1 350.5 681.7 350.5" stroke="url(#g_cr2_b3)"/>
<path d="M536.3 350.5C537.1 350.6 539.2 350.6 540.9 351.0C542.6 351.3 544.4 351.8 546.5 352.7C548.5 353.6 551.0 355.0 553.3 356.3C555.5 357.6 557.8 359.0 560.1 360.5C562.4 361.9 564.9 363.9 566.9 365.2C568.9 366.5 570.9 367.6 572.3 368.3C573.8 368.9 573.8 368.8 575.6 368.9C577.5 369.1 581.2 369.1 583.6 369.1C586.1 369.0 588.2 368.6 590.4 368.7C592.7 368.7 595.0 369.2 597.3 369.6C599.5 370.0 601.8 370.5 604.1 371.0C606.3 371.4 608.6 371.7 610.9 372.0C613.1 372.3 615.3 372.6 617.7 372.7C620.0 372.9 622.6 373.2 625.0 373.1C627.5 373.1 630.0 372.8 632.4 372.4C634.7 372.0 636.9 371.7 639.2 370.7C641.5 369.8 643.8 368.1 646.0 366.7C648.3 365.2 650.6 363.6 652.8 362.1C655.1 360.5 657.4 358.7 659.6 357.3C661.9 355.9 664.2 354.5 666.4 353.5C668.7 352.5 671.3 351.8 673.2 351.3C675.2 350.8 676.7 350.8 678.1 350.7C679.5 350.5 681.1 350.5 681.7 350.5" stroke="url(#g_cr2_b4)"/>
<path d="M536.3 370.4C538.0 370.4 542.5 370.4 546.5 370.3C550.4 370.1 556.0 369.8 560.1 369.6C564.2 369.3 568.4 369.0 571.0 368.8C573.6 368.7 574.9 368.7 575.6 368.7" stroke="url(#g_cr2_b5a)"/>
<path d="M628.9 374.4C630.0 374.4 633.1 374.7 635.2 374.2C637.3 373.8 639.7 372.4 641.7 371.8C643.7 371.2 644.9 371.0 647.1 370.7C649.3 370.4 651.6 370.2 654.7 370.1C657.7 370.0 661.0 369.8 665.5 369.9C670.0 369.9 679.0 370.3 681.7 370.4" stroke="url(#g_cr2_b5b)"/>
<path d="M536.3 355.0C538.0 355.1 543.6 355.3 546.5 355.7C549.3 356.1 551.0 356.5 553.3 357.3C555.5 358.1 559.0 359.9 560.1 360.5" stroke="url(#g_cr2_b6a)"/>
<path d="M662.1 354.6C662.8 354.7 664.3 354.8 666.1 354.9C667.9 355.0 670.4 355.2 673.0 355.2C675.6 355.2 680.2 355.0 681.7 355.0" stroke="url(#g_cr2_b6b)"/>
<path d="M536.3 358.4C538.0 358.5 542.5 358.6 546.5 358.8C550.4 359.0 555.2 359.5 560.1 359.8C564.9 360.1 573.0 360.4 575.6 360.5" stroke="url(#g_cr2_b7a)"/>
<path d="M639.2 363.2C640.8 362.8 644.9 361.2 648.7 360.5C652.6 359.8 656.8 359.4 662.3 359.1C667.8 358.7 678.5 358.5 681.7 358.4" stroke="url(#g_cr2_b7b)"/>
<path d="M564.9 386.7C565.3 386.4 566.3 385.5 567.6 384.8C568.8 384.0 571.0 382.8 572.3 382.3C573.7 381.8 573.8 381.7 575.6 381.9C577.5 382.1 581.2 383.3 583.6 383.7C586.1 384.0 588.2 384.1 590.4 384.1C592.7 384.1 594.6 383.9 596.9 383.6C599.2 383.3 601.7 383.0 604.1 382.3C606.4 381.6 608.6 380.7 610.9 379.6C613.1 378.4 615.3 376.6 617.7 375.5C620.0 374.3 623.8 373.2 625.0 372.7" stroke="url(#g_cr2_b8)"/>
<path d="M625.0 372.4C625.6 372.2 627.3 372.2 628.6 371.5C629.9 370.8 631.3 370.0 632.9 368.3C634.6 366.5 636.9 363.0 638.4 361.2C639.9 359.3 640.9 358.4 642.1 357.2C643.3 356.0 644.9 354.6 645.5 354.0" stroke="url(#g_cr2_b9)"/>
<path d="M536.3 308.8C537.1 308.9 539.3 309.0 541.0 309.6C542.7 310.1 544.4 310.8 546.5 311.9C548.5 312.9 551.0 314.5 553.3 316.0C555.5 317.5 557.8 319.0 560.1 320.7C562.4 322.5 564.3 324.5 566.9 326.5C569.5 328.5 574.2 331.8 575.6 332.8" stroke="url(#g_cr2_b10a_0)"/>
<path d="M642.4 332.8C643.9 331.8 648.6 328.5 651.2 326.5C653.8 324.5 655.8 322.5 658.1 320.7C660.3 319.0 662.5 317.5 664.7 316.0C667.0 314.5 669.5 312.9 671.5 311.9C673.6 310.8 675.3 310.1 677.0 309.6C678.7 309.0 680.9 308.9 681.7 308.8" stroke="url(#g_cr2_b10b_0)"/>
<path d="M536.3 321.4C537.1 321.5 539.2 321.5 540.9 321.8C542.6 322.2 544.4 322.8 546.5 323.5C548.5 324.2 551.0 325.1 553.3 326.0C555.5 326.9 557.8 327.9 560.1 328.9C562.4 330.0 564.6 331.4 566.9 332.3C569.2 333.3 572.2 334.2 573.7 334.7C575.2 335.1 574.1 334.9 575.6 335.1C577.2 335.2 580.7 335.5 583.2 335.7C585.7 336.0 588.1 336.0 590.4 336.6C592.8 337.2 595.0 338.6 597.3 339.3C599.5 340.0 601.4 340.4 604.1 340.7C606.7 341.0 609.4 341.0 612.9 341.0C616.4 341.1 620.2 341.0 625.0 340.9C629.9 340.9 637.3 341.2 641.9 340.7C646.5 340.2 649.9 339.3 652.8 337.9C655.8 336.6 657.5 334.3 659.6 332.5C661.7 330.7 663.5 328.6 665.5 327.1C667.5 325.6 669.6 324.4 671.5 323.5C673.4 322.6 675.3 322.2 677.0 321.8C678.7 321.5 680.9 321.5 681.7 321.4" stroke="url(#g_cr2_b11_0)"/>
<path d="M577.0 355.6C579.9 355.8 589.1 356.4 594.5 356.6C599.8 356.8 603.9 357.0 609.0 357.1C614.1 357.2 619.7 357.3 625.0 357.3C630.3 357.3 635.9 357.3 641.0 357.1C646.1 356.9 653.1 356.3 655.5 356.1" stroke="url(#g_cr2_b12)"/>
</g>
<g fill="none" stroke-width="2.00" opacity="1.000" filter="url(#bl_cr2_1)" stroke-linecap="round">
<path d="M536.3 336.6C536.9 336.6 538.5 336.6 539.7 336.7C541.0 336.9 541.9 337.0 543.7 337.7C545.5 338.3 548.3 339.5 550.6 340.7C552.9 341.9 555.1 343.4 557.4 344.8C559.7 346.1 561.9 347.4 564.2 348.6C566.5 349.8 569.1 351.0 571.0 351.9C572.9 352.8 573.5 353.2 575.6 354.0C577.7 354.9 581.2 356.1 583.6 357.0C586.1 357.9 588.2 358.6 590.4 359.5C592.7 360.4 595.0 361.6 597.3 362.5C599.5 363.5 601.8 364.4 604.1 365.2C606.3 366.1 608.6 366.8 610.9 367.7C613.1 368.6 615.3 369.8 617.7 370.7C620.0 371.6 622.6 372.1 625.0 373.1C627.5 374.2 630.0 375.7 632.4 376.9C634.7 378.0 636.9 379.3 639.2 380.2C641.5 381.2 643.8 382.0 646.0 382.7C648.3 383.4 650.5 384.0 652.8 384.6C655.1 385.2 658.6 386.1 659.8 386.4" stroke="url(#g_cr2_b1)"/>
<path d="M575.6 354.0C576.5 353.3 579.1 350.8 580.9 349.5C582.7 348.2 584.3 346.9 586.4 346.1C588.4 345.3 591.2 344.6 593.2 344.8C595.2 344.9 596.8 345.7 598.6 346.8C600.4 348.0 602.0 350.0 604.1 351.6C606.1 353.2 608.6 355.0 610.9 356.3C613.1 357.7 615.3 358.8 617.7 359.5C620.0 360.2 622.6 360.5 625.0 360.5C627.5 360.4 630.0 360.0 632.4 359.1C634.7 358.2 636.9 356.5 639.2 355.0C641.5 353.5 643.8 351.7 646.0 350.2C648.3 348.7 650.6 347.5 652.8 346.1C655.1 344.8 657.4 343.2 659.6 342.0C661.9 340.8 664.2 339.8 666.4 339.0C668.7 338.2 671.3 337.5 673.2 337.1C675.2 336.7 676.7 336.8 678.1 336.7C679.5 336.6 681.1 336.6 681.7 336.6" stroke="url(#g_cr2_b2)"/>
<path d="M536.3 350.5C537.1 350.5 539.2 350.5 540.9 350.7C542.6 350.9 544.4 350.9 546.5 351.6C548.5 352.3 551.0 353.8 553.3 355.0C555.5 356.3 557.8 357.9 560.1 359.1C562.4 360.3 564.6 361.5 566.9 362.2C569.2 363.0 572.2 363.6 573.7 363.8C575.2 364.1 574.0 363.9 575.6 363.8C577.3 363.8 581.2 363.6 583.6 363.6C586.1 363.6 588.2 363.6 590.4 363.8C592.7 364.1 595.0 364.6 597.3 364.9C599.5 365.3 601.8 365.7 604.1 366.1C606.3 366.5 608.6 366.9 610.9 367.3C613.1 367.7 615.3 368.2 617.7 368.7C620.0 369.1 622.6 370.3 625.0 370.0C627.5 369.7 630.0 367.9 632.4 366.9C634.7 365.9 636.9 364.9 639.2 363.8C641.5 362.8 643.8 361.6 646.0 360.5C648.3 359.3 650.6 358.0 652.8 357.0C655.1 356.0 657.4 355.1 659.6 354.3C661.9 353.5 664.2 352.8 666.4 352.3C668.7 351.7 671.3 351.3 673.2 351.1C675.2 350.8 676.7 350.7 678.1 350.6C679.5 350.5 681.1 350.5 681.7 350.5" stroke="url(#g_cr2_b3)"/>
<path d="M536.3 350.5C537.1 350.6 539.2 350.6 540.9 351.0C542.6 351.3 544.4 351.8 546.5 352.7C548.5 353.6 551.0 355.0 553.3 356.3C555.5 357.6 557.8 359.0 560.1 360.5C562.4 361.9 564.9 363.9 566.9 365.2C568.9 366.5 570.9 367.6 572.3 368.3C573.8 368.9 573.8 368.8 575.6 368.9C577.5 369.1 581.2 369.1 583.6 369.1C586.1 369.0 588.2 368.6 590.4 368.7C592.7 368.7 595.0 369.2 597.3 369.6C599.5 370.0 601.8 370.5 604.1 371.0C606.3 371.4 608.6 371.7 610.9 372.0C613.1 372.3 615.3 372.6 617.7 372.7C620.0 372.9 622.6 373.2 625.0 373.1C627.5 373.1 630.0 372.8 632.4 372.4C634.7 372.0 636.9 371.7 639.2 370.7C641.5 369.8 643.8 368.1 646.0 366.7C648.3 365.2 650.6 363.6 652.8 362.1C655.1 360.5 657.4 358.7 659.6 357.3C661.9 355.9 664.2 354.5 666.4 353.5C668.7 352.5 671.3 351.8 673.2 351.3C675.2 350.8 676.7 350.8 678.1 350.7C679.5 350.5 681.1 350.5 681.7 350.5" stroke="url(#g_cr2_b4)"/>
<path d="M536.3 370.4C538.0 370.4 542.5 370.4 546.5 370.3C550.4 370.1 556.0 369.8 560.1 369.6C564.2 369.3 568.4 369.0 571.0 368.8C573.6 368.7 574.9 368.7 575.6 368.7" stroke="url(#g_cr2_b5a)"/>
<path d="M628.9 374.4C630.0 374.4 633.1 374.7 635.2 374.2C637.3 373.8 639.7 372.4 641.7 371.8C643.7 371.2 644.9 371.0 647.1 370.7C649.3 370.4 651.6 370.2 654.7 370.1C657.7 370.0 661.0 369.8 665.5 369.9C670.0 369.9 679.0 370.3 681.7 370.4" stroke="url(#g_cr2_b5b)"/>
<path d="M536.3 355.0C538.0 355.1 543.6 355.3 546.5 355.7C549.3 356.1 551.0 356.5 553.3 357.3C555.5 358.1 559.0 359.9 560.1 360.5" stroke="url(#g_cr2_b6a)"/>
<path d="M662.1 354.6C662.8 354.7 664.3 354.8 666.1 354.9C667.9 355.0 670.4 355.2 673.0 355.2C675.6 355.2 680.2 355.0 681.7 355.0" stroke="url(#g_cr2_b6b)"/>
<path d="M536.3 358.4C538.0 358.5 542.5 358.6 546.5 358.8C550.4 359.0 555.2 359.5 560.1 359.8C564.9 360.1 573.0 360.4 575.6 360.5" stroke="url(#g_cr2_b7a)"/>
<path d="M639.2 363.2C640.8 362.8 644.9 361.2 648.7 360.5C652.6 359.8 656.8 359.4 662.3 359.1C667.8 358.7 678.5 358.5 681.7 358.4" stroke="url(#g_cr2_b7b)"/>
<path d="M564.9 386.7C565.3 386.4 566.3 385.5 567.6 384.8C568.8 384.0 571.0 382.8 572.3 382.3C573.7 381.8 573.8 381.7 575.6 381.9C577.5 382.1 581.2 383.3 583.6 383.7C586.1 384.0 588.2 384.1 590.4 384.1C592.7 384.1 594.6 383.9 596.9 383.6C599.2 383.3 601.7 383.0 604.1 382.3C606.4 381.6 608.6 380.7 610.9 379.6C613.1 378.4 615.3 376.6 617.7 375.5C620.0 374.3 623.8 373.2 625.0 372.7" stroke="url(#g_cr2_b8)"/>
<path d="M625.0 372.4C625.6 372.2 627.3 372.2 628.6 371.5C629.9 370.8 631.3 370.0 632.9 368.3C634.6 366.5 636.9 363.0 638.4 361.2C639.9 359.3 640.9 358.4 642.1 357.2C643.3 356.0 644.9 354.6 645.5 354.0" stroke="url(#g_cr2_b9)"/>
<path d="M536.3 308.8C537.1 308.9 539.3 309.0 541.0 309.6C542.7 310.1 544.4 310.8 546.5 311.9C548.5 312.9 551.0 314.5 553.3 316.0C555.5 317.5 557.8 319.0 560.1 320.7C562.4 322.5 564.3 324.5 566.9 326.5C569.5 328.5 574.2 331.8 575.6 332.8" stroke="url(#g_cr2_b10a_1)"/>
<path d="M642.4 332.8C643.9 331.8 648.6 328.5 651.2 326.5C653.8 324.5 655.8 322.5 658.1 320.7C660.3 319.0 662.5 317.5 664.7 316.0C667.0 314.5 669.5 312.9 671.5 311.9C673.6 310.8 675.3 310.1 677.0 309.6C678.7 309.0 680.9 308.9 681.7 308.8" stroke="url(#g_cr2_b10b_1)"/>
<path d="M536.3 321.4C537.1 321.5 539.2 321.5 540.9 321.8C542.6 322.2 544.4 322.8 546.5 323.5C548.5 324.2 551.0 325.1 553.3 326.0C555.5 326.9 557.8 327.9 560.1 328.9C562.4 330.0 564.6 331.4 566.9 332.3C569.2 333.3 572.2 334.2 573.7 334.7C575.2 335.1 574.1 334.9 575.6 335.1C577.2 335.2 580.7 335.5 583.2 335.7C585.7 336.0 588.1 336.0 590.4 336.6C592.8 337.2 595.0 338.6 597.3 339.3C599.5 340.0 601.4 340.4 604.1 340.7C606.7 341.0 609.4 341.0 612.9 341.0C616.4 341.1 620.2 341.0 625.0 340.9C629.9 340.9 637.3 341.2 641.9 340.7C646.5 340.2 649.9 339.3 652.8 337.9C655.8 336.6 657.5 334.3 659.6 332.5C661.7 330.7 663.5 328.6 665.5 327.1C667.5 325.6 669.6 324.4 671.5 323.5C673.4 322.6 675.3 322.2 677.0 321.8C678.7 321.5 680.9 321.5 681.7 321.4" stroke="url(#g_cr2_b11_1)"/>
<path d="M577.0 355.6C579.9 355.8 589.1 356.4 594.5 356.6C599.8 356.8 603.9 357.0 609.0 357.1C614.1 357.2 619.7 357.3 625.0 357.3C630.3 357.3 635.9 357.3 641.0 357.1C646.1 356.9 653.1 356.3 655.5 356.1" stroke="url(#g_cr2_b12)"/>
</g>
</g></g>
<line x1="575.64" x2="575.64" y1="288.70" y2="385.00" stroke="#111" stroke-opacity=".7" stroke-width=".6" shape-rendering="crispEdges"/>
<line x1="625.10" x2="625.10" y1="288.70" y2="385.00" stroke="#111" stroke-opacity=".7" stroke-width=".6" shape-rendering="crispEdges"/>
<line x1="536.30" x2="681.70" y1="336.85" y2="336.85" stroke="#666" stroke-opacity=".75" stroke-width="1" shape-rendering="crispEdges"/>
<rect x="536.30" y="288.70" width="145.40" height="96.30" fill="none" stroke="#888" stroke-opacity=".8" stroke-width=".6"/>
<text x="533.40" y="291.65" font-size="8.30" text-anchor="end">2</text>
<line x1="536.30" x2="538.30" y1="288.70" y2="288.70" stroke="#555" stroke-width=".5"/>
<text x="533.40" y="315.72" font-size="8.30" text-anchor="end">1</text>
<line x1="536.30" x2="538.30" y1="312.77" y2="312.77" stroke="#555" stroke-width=".5"/>
<text x="533.40" y="339.80" font-size="8.30" text-anchor="end">0</text>
<line x1="536.30" x2="538.30" y1="336.85" y2="336.85" stroke="#555" stroke-width=".5"/>
<text x="533.40" y="363.88" font-size="8.30" text-anchor="end">-1</text>
<line x1="536.30" x2="538.30" y1="360.93" y2="360.93" stroke="#555" stroke-width=".5"/>
<text x="533.40" y="387.95" font-size="8.30" text-anchor="end">-2</text>
<line x1="536.30" x2="538.30" y1="385.00" y2="385.00" stroke="#555" stroke-width=".5"/>
<line x1="536.30" x2="537.40" y1="380.19" y2="380.19" stroke="#777" stroke-opacity=".7" stroke-width=".4"/>
<line x1="536.30" x2="537.40" y1="375.37" y2="375.37" stroke="#777" stroke-opacity=".7" stroke-width=".4"/>
<line x1="536.30" x2="537.40" y1="370.56" y2="370.56" stroke="#777" stroke-opacity=".7" stroke-width=".4"/>
<line x1="536.30" x2="537.40" y1="365.74" y2="365.74" stroke="#777" stroke-opacity=".7" stroke-width=".4"/>
<line x1="536.30" x2="537.40" y1="360.93" y2="360.93" stroke="#777" stroke-opacity=".7" stroke-width=".4"/>
<line x1="536.30" x2="537.40" y1="356.11" y2="356.11" stroke="#777" stroke-opacity=".7" stroke-width=".4"/>
<line x1="536.30" x2="537.40" y1="351.29" y2="351.29" stroke="#777" stroke-opacity=".7" stroke-width=".4"/>
<line x1="536.30" x2="537.40" y1="346.48" y2="346.48" stroke="#777" stroke-opacity=".7" stroke-width=".4"/>
<line x1="536.30" x2="537.40" y1="341.67" y2="341.67" stroke="#777" stroke-opacity=".7" stroke-width=".4"/>
<line x1="536.30" x2="537.40" y1="336.85" y2="336.85" stroke="#777" stroke-opacity=".7" stroke-width=".4"/>
<line x1="536.30" x2="537.40" y1="332.03" y2="332.03" stroke="#777" stroke-opacity=".7" stroke-width=".4"/>
<line x1="536.30" x2="537.40" y1="327.22" y2="327.22" stroke="#777" stroke-opacity=".7" stroke-width=".4"/>
<line x1="536.30" x2="537.40" y1="322.40" y2="322.40" stroke="#777" stroke-opacity=".7" stroke-width=".4"/>
<line x1="536.30" x2="537.40" y1="317.59" y2="317.59" stroke="#777" stroke-opacity=".7" stroke-width=".4"/>
<line x1="536.30" x2="537.40" y1="312.77" y2="312.77" stroke="#777" stroke-opacity=".7" stroke-width=".4"/>
<line x1="536.30" x2="537.40" y1="307.96" y2="307.96" stroke="#777" stroke-opacity=".7" stroke-width=".4"/>
<line x1="536.30" x2="537.40" y1="303.14" y2="303.14" stroke="#777" stroke-opacity=".7" stroke-width=".4"/>
<line x1="536.30" x2="537.40" y1="298.33" y2="298.33" stroke="#777" stroke-opacity=".7" stroke-width=".4"/>
<line x1="536.30" x2="537.40" y1="293.51" y2="293.51" stroke="#777" stroke-opacity=".7" stroke-width=".4"/>
<text x="536.00" y="392.30" font-size="8.80" text-anchor="start" class="se">Γ</text>
<text x="575.64" y="392.30" font-size="9.20" text-anchor="middle">K</text>
<text x="625.10" y="392.30" font-size="9.20" text-anchor="middle">M</text>
<text x="680.70" y="392.30" font-size="8.80" text-anchor="middle" class="se">Γ</text>
<text transform="translate(523.10 337.05) rotate(-90)" font-size="7.30" text-anchor="middle">ω (eV)</text>
<text x="629.00" y="347.85" font-size="7.60" text-anchor="start" font-weight="bold">Cr''(3d)</text>
</svg>
</body></html>
